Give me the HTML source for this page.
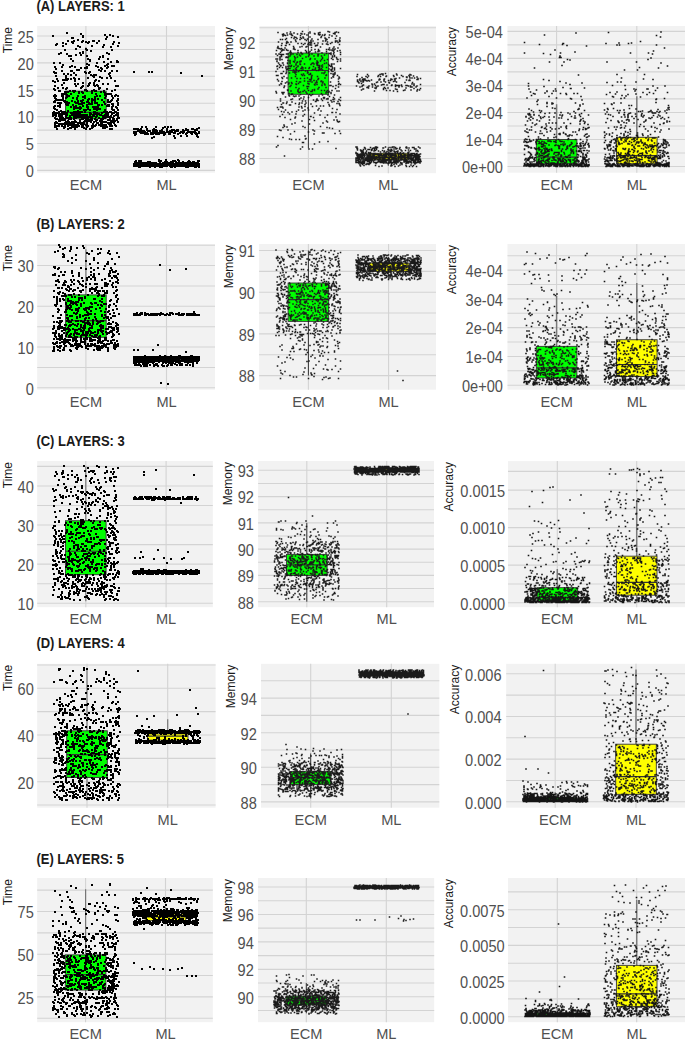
<!DOCTYPE html>
<html><head><meta charset="utf-8"><style>
html,body{margin:0;padding:0;background:#fff;width:685px;height:1041px;overflow:hidden}
svg{display:block}
.tk{font-family:"Liberation Sans",sans-serif;font-size:14.6px;fill:#505050}
.yt{font-family:"Liberation Sans",sans-serif;font-size:12px;fill:#1a1a1a}
.ti{font-family:"Liberation Sans",sans-serif;font-size:13px;font-weight:bold;fill:#1a1a1a}
</style></head><body>
<svg width="685" height="1041" viewBox="0 0 685 1041">
<rect width="685" height="1041" fill="#fff"/>
<rect x="37.2" y="26" width="177.8" height="146.7" fill="#F2F2F2"/>
<path d="M37.2 170.40H215M37.2 156.96H215M37.2 143.52H215M37.2 130.08H215M37.2 116.64H215M37.2 103.20H215M37.2 89.76H215M37.2 76.32H215M37.2 62.88H215M37.2 49.44H215M37.2 36.00H215M85.90 26V172.7M166.50 26V172.7" stroke="#D3D3D3" stroke-width="1.1" fill="none"/>
<clipPath id="c0"><rect x="37.2" y="26" width="177.8" height="146.7"/></clipPath>
<g clip-path="url(#c0)">
<path d="M85.90 91.10V47.29M85.90 118.79V127.93" stroke="#777" stroke-width="1.2" fill="none"/>
<rect x="65.60" y="91.10" width="40.60" height="27.69" fill="#00FF00" stroke="#333" stroke-width="0.9"/>
<path d="M65.60 112.34H106.20" stroke="#333" stroke-width="1.2"/>
<path d="M166.50 163.41V161.80M166.50 165.29V166.64" stroke="#777" stroke-width="1.2" fill="none"/>
<rect x="146.20" y="163.41" width="40.60" height="1.88" fill="#FFFF00" stroke="#333" stroke-width="0.9"/>
<path d="M146.20 164.49H186.80" stroke="#333" stroke-width="1.2"/>
<path d="M67 33h0m14 1h0m24 1h0m5 0h0m-57 1h0m30 0h0m30 0h0m-30 1h0m24 0h0m11 0h0m-46 1h0m1 0h0m33 1h0m-28 1h0m-10 1h0m6 0h0m9 0h0m10 0h0m1 0h0m5 0h0m-27 1h0m10 0h0m0 0h0m4 0h0m3 0h0m25 0h0m-51 1h0m10 0h0m15 0h0m9 0h0m22 0h0m-62 1h0m9 0h0m47 0h0m-57 1h0m48 0h0m-41 1h0m15 0h0m14 0h0m26 0h0m-38 1h0m23 0h0m8 0h0m-35 2h0m0 0h0m10 0h0m-21 1h0m22 0h0m25 0h0m-21 1h0m-8 1h0m-22 1h0m19 0h0m3 0h0m24 0h0m-48 1h0m8 0h0m42 0h0m-33 1h0m5 0h0m-12 1h0m2 0h0m16 0h0m16 0h0m-3 1h0m3 0h0m-32 2h0m17 0h0m11 0h0m9 0h0m-18 1h0m-17 1h0m17 0h0m27 0h0m-13 1h0m7 0h0m6 0h0m1 0h0m-64 1h0m6 0h0m37 0h0m-10 1h0m21 0h0m-45 1h0m26 0h0m0 0h0m18 0h0m-35 1h0m24 0h0m9 0h0m7 0h0m1 0h0m1 0h0m-59 1h0m7 0h0m8 0h0m5 0h0m12 0h0m11 0h0m0 0h0m10 0h0m-27 1h0m4 0h0m2 0h0m14 0h0m6 0h0m-51 1h0m46 0h0m-25 1h0m2 0h0m20 0h0m-37 1h0m9 0h0m1 0h0m29 0h0m4 0h0m7 0h0m5 0h0m-63 1h0m31 0h0m5 0h0m-35 1h0m1 0h0m18 0h0m12 0h0m3 0h0m21 0h0m-46 1h0m4 0h0m41 0h0m-38 1h0m5 0h0m15 0h0m3 0h0m2 0h0m-40 1h0m0 0h0m10 0h0m27 0h0m17 0h0m-16 1h0m6 0h0m-34 1h0m8 0h0m14 0h0m14 0h0m5 0h0m4 0h0m-54 1h0m11 0h0m3 0h0m4 0h0m4 0h0m-16 1h0m1 0h0m1 0h0m2 0h0m29 0h0m-43 1h0m5 0h0m17 0h0m20 0h0m4 0h0m16 0h0m-60 1h0m9 1h0m19 0h0m7 0h0m4 0h0m-19 1h0m3 0h0m11 0h0m14 0h0m5 0h0m-46 1h0m27 0h0m5 0h0m3 0h0m-42 1h0m21 0h0m7 0h0m5 0h0m7 0h0m3 0h0m18 0h0m2 0h0m-36 1h0m-24 1h0m5 0h0m4 0h0m14 0h0m18 0h0m1 0h0m-46 1h0m12 0h0m33 0h0m8 0h0m-52 1h0m30 0h0m1 0h0m8 0h0m21 0h0m0 0h0m-56 1h0m1 0h0m10 0h0m3 0h0m2 0h0m12 0h0m5 0h0m3 0h0m1 0h0m8 0h0m8 0h0m-47 1h0m2 0h0m1 0h0m6 0h0m5 0h0m3 0h0m10 0h0m9 0h0m3 0h0m-25 1h0m4 0h0m9 0h0m13 0h0m-43 1h0m1 0h0m1 0h0m0 0h0m2 0h0m5 0h0m25 0h0m10 0h0m2 0h0m2 0h0m1 0h0m-56 1h0m12 0h0m38 0h0m11 0h0m-62 1h0m2 0h0m6 0h0m1 0h0m6 0h0m9 0h0m7 0h0m12 0h0m3 0h0m6 0h0m6 0h0m3 0h0m3 0h0m-55 1h0m4 0h0m16 0h0m12 0h0m-40 1h0m11 0h0m7 0h0m4 0h0m8 0h0m20 0h0m8 0h0m-57 1h0m7 0h0m14 0h0m12 0h0m3 0h0m3 0h0m3 0h0m20 0h0m-62 1h0m2 0h0m2 0h0m2 0h0m21 0h0m5 0h0m4 0h0m1 0h0m9 0h0m6 0h0m4 0h0m6 0h0m-63 1h0m9 0h0m1 0h0m0 0h0m7 0h0m6 0h0m3 0h0m0 0h0m7 0h0m7 0h0m13 0h0m3 0h0m6 0h0m0 0h0m-63 1h0m0 0h0m0 0h0m1 0h0m10 0h0m2 0h0m8 0h0m7 0h0m5 0h0m5 0h0m12 0h0m4 0h0m2 0h0m-52 1h0m1 0h0m2 0h0m7 0h0m1 0h0m7 0h0m2 0h0m5 0h0m1 0h0m5 0h0m6 0h0m2 0h0m21 0h0m-52 1h0m13 0h0m1 0h0m2 0h0m7 0h0m2 0h0m1 0h0m13 0h0m7 0h0m1 0h0m-53 1h0m7 0h0m1 0h0m5 0h0m14 0h0m11 0h0m1 0h0m3 0h0m6 0h0m1 0h0m9 0h0m-63 1h0m0 0h0m3 0h0m1 0h0m17 0h0m7 0h0m24 0h0m1 0h0m1 0h0m4 0h0m-59 1h0m6 0h0m0 0h0m11 0h0m3 0h0m1 0h0m5 0h0m7 0h0m1 0h0m5 0h0m2 0h0m1 0h0m2 0h0m14 0h0m4 0h0m-62 1h0m22 0h0m1 0h0m2 0h0m2 0h0m36 0h0m-62 1h0m19 0h0m6 0h0m8 0h0m6 0h0m2 0h0m2 0h0m2 0h0m12 0h0m-55 1h0m27 0h0m2 0h0m4 0h0m7 0h0m8 0h0m8 0h0m1 0h0m4 0h0m-57 1h0m7 0h0m10 0h0m0 0h0m27 0h0m-51 1h0m5 0h0m0 0h0m3 0h0m1 0h0m2 0h0m9 0h0m0 0h0m2 0h0m4 0h0m2 0h0m3 0h0m9 0h0m1 0h0m9 0h0m2 0h0m1 0h0m0 0h0m3 0h0m1 0h0m4 0h0m0 0h0m1 0h0m-63 1h0m1 0h0m1 0h0m1 0h0m2 0h0m4 0h0m4 0h0m1 0h0m4 0h0m0 0h0m2 0h0m5 0h0m0 0h0m2 0h0m10 0h0m4 0h0m3 0h0m0 0h0m0 0h0m5 0h0m0 0h0m5 0h0m1 0h0m5 0h0m1 0h0m3 0h0m0 0h0m0 0h0m1 0h0m-63 1h0m1 0h0m0 0h0m3 0h0m2 0h0m2 0h0m1 0h0m10 0h0m2 0h0m2 0h0m1 0h0m0 0h0m1 0h0m10 0h0m0 0h0m1 0h0m4 0h0m0 0h0m0 0h0m2 0h0m2 0h0m7 0h0m1 0h0m1 0h0m0 0h0m4 0h0m0 0h0m-59 1h0m1 0h0m5 0h0m0 0h0m3 0h0m4 0h0m1 0h0m5 0h0m1 0h0m2 0h0m1 0h0m2 0h0m0 0h0m2 0h0m2 0h0m2 0h0m2 0h0m1 0h0m0 0h0m3 0h0m0 0h0m3 0h0m0 0h0m4 0h0m3 0h0m1 0h0m4 0h0m1 0h0m2 0h0m8 0h0m2 0h0m0 0h0m-65 1h0m3 0h0m3 0h0m1 0h0m0 0h0m0 0h0m10 0h0m4 0h0m0 0h0m0 0h0m2 0h0m0 0h0m1 0h0m0 0h0m4 0h0m5 0h0m4 0h0m3 0h0m0 0h0m1 0h0m0 0h0m3 0h0m0 0h0m6 0h0m1 0h0m1 0h0m1 0h0m2 0h0m0 0h0m3 0h0m3 0h0m4 0h0m0 0h0m-57 1h0m1 0h0m4 0h0m8 0h0m2 0h0m2 0h0m0 0h0m0 0h0m2 0h0m2 0h0m1 0h0m0 0h0m1 0h0m1 0h0m3 0h0m2 0h0m1 0h0m5 0h0m8 0h0m2 0h0m2 0h0m2 0h0m1 0h0m0 0h0m7 0h0m0 0h0m-63 1h0m5 0h0m1 0h0m2 0h0m3 0h0m1 0h0m2 0h0m2 0h0m0 0h0m3 0h0m1 0h0m1 0h0m8 0h0m1 0h0m2 0h0m5 0h0m7 0h0m4 0h0m0 0h0m2 0h0m5 0h0m3 0h0m0 0h0m6 0h0m-63 1h0m1 0h0m0 0h0m7 0h0m5 0h0m2 0h0m3 0h0m8 0h0m1 0h0m0 0h0m0 0h0m3 0h0m0 0h0m1 0h0m1 0h0m3 0h0m4 0h0m6 0h0m1 0h0m0 0h0m1 0h0m7 0h0m0 0h0m3 0h0m1 0h0m3 0h0m0 0h0m-58 1h0m1 0h0m2 0h0m2 0h0m1 0h0m15 0h0m0 0h0m7 0h0m2 0h0m0 0h0m3 0h0m4 0h0m1 0h0m4 0h0m7 0h0m1 0h0m4 0h0m4 0h0m-58 1h0m1 0h0m0 0h0m8 0h0m7 0h0m10 0h0m3 0h0m1 0h0m1 0h0m6 0h0m4 0h0m1 0h0m1 0h0m9 0h0m3 0h0m1 0h0m-59 1h0m10 0h0m3 0h0m3 0h0m2 0h0m2 0h0m4 0h0m0 0h0m4 0h0m3 0h0m4 0h0m3 0h0m9 0h0m1 0h0m1 0h0m1 0h0m6 0h0m0 0h0m2 0h0m4 0h0m-63 1h0m2 0h0m0 0h0m8 0h0m2 0h0m2 0h0m2 0h0m1 0h0m0 0h0m6 0h0m2 0h0m1 0h0m2 0h0m14 0h0m1 0h0m3 0h0m7 0h0m0 0h0m0 0h0m1 0h0m1 0h0m4 0h0m0 0h0m-55 1h0m1 0h0m2 0h0m0 0h0m1 0h0m1 0h0m0 0h0m3 0h0m1 0h0m3 0h0m3 0h0m4 0h0m3 0h0m1 0h0m2 0h0m0 0h0m3 0h0m6 0h0m9 0h0m7 0h0m2 0h0m-56 1h0m10 0h0m3 0h0m1 0h0m2 0h0m1 0h0m0 0h0m1 0h0m2 0h0m2 0h0m5 0h0m4 0h0m1 0h0m9 0h0m3 0h0m1 0h0m2 0h0m2 0h0m2 0h0m0 0h0m9 0h0m-58 1h0m0 0h0m1 0h0m1 0h0m0 0h0m3 0h0m6 0h0m4 0h0m1 0h0m0 0h0m3 0h0m1 0h0m2 0h0m4 0h0m5 0h0m4 0h0m1 0h0m1 0h0m1 0h0m6 0h0m1 0h0m3 0h0m5 0h0m1 0h0m1 0h0m0 0h0m4 0h0m-61 1h0m1 0h0m8 0h0m1 0h0m0 0h0m8 0h0m2 0h0m0 0h0m2 0h0m5 0h0m0 0h0m5 0h0m6 0h0m0 0h0m10 0h0m3 0h0m1 0h0m-43 1h0m6 0h0m1 0h0m4 0h0m9 0h0m8 0h0m11 0h0m2 0h0m-48 1h0m11 0h0m7 0h0m11 0h0m4 0h0m20 0h0m2 0h0" stroke="#000" stroke-width="2.0" stroke-linecap="square" fill="none"/>
<path d="M134 72h0m15 0h0m3 0h0m29 1h0m21 3h0m-60 51h0m4 0h0m10 0h0m9 0h0m3 0h0m3 0h0m0 0h0m-8 1h0m36 0h0m-65 1h0m0 0h0m2 0h0m2 0h0m3 0h0m6 0h0m7 0h0m13 0h0m19 0h0m0 0h0m6 0h0m1 0h0m4 0h0m0 0h0m-58 1h0m1 0h0m7 0h0m6 0h0m3 0h0m6 0h0m5 0h0m5 0h0m2 0h0m3 0h0m1 0h0m5 0h0m0 0h0m3 0h0m2 0h0m0 0h0m7 0h0m2 0h0m-59 1h0m0 0h0m4 0h0m1 0h0m1 0h0m4 0h0m0 0h0m1 0h0m0 0h0m1 0h0m3 0h0m0 0h0m1 0h0m3 0h0m3 0h0m1 0h0m9 0h0m2 0h0m0 0h0m3 0h0m2 0h0m1 0h0m0 0h0m0 0h0m5 0h0m1 0h0m11 0h0m0 0h0m-61 1h0m2 0h0m4 0h0m0 0h0m2 0h0m3 0h0m9 0h0m1 0h0m8 0h0m1 0h0m3 0h0m2 0h0m2 0h0m0 0h0m1 0h0m3 0h0m6 0h0m1 0h0m2 0h0m4 0h0m1 0h0m1 0h0m2 0h0m1 0h0m0 0h0m1 0h0m5 0h0m-65 1h0m2 0h0m5 0h0m2 0h0m0 0h0m2 0h0m0 0h0m2 0h0m4 0h0m2 0h0m1 0h0m3 0h0m1 0h0m2 0h0m1 0h0m1 0h0m1 0h0m2 0h0m4 0h0m5 0h0m1 0h0m5 0h0m3 0h0m4 0h0m0 0h0m4 0h0m4 0h0m0 0h0m1 0h0m3 0h0m-63 1h0m9 0h0m1 0h0m2 0h0m3 0h0m2 0h0m3 0h0m1 0h0m1 0h0m1 0h0m6 0h0m4 0h0m1 0h0m0 0h0m8 0h0m8 0h0m6 0h0m0 0h0m4 0h0m1 0h0m0 0h0m-62 1h0m29 0h0m10 1h0m7 0h0m6 0h0m10 0h0m-43 1h0m44 0h0m-46 1h0m23 0h0m0 0h0m-16 22h0m7 0h0m0 0h0m12 0h0m-42 1h0m3 0h0m2 0h0m18 0h0m1 0h0m0 0h0m1 0h0m5 0h0m7 0h0m2 0h0m4 0h0m10 0h0m9 0h0m1 0h0m-64 1h0m13 0h0m2 0h0m15 0h0m2 0h0m4 0h0m0 0h0m5 0h0m7 0h0m5 0h0m2 0h0m3 0h0m1 0h0m4 0h0m-63 1h0m1 0h0m1 0h0m1 0h0m1 0h0m1 0h0m1 0h0m0 0h0m0 0h0m1 0h0m0 0h0m1 0h0m0 0h0m0 0h0m1 0h0m0 0h0m0 0h0m0 0h0m1 0h0m0 0h0m1 0h0m0 0h0m3 0h0m0 0h0m1 0h0m0 0h0m1 0h0m1 0h0m0 0h0m1 0h0m0 0h0m1 0h0m1 0h0m0 0h0m1 0h0m4 0h0m0 0h0m0 0h0m3 0h0m0 0h0m0 0h0m1 0h0m0 0h0m1 0h0m0 0h0m2 0h0m0 0h0m0 0h0m2 0h0m0 0h0m1 0h0m1 0h0m0 0h0m0 0h0m1 0h0m1 0h0m3 0h0m0 0h0m0 0h0m0 0h0m1 0h0m1 0h0m0 0h0m0 0h0m0 0h0m1 0h0m0 0h0m1 0h0m0 0h0m0 0h0m1 0h0m1 0h0m1 0h0m0 0h0m0 0h0m1 0h0m1 0h0m0 0h0m1 0h0m1 0h0m0 0h0m0 0h0m0 0h0m0 0h0m0 0h0m3 0h0m0 0h0m1 0h0m1 0h0m0 0h0m0 0h0m1 0h0m0 0h0m0 0h0m1 0h0m0 0h0m0 0h0m1 0h0m1 0h0m2 0h0m-64 1h0m0 0h0m1 0h0m0 0h0m1 0h0m1 0h0m0 0h0m0 0h0m0 0h0m0 0h0m0 0h0m2 0h0m0 0h0m0 0h0m2 0h0m0 0h0m1 0h0m0 0h0m0 0h0m1 0h0m0 0h0m0 0h0m1 0h0m0 0h0m0 0h0m0 0h0m0 0h0m1 0h0m1 0h0m0 0h0m0 0h0m0 0h0m1 0h0m0 0h0m0 0h0m0 0h0m1 0h0m0 0h0m1 0h0m1 0h0m0 0h0m0 0h0m0 0h0m0 0h0m1 0h0m0 0h0m0 0h0m0 0h0m1 0h0m1 0h0m0 0h0m0 0h0m0 0h0m0 0h0m1 0h0m0 0h0m0 0h0m0 0h0m0 0h0m0 0h0m1 0h0m0 0h0m0 0h0m1 0h0m0 0h0m0 0h0m0 0h0m1 0h0m0 0h0m0 0h0m1 0h0m0 0h0m0 0h0m1 0h0m0 0h0m1 0h0m1 0h0m0 0h0m0 0h0m1 0h0m0 0h0m1 0h0m0 0h0m1 0h0m1 0h0m0 0h0m1 0h0m0 0h0m0 0h0m0 0h0m1 0h0m1 0h0m1 0h0m0 0h0m0 0h0m0 0h0m1 0h0m0 0h0m0 0h0m0 0h0m0 0h0m1 0h0m0 0h0m0 0h0m0 0h0m1 0h0m1 0h0m0 0h0m1 0h0m1 0h0m0 0h0m1 0h0m0 0h0m1 0h0m0 0h0m1 0h0m1 0h0m0 0h0m1 0h0m1 0h0m0 0h0m0 0h0m1 0h0m0 0h0m0 0h0m1 0h0m0 0h0m0 0h0m1 0h0m1 0h0m0 0h0m0 0h0m0 0h0m1 0h0m1 0h0m2 0h0m0 0h0m1 0h0m0 0h0m1 0h0m0 0h0m1 0h0m0 0h0m0 0h0m1 0h0m0 0h0m1 0h0m0 0h0m0 0h0m2 0h0m0 0h0m0 0h0m2 0h0m0 0h0m1 0h0m-65 1h0m0 0h0m0 0h0m1 0h0m0 0h0m1 0h0m0 0h0m0 0h0m1 0h0m0 0h0m0 0h0m0 0h0m1 0h0m0 0h0m0 0h0m0 0h0m0 0h0m1 0h0m0 0h0m2 0h0m0 0h0m1 0h0m0 0h0m0 0h0m1 0h0m0 0h0m2 0h0m0 0h0m0 0h0m0 0h0m1 0h0m0 0h0m1 0h0m0 0h0m0 0h0m1 0h0m0 0h0m0 0h0m1 0h0m0 0h0m1 0h0m0 0h0m1 0h0m0 0h0m1 0h0m0 0h0m0 0h0m0 0h0m0 0h0m3 0h0m0 0h0m0 0h0m1 0h0m1 0h0m1 0h0m0 0h0m1 0h0m0 0h0m0 0h0m0 0h0m0 0h0m0 0h0m1 0h0m1 0h0m1 0h0m1 0h0m2 0h0m1 0h0m0 0h0m0 0h0m0 0h0m1 0h0m0 0h0m0 0h0m0 0h0m0 0h0m1 0h0m0 0h0m1 0h0m0 0h0m1 0h0m1 0h0m1 0h0m0 0h0m1 0h0m0 0h0m1 0h0m1 0h0m0 0h0m1 0h0m0 0h0m0 0h0m1 0h0m0 0h0m0 0h0m1 0h0m0 0h0m0 0h0m0 0h0m0 0h0m0 0h0m1 0h0m0 0h0m0 0h0m0 0h0m1 0h0m0 0h0m0 0h0m1 0h0m0 0h0m1 0h0m2 0h0m0 0h0m1 0h0m0 0h0m0 0h0m1 0h0m1 0h0m1 0h0m0 0h0m0 0h0m1 0h0m1 0h0m0 0h0m0 0h0m0 0h0m0 0h0m1 0h0m0 0h0m0 0h0m0 0h0m1 0h0m0 0h0m1 0h0m1 0h0m0 0h0m0 0h0m1 0h0m0 0h0m0 0h0m0 0h0m0 0h0m1 0h0m1 0h0m0 0h0m1 0h0m0 0h0m0 0h0m1 0h0m0 0h0m-65 1h0m1 0h0m0 0h0m0 0h0m1 0h0m1 0h0m0 0h0m0 0h0m0 0h0m0 0h0m2 0h0m2 0h0m0 0h0m1 0h0m0 0h0m0 0h0m1 0h0m0 0h0m0 0h0m0 0h0m1 0h0m0 0h0m1 0h0m1 0h0m1 0h0m1 0h0m2 0h0m0 0h0m1 0h0m0 0h0m0 0h0m0 0h0m1 0h0m0 0h0m1 0h0m1 0h0m0 0h0m1 0h0m0 0h0m1 0h0m1 0h0m1 0h0m1 0h0m1 0h0m1 0h0m0 0h0m0 0h0m0 0h0m0 0h0m1 0h0m1 0h0m0 0h0m1 0h0m0 0h0m0 0h0m1 0h0m1 0h0m0 0h0m1 0h0m0 0h0m0 0h0m3 0h0m0 0h0m0 0h0m0 0h0m1 0h0m1 0h0m0 0h0m1 0h0m1 0h0m0 0h0m2 0h0m1 0h0m1 0h0m1 0h0m0 0h0m0 0h0m2 0h0m1 0h0m0 0h0m0 0h0m1 0h0m1 0h0m1 0h0m1 0h0m0 0h0m0 0h0m1 0h0m0 0h0m1 0h0m1 0h0m1 0h0m0 0h0m0 0h0m1 0h0m0 0h0m0 0h0m1 0h0m0 0h0m1 0h0m3 0h0m0 0h0m0 0h0m1 0h0m0 0h0m1 0h0m0 0h0m1 0h0m0 0h0m0 0h0m-60 1h0m1 0h0m10 0h0m5 0h0m0 0h0m5 0h0m2 0h0m9 0h0m1 0h0m3 0h0m11 0h0m2 0h0m7 0h0m1 0h0m3 0h0" stroke="#000" stroke-width="2.0" stroke-linecap="square" fill="none"/>
</g>
<text transform="translate(33.8,177.2) scale(1,1.16)" class="tk" text-anchor="end">0</text>
<text transform="translate(33.8,150.3) scale(1,1.16)" class="tk" text-anchor="end">5</text>
<text transform="translate(33.8,123.4) scale(1,1.16)" class="tk" text-anchor="end">10</text>
<text transform="translate(33.8,96.6) scale(1,1.16)" class="tk" text-anchor="end">15</text>
<text transform="translate(33.8,69.7) scale(1,1.16)" class="tk" text-anchor="end">20</text>
<text transform="translate(33.8,42.8) scale(1,1.16)" class="tk" text-anchor="end">25</text>
<text transform="translate(85.9,189.7) scale(1,1.04)" class="tk" text-anchor="middle">ECM</text>
<text transform="translate(166.5,189.7) scale(1,1.04)" class="tk" text-anchor="middle">ML</text>
<text transform="translate(12.0,27.0) rotate(-90)" class="yt" text-anchor="end">Time</text>
<text transform="translate(36.4,11.2) scale(1,1.15)" class="ti">(A) LAYERS: 1</text>
<rect x="259.5" y="26" width="176.5" height="147.2" fill="#F2F2F2"/>
<path d="M259.5 158.50H436M259.5 143.97H436M259.5 129.45H436M259.5 114.92H436M259.5 100.40H436M259.5 85.88H436M259.5 71.35H436M259.5 56.83H436M259.5 42.30H436M259.5 27.78H436M308.40 26V173.2M388.30 26V173.2" stroke="#D3D3D3" stroke-width="1.1" fill="none"/>
<clipPath id="c1"><rect x="259.5" y="26" width="176.5" height="147.2"/></clipPath>
<g clip-path="url(#c1)">
<path d="M308.40 53.05V32.13M308.40 94.30V148.33" stroke="#333" stroke-width="1.0" fill="none"/>
<rect x="288.10" y="53.05" width="40.60" height="41.25" fill="#00FF00" stroke="#333" stroke-width="0.9"/>
<path d="M288.10 70.48H328.70" stroke="#333" stroke-width="1.2"/>
<path d="M388.30 153.27V146.88M388.30 159.95V165.76" stroke="#333" stroke-width="1.0" fill="none"/>
<rect x="368.00" y="153.27" width="40.60" height="6.68" fill="#FFFF00" stroke="#333" stroke-width="0.9"/>
<path d="M368.00 157.05H408.60" stroke="#333" stroke-width="1.2"/>
<path d="M302.5 31.5h0m25.5 0h0m-37.5 0.5h0m19.5 0h0m19.5 0h0m7 0h0m-58.5 0.5h0m42 0h0m15 0h0m3.5 0h0m-51.5 0.5h0m7 0h0m16 0h0m8.5 0h0m-17.5 0.5h0m13.5 0h0m19 0h0m-50 0.5h0m6.5 0h0m0.5 0h0m1 0h0m6 0h0m4.5 0h0m2.5 0h0m10.5 0h0m20 0h0m-52.5 0.5h0m36 0h0m1.5 0h0m5 0h0m-42 0.5h0m1 0h0m3.5 0h0m4 0h0m15.5 0h0m12.5 0h0m0 0h0m3 0h0m7 0h0m-44 0.5h0m7 0h0m8 0h0m24 0h0m-41.5 0.5h0m49 0h0m4.5 0h0m-15 0.5h0m-27 0.5h0m8.5 0h0m7 0h0m-18.5 0.5h0m4.5 0h0m4.5 0h0m20.5 0h0m8 0h0m-25.5 0.5h0m21.5 0h0m15 0h0m-53.5 0.5h0m7.5 0h0m3 0h0m4.5 0h0m24 0h0m0 0h0m10 0h0m-28 0.5h0m4.5 0h0m14 0h0m-45.5 0.5h0m2 0h0m3 0h0m14.5 0h0m5 0h0m13 0h0m9 0h0m-31.5 0.5h0m30.5 0h0m13.5 0h0m-33 0.5h0m4.5 0h0m2 0.5h0m10 0h0m2.5 0h0m10 0h0m0 0h0m1.5 0h0m3 0h0m-53 0.5h0m9 0h0m15 0h0m28.5 0h0m-61 0.5h0m12.5 0h0m36.5 0h0m8 0h0m-49 0.5h0m1.5 0h0m21.5 0h0m22.5 0h0m6 0h0m-27 0.5h0m0.5 0h0m6.5 0h0m-36 0.5h0m4.5 0h0m11.5 0h0m3.5 0h0m3.5 0h0m3.5 0h0m6 0h0m16 0h0m-8 0.5h0m4 0h0m0.5 0h0m-37.5 0.5h0m14 0h0m4.5 0h0m2 0h0m18 0h0m11.5 0h0m-29.5 0.5h0m1.5 0h0m6 0h0m-36 0.5h0m4 0h0m0.5 0h0m29.5 0h0m1.5 0h0m-1.5 0.5h0m-37.5 0.5h0m15.5 0h0m8.5 0h0m5 0h0m-29 0.5h0m22 0h0m6 0h0m14.5 0h0m13.5 0h0m-22.5 0.5h0m-34 0.5h0m7.5 0h0m9 0h0m35.5 0h0m8.5 0h0m-59 0.5h0m2.5 0h0m51.5 0h0m-52.5 0.5h0m13 0h0m41.5 0h0m-52.5 0.5h0m4 0h0m8.5 0h0m20 0h0m3.5 0h0m8 0h0m2 0h0m-46 0.5h0m1.5 0h0m2.5 0h0m25 0h0m18.5 0h0m0 0h0m2 0h0m2 0h0m-57.5 0.5h0m5.5 0h0m6 0h0m10 0h0m7.5 0h0m26.5 0h0m8 0h0m-58.5 0.5h0m9 0h0m28 0h0m1 0h0m14 0h0m4 0h0m-31 0.5h0m3.5 0h0m8 0h0m8.5 0h0m-11 0.5h0m-35 0.5h0m9.5 0h0m1 0h0m7 0h0m3 0h0m5.5 0h0m2.5 0h0m25 0h0m6.5 0h0m-49.5 0.5h0m17.5 0h0m13.5 0h0m9 0h0m-29.5 0.5h0m25 0h0m3 0h0m-53.5 0.5h0m3 0h0m7.5 0h0m1.5 0h0m5 0h0m9 0h0m0.5 0h0m9.5 0h0m21.5 0h0m-53 0.5h0m1.5 0h0m1.5 0h0m7 0h0m0.5 0h0m6 0h0m12.5 0h0m8.5 0h0m0.5 0h0m12.5 0h0m9.5 0h0m-41 0.5h0m9.5 0h0m15.5 0h0m-47 0.5h0m57 0h0m-53 0.5h0m8.5 0h0m10.5 0h0m13.5 0h0m4 0h0m3.5 0h0m11 0h0m-51 0.5h0m13 0h0m14 0h0m26 0h0m-54.5 0.5h0m6.5 0h0m2 0h0m9 0h0m8.5 0h0m26.5 0h0m-46.5 0.5h0m1.5 0h0m35 0h0m14 0h0m-41.5 0.5h0m0.5 0h0m-15.5 0.5h0m22.5 0h0m8 0h0m12 0h0m9 0h0m-55.5 0.5h0m1.5 0h0m37.5 0h0m22 0h0m3.5 0h0m-58.5 0.5h0m28 0h0m11.5 0h0m6 0h0m5.5 0h0m5 0h0m-58 0.5h0m15 0h0m-7 0.5h0m2 0h0m34.5 0h0m-47.5 0.5h0m13 0h0m11 0h0m16 0h0m3.5 0h0m20 0h0m-63.5 0.5h0m16.5 0h0m6.5 0h0m1 0h0m36.5 0h0m-43 0.5h0m3 0h0m2.5 0h0m17.5 0h0m-27.5 0.5h0m7 0h0m21 0h0m-39.5 0.5h0m4 0h0m0.5 0h0m4.5 0h0m25.5 0h0m3.5 0h0m10 0h0m-39 0.5h0m2.5 0h0m22 0h0m5 0h0m7.5 0h0m-28.5 0.5h0m4 0h0m4.5 0h0m0 0h0m9.5 0h0m3.5 0h0m14 0h0m0.5 0h0m2 0h0m-54.5 0.5h0m21 0h0m10.5 0h0m17.5 0h0m-45 0.5h0m12.5 0h0m21 0h0m5.5 0h0m-41.5 0.5h0m10.5 0h0m26.5 0h0m1.5 0h0m10 0h0m2 0h0m-54 0.5h0m3 0h0m9 0h0m8.5 0h0m23.5 0h0m-44.5 0.5h0m9 0h0m2 0h0m3 0h0m3 0h0m4 0h0m15.5 0h0m6 0h0m11 0h0m1.5 0h0m-30 0.5h0m17.5 0h0m3 0h0m-43 0.5h0m3 0h0m14 0h0m13 0h0m9 0h0m8 0h0m-40.5 0.5h0m17 0h0m2.5 0h0m10 0h0m4 0h0m13 0h0m2 0h0m-46.5 0.5h0m1 0h0m1 0h0m11 0h0m0.5 0h0m7.5 0h0m12.5 0h0m13 0h0m6 0h0m-63 0.5h0m18 0h0m26 0h0m7.5 0h0m5.5 0h0m-48 0.5h0m1 0h0m9 0h0m16 0h0m0.5 0h0m2 0h0m4 0h0m1 0h0m11 0h0m1 0h0m-45.5 0.5h0m7 0h0m3 0h0m6.5 0h0m19.5 0h0m8.5 0h0m3.5 0h0m-35 0.5h0m2 0h0m15 0h0m2 0h0m-13 0.5h0m2 0h0m0 0h0m24 0h0m-55.5 0.5h0m7.5 0h0m11.5 0h0m3.5 0h0m30 0h0m4.5 0h0m-46.5 0.5h0m6.5 0h0m1 0h0m2.5 0h0m28.5 0h0m-17 0.5h0m27 0h0m-45.5 0.5h0m5.5 0h0m12.5 0h0m14.5 0h0m2 0h0m-43 0.5h0m1 0h0m4 0h0m24.5 0h0m13.5 0h0m7 0h0m-27.5 0.5h0m29.5 0h0m1 0h0m1 0h0m-39 0.5h0m5.5 0h0m7.5 0h0m1.5 0h0m23 0h0m-7 0.5h0m7.5 0h0m-57.5 0.5h0m1.5 0h0m24.5 0h0m2 0h0m7.5 0h0m14 0h0m11.5 0h0m-53.5 1h0m11.5 0h0m22 0h0m15.5 0h0m-21.5 0.5h0m22 0h0m5.5 0h0m-57 0.5h0m5 0.5h0m4.5 0h0m16 0h0m17.5 0h0m6.5 0h0m8 0h0m-57 0.5h0m14.5 0h0m3.5 0h0m4 0h0m7 0h0m7 0h0m20 0.5h0m-61 0.5h0m32 0h0m1 0h0m7.5 0h0m-7 0.5h0m3 0.5h0m-35.5 0.5h0m26 0h0m12 0h0m5 0h0m-39.5 0.5h0m14.5 0h0m11.5 0h0m2 0h0m11 0h0m17.5 0h0m-51.5 0.5h0m12.5 0h0m1 0h0m11.5 0h0m11 0h0m7.5 0h0m-39 0.5h0m25.5 0h0m-31.5 0.5h0m3.5 0h0m26.5 0h0m7 0h0m-41.5 0.5h0m11 0h0m6.5 0h0m9.5 0h0m31 0h0m-57.5 0.5h0m7 0h0m7.5 0h0m13 0h0m15.5 0h0m-28 0.5h0m18 0h0m2.5 0h0m21.5 0h0m2 0h0m0 0h0m-61 0.5h0m0 0h0m35.5 0h0m7 0h0m3 0h0m-34 0.5h0m12.5 0h0m18.5 0h0m8 0h0m1 0h0m5 0h0m-51.5 0.5h0m5.5 0.5h0m17 0h0m1.5 0h0m24.5 0h0m5.5 0.5h0m-54.5 0.5h0m12 0h0m23 0h0m7 0h0m-27 1h0m8.5 0h0m28 0h0m-17.5 0.5h0m-3.5 0.5h0m-27 0.5h0m0.5 0h0m10 0h0m14.5 0h0m2 0h0m-26.5 0.5h0m16.5 0h0m4 0h0m6 0h0m7 0h0m3 0h0m3 0h0m4.5 0h0m-41 0.5h0m46 0h0m2 0h0m-63 0.5h0m22 0h0m5 0h0m8 0h0m1 0h0m14.5 0h0m2.5 0h0m-28.5 0.5h0m5.5 0h0m23 0h0m-47 0.5h0m1.5 0h0m0.5 0h0m15 0h0m29 0h0m3 0h0m-54.5 0.5h0m6 0h0m43.5 0h0m-37 0.5h0m18 0h0m14.5 0h0m9.5 0h0m-48 0.5h0m8.5 0h0m1 0h0m-1 0.5h0m9 0h0m9 0h0m3 0h0m10 0.5h0m5.5 0h0m6.5 0h0m-45.5 0.5h0m22 0h0m-21.5 0.5h0m4 0h0m2.5 0h0m3 0h0m20 0h0m-24.5 0.5h0m35 0h0m-44 0.5h0m18.5 0h0m4.5 0.5h0m15 0h0m1 0h0m9 0h0m7 0h0m-39.5 0.5h0m23 0.5h0m4 0h0m-47.5 0.5h0m12 0h0m7 0h0m4 0h0m13.5 0h0m4.5 0h0m5 0h0m1.5 0h0m6.5 0h0m-43.5 0.5h0m8.5 0h0m33.5 0h0m6 0h0m-25.5 0.5h0m3 0h0m1.5 0.5h0m4.5 0h0m8.5 0h0m9.5 0h0m-60 0.5h0m22 0h0m3 0h0m10 0.5h0m0.5 0h0m18 0h0m4 0h0m-51 0.5h0m5 0h0m40 0h0m-4 0.5h0m-45 0.5h0m0.5 0h0m16 0h0m2.5 0h0m4 0h0m-19.5 0.5h0m9 0h0m41.5 0h0m2 0h0m-28 0.5h0m28.5 0h0m-58 0.5h0m17.5 0h0m6 0h0m24 0h0m-39.5 0.5h0m1 0h0m49.5 0.5h0m-23.5 0.5h0m4 0h0m3 0h0m6 0h0m-28 0.5h0m3.5 0h0m7.5 0h0m-32 0.5h0m1.5 0h0m0.5 0h0m16.5 0h0m-21.5 0.5h0m5.5 0.5h0m19 0h0m6 0h0m11 0.5h0m13.5 0h0m-54 1h0m58.5 0h0m-51.5 0.5h0m13 0h0m6.5 0h0m3.5 0h0m9.5 0h0m-15 1h0m18 0h0m-39.5 0.5h0m15 0h0m-12.5 0.5h0m8 0h0m-4 0.5h0m44 0h0m0.5 0h0m3.5 0h0m-21.5 0.5h0m-25 1h0m6.5 0h0m44 0h0m-57.5 0.5h0m22 0h0m15.5 0.5h0m7.5 0h0m-24.5 1h0m-23 0.5h0m30.5 0h0m0.5 0h0m-15.5 0.5h0m40.5 0h0m-51 0.5h0m28.5 0h0m11.5 0h0m-30 0.5h0m-4.5 1.5h0m19 0h0m24.5 0.5h0m3 0h0m-22.5 0.5h0m-12.5 0.5h0m24.5 0h0m11 0.5h0m2 0h0m-12 0.5h0m11 0h0m-43.5 1h0m28 0h0m-31 1h0m17.5 0h0m-25.5 1h0m0.5 1.5h0m18.5 0h0m17.5 0h0m-33.5 0.5h0m-4 0.5h0m22 0h0m22 0h0m2.5 0.5h0m3 0.5h0m-53 1.5h0m8.5 0h0m25 0h0m-32 0.5h0m33.5 0.5h0m25 0h0m-45 0.5h0m14 0.5h0m14 1h0m1.5 0h0m11 0.5h0m5.5 0h0m-50 0.5h0m23.5 0h0m-9 2h0m-27.5 0.5h0m5.5 1h0m23 1h0m-16.5 0.5h0m16 0h0m-14 0.5h0m4.5 0h0m3.5 0h0m28.5 2h0m-8.5 0.5h0m-17 0.5h0m1 0h0m11 1.5h0m-36.5 1.5h0m-1.5 1.5h0m26 0h0m33.5 1.5h0m-35.5 0.5h0m8.5 0h0m3.5 0h0m-28 7h0" stroke="#1a1a1a" stroke-width="1.55" stroke-linecap="square" fill="none"/>
<path d="M385.5 73.5h0m-4 0.5h0m1.5 0h0m13.5 0h0m-39 0.5h0m10 0h0m12.5 0h0m30 0h0m-27 0.5h0m14 0h0m14 0h0m-32.5 0.5h0m15 0h0m8 0h0m7.5 0h0m-40.5 0.5h0m18 0h0m27 0h0m-56.5 0.5h0m9 0h0m12 0h0m2.5 0h0m5.5 0h0m8 0h0m9 0h0m6.5 0h0m-3 0.5h0m0.5 0h0m10 0h0m-55 0.5h0m5.5 0h0m39.5 0h0m-7.5 0.5h0m10.5 0h0m2 0h0m2.5 0h0m-18.5 0.5h0m22 0h0m2.5 0h0m-60.5 0.5h0m3.5 0h0m1.5 0h0m14.5 0h0m5 0h0m6.5 0h0m3.5 0h0m-32 0.5h0m17.5 0h0m4 0h0m8 0h0m3 0h0m22 0h0m1 0h0m-60.5 0.5h0m2 0h0m5 0h0m7 0h0m7.5 0h0m27.5 0h0m3 0h0m-46.5 0.5h0m0 0h0m3 0h0m2.5 0h0m20 0h0m2 0h0m18.5 0h0m1 0h0m-49 0.5h0m6 0h0m2.5 0h0m14.5 0h0m11 0h0m-37.5 0.5h0m3.5 0h0m2.5 0h0m30 0h0m-35 0.5h0m4.5 0h0m14.5 0h0m3.5 0h0m4.5 0h0m11 0h0m-20 0.5h0m12.5 0h0m16 0h0m7.5 0h0m-53.5 0.5h0m30.5 0h0m-28 0.5h0m10.5 0.5h0m2.5 0h0m37.5 0h0m2 0h0m-31 0.5h0m1 0h0m36.5 0h0m-57 0.5h0m9 0h0m9 0h0m5.5 0h0m5 0h0m3.5 0h0m6 0h0m-39 0.5h0m13 0h0m0 0h0m16 0h0m5.5 0h0m1.5 0h0m1 0h0m6.5 0h0m1 0h0m7 0h0m-57.5 0.5h0m12.5 0h0m9 0h0m17.5 0h0m13 0h0m2 0h0m6.5 0h0m-55 0.5h0m33.5 0h0m6.5 0h0m-42 0.5h0m8 0h0m4.5 0h0m4 0h0m22.5 0h0m11.5 0h0m1.5 0h0m4 0h0m-49 0.5h0m17.5 0h0m-16 0.5h0m6.5 0h0m13 0h0m18 0h0m-30 0.5h0m7.5 0h0m2 0h0m28.5 0h0m6.5 0h0m-57.5 0.5h0m0.5 0h0m32 0h0m-12 0.5h0m13.5 0h0m20.5 0h0m-56 0.5h0m43.5 0h0m6 0h0m8.5 0h0m-33 0.5h0m3.5 0h0m13.5 0h0m-29 0.5h0m19 0h0m23.5 0h0m-19.5 0.5h0m-41.5 55.5h0m1 0h0m18.5 0h0m1 0h0m9 0h0m7 0h0m1.5 0h0m12.5 0h0m12 0h0m-54 0.5h0m6 0h0m7 0h0m12.5 0h0m2 0h0m3.5 0h0m4.5 0h0m6 0h0m0 0h0m6.5 0h0m1.5 0h0m-49 0.5h0m8.5 0h0m1 0h0m1.5 0h0m0.5 0h0m6.5 0h0m0.5 0h0m23 0h0m0.5 0h0m2 0h0m11 0h0m0 0h0m-63 0.5h0m0.5 0h0m15 0h0m24.5 0h0m-31.5 0.5h0m28.5 0h0m2 0h0m3.5 0h0m15 0h0m1.5 0h0m-52.5 0.5h0m0 0h0m4.5 0h0m1.5 0h0m2 0h0m3 0h0m2 0h0m11.5 0h0m3 0h0m0.5 0h0m-34 0.5h0m3 0h0m11.5 0h0m17 0h0m2.5 0h0m9.5 0h0m7.5 0h0m-47.5 0.5h0m0.5 0h0m10 0h0m4 0h0m7 0h0m9.5 0h0m13.5 0h0m5 0h0m7 0h0m-56.5 0.5h0m0 0h0m0.5 0h0m1.5 0h0m3.5 0h0m7.5 0h0m4.5 0h0m0 0h0m6 0h0m5.5 0h0m1.5 0h0m2.5 0h0m4 0h0m4 0h0m14 0h0m-29 0.5h0m3.5 0h0m4 0h0m2.5 0h0m21 0h0m-56.5 0.5h0m0 0h0m19 0h0m3.5 0h0m0 0h0m11 0h0m0.5 0h0m13.5 0h0m-53 0.5h0m6 0h0m1.5 0h0m2.5 0h0m2.5 0h0m2 0h0m15.5 0h0m11.5 0h0m3 0h0m7.5 0h0m-42.5 0.5h0m4 0h0m19.5 0h0m6 0h0m8.5 0h0m-47.5 0.5h0m0.5 0h0m0.5 0h0m0.5 0h0m5 0h0m3.5 0h0m0 0h0m4.5 0h0m3.5 0h0m1 0h0m10.5 0h0m2.5 0h0m1 0h0m0 0h0m1.5 0h0m1 0h0m1.5 0h0m5.5 0h0m0.5 0h0m1.5 0h0m2 0h0m5.5 0h0m3 0h0m1.5 0h0m1.5 0h0m0 0h0m0.5 0h0m2 0h0m0 0h0m0.5 0h0m-59.5 0.5h0m3 0h0m1.5 0h0m0.5 0h0m1.5 0h0m0 0h0m0.5 0h0m2 0h0m2.5 0h0m2.5 0h0m0.5 0h0m1 0h0m0.5 0h0m1.5 0h0m2 0h0m0.5 0h0m0 0h0m1 0h0m2 0h0m1 0h0m0 0h0m5 0h0m0.5 0h0m0 0h0m3.5 0h0m0 0h0m2 0h0m2.5 0h0m1 0h0m2 0h0m2 0h0m0.5 0h0m8.5 0h0m8 0h0m3.5 0h0m0 0h0m-63.5 0.5h0m1 0h0m1 0h0m1 0h0m1.5 0h0m2.5 0h0m3 0h0m3.5 0h0m5 0h0m0.5 0h0m0.5 0h0m0.5 0h0m0.5 0h0m2 0h0m4 0h0m0 0h0m1.5 0h0m1 0h0m0 0h0m1.5 0h0m0 0h0m3 0h0m2.5 0h0m2 0h0m1 0h0m5 0h0m0.5 0h0m2.5 0h0m0 0h0m1 0h0m3.5 0h0m0.5 0h0m0.5 0h0m0.5 0h0m1.5 0h0m0.5 0h0m3.5 0h0m3.5 0h0m-61.5 0.5h0m0 0h0m5.5 0h0m6 0h0m4 0h0m0 0h0m1.5 0h0m3.5 0h0m2.5 0h0m1 0h0m3 0h0m4.5 0h0m1.5 0h0m0 0h0m0.5 0h0m1.5 0h0m0.5 0h0m1.5 0h0m1 0h0m3 0h0m0 0h0m2 0h0m1 0h0m4 0h0m1 0h0m1 0h0m1 0h0m0.5 0h0m5.5 0h0m2 0h0m1 0h0m-60.5 0.5h0m0.5 0h0m0 0h0m4 0h0m0.5 0h0m0.5 0h0m1.5 0h0m0.5 0h0m0.5 0h0m0 0h0m3.5 0h0m0 0h0m2 0h0m3.5 0h0m6 0h0m1 0h0m1.5 0h0m0 0h0m3.5 0h0m0.5 0h0m2 0h0m0 0h0m3.5 0h0m1 0h0m0.5 0h0m1 0h0m0.5 0h0m0 0h0m0.5 0h0m0 0h0m5.5 0h0m1 0h0m3.5 0h0m3 0h0m0 0h0m0.5 0h0m0.5 0h0m0 0h0m1.5 0h0m1 0h0m0.5 0h0m0.5 0h0m0.5 0h0m0 0h0m0.5 0h0m0 0h0m-55.5 0.5h0m1.5 0h0m2 0h0m0.5 0h0m4.5 0h0m3 0h0m2 0h0m7.5 0h0m0 0h0m2.5 0h0m2 0h0m1.5 0h0m5 0h0m1 0h0m3.5 0h0m1.5 0h0m5.5 0h0m1 0h0m1 0h0m4.5 0h0m0.5 0h0m0.5 0h0m1.5 0h0m1 0h0m2 0h0m0 0h0m0.5 0h0m1.5 0h0m0 0h0m1.5 0h0m1 0h0m0.5 0h0m-61.5 0.5h0m1.5 0h0m1.5 0h0m0.5 0h0m3.5 0h0m0 0h0m2.5 0h0m0.5 0h0m3 0h0m1 0h0m0.5 0h0m0.5 0h0m0.5 0h0m3.5 0h0m2 0h0m0.5 0h0m5.5 0h0m1 0h0m1 0h0m9 0h0m0.5 0h0m2.5 0h0m1 0h0m2.5 0h0m0.5 0h0m0 0h0m0.5 0h0m1 0h0m3.5 0h0m0 0h0m8 0h0m0.5 0h0m3 0h0m0 0h0m1 0h0m-58.5 0.5h0m0.5 0h0m2.5 0h0m2.5 0h0m2 0h0m2 0h0m1.5 0h0m2 0h0m0.5 0h0m10 0h0m0 0h0m4.5 0h0m0 0h0m0.5 0h0m9 0h0m1.5 0h0m1 0h0m0.5 0h0m0 0h0m0.5 0h0m1 0h0m0.5 0h0m1 0h0m0 0h0m9 0h0m0.5 0h0m2.5 0h0m2.5 0h0m0 0h0m-62 0.5h0m0 0h0m1 0h0m0.5 0h0m0 0h0m1 0h0m1.5 0h0m0.5 0h0m1 0h0m5 0h0m0.5 0h0m0.5 0h0m0 0h0m2 0h0m1.5 0h0m1 0h0m4.5 0h0m1 0h0m1.5 0h0m2 0h0m0 0h0m0.5 0h0m3 0h0m0 0h0m1 0h0m0 0h0m0.5 0h0m0 0h0m1 0h0m1 0h0m1 0h0m1 0h0m1 0h0m0.5 0h0m0.5 0h0m0.5 0h0m1 0h0m0 0h0m0 0h0m3.5 0h0m2.5 0h0m0 0h0m1 0h0m1.5 0h0m0.5 0h0m3 0h0m0.5 0h0m1.5 0h0m2 0h0m2.5 0h0m2 0h0m1.5 0h0m1.5 0h0m-62.5 0.5h0m0.5 0h0m2 0h0m1 0h0m6 0h0m2.5 0h0m0.5 0h0m0 0h0m0 0h0m2 0h0m2.5 0h0m0 0h0m0 0h0m2.5 0h0m0 0h0m1 0h0m0 0h0m2.5 0h0m2 0h0m1.5 0h0m1 0h0m1.5 0h0m4 0h0m3 0h0m0 0h0m1.5 0h0m0 0h0m1 0h0m0 0h0m3.5 0h0m0.5 0h0m0.5 0h0m3 0h0m2 0h0m0.5 0h0m0 0h0m0.5 0h0m0.5 0h0m2 0h0m1.5 0h0m1 0h0m0.5 0h0m1.5 0h0m1.5 0h0m3.5 0h0m0 0h0m1 0h0m1 0h0m-61.5 0.5h0m1 0h0m0 0h0m0 0h0m0.5 0h0m2.5 0h0m0.5 0h0m0.5 0h0m4.5 0h0m1.5 0h0m1.5 0h0m0.5 0h0m1 0h0m1 0h0m0.5 0h0m0 0h0m0.5 0h0m1 0h0m2.5 0h0m2.5 0h0m0 0h0m9 0h0m0.5 0h0m6.5 0h0m0.5 0h0m0.5 0h0m4.5 0h0m0.5 0h0m8 0h0m0 0h0m1 0h0m1 0h0m1.5 0h0m4 0h0m0 0h0m0.5 0h0m1 0h0m-62.5 0.5h0m7 0h0m1.5 0h0m0.5 0h0m0 0h0m1 0h0m4 0h0m1 0h0m0.5 0h0m0 0h0m0.5 0h0m2.5 0h0m0 0h0m0 0h0m1 0h0m3.5 0h0m3.5 0h0m0 0h0m1 0h0m0 0h0m1 0h0m0.5 0h0m0 0h0m4 0h0m0.5 0h0m4.5 0h0m1 0h0m3.5 0h0m2 0h0m0 0h0m1.5 0h0m7 0h0m1 0h0m2 0h0m1 0h0m2.5 0h0m3 0h0m1.5 0h0m-61 0.5h0m0.5 0h0m6 0h0m0.5 0h0m5 0h0m1.5 0h0m3 0h0m2 0h0m0.5 0h0m0.5 0h0m0 0h0m1.5 0h0m3.5 0h0m1 0h0m0 0h0m2.5 0h0m0 0h0m2.5 0h0m2 0h0m1 0h0m1.5 0h0m2 0h0m5.5 0h0m1 0h0m2 0h0m0.5 0h0m0.5 0h0m1.5 0h0m4 0h0m0.5 0h0m0.5 0h0m5.5 0h0m1 0h0m0.5 0h0m-61 0.5h0m2.5 0h0m0.5 0h0m2 0h0m2 0h0m0.5 0h0m0.5 0h0m1.5 0h0m0.5 0h0m0.5 0h0m1 0h0m3 0h0m0 0h0m2 0h0m4.5 0h0m2 0h0m2.5 0h0m1.5 0h0m1 0h0m0.5 0h0m1.5 0h0m0.5 0h0m1.5 0h0m1 0h0m6 0h0m4 0h0m3 0h0m1.5 0h0m1.5 0h0m6.5 0h0m0.5 0h0m3 0h0m1.5 0h0m2 0h0m-64.5 0.5h0m1 0h0m6 0h0m3 0h0m1 0h0m3 0h0m1.5 0h0m7 0h0m3.5 0h0m1.5 0h0m0.5 0h0m1 0h0m1 0h0m1 0h0m3 0h0m6 0h0m0 0h0m0.5 0h0m2.5 0h0m5 0h0m7.5 0h0m1.5 0h0m0 0h0m2.5 0h0m-59.5 0.5h0m2.5 0h0m5 0h0m10 0h0m8.5 0h0m4 0h0m5 0h0m3 0h0m0.5 0h0m3 0h0m1.5 0h0m0.5 0h0m7.5 0h0m0 0h0m2.5 0h0m0 0h0m5 0h0m0.5 0h0m3 0h0m-58.5 0.5h0m0.5 0h0m2.5 0h0m0.5 0h0m1.5 0h0m3 0h0m1 0h0m0.5 0h0m0.5 0h0m9.5 0h0m1.5 0h0m3 0h0m2 0h0m0.5 0h0m4.5 0h0m6.5 0h0m8.5 0h0m0 0h0m2 0h0m1 0h0m2 0h0m0.5 0h0m4 0h0m0.5 0h0m3.5 0h0m1 0h0m0.5 0h0m0.5 0h0m-62.5 0.5h0m1.5 0h0m1.5 0h0m1.5 0h0m0.5 0h0m0.5 0h0m0.5 0h0m7 0h0m6.5 0h0m2 0h0m3 0h0m0.5 0h0m1.5 0h0m4 0h0m1 0h0m1 0h0m0 0h0m2.5 0h0m2 0h0m2 0h0m0.5 0h0m6 0h0m0.5 0h0m2.5 0h0m0.5 0h0m1 0h0m1 0h0m4 0h0m1.5 0h0m0.5 0h0m2 0h0m2 0h0m0.5 0h0m-64 0.5h0m1 0h0m0.5 0h0m0.5 0h0m1 0h0m0.5 0h0m10 0h0m0.5 0h0m0 0h0m0.5 0h0m3.5 0h0m1.5 0h0m1.5 0h0m3.5 0h0m1 0h0m0.5 0h0m1 0h0m3.5 0h0m3 0h0m0.5 0h0m1 0h0m0.5 0h0m1 0h0m1 0h0m1 0h0m0 0h0m3.5 0h0m2.5 0h0m6 0h0m4.5 0h0m2.5 0h0m3 0h0m0.5 0h0m1 0h0m-57 0.5h0m0.5 0h0m1.5 0h0m0.5 0h0m1 0h0m6 0h0m0 0h0m13 0h0m0.5 0h0m0 0h0m2 0h0m2.5 0h0m0.5 0h0m0.5 0h0m2 0h0m1 0h0m2.5 0h0m0.5 0h0m0.5 0h0m4.5 0h0m1 0h0m0.5 0h0m5.5 0h0m1 0h0m0 0h0m3 0h0m3 0h0m1.5 0h0m4 0h0m-61 0.5h0m2 0h0m3 0h0m3 0h0m2 0h0m1 0h0m6 0h0m12 0h0m13.5 0h0m4.5 0h0m0 0h0m-38.5 0.5h0m1.5 0h0m0 0h0m22.5 0h0m5 0h0m18.5 0h0m-52.5 0.5h0m3.5 0h0m3 0h0m25 0h0m8 0h0m-42 0.5h0m40 0h0m11 0h0m-47 0.5h0m11.5 0h0m15.5 0h0m1 0h0m14 0h0m7.5 0h0m-53 0.5h0m21.5 0h0m9 0h0m7.5 0h0m-19.5 0.5h0m16 0h0m11.5 0h0m3 0h0m3 0h0m4 0h0" stroke="#1a1a1a" stroke-width="1.55" stroke-linecap="square" fill="none"/>
</g>
<text transform="translate(255.3,165.3) scale(1,1.16)" class="tk" text-anchor="end">88</text>
<text transform="translate(255.3,136.2) scale(1,1.16)" class="tk" text-anchor="end">89</text>
<text transform="translate(255.3,107.2) scale(1,1.16)" class="tk" text-anchor="end">90</text>
<text transform="translate(255.3,78.1) scale(1,1.16)" class="tk" text-anchor="end">91</text>
<text transform="translate(255.3,49.1) scale(1,1.16)" class="tk" text-anchor="end">92</text>
<text transform="translate(308.4,190.2) scale(1,1.04)" class="tk" text-anchor="middle">ECM</text>
<text transform="translate(388.3,190.2) scale(1,1.04)" class="tk" text-anchor="middle">ML</text>
<text transform="translate(233.3,27.0) rotate(-90)" class="yt" text-anchor="end">Memory</text>
<rect x="507.5" y="26" width="178.5" height="146.7" fill="#F2F2F2"/>
<path d="M507.5 166.50H686M507.5 152.98H686M507.5 139.47H686M507.5 125.95H686M507.5 112.43H686M507.5 98.92H686M507.5 85.40H686M507.5 71.88H686M507.5 58.37H686M507.5 44.85H686M507.5 31.33H686M556.60 26V172.7M636.80 26V172.7" stroke="#D3D3D3" stroke-width="1.1" fill="none"/>
<clipPath id="c2"><rect x="507.5" y="26" width="178.5" height="146.7"/></clipPath>
<g clip-path="url(#c2)">
<path d="M556.60 139.47V104.32M556.60 163.80V166.50" stroke="#7a7a7a" stroke-width="1.5" fill="none"/>
<rect x="536.30" y="139.47" width="40.60" height="24.33" fill="#00FF00" stroke="#333" stroke-width="0.9"/>
<path d="M536.30 157.04H576.90" stroke="#333" stroke-width="1.2"/>
<path d="M636.80 137.30V96.21M636.80 163.80V166.50" stroke="#7a7a7a" stroke-width="1.5" fill="none"/>
<rect x="616.50" y="137.30" width="40.60" height="26.49" fill="#FFFF00" stroke="#333" stroke-width="0.9"/>
<path d="M616.50 155.69H657.10" stroke="#333" stroke-width="1.2"/>
<path d="M576 33h0m-31.5 2h0m-20 7.5h0m38.5 1h0m0.5 0h0m-24 1h0m23 0h0m4.5 1h0m19.5 0.5h0m-31.5 4h0m20 2h0m-50.5 1h0m36 0h0m-17 0.5h0m7 1h0m9.5 1.5h0m-0.5 1.5h0m1.5 0h0m6.5 2h0m2.5 0.5h0m-20.5 2h0m14.5 0h0m-2 3.5h0m-27.5 2.5h0m44 7h0m-35 4.5h0m5.5 1h0m11 1h0m6 1.5h0m16 0h0m-53.5 0.5h0m41.5 1h0m-41.5 1.5h0m15.5 0.5h0m19 1h0m21.5 0.5h0m-14 0.5h0m0.5 0h0m-42 0.5h0m26.5 0h0m-19 1h0m10.5 1h0m6.5 0h0m2.5 0h0m-9 0.5h0m-16.5 0.5h0m14.5 1h0m-11.5 0.5h0m18.5 0h0m8.5 0h0m5.5 0h0m8 0h0m3.5 0h0m-42.5 0.5h0m31.5 0.5h0m-35 1h0m17.5 1h0m32 0h0m-54 1.5h0m29.5 0h0m14 0.5h0m1 0.5h0m-33.5 1h0m44 0h0m-45 1.5h0m10 1h0m5 0.5h0m23.5 0h0m-28.5 0.5h0m6 0h0m-1 0.5h0m31 0h0m-45.5 0.5h0m42.5 0.5h0m0 1h0m-33 0.5h0m5.5 1.5h0m2.5 0.5h0m24 0h0m-50 0.5h0m50 0h0m-1 0.5h0m-46.5 1h0m8 0h0m45 0h0m-43 0.5h0m32.5 0.5h0m-40.5 0.5h0m7 0.5h0m20.5 0h0m-11.5 0.5h0m5.5 0h0m13 0h0m7.5 0h0m-46 0.5h0m15.5 0h0m36.5 0h0m-53.5 0.5h0m42 0h0m-36 0.5h0m45.5 0h0m-50.5 0.5h0m1.5 0h0m3.5 0h0m26 0h0m2.5 0h0m17 0h0m9 0h0m-49.5 0.5h0m23 0.5h0m13 0h0m-49 0.5h0m18.5 0h0m27 0h0m9 0h0m-54.5 0.5h0m4.5 0h0m1 0h0m9 0h0m8.5 0h0m5 0h0m-11 0.5h0m16 0.5h0m2.5 0h0m13 0h0m1 0h0m-46.5 0.5h0m4 0h0m8 0h0m42 0h0m-15 1h0m13 0h0m-50.5 0.5h0m6.5 0h0m12.5 0h0m31 0.5h0m-53 0.5h0m12 0h0m44 0h0m-3.5 0.5h0m5 0.5h0m-52.5 1h0m16.5 0h0m3.5 0h0m3.5 0h0m8 0h0m6.5 0.5h0m14 0h0m-48 0.5h0m9.5 0h0m34 0h0m8 0.5h0m-62.5 0.5h0m9.5 0h0m11.5 1h0m20 0h0m-35 1h0m10.5 0h0m19 0h0m5 0h0m-24.5 0.5h0m9 0h0m33 0h0m5.5 0h0m-43.5 0.5h0m42.5 0h0m-43.5 0.5h0m14.5 0h0m7.5 0h0m19 0h0m-58.5 0.5h0m25 0h0m3.5 0h0m24 0h0m6 0h0m1 0h0m-40 0.5h0m36.5 0h0m2.5 0h0m-56 0.5h0m2 0h0m47.5 0.5h0m-54 0.5h0m15.5 0h0m10 0h0m-24 1h0m9 0h0m11.5 0h0m26 0h0m2.5 0h0m-47.5 0.5h0m35.5 0h0m0 0.5h0m-23.5 0.5h0m2 0h0m18 0h0m-1 0.5h0m6.5 0h0m21.5 0h0m-32.5 0.5h0m5.5 0h0m6 0h0m11 0h0m8.5 0h0m-16 0.5h0m0.5 0h0m-26 0.5h0m28 0h0m-4.5 0.5h0m1.5 0h0m15.5 0h0m4.5 0h0m-60.5 0.5h0m10 0.5h0m17.5 0h0m31.5 0h0m-33.5 0.5h0m32.5 0h0m-38.5 0.5h0m20.5 0.5h0m-43 0.5h0m13 0h0m2 0h0m-13.5 0.5h0m2.5 0h0m7 0h0m22 0h0m9.5 0h0m7.5 0h0m5 0h0m-56 0.5h0m9 0h0m53.5 0h0m-50 0.5h0m19 0h0m0 0h0m-26 0.5h0m1.5 0h0m5.5 0h0m11 0h0m1 0h0m1 0h0m0 0h0m10 0h0m-34.5 0.5h0m5 0h0m5.5 0h0m3 0h0m3 0h0m9 0h0m3 0h0m7 0h0m1 0h0m21 0h0m-59 0.5h0m2.5 0h0m2 0h0m7.5 0h0m8 0h0m11.5 0h0m8.5 0h0m22.5 0h0m-60 0.5h0m0.5 0h0m9 0h0m20 0h0m15.5 0h0m-31.5 0.5h0m1 0h0m4 0h0m36 0h0m-42 0.5h0m7.5 0h0m25.5 0h0m5 0h0m3 0h0m3 0h0m2.5 0h0m3 0h0m-52 0.5h0m6.5 0h0m0 0h0m0.5 0h0m19.5 0h0m2 0h0m-23.5 0.5h0m0.5 0h0m19 0h0m2 0h0m2 0h0m6 0h0m14 0h0m3 0h0m0 0h0m0 0h0m-44.5 0.5h0m0 0h0m5.5 0h0m7 0h0m14 0h0m10.5 0h0m4.5 0h0m-60 0.5h0m2 0h0m28 0h0m3 0h0m5.5 0h0m12.5 0h0m5 0h0m2.5 0h0m5.5 0h0m-62.5 0.5h0m1.5 0h0m17 0h0m14.5 0h0m8 0h0m2 0h0m7 0h0m1.5 0h0m2 0h0m3.5 0h0m-42 0.5h0m1.5 0h0m16.5 0h0m15 0h0m0 0h0m6.5 0h0m-52 0.5h0m13 0h0m17 0h0m8 0h0m6 0h0m16 0h0m-60.5 0.5h0m2.5 0h0m8 0h0m39.5 0h0m-47.5 0.5h0m0.5 0h0m3 0h0m11 0h0m22 0h0m15.5 0h0m2 0h0m-49 0.5h0m2 0h0m1 0h0m5 0h0m3 0h0m12 0h0m0.5 0h0m7.5 0h0m0.5 0h0m12.5 0h0m1 0h0m-56.5 0.5h0m11 0h0m16 0h0m11 0h0m8.5 0h0m9.5 0h0m-56 0.5h0m0 0h0m12 0h0m3.5 0h0m0 0h0m6.5 0h0m3 0h0m16.5 0h0m-27 0.5h0m3 0h0m3 0h0m3 0h0m25 0h0m-28 0.5h0m6.5 0h0m0 0h0m0.5 0h0m9.5 0h0m9.5 0h0m8 0h0m4.5 0h0m1 0h0m2.5 0h0m0 0h0m-39.5 0.5h0m1 0h0m23 0h0m5 0h0m3.5 0h0m1 0h0m8 0h0m-47.5 0.5h0m3.5 0h0m2.5 0h0m1.5 0h0m12.5 0h0m10.5 0h0m6.5 0h0m1 0h0m-51 0.5h0m12.5 0h0m0 0h0m5.5 0h0m27 0h0m-44 0.5h0m8 0h0m7.5 0h0m9.5 0h0m1 0h0m1.5 0h0m0.5 0h0m1.5 0h0m5 0h0m17.5 0h0m-38 0.5h0m2 0h0m0 0h0m25.5 0h0m16.5 0h0m-57 0.5h0m6 0h0m5.5 0h0m31.5 0h0m9.5 0h0m-45.5 0.5h0m2 0h0m4.5 0h0m5 0h0m5 0h0m5 0h0m5.5 0h0m-40 0.5h0m6.5 0h0m17 0h0m29.5 0h0m8.5 0h0m-55 0.5h0m0.5 0h0m4 0h0m22.5 0h0m3 0h0m9 0h0m8.5 0h0m4.5 0h0m2.5 0h0m-44.5 0.5h0m1.5 0h0m0 0h0m4.5 0h0m9 0h0m5.5 0h0m7 0h0m18 0h0m-47.5 0.5h0m0.5 0h0m6 0h0m1.5 0h0m1 0h0m-18 0.5h0m14 0h0m1 0h0m16 0h0m4.5 0h0m15 0h0m-48 0.5h0m20.5 0h0m1 0h0m13 0h0m0.5 0h0m10.5 0h0m4.5 0h0m1.5 0h0m2.5 0h0m-55.5 0.5h0m4.5 0h0m9 0h0m22 0h0m1 0h0m2.5 0h0m7.5 0h0m7 0h0m-56 0.5h0m1.5 0h0m0.5 0h0m2 0h0m2 0h0m9 0h0m9.5 0h0m22.5 0h0m7.5 0h0m2 0h0m-59 0.5h0m3 0h0m12.5 0h0m8 0h0m4.5 0h0m4 0h0m0.5 0h0m1.5 0h0m3.5 0h0m21 0h0m-59 0.5h0m2.5 0h0m11 0h0m9 0h0m14.5 0h0m12 0h0m14.5 0h0m-61.5 0.5h0m1.5 0h0m5 0h0m0.5 0h0m4.5 0h0m0 0h0m10 0h0m16 0h0m3.5 0h0m8.5 0h0m6 0h0m2 0h0m-60 0.5h0m13.5 0h0m5 0h0m3.5 0h0m7 0h0m1.5 0h0m3 0h0m1.5 0h0m0.5 0h0m8.5 0h0m1 0h0m0.5 0h0m2.5 0h0m10.5 0h0m3 0h0m1.5 0h0m-61 0.5h0m1.5 0h0m6.5 0h0m7 0h0m1.5 0h0m2.5 0h0m0.5 0h0m1.5 0h0m4 0h0m4 0h0m7 0h0m3 0h0m0.5 0h0m12 0h0m3.5 0h0m-43.5 0.5h0m2.5 0h0m2.5 0h0m4 0h0m14.5 0h0m8 0h0m4.5 0h0m1 0h0m1.5 0h0m0 0h0m5.5 0h0m3 0h0m1 0h0m-52.5 0.5h0m6 0h0m1 0h0m17 0h0m2.5 0h0m3 0h0m3 0h0m12.5 0h0m-53 0.5h0m4 0h0m2 0h0m6 0h0m1.5 0h0m5.5 0h0m4 0h0m13 0h0m4.5 0h0m4 0h0m8 0h0m0 0h0m3.5 0h0m1.5 0h0m5 0h0m-51.5 0.5h0m4.5 0h0m0 0h0m16 0h0m7 0h0m10.5 0h0m6.5 0h0m4.5 0h0m-47.5 0.5h0m7.5 0h0m0.5 0h0m4.5 0h0m1.5 0h0m1.5 0h0m4 0h0m6.5 0h0m0 0h0m1 0h0m8 0h0m7.5 0h0m1 0h0m1.5 0h0m0 0h0m-59 0.5h0m3 0h0m3 0h0m6.5 0h0m3 0h0m6 0h0m2 0h0m7 0h0m2.5 0h0m3 0h0m3.5 0h0m19 0h0m1 0h0m-59 0.5h0m2 0h0m1.5 0h0m2.5 0h0m1.5 0h0m0.5 0h0m0 0h0m1.5 0h0m1 0h0m1 0h0m1.5 0h0m0.5 0h0m1.5 0h0m2 0h0m0.5 0h0m3.5 0h0m0.5 0h0m3 0h0m0.5 0h0m4.5 0h0m0 0h0m0.5 0h0m0.5 0h0m0.5 0h0m0.5 0h0m0.5 0h0m3 0h0m0.5 0h0m2 0h0m0 0h0m1.5 0h0m0 0h0m0 0h0m3.5 0h0m2.5 0h0m0.5 0h0m0.5 0h0m0.5 0h0m2.5 0h0m0.5 0h0m1 0h0m1.5 0h0m2 0h0m1 0h0m1 0h0m0.5 0h0m2.5 0h0m0 0h0m0 0h0m2.5 0h0m-62 0.5h0m0 0h0m0.5 0h0m2 0h0m1 0h0m2 0h0m2.5 0h0m1 0h0m0.5 0h0m2.5 0h0m5 0h0m2.5 0h0m0 0h0m2.5 0h0m2 0h0m0 0h0m0.5 0h0m0.5 0h0m1 0h0m1.5 0h0m0 0h0m1 0h0m0 0h0m3 0h0m3.5 0h0m0.5 0h0m0.5 0h0m3.5 0h0m0.5 0h0m2 0h0m1 0h0m2 0h0m1 0h0m0.5 0h0m0 0h0m6 0h0m0.5 0h0m2 0h0m0.5 0h0m1 0h0m3.5 0h0m0.5 0h0m1.5 0h0m2.5 0h0m-63.5 0.5h0m0 0h0m0.5 0h0m0 0h0m0 0h0m3.5 0h0m1.5 0h0m0.5 0h0m1 0h0m2 0h0m0.5 0h0m1.5 0h0m1 0h0m1 0h0m2.5 0h0m0.5 0h0m2 0h0m5 0h0m1.5 0h0m0.5 0h0m1 0h0m3 0h0m0 0h0m0.5 0h0m0.5 0h0m2.5 0h0m0.5 0h0m0 0h0m0.5 0h0m2 0h0m3 0h0m2.5 0h0m0.5 0h0m3 0h0m0 0h0m1 0h0m1.5 0h0m1 0h0m0 0h0m0.5 0h0m1.5 0h0m0 0h0m1 0h0m2 0h0m3 0h0m0.5 0h0m3 0h0m0 0h0m1.5 0h0m1.5 0h0m-62 0.5h0m1.5 0h0m2 0h0m1.5 0h0m1 0h0m0.5 0h0m0.5 0h0m1 0h0m0.5 0h0m0.5 0h0m0 0h0m1 0h0m0.5 0h0m0.5 0h0m6 0h0m2.5 0h0m0 0h0m0.5 0h0m1 0h0m0.5 0h0m0 0h0m1 0h0m3 0h0m3 0h0m1 0h0m1.5 0h0m0 0h0m3 0h0m1 0h0m1 0h0m2.5 0h0m1 0h0m1 0h0m4 0h0m2.5 0h0m0.5 0h0m0.5 0h0m2 0h0m1 0h0m1.5 0h0m2 0h0m1 0h0m3 0h0m4.5 0h0m-65 0.5h0m0 0h0m2 0h0m0 0h0m0.5 0h0m2 0h0m0 0h0m1.5 0h0m0 0h0m2 0h0m1.5 0h0m1 0h0m1.5 0h0m2 0h0m2 0h0m1.5 0h0m0 0h0m0 0h0m4 0h0m2 0h0m1.5 0h0m0 0h0m0.5 0h0m1 0h0m3.5 0h0m1 0h0m1 0h0m0 0h0m1 0h0m4 0h0m1 0h0m1.5 0h0m0.5 0h0m4.5 0h0m0 0h0m0.5 0h0m0.5 0h0m0.5 0h0m3.5 0h0m2.5 0h0m3.5 0h0m1.5 0h0m3 0h0m1 0h0m1.5 0h0m1.5 0h0m-58.5 0.5h0m1 0h0m3.5 0h0m5 0h0m1.5 0h0m3 0h0m5.5 0h0m7 0h0m1.5 0h0m2.5 0h0m2 0h0m3.5 0h0m2 0h0m0 0h0m3 0h0m3 0h0m5 0h0m3 0h0m1.5 0h0m2.5 0h0m0 0h0m2.5 0h0" stroke="#141414" stroke-width="1.6" stroke-linecap="square" fill="none"/>
<path d="M661 32h0m-52.5 0.5h0m48 3h0m4 1.5h0m-20 4.5h0m-21.5 1.5h0m12.5 0h0m-25.5 0.5h0m22.5 0h0m-11.5 1.5h0m2.5 0h0m37 0h0m8 3h0m-11 3h0m-23 2h0m18 0h0m4 1h0m-1.5 4h0m-3 1.5h0m-41 2.5h0m29.5 0h0m24.5 1h0m6.5 3h0m-28 1.5h0m19 0.5h0m-34 2h0m13 0h0m-20.5 4.5h0m27.5 0h0m-23 3.5h0m22 1h0m9.5 0.5h0m-35.5 2.5h0m3.5 0h0m15 0h0m-29 0.5h0m5.5 3h0m12.5 0h0m28 0.5h0m12 0h0m-7.5 2h0m-23.5 1h0m13 0h0m1 0h0m-22.5 0.5h0m10.5 0h0m19.5 1h0m-20.5 0.5h0m-18 1h0m-7 0.5h0m33 0h0m6.5 0h0m18 0h0m-14 1h0m-38 0.5h0m20.5 0h0m-29.5 0.5h0m21.5 0h0m19 0h0m-25 1h0m4 0.5h0m-13.5 0.5h0m1 0.5h0m27 0h0m-16 1h0m-3.5 0.5h0m43.5 0h0m-8 0.5h0m-0.5 0.5h0m0 3h0m-42 0.5h0m7 0h0m-16.5 0.5h0m7 0.5h0m0.5 0.5h0m17 1h0m2.5 0h0m37 0h0m0.5 2h0m-1 0.5h0m-60.5 0.5h0m6 0h0m16 0h0m6.5 0.5h0m-28 0.5h0m50 0h0m11 0h0m-64.5 0.5h0m19.5 0h0m43 0h0m-49.5 0.5h0m2.5 0h0m31 0h0m-8.5 0.5h0m22.5 0h0m-26.5 0.5h0m2 0h0m9.5 0h0m7 0h0m3 0h0m-53 0.5h0m41.5 0h0m3.5 0h0m-33 0.5h0m5.5 0h0m34.5 0h0m-40 0.5h0m11.5 0h0m22 0h0m1.5 0h0m1.5 0h0m11 0h0m-37.5 0.5h0m13 0h0m-36.5 0.5h0m30 0h0m-27 0.5h0m15.5 0h0m4 0h0m-17.5 0.5h0m14 0h0m17 0h0m17 0h0m-14.5 0.5h0m9.5 0h0m-25.5 0.5h0m13.5 0h0m18.5 0h0m-47 0.5h0m19 0h0m4 0h0m0 0h0m-14.5 0.5h0m3.5 0h0m0 0h0m18 0h0m14.5 0h0m-29.5 0.5h0m24 0h0m10.5 0h0m6 0h0m-19.5 0.5h0m-41.5 0.5h0m26.5 0h0m16.5 0h0m10.5 0h0m3.5 0.5h0m-37 0.5h0m10.5 0h0m-11.5 0.5h0m2.5 0h0m17 0h0m-35 0.5h0m7 0.5h0m4 0h0m7 0h0m16.5 0h0m21.5 0h0m2.5 0.5h0m-51 0.5h0m25.5 0h0m23 0h0m-61 0.5h0m13 0h0m5 0h0m2.5 0.5h0m7.5 0h0m0 0h0m20 0h0m10 0h0m-0.5 0.5h0m-23 1h0m19.5 0h0m-39 0.5h0m4.5 1h0m14 0.5h0m4.5 0h0m7.5 0h0m-37 0.5h0m2.5 0h0m34.5 0h0m-30 0.5h0m33.5 0h0m-46.5 0.5h0m12 0h0m4 0h0m32.5 0.5h0m-11.5 0.5h0m23.5 0h0m-53 0.5h0m14 0h0m31 0.5h0m-13 1h0m-22.5 0.5h0m5 0h0m24.5 0h0m-50.5 0.5h0m21 0h0m34.5 0h0m-55.5 0.5h0m23.5 0h0m-15.5 0.5h0m25 0h0m-16.5 0.5h0m-14.5 0.5h0m3 0h0m14.5 0h0m6 0h0m12.5 0h0m8 0.5h0m-41 0.5h0m28 0h0m-32.5 0.5h0m0 0h0m12 0h0m7 0h0m4 0h0m8.5 0h0m6.5 0h0m-5.5 0.5h0m10.5 0h0m-36 0.5h0m14.5 0h0m-6.5 0.5h0m38.5 0h0m-54 0.5h0m19.5 0h0m4.5 0h0m2 0h0m7.5 0h0m-21 0.5h0m5.5 0h0m3 0h0m2.5 0h0m7 0h0m11 0h0m6.5 0h0m1.5 0h0m0.5 0h0m0.5 0h0m-34 0.5h0m12.5 0h0m-18.5 0.5h0m2.5 0h0m9.5 0h0m10 0h0m11.5 0h0m-35 0.5h0m7.5 0h0m11 0h0m2 0h0m3 0h0m26.5 0h0m-42 0.5h0m3.5 0h0m16 0h0m7 0h0m3.5 0h0m12 0h0m1 0h0m0.5 0h0m-59.5 0.5h0m6 0h0m4 0h0m10.5 0h0m9 0h0m13 0h0m16.5 0h0m1 0h0m-47.5 0.5h0m34 0h0m-36 0.5h0m10 0h0m3.5 0h0m4.5 0h0m7 0h0m-31 0.5h0m1 0h0m13 0h0m13 0h0m0.5 0h0m1.5 0h0m24.5 0h0m2 0h0m1.5 0h0m-62.5 0.5h0m6.5 0h0m8 0h0m12.5 0h0m11 0h0m-28 0.5h0m0.5 0h0m3.5 0h0m18 0h0m2 0h0m0 0h0m3.5 0h0m3 0h0m9.5 0h0m13.5 0h0m-46 0.5h0m6 0h0m0 0h0m30.5 0h0m5 0h0m0.5 0h0m-45 0.5h0m1 0h0m8 0h0m1.5 0h0m14.5 0h0m17.5 0h0m3.5 0h0m1.5 0h0m-57.5 0.5h0m0.5 0h0m9.5 0h0m16.5 0h0m10 0h0m12 0h0m-50.5 0.5h0m3.5 0h0m6 0h0m16 0h0m14.5 0h0m3 0h0m2 0h0m5.5 0h0m5.5 0h0m3.5 0h0m2.5 0h0m-37 0.5h0m11.5 0h0m11.5 0h0m7.5 0h0m6.5 0h0m-60 0.5h0m1 0h0m6 0h0m22 0h0m1.5 0h0m8.5 0h0m2 0h0m3.5 0h0m0.5 0h0m2.5 0h0m4 0h0m-53 0.5h0m9.5 0h0m17 0h0m16.5 0h0m1.5 0h0m-38.5 0.5h0m32 0h0m8 0h0m5.5 0h0m1 0h0m6.5 0h0m-32.5 0.5h0m14.5 0h0m4 0h0m11 0h0m-56 0.5h0m39 0h0m12 0h0m6.5 0h0m-60.5 0.5h0m6.5 0h0m4.5 0h0m7.5 0h0m2.5 0h0m9.5 0h0m6.5 0h0m10 0h0m-46.5 0.5h0m11 0h0m7.5 0h0m5.5 0h0m14.5 0h0m-28 0.5h0m9.5 0h0m7 0h0m0.5 0h0m21 0h0m-45 0.5h0m2 0h0m5.5 0h0m35 0h0m6.5 0h0m-44.5 0.5h0m0 0h0m15.5 0h0m5.5 0h0m25.5 0h0m1.5 0h0m2.5 0h0m-49.5 0.5h0m2 0h0m18.5 0h0m3.5 0h0m8 0h0m3 0h0m14 0h0m-33 0.5h0m-1.5 0.5h0m9 0h0m15 0h0m5.5 0h0m6.5 0h0m0.5 0h0m-47 0.5h0m10 0h0m5.5 0h0m12.5 0h0m0.5 0h0m13.5 0h0m7.5 0h0m-53.5 0.5h0m7 0h0m7.5 0h0m14 0h0m20.5 0h0m0 0h0m5 0h0m-49.5 0.5h0m7 0h0m2 0h0m0 0h0m12.5 0h0m1.5 0h0m5.5 0h0m15.5 0h0m4 0h0m-57 0.5h0m18 0h0m-22 0.5h0m13.5 0h0m1.5 0h0m8.5 0h0m0.5 0h0m9 0h0m4 0h0m21.5 0h0m-37.5 0.5h0m6 0h0m18 0h0m10 0h0m-46.5 0.5h0m7 0h0m4 0h0m9 0h0m11 0h0m13.5 0h0m-48 0.5h0m2 0h0m2 0h0m2.5 0h0m0.5 0h0m6 0h0m11 0h0m4.5 0h0m2 0h0m4.5 0h0m10 0h0m7 0h0m2 0h0m-44.5 0.5h0m5 0h0m3 0h0m18 0h0m9 0h0m0.5 0h0m1 0h0m3 0h0m8.5 0h0m0.5 0h0m-63.5 0.5h0m17.5 0h0m1 0h0m2 0h0m5 0h0m6 0h0m0 0h0m12 0h0m2 0h0m4 0h0m2.5 0h0m2.5 0h0m1 0h0m2 0h0m-54.5 0.5h0m1 0h0m1.5 0h0m2.5 0h0m7.5 0h0m0.5 0h0m2 0h0m8.5 0h0m2.5 0h0m0.5 0h0m0 0h0m0 0h0m7.5 0h0m3 0h0m2.5 0h0m3 0h0m2.5 0h0m-46 0.5h0m2 0h0m2 0h0m1.5 0h0m5.5 0h0m3 0h0m4 0h0m5.5 0h0m1 0h0m0 0h0m1 0h0m3.5 0h0m13 0h0m4.5 0h0m1.5 0h0m4 0h0m-49 0.5h0m2.5 0h0m4.5 0h0m10 0h0m3 0h0m18.5 0h0m1 0h0m2 0h0m6.5 0h0m1 0h0m1.5 0h0m8.5 0h0m-64.5 0.5h0m10 0h0m13.5 0h0m9 0h0m1.5 0h0m0.5 0h0m13 0h0m1 0h0m-36.5 0.5h0m7.5 0h0m2 0h0m14.5 0h0m0 0h0m1.5 0h0m10.5 0h0m0.5 0h0m1 0h0m0 0h0m-48 0.5h0m1 0h0m4 0h0m6 0h0m6 0h0m3.5 0h0m8 0h0m0 0h0m17.5 0h0m3 0h0m-49 0.5h0m2 0h0m2 0h0m1.5 0h0m0.5 0h0m3 0h0m6.5 0h0m0 0h0m14.5 0h0m3.5 0h0m9 0h0m15 0h0m-45 0.5h0m2 0h0m7 0h0m2 0h0m2 0h0m0.5 0h0m5.5 0h0m0.5 0h0m11.5 0h0m5.5 0h0m11 0h0m-61 0.5h0m0.5 0h0m2 0h0m9.5 0h0m3 0h0m13 0h0m-24.5 0.5h0m17 0h0m14.5 0h0m5 0h0m6 0h0m0.5 0h0m2 0h0m2 0h0m6.5 0h0m-37.5 0.5h0m1 0h0m12 0h0m5 0h0m14.5 0h0m0.5 0h0m11.5 0h0m-51 0.5h0m9 0h0m2 0h0m11 0h0m3 0h0m15.5 0h0m1.5 0h0m6.5 0h0m1.5 0h0m-63 0.5h0m4.5 0h0m4.5 0h0m7 0h0m4 0h0m1.5 0h0m9.5 0h0m11 0h0m9 0h0m-50.5 0.5h0m0.5 0h0m0 0h0m0 0h0m1.5 0h0m0.5 0h0m0.5 0h0m0 0h0m0.5 0h0m1 0h0m2.5 0h0m0.5 0h0m0.5 0h0m0.5 0h0m6.5 0h0m1 0h0m0 0h0m5.5 0h0m0 0h0m0 0h0m1.5 0h0m0.5 0h0m1 0h0m0 0h0m4 0h0m1 0h0m1.5 0h0m1 0h0m0.5 0h0m5 0h0m3.5 0h0m0.5 0h0m0.5 0h0m0.5 0h0m0 0h0m2 0h0m2 0h0m4 0h0m1.5 0h0m0.5 0h0m0.5 0h0m2 0h0m0.5 0h0m3.5 0h0m0.5 0h0m1 0h0m0 0h0m1 0h0m0.5 0h0m1 0h0m0 0h0m0.5 0h0m-62 0.5h0m1 0h0m4.5 0h0m0.5 0h0m1 0h0m0.5 0h0m3 0h0m0 0h0m0 0h0m0 0h0m5 0h0m0 0h0m1 0h0m0.5 0h0m3.5 0h0m1 0h0m0.5 0h0m1 0h0m0 0h0m2 0h0m2 0h0m2.5 0h0m5.5 0h0m0 0h0m0.5 0h0m0.5 0h0m5.5 0h0m2.5 0h0m3 0h0m0.5 0h0m0.5 0h0m2 0h0m3 0h0m0 0h0m2.5 0h0m1 0h0m0.5 0h0m1.5 0h0m1.5 0h0m1.5 0h0m-60.5 0.5h0m0.5 0h0m0 0h0m0 0h0m2.5 0h0m0.5 0h0m1.5 0h0m1 0h0m0.5 0h0m1 0h0m3.5 0h0m0 0h0m3 0h0m2 0h0m1 0h0m3 0h0m0.5 0h0m9 0h0m0.5 0h0m0.5 0h0m1 0h0m1.5 0h0m0 0h0m1 0h0m1 0h0m1 0h0m1 0h0m1 0h0m2.5 0h0m0 0h0m1.5 0h0m6 0h0m0.5 0h0m0.5 0h0m0.5 0h0m0.5 0h0m0 0h0m2.5 0h0m0.5 0h0m2 0h0m1 0h0m0.5 0h0m0 0h0m2 0h0m-59 0.5h0m0.5 0h0m0.5 0h0m0.5 0h0m3.5 0h0m6 0h0m0.5 0h0m3 0h0m1 0h0m0 0h0m2 0h0m0.5 0h0m1.5 0h0m2 0h0m0 0h0m1.5 0h0m0.5 0h0m1.5 0h0m2.5 0h0m0 0h0m0.5 0h0m0.5 0h0m2 0h0m0.5 0h0m2 0h0m1.5 0h0m1 0h0m1.5 0h0m0 0h0m2 0h0m4 0h0m2.5 0h0m0.5 0h0m0.5 0h0m0 0h0m2.5 0h0m0 0h0m0.5 0h0m1.5 0h0m0.5 0h0m0.5 0h0m3 0h0m0.5 0h0m1 0h0m0 0h0m0.5 0h0m2 0h0m0.5 0h0m1 0h0m0.5 0h0m-62 0.5h0m0.5 0h0m1 0h0m0.5 0h0m0.5 0h0m0.5 0h0m1 0h0m2 0h0m3 0h0m1 0h0m1.5 0h0m2 0h0m0 0h0m4 0h0m0 0h0m3.5 0h0m0.5 0h0m0.5 0h0m3.5 0h0m1 0h0m4 0h0m1.5 0h0m0.5 0h0m1.5 0h0m0.5 0h0m0.5 0h0m2.5 0h0m5.5 0h0m0.5 0h0m5.5 0h0m3 0h0m0 0h0m4 0h0m3.5 0h0m0.5 0h0m2 0h0m0.5 0h0m0 0h0m-63 0.5h0m0 0h0m0.5 0h0m4 0h0m1.5 0h0m0.5 0h0m5 0h0m1 0h0m0 0h0m1.5 0h0m3 0h0m0.5 0h0m4 0h0m1 0h0m0.5 0h0m0 0h0m0.5 0h0m10.5 0h0m1.5 0h0m0.5 0h0m1.5 0h0m3 0h0m1.5 0h0m1.5 0h0m4.5 0h0m0 0h0m6 0h0m4.5 0h0m2 0h0m2.5 0h0" stroke="#141414" stroke-width="1.6" stroke-linecap="square" fill="none"/>
</g>
<text transform="translate(502.9,173.3) scale(1,1.16)" class="tk" text-anchor="end">0e+00</text>
<text transform="translate(502.9,146.3) scale(1,1.16)" class="tk" text-anchor="end">1e-04</text>
<text transform="translate(502.9,119.2) scale(1,1.16)" class="tk" text-anchor="end">2e-04</text>
<text transform="translate(502.9,92.2) scale(1,1.16)" class="tk" text-anchor="end">3e-04</text>
<text transform="translate(502.9,65.2) scale(1,1.16)" class="tk" text-anchor="end">4e-04</text>
<text transform="translate(502.9,38.1) scale(1,1.16)" class="tk" text-anchor="end">5e-04</text>
<text transform="translate(556.6,189.7) scale(1,1.04)" class="tk" text-anchor="middle">ECM</text>
<text transform="translate(636.8,189.7) scale(1,1.04)" class="tk" text-anchor="middle">ML</text>
<text transform="translate(455.8,27.0) rotate(-90)" class="yt" text-anchor="end">Accuracy</text>
<rect x="37.2" y="244" width="177.8" height="145.7" fill="#F2F2F2"/>
<path d="M37.2 387.80H215M37.2 367.43H215M37.2 347.05H215M37.2 326.68H215M37.2 306.30H215M37.2 285.93H215M37.2 265.55H215M37.2 245.18H215M85.90 244V389.7M166.50 244V389.7" stroke="#D3D3D3" stroke-width="1.1" fill="none"/>
<clipPath id="c3"><rect x="37.2" y="244" width="177.8" height="145.7"/></clipPath>
<g clip-path="url(#c3)">
<path d="M85.90 294.89V249.25M85.90 337.27V349.09" stroke="#777" stroke-width="1.2" fill="none"/>
<rect x="65.60" y="294.89" width="40.60" height="42.38" fill="#00FF00" stroke="#333" stroke-width="0.9"/>
<path d="M65.60 320.56H106.20" stroke="#333" stroke-width="1.2"/>
<path d="M166.50 357.64V355.20M166.50 361.31V363.35" stroke="#777" stroke-width="1.2" fill="none"/>
<rect x="146.20" y="357.64" width="40.60" height="3.67" fill="#FFFF00" stroke="#333" stroke-width="0.9"/>
<path d="M146.20 359.28H186.80" stroke="#333" stroke-width="1.2"/>
<path d="M59 245h0m24 1h0m-23 1h0m11 0h0m-6 1h0m12 0h0m7 0h0m-21 1h0m8 0h0m27 0h0m3 0h0m-43 2h0m12 0h0m22 0h0m17 0h0m-54 1h0m32 1h0m13 0h0m8 0h0m9 0h0m-54 1h0m26 0h0m9 0h0m12 0h0m-46 1h0m12 0h0m-13 2h0m1 0h0m55 0h0m-47 1h0m22 0h0m18 1h0m-36 1h0m18 0h0m-26 1h0m18 0h0m22 1h0m-36 1h0m26 0h0m-8 1h0m17 0h0m1 0h0m7 0h0m-10 2h0m-51 1h0m1 0h0m0 1h0m4 0h0m22 0h0m10 0h0m7 0h0m13 0h0m-53 1h0m28 0h0m18 0h0m-10 1h0m18 0h0m-40 1h0m38 0h0m6 0h0m-55 1h0m4 0h0m26 0h0m22 0h0m2 0h0m-43 1h0m7 0h0m31 0h0m-55 1h0m39 0h0m5 0h0m10 0h0m9 0h0m-65 1h0m2 0h0m8 0h0m0 0h0m1 0h0m15 0h0m0 0h0m12 0h0m-32 1h0m14 0h0m6 0h0m15 0h0m15 0h0m1 0h0m4 0h0m2 0h0m-27 1h0m4 0h0m22 0h0m-33 1h0m5 0h0m8 0h0m17 0h0m5 0h0m-26 1h0m14 0h0m-47 1h0m13 0h0m3 0h0m13 0h0m8 0h0m7 0h0m16 0h0m-62 1h0m1 0h0m8 0h0m13 0h0m5 0h0m27 0h0m-51 1h0m7 0h0m6 0h0m7 0h0m37 0h0m1 0h0m-53 1h0m41 0h0m0 0h0m1 0h0m7 0h0m5 0h0m-44 1h0m6 0h0m6 0h0m4 0h0m0 0h0m5 0h0m0 0h0m2 0h0m0 0h0m9 0h0m2 0h0m-52 1h0m7 0h0m0 0h0m2 0h0m6 0h0m11 0h0m23 0h0m7 0h0m-44 1h0m15 0h0m22 0h0m2 0h0m-39 1h0m1 0h0m17 0h0m11 0h0m16 0h0m3 0h0m-58 1h0m1 0h0m3 0h0m16 0h0m14 0h0m4 0h0m6 0h0m-36 1h0m4 0h0m1 0h0m19 0h0m1 0h0m2 0h0m1 0h0m-27 1h0m7 0h0m1 0h0m8 0h0m13 0h0m21 0h0m-63 1h0m15 0h0m4 0h0m7 0h0m1 0h0m9 0h0m5 0h0m3 0h0m2 0h0m3 0h0m1 0h0m3 0h0m9 0h0m-56 1h0m21 0h0m17 0h0m-40 1h0m5 0h0m29 0h0m5 0h0m8 0h0m2 0h0m7 0h0m-55 1h0m6 0h0m9 0h0m25 0h0m-30 1h0m2 0h0m8 0h0m0 0h0m0 0h0m9 0h0m11 0h0m5 0h0m13 0h0m-55 1h0m2 0h0m2 0h0m32 0h0m4 0h0m2 0h0m12 0h0m-62 1h0m3 0h0m15 0h0m3 0h0m10 0h0m31 0h0m-37 1h0m1 0h0m2 0h0m0 0h0m3 0h0m0 0h0m-28 1h0m3 0h0m3 0h0m5 0h0m11 0h0m15 0h0m1 0h0m7 0h0m16 0h0m-54 1h0m15 0h0m0 0h0m3 0h0m29 0h0m-54 1h0m3 0h0m8 0h0m1 0h0m2 0h0m29 0h0m10 0h0m7 0h0m-44 1h0m3 0h0m2 0h0m24 0h0m0 0h0m15 0h0m-60 1h0m9 0h0m5 0h0m4 0h0m9 0h0m7 0h0m4 0h0m1 0h0m-39 1h0m9 0h0m7 0h0m3 0h0m5 0h0m11 0h0m12 0h0m2 0h0m8 0h0m-59 1h0m15 0h0m7 0h0m21 0h0m3 0h0m9 0h0m-54 1h0m5 0h0m6 0h0m1 0h0m3 0h0m10 0h0m21 0h0m7 0h0m7 0h0m-45 1h0m19 0h0m2 0h0m17 0h0m-42 1h0m2 0h0m10 0h0m7 0h0m2 0h0m12 0h0m-42 1h0m9 0h0m3 0h0m6 0h0m0 0h0m2 0h0m6 0h0m5 0h0m7 0h0m10 0h0m11 0h0m-58 1h0m0 0h0m7 0h0m6 0h0m4 0h0m2 0h0m7 0h0m1 0h0m27 0h0m-35 1h0m13 0h0m10 0h0m8 0h0m-51 1h0m7 0h0m1 0h0m21 0h0m0 0h0m18 0h0m3 0h0m-34 1h0m3 0h0m11 0h0m26 0h0m-38 1h0m0 0h0m13 0h0m1 0h0m1 0h0m4 0h0m15 0h0m9 0h0m-58 1h0m6 0h0m13 0h0m0 0h0m5 0h0m2 0h0m1 0h0m14 0h0m3 0h0m-52 1h0m17 0h0m2 0h0m11 0h0m19 0h0m0 0h0m11 0h0m2 0h0m-38 1h0m3 0h0m15 0h0m11 0h0m2 0h0m-50 1h0m2 0h0m7 0h0m1 0h0m9 0h0m9 0h0m3 0h0m15 0h0m3 0h0m0 0h0m1 0h0m3 0h0m-43 1h0m0 0h0m17 0h0m11 0h0m-24 1h0m13 0h0m8 0h0m16 0h0m-49 1h0m2 0h0m5 0h0m2 0h0m0 0h0m0 0h0m7 0h0m2 0h0m3 0h0m7 0h0m9 0h0m4 0h0m2 0h0m-49 1h0m3 0h0m3 0h0m1 0h0m8 0h0m2 0h0m12 0h0m1 0h0m0 0h0m9 0h0m6 0h0m1 0h0m13 0h0m-54 1h0m0 0h0m26 0h0m2 0h0m2 0h0m4 0h0m5 0h0m11 0h0m7 0h0m-56 1h0m13 0h0m5 0h0m7 0h0m3 0h0m1 0h0m1 0h0m3 0h0m4 0h0m11 0h0m2 0h0m1 0h0m6 0h0m-52 1h0m0 0h0m0 0h0m1 0h0m4 0h0m1 0h0m4 0h0m6 0h0m9 0h0m11 0h0m17 0h0m-64 1h0m5 0h0m1 0h0m9 0h0m1 0h0m0 0h0m7 0h0m0 0h0m7 0h0m1 0h0m7 0h0m8 0h0m3 0h0m13 0h0m0 0h0m-58 1h0m1 0h0m3 0h0m19 0h0m20 0h0m1 0h0m7 0h0m2 0h0m-57 1h0m7 0h0m1 0h0m2 0h0m0 0h0m1 0h0m3 0h0m15 0h0m1 0h0m1 0h0m5 0h0m2 0h0m11 0h0m9 0h0m1 0h0m1 0h0m3 0h0m1 0h0m0 0h0m-65 1h0m5 0h0m1 0h0m7 0h0m2 0h0m1 0h0m4 0h0m0 0h0m6 0h0m1 0h0m0 0h0m9 0h0m12 0h0m5 0h0m2 0h0m6 0h0m3 0h0m-53 1h0m1 0h0m5 0h0m5 0h0m1 0h0m1 0h0m4 0h0m3 0h0m5 0h0m9 0h0m1 0h0m14 0h0m1 0h0m4 0h0m-62 1h0m6 0h0m7 0h0m12 0h0m1 0h0m0 0h0m8 0h0m11 0h0m2 0h0m8 0h0m1 0h0m6 0h0m-50 1h0m0 0h0m7 0h0m8 0h0m3 0h0m2 0h0m3 0h0m4 0h0m3 0h0m4 0h0m4 0h0m4 0h0m2 0h0m5 0h0m-64 1h0m1 0h0m1 0h0m1 0h0m8 0h0m3 0h0m8 0h0m2 0h0m6 0h0m5 0h0m0 0h0m3 0h0m2 0h0m5 0h0m9 0h0m2 0h0m-54 1h0m4 0h0m8 0h0m4 0h0m3 0h0m3 0h0m2 0h0m7 0h0m17 0h0m4 0h0m6 0h0m0 0h0m6 0h0m0 0h0m-60 1h0m3 0h0m8 0h0m4 0h0m8 0h0m2 0h0m3 0h0m3 0h0m5 0h0m2 0h0m17 0h0m-59 1h0m4 0h0m2 0h0m1 0h0m0 0h0m4 0h0m3 0h0m12 0h0m5 0h0m6 0h0m3 0h0m5 0h0m13 0h0m-57 1h0m5 0h0m8 0h0m2 0h0m4 0h0m2 0h0m17 0h0m2 0h0m3 0h0m13 0h0m-52 1h0m1 0h0m1 0h0m0 0h0m11 0h0m2 0h0m6 0h0m5 0h0m1 0h0m3 0h0m0 0h0m8 0h0m2 0h0m5 0h0m1 0h0m-52 1h0m3 0h0m1 0h0m4 0h0m3 0h0m11 0h0m8 0h0m2 0h0m1 0h0m3 0h0m1 0h0m9 0h0m5 0h0m-45 1h0m4 0h0m2 0h0m2 0h0m2 0h0m3 0h0m0 0h0m1 0h0m1 0h0m6 0h0m4 0h0m8 0h0m2 0h0m4 0h0m1 0h0m5 0h0m1 0h0m0 0h0m7 0h0m0 0h0m1 0h0m0 0h0m-49 1h0m3 0h0m5 0h0m3 0h0m1 0h0m8 0h0m5 0h0m2 0h0m6 0h0m5 0h0m5 0h0m3 0h0m6 0h0m-60 1h0m0 0h0m5 0h0m2 0h0m3 0h0m1 0h0m13 0h0m2 0h0m0 0h0m17 0h0m1 0h0m-48 1h0m3 0h0m0 0h0m1 0h0m0 0h0m3 0h0m5 0h0m4 0h0m7 0h0m9 0h0m13 0h0m3 0h0m1 0h0m9 0h0m1 0h0m3 0h0m-61 1h0m1 0h0m9 0h0m6 0h0m5 0h0m3 0h0m2 0h0m5 0h0m3 0h0m3 0h0m1 0h0m0 0h0m3 0h0m9 0h0m3 0h0m0 0h0m2 0h0m9 0h0m-46 1h0m3 0h0m1 0h0m2 0h0m2 0h0m12 0h0m0 0h0m1 0h0m0 0h0m1 0h0m12 0h0m8 0h0m1 0h0m1 0h0m2 0h0m-61 1h0m3 0h0m1 0h0m4 0h0m1 0h0m5 0h0m2 0h0m7 0h0m1 0h0m0 0h0m0 0h0m5 0h0m1 0h0m2 0h0m2 0h0m0 0h0m4 0h0m2 0h0m2 0h0m3 0h0m2 0h0m10 0h0m3 0h0m1 0h0m-64 1h0m4 0h0m2 0h0m17 0h0m1 0h0m4 0h0m18 0h0m1 0h0m1 0h0m1 0h0m0 0h0m3 0h0m0 0h0m8 0h0m1 0h0m1 0h0m-56 1h0m0 0h0m4 0h0m12 0h0m10 0h0m11 0h0m1 0h0m4 0h0m6 0h0m6 0h0m-60 1h0m23 0h0m11 0h0m9 0h0m2 0h0m1 0h0m8 0h0m7 0h0m-57 1h0m5 0h0m1 0h0m6 0h0m24 0h0m4 0h0m1 0h0m1 0h0m8 0h0m-55 1h0m1 0h0m6 0h0m11 0h0m37 0h0" stroke="#000" stroke-width="2.0" stroke-linecap="square" fill="none"/>
<path d="M160 265h0m26 4h0m-16 1h0m24 42h0m-57 1h0m4 0h0m1 0h0m3 0h0m16 0h0m9 0h0m2 0h0m7 0h0m-45 1h0m1 0h0m0 0h0m0 0h0m1 0h0m1 0h0m0 0h0m3 0h0m0 0h0m2 0h0m4 0h0m1 0h0m1 0h0m3 0h0m1 0h0m1 0h0m1 0h0m0 0h0m2 0h0m1 0h0m1 0h0m1 0h0m1 0h0m1 0h0m0 0h0m0 0h0m1 0h0m1 0h0m4 0h0m3 0h0m0 0h0m3 0h0m3 0h0m1 0h0m1 0h0m0 0h0m1 0h0m0 0h0m3 0h0m1 0h0m0 0h0m1 0h0m0 0h0m3 0h0m2 0h0m2 0h0m1 0h0m1 0h0m1 0h0m1 0h0m0 0h0m-61 1h0m2 0h0m0 0h0m2 0h0m0 0h0m0 0h0m2 0h0m0 0h0m5 0h0m0 0h0m0 0h0m1 0h0m3 0h0m0 0h0m2 0h0m2 0h0m1 0h0m0 0h0m0 0h0m1 0h0m0 0h0m2 0h0m3 0h0m5 0h0m1 0h0m3 0h0m0 0h0m1 0h0m9 0h0m0 0h0m1 0h0m1 0h0m1 0h0m1 0h0m4 0h0m2 0h0m1 0h0m0 0h0m1 0h0m2 0h0m1 0h0m1 0h0m0 0h0m1 0h0m2 0h0m1 0h0m-41 30h0m-24 5h0m4 0h0m15 0h0m33 2h0m-41 4h0m15 0h0m5 0h0m0 0h0m6 0h0m8 0h0m1 0h0m11 0h0m1 0h0m-58 1h0m0 0h0m1 0h0m0 0h0m2 0h0m0 0h0m0 0h0m0 0h0m1 0h0m2 0h0m1 0h0m1 0h0m0 0h0m1 0h0m1 0h0m0 0h0m2 0h0m2 0h0m0 0h0m0 0h0m2 0h0m1 0h0m0 0h0m1 0h0m0 0h0m0 0h0m1 0h0m0 0h0m0 0h0m2 0h0m2 0h0m1 0h0m1 0h0m1 0h0m1 0h0m0 0h0m0 0h0m2 0h0m2 0h0m1 0h0m0 0h0m0 0h0m2 0h0m1 0h0m1 0h0m0 0h0m0 0h0m0 0h0m1 0h0m0 0h0m0 0h0m2 0h0m0 0h0m1 0h0m0 0h0m2 0h0m1 0h0m0 0h0m1 0h0m1 0h0m0 0h0m1 0h0m0 0h0m1 0h0m0 0h0m0 0h0m2 0h0m0 0h0m0 0h0m0 0h0m1 0h0m2 0h0m0 0h0m0 0h0m1 0h0m0 0h0m2 0h0m1 0h0m2 0h0m1 0h0m2 0h0m0 0h0m0 0h0m0 0h0m2 0h0m1 0h0m1 0h0m-65 1h0m0 0h0m1 0h0m1 0h0m1 0h0m0 0h0m0 0h0m0 0h0m3 0h0m1 0h0m0 0h0m0 0h0m0 0h0m1 0h0m0 0h0m1 0h0m0 0h0m0 0h0m0 0h0m2 0h0m1 0h0m0 0h0m0 0h0m3 0h0m0 0h0m0 0h0m0 0h0m1 0h0m1 0h0m1 0h0m0 0h0m0 0h0m1 0h0m0 0h0m1 0h0m1 0h0m0 0h0m1 0h0m1 0h0m0 0h0m0 0h0m2 0h0m0 0h0m0 0h0m1 0h0m1 0h0m0 0h0m1 0h0m0 0h0m0 0h0m1 0h0m2 0h0m1 0h0m0 0h0m0 0h0m1 0h0m1 0h0m0 0h0m1 0h0m0 0h0m0 0h0m2 0h0m0 0h0m0 0h0m0 0h0m1 0h0m1 0h0m0 0h0m1 0h0m1 0h0m0 0h0m1 0h0m0 0h0m0 0h0m0 0h0m1 0h0m0 0h0m2 0h0m0 0h0m1 0h0m0 0h0m1 0h0m2 0h0m0 0h0m1 0h0m0 0h0m1 0h0m1 0h0m2 0h0m1 0h0m0 0h0m1 0h0m0 0h0m1 0h0m0 0h0m0 0h0m1 0h0m0 0h0m1 0h0m0 0h0m3 0h0m0 0h0m1 0h0m1 0h0m-64 1h0m0 0h0m0 0h0m0 0h0m1 0h0m1 0h0m0 0h0m0 0h0m1 0h0m0 0h0m2 0h0m0 0h0m1 0h0m1 0h0m2 0h0m2 0h0m0 0h0m0 0h0m1 0h0m1 0h0m0 0h0m1 0h0m0 0h0m2 0h0m0 0h0m0 0h0m0 0h0m0 0h0m1 0h0m0 0h0m1 0h0m1 0h0m1 0h0m1 0h0m0 0h0m1 0h0m0 0h0m0 0h0m0 0h0m1 0h0m1 0h0m1 0h0m0 0h0m0 0h0m1 0h0m0 0h0m0 0h0m1 0h0m1 0h0m0 0h0m3 0h0m1 0h0m1 0h0m0 0h0m1 0h0m1 0h0m0 0h0m0 0h0m1 0h0m0 0h0m1 0h0m0 0h0m1 0h0m1 0h0m0 0h0m0 0h0m3 0h0m0 0h0m1 0h0m2 0h0m0 0h0m0 0h0m3 0h0m1 0h0m0 0h0m0 0h0m3 0h0m1 0h0m3 0h0m0 0h0m1 0h0m0 0h0m0 0h0m0 0h0m1 0h0m1 0h0m1 0h0m1 0h0m1 0h0m0 0h0m1 0h0m1 0h0m1 0h0m-64 1h0m0 0h0m3 0h0m1 0h0m0 0h0m1 0h0m0 0h0m1 0h0m0 0h0m1 0h0m3 0h0m0 0h0m0 0h0m1 0h0m0 0h0m0 0h0m1 0h0m1 0h0m1 0h0m1 0h0m0 0h0m0 0h0m1 0h0m1 0h0m2 0h0m1 0h0m0 0h0m1 0h0m0 0h0m2 0h0m1 0h0m0 0h0m2 0h0m0 0h0m1 0h0m0 0h0m0 0h0m1 0h0m0 0h0m1 0h0m0 0h0m1 0h0m0 0h0m0 0h0m1 0h0m0 0h0m2 0h0m2 0h0m0 0h0m1 0h0m0 0h0m1 0h0m0 0h0m0 0h0m0 0h0m1 0h0m0 0h0m1 0h0m2 0h0m0 0h0m0 0h0m1 0h0m0 0h0m1 0h0m0 0h0m0 0h0m1 0h0m0 0h0m4 0h0m0 0h0m1 0h0m0 0h0m1 0h0m0 0h0m0 0h0m0 0h0m0 0h0m1 0h0m1 0h0m0 0h0m0 0h0m0 0h0m1 0h0m0 0h0m0 0h0m2 0h0m0 0h0m0 0h0m1 0h0m0 0h0m1 0h0m2 0h0m0 0h0m0 0h0m1 0h0m1 0h0m1 0h0m1 0h0m1 0h0m-65 1h0m0 0h0m0 0h0m1 0h0m0 0h0m2 0h0m1 0h0m0 0h0m1 0h0m0 0h0m0 0h0m0 0h0m1 0h0m0 0h0m1 0h0m0 0h0m0 0h0m0 0h0m1 0h0m1 0h0m0 0h0m0 0h0m1 0h0m1 0h0m0 0h0m0 0h0m0 0h0m1 0h0m1 0h0m0 0h0m0 0h0m0 0h0m1 0h0m0 0h0m0 0h0m0 0h0m1 0h0m0 0h0m1 0h0m1 0h0m4 0h0m0 0h0m0 0h0m0 0h0m1 0h0m0 0h0m1 0h0m1 0h0m0 0h0m1 0h0m0 0h0m0 0h0m1 0h0m1 0h0m2 0h0m1 0h0m1 0h0m0 0h0m3 0h0m1 0h0m1 0h0m0 0h0m0 0h0m1 0h0m1 0h0m0 0h0m0 0h0m0 0h0m2 0h0m0 0h0m0 0h0m2 0h0m1 0h0m0 0h0m0 0h0m1 0h0m1 0h0m0 0h0m2 0h0m0 0h0m1 0h0m0 0h0m0 0h0m1 0h0m0 0h0m1 0h0m1 0h0m0 0h0m0 0h0m1 0h0m1 0h0m0 0h0m1 0h0m0 0h0m0 0h0m0 0h0m1 0h0m1 0h0m1 0h0m0 0h0m0 0h0m2 0h0m0 0h0m0 0h0m1 0h0m0 0h0m0 0h0m1 0h0m1 0h0m1 0h0m0 0h0m0 0h0m1 0h0m-64 1h0m2 0h0m2 0h0m0 0h0m2 0h0m0 0h0m2 0h0m1 0h0m0 0h0m0 0h0m2 0h0m1 0h0m1 0h0m0 0h0m1 0h0m1 0h0m0 0h0m1 0h0m0 0h0m1 0h0m1 0h0m2 0h0m5 0h0m4 0h0m0 0h0m2 0h0m0 0h0m0 0h0m1 0h0m0 0h0m1 0h0m3 0h0m2 0h0m0 0h0m0 0h0m4 0h0m1 0h0m0 0h0m8 0h0m1 0h0m1 0h0m2 0h0m2 0h0m1 0h0m1 0h0m0 0h0m-59 1h0m5 0h0m5 0h0m2 0h0m2 0h0m5 0h0m10 0h0m3 0h0m3 0h0m2 0h0m2 0h0m6 0h0m1 0h0m8 0h0m0 0h0m5 0h0m0 0h0m4 0h0m-61 1h0m7 0h0m0 0h0m3 0h0m1 0h0m9 0h0m1 0h0m18 0h0m5 0h0m2 0h0m11 0h0m0 0h0m-58 1h0m1 0h0m2 0h0m1 0h0m1 0h0m5 0h0m1 0h0m1 0h0m3 0h0m4 0h0m1 0h0m1 0h0m6 0h0m6 0h0m3 0h0m1 0h0m5 0h0m3 0h0m2 0h0m4 0h0m0 0h0m1 0h0m3 0h0m-49 1h0m3 0h0m1 0h0m2 0h0m7 0h0m4 0h0m5 0h0m1 0h0m3 0h0m26 0h0m-32 17h0m7 1h0" stroke="#000" stroke-width="2.0" stroke-linecap="square" fill="none"/>
</g>
<text transform="translate(33.8,394.6) scale(1,1.16)" class="tk" text-anchor="end">0</text>
<text transform="translate(33.8,353.9) scale(1,1.16)" class="tk" text-anchor="end">10</text>
<text transform="translate(33.8,313.1) scale(1,1.16)" class="tk" text-anchor="end">20</text>
<text transform="translate(33.8,272.4) scale(1,1.16)" class="tk" text-anchor="end">30</text>
<text transform="translate(85.9,406.7) scale(1,1.04)" class="tk" text-anchor="middle">ECM</text>
<text transform="translate(166.5,406.7) scale(1,1.04)" class="tk" text-anchor="middle">ML</text>
<text transform="translate(12.0,245.0) rotate(-90)" class="yt" text-anchor="end">Time</text>
<text transform="translate(36.4,229) scale(1,1.15)" class="ti">(B) LAYERS: 2</text>
<rect x="259.1" y="244" width="176.9" height="145.7" fill="#F2F2F2"/>
<path d="M259.1 375.60H436M259.1 354.75H436M259.1 333.90H436M259.1 313.05H436M259.1 292.20H436M259.1 271.35H436M259.1 250.50H436M308.40 244V389.7M388.60 244V389.7" stroke="#D3D3D3" stroke-width="1.1" fill="none"/>
<clipPath id="c4"><rect x="259.1" y="244" width="176.9" height="145.7"/></clipPath>
<g clip-path="url(#c4)">
<path d="M308.40 283.03V250.50M308.40 321.39V375.60" stroke="#333" stroke-width="1.0" fill="none"/>
<rect x="288.10" y="283.03" width="40.60" height="38.36" fill="#00FF00" stroke="#333" stroke-width="0.9"/>
<path d="M288.10 299.71H328.70" stroke="#333" stroke-width="1.2"/>
<path d="M388.60 263.01V256.76M388.60 271.35V279.69" stroke="#333" stroke-width="1.0" fill="none"/>
<rect x="368.30" y="263.01" width="40.60" height="8.34" fill="#FFFF00" stroke="#333" stroke-width="0.9"/>
<path d="M368.30 267.18H408.90" stroke="#333" stroke-width="1.2"/>
<path d="M287.5 249.5h0m4.5 0h0m20 0h0m-36 0.5h0m35 0h0m12 0h0m-30.5 0.5h0m22 0h0m16.5 0h0m-28 0.5h0m18.5 0h0m13 0h0m-47.5 0.5h0m38.5 0h0m-25.5 0.5h0m10 0h0m-22.5 0.5h0m22 0h0m19.5 0h0m11.5 0h0m-22.5 0.5h0m20 0.5h0m-43.5 0.5h0m22 0h0m-15.5 0.5h0m4.5 0h0m4.5 0h0m23.5 0h0m-30.5 0.5h0m1.5 0h0m7.5 0h0m-23.5 0.5h0m3 0h0m29.5 0h0m-20 0.5h0m36.5 0h0m-60 0.5h0m12 0h0m35 0h0m-43 0.5h0m8.5 0h0m3.5 0h0m5 0h0m3 0h0m1 0h0m33 0h0m1 0h0m-58.5 0.5h0m14 0h0m29.5 0h0m3.5 0h0m10 0h0m-58.5 0.5h0m53 0h0m-52.5 0.5h0m2.5 0h0m3 0h0m16.5 0h0m14.5 0h0m1 0h0m2 0h0m3 0h0m10.5 0h0m8.5 0h0m-38 0.5h0m6.5 0h0m0.5 0h0m24.5 0h0m-48 0.5h0m25.5 0h0m6.5 0h0m9.5 0h0m10.5 0h0m-53 0.5h0m26.5 0h0m26 0h0m-57.5 0.5h0m52.5 0h0m-47 0.5h0m12.5 0h0m2 0h0m21 0h0m20 0h0m-58 0.5h0m15 0h0m25.5 0h0m1 0h0m15.5 0h0m-57 0.5h0m31 0h0m5.5 0h0m-38 0.5h0m1 0h0m25.5 0h0m24 0.5h0m8.5 0h0m-58.5 0.5h0m17 0h0m17 0h0m9.5 0h0m-31 0.5h0m9 0h0m37.5 0h0m-55 0.5h0m9.5 0h0m12.5 0h0m11 0h0m14.5 0h0m7.5 0h0m-28 0.5h0m18 0.5h0m0 0h0m3.5 0h0m6 0h0m-48 0.5h0m22 0h0m5 0h0m11 0h0m4.5 0h0m-55 0.5h0m3 0h0m34 0h0m22 0h0m-50 0.5h0m37.5 0h0m15 0h0m-54.5 0.5h0m2 0h0m43 0h0m-48 1h0m34 0h0m0.5 0h0m-24 0.5h0m2.5 0h0m22 0h0m1 0h0m-35.5 0.5h0m9 0h0m4 0h0m6 0h0m2 0h0m11 0h0m10 0h0m-48 0.5h0m31.5 0h0m17 0h0m14.5 0h0m-56.5 0.5h0m13.5 0h0m26.5 0h0m-8 0.5h0m0.5 0h0m6 0h0m0 0h0m15.5 0h0m-42 0.5h0m19.5 0h0m21.5 0h0m-19.5 0.5h0m-33.5 0.5h0m3 0h0m10 0h0m32 0h0m-47.5 0.5h0m43.5 0h0m-12.5 0.5h0m24 0h0m-31 0.5h0m20 0h0m7 0h0m8.5 0.5h0m-56 0.5h0m14 0h0m18.5 0h0m10.5 0h0m3 0h0m5 0h0m4 0h0m-57 0.5h0m22 0h0m27.5 0h0m2 0h0m2.5 0h0m-42.5 0.5h0m43 0h0m-57 0.5h0m9.5 0h0m4.5 0h0m7.5 0h0m5.5 0h0m-29 0.5h0m6.5 0h0m4 0h0m19.5 0h0m14 0h0m-17.5 0.5h0m29 0h0m-17 0.5h0m-35.5 0.5h0m5.5 0h0m5 0h0m22.5 0h0m15.5 0h0m-15 0.5h0m20.5 0h0m-54 0.5h0m4 0h0m1 0h0m21.5 0h0m8 0h0m9 0h0m-24 0.5h0m21.5 0.5h0m-7.5 0.5h0m0 0h0m-30.5 0.5h0m21.5 0h0m4.5 0h0m15 0h0m2 0h0m7 0h0m-56.5 0.5h0m51.5 0h0m7.5 0h0m-54.5 0.5h0m3.5 0h0m28 0h0m2 0h0m0 0h0m8 0h0m-33.5 0.5h0m14.5 0h0m29.5 0h0m0 0h0m-35 0.5h0m27 0h0m4 0h0m3 0h0m4 0h0m-56 0.5h0m4 0h0m5.5 0h0m15.5 0h0m11 0h0m10.5 0h0m7 0h0m-55 0.5h0m17.5 0h0m15.5 0h0m9.5 0h0m6 0h0m0 0h0m-50 0.5h0m1.5 0h0m21.5 0h0m2.5 0h0m0.5 0h0m9 0h0m13 0h0m3 0h0m3.5 0h0m-33 0.5h0m4 0h0m7 0h0m16 0h0m8.5 0h0m-53 0.5h0m9 0h0m15 0h0m0.5 0h0m2.5 0h0m13 0h0m7.5 0h0m2.5 0h0m2.5 0h0m1.5 0h0m4 0h0m0 0h0m-57.5 0.5h0m4 0h0m6.5 0h0m7.5 0h0m12.5 0h0m2 0h0m1 0h0m16.5 0h0m3 0h0m0.5 0h0m0.5 0h0m-51 0.5h0m12.5 0h0m33.5 0h0m-50 0.5h0m10.5 0h0m11 0h0m1 0h0m3.5 0h0m22 0h0m7.5 0h0m-59 0.5h0m9.5 0h0m41.5 0h0m1.5 0h0m-48.5 0.5h0m33 0h0m12.5 0h0m4 0h0m7.5 0h0m-37 0.5h0m3 0h0m3.5 0h0m32 0h0m-63 0.5h0m6 0h0m2 0h0m19.5 0h0m0 0h0m-27 0.5h0m6 0h0m39.5 0h0m8.5 0h0m2.5 0h0m2 0h0m2 0h0m-57 0.5h0m13.5 0h0m17.5 0h0m6.5 0h0m6.5 0h0m1 0h0m-35.5 0.5h0m1.5 0h0m1 0h0m5.5 0h0m3 0h0m0.5 0h0m18.5 0h0m7.5 0h0m-41.5 0.5h0m1 0h0m7.5 0h0m15 0h0m2.5 0h0m12 0h0m2 0h0m10 0h0m-18 0.5h0m5 0h0m-34.5 0.5h0m11.5 0h0m1.5 0h0m16 0h0m7.5 0h0m-25 0.5h0m2.5 0h0m3 0h0m13.5 0h0m7.5 0h0m-49.5 0.5h0m0.5 0h0m3.5 0h0m15 0h0m2.5 0h0m15.5 0h0m3 0h0m2 0h0m0 0h0m5.5 0h0m3.5 0h0m5.5 0h0m-52.5 0.5h0m15.5 0h0m1 0h0m31.5 0h0m-47 0.5h0m2 0h0m5.5 0h0m10 0h0m8 0h0m8 0h0m9 0h0m11.5 0h0m-58 0.5h0m6 0h0m17.5 0h0m2 0h0m27.5 0h0m6 0h0m-49.5 0.5h0m19 0h0m2.5 0h0m1 0h0m21 0h0m3 0h0m-58 0.5h0m1 0h0m9 0h0m3 0h0m21.5 0h0m8.5 0h0m1 0h0m-42.5 0.5h0m5 0h0m14.5 0h0m3.5 0h0m3 0h0m4.5 0h0m1 0h0m2 0h0m3 0h0m13.5 0h0m0.5 0h0m2.5 0h0m3.5 0h0m0 0h0m-51.5 0.5h0m13.5 0h0m1.5 0h0m2 0h0m1 0h0m12.5 0h0m7.5 0h0m13 0h0m-55.5 0.5h0m9 0h0m3.5 0h0m32 0h0m10.5 0h0m-54 0.5h0m13 0h0m21 0h0m16.5 0h0m-50 0.5h0m0 0h0m6.5 0h0m12.5 0h0m21.5 0h0m4.5 0h0m4.5 0h0m5.5 0h0m-38 0.5h0m11 0h0m13 0h0m6 0h0m7 0h0m6 0h0m-60.5 0.5h0m9 0h0m15.5 0h0m12 0h0m1.5 0h0m4 0h0m-41.5 0.5h0m38.5 0h0m4 0h0m6 0h0m5 0h0m-37.5 0.5h0m4.5 0h0m16 0h0m-29 0.5h0m13 0h0m6 0h0m31.5 0h0m-60 0.5h0m27 0h0m7.5 0h0m5.5 0h0m6.5 0h0m1.5 0h0m13 0h0m-51 0.5h0m9 0h0m2.5 0h0m7 0h0m17 0h0m2.5 0h0m10 0h0m2.5 0h0m1.5 0h0m-53 0.5h0m2.5 0h0m15 0h0m32.5 0h0m1 0h0m-51 0.5h0m13.5 0h0m5 0h0m14.5 0h0m3.5 0h0m-44.5 0.5h0m2 0h0m27 0h0m7 0h0m4.5 0h0m8.5 0h0m12 0h0m-47 0.5h0m29.5 0h0m10 0h0m-36 0.5h0m3.5 0h0m2 0h0m11 0h0m10 0h0m4 0h0m2 0h0m3 0h0m-49.5 0.5h0m40 0h0m0 0h0m2.5 0h0m1 0h0m-42 0.5h0m14.5 0h0m5 0h0m15 0h0m13.5 0h0m-51 0.5h0m0.5 0h0m4.5 0h0m19 0h0m2.5 0h0m26.5 0h0m-50.5 0.5h0m4 0h0m7.5 0h0m14.5 0h0m15 0h0m10.5 0h0m-39.5 0.5h0m4 0h0m12 0h0m3 0h0m26.5 0h0m-62.5 0.5h0m11 0h0m7.5 0h0m12 0h0m5.5 0h0m4 0h0m1 0h0m1 0h0m8.5 0h0m9 0h0m2.5 0h0m-61.5 0.5h0m9.5 0h0m23.5 0h0m6 0h0m7.5 0h0m-42 0.5h0m4.5 0h0m13.5 0h0m3 0h0m0.5 0h0m6 0h0m-34 0.5h0m3 0h0m5 0h0m3.5 0h0m15.5 0h0m11 0h0m8 0h0m11.5 0h0m-33.5 0.5h0m24.5 0h0m14.5 0h0m-32.5 0.5h0m1 0h0m12.5 0h0m-44.5 0.5h0m18 0h0m17 0h0m4 0h0m2.5 0h0m5.5 0h0m12 0h0m-41 0.5h0m23.5 0h0m8 0h0m3 0h0m4 0h0m6.5 0h0m-56.5 0.5h0m8.5 0h0m24 0h0m-32.5 0.5h0m2 0h0m18.5 0h0m14.5 0h0m5.5 0h0m2 0h0m-42.5 0.5h0m16.5 0h0m5 0h0m15 0h0m20 0h0m-44 0.5h0m7 0h0m3.5 0h0m7 0h0m13.5 0h0m1 0h0m3 0h0m-24.5 0.5h0m22.5 0h0m5 0h0m7.5 0h0m-54.5 0.5h0m2 0h0m9.5 0h0m3 0h0m2.5 0h0m1.5 0h0m24.5 0h0m-44.5 0.5h0m6.5 0h0m28.5 0h0m-34.5 0.5h0m8 0h0m13.5 0h0m1 0h0m4 0h0m4.5 0h0m8.5 0h0m2 0h0m-42 0.5h0m4.5 0h0m1 0h0m9 0h0m12.5 0h0m2.5 0h0m7.5 0h0m9 0h0m1.5 0h0m1 0h0m-56 0.5h0m6 0h0m0.5 0h0m8 0h0m6.5 0h0m12.5 0h0m1 0h0m20.5 0h0m-48.5 0.5h0m1.5 0h0m11.5 0h0m13.5 0h0m12.5 0h0m3 0h0m-49.5 0.5h0m14 0h0m0.5 0h0m6 0h0m7 0h0m3 0h0m13 0h0m-39.5 0.5h0m15 0h0m13 0h0m25 0h0m-51.5 0.5h0m1.5 0h0m7 0h0m16.5 0h0m3.5 0h0m4.5 0h0m1 0h0m2 0h0m7.5 0h0m0.5 0h0m7 0h0m-53.5 0.5h0m0.5 0h0m4.5 0h0m29.5 0h0m13.5 0h0m4.5 0h0m3.5 0h0m2 0h0m3 0h0m-53.5 0.5h0m12.5 0h0m8 0h0m1.5 0h0m5 0h0m3.5 0h0m1.5 0h0m3.5 0h0m1.5 0h0m4 0h0m0.5 0h0m-45.5 0.5h0m3.5 0h0m4.5 0h0m10 0h0m37.5 0h0m-54 0.5h0m9 0h0m0.5 0h0m1 0h0m2 0h0m20 0h0m4 0h0m-41 0.5h0m13 0h0m28.5 0h0m11.5 0h0m7.5 0h0m-32 0.5h0m9.5 0h0m9.5 0h0m3.5 0h0m1.5 0h0m-46.5 0.5h0m9 0h0m40 0h0m-55.5 0.5h0m3.5 0h0m0 0h0m32.5 0h0m8 0h0m6.5 0h0m4.5 0.5h0m-20.5 0.5h0m15 0h0m8.5 0h0m-50.5 0.5h0m44.5 0h0m5.5 0h0m3 0h0m-23.5 0.5h0m5.5 0h0m-45 0.5h0m12 0h0m12 0h0m3.5 0h0m23 0h0m-39.5 0.5h0m6.5 0h0m5 0h0m24 0h0m-41 0.5h0m12.5 0h0m15.5 0h0m24.5 0h0m-58 0.5h0m1 0h0m10 0h0m28 0h0m22 0h0m-49.5 0.5h0m1.5 0h0m1.5 0h0m37 0h0m5 0h0m-55 0.5h0m1 0h0m6.5 0h0m20 0h0m27 0h0m7 0h0m-54 0.5h0m6.5 0h0m11.5 0h0m3 0h0m16 0h0m4 0h0m-50 1h0m1.5 0h0m8.5 0h0m27 0h0m24 0h0m-58.5 0.5h0m3.5 0h0m6.5 0h0m27 0h0m-33.5 0.5h0m12.5 0h0m-12 0.5h0m22.5 0h0m3.5 0h0m5.5 0h0m17 0h0m9 0h0m-13.5 0.5h0m12.5 0h0m-56 0.5h0m2.5 0h0m2.5 0h0m25 0h0m0 0h0m3.5 0h0m2 0h0m1.5 0h0m-42 0.5h0m13.5 0h0m3 0h0m30.5 0h0m2 0h0m-28 0.5h0m0.5 0h0m-23 0.5h0m6 0h0m11.5 0h0m2.5 0h0m18 0h0m7 0h0m17.5 0h0m-9 0.5h0m9 0h0m-32.5 0.5h0m3 0h0m2 0h0m24 0h0m-44.5 0.5h0m22 0h0m4 0h0m-27.5 0.5h0m9.5 0h0m0.5 0h0m1.5 0h0m1.5 0h0m16 0h0m-34 0.5h0m0 0h0m15 0h0m-24.5 0.5h0m3 0h0m16.5 0h0m19.5 0h0m10 0h0m-23 0.5h0m30 0h0m-33 1h0m1 0h0m14.5 0.5h0m-17 0.5h0m25.5 0h0m3.5 0h0m-36 0.5h0m37 0h0m-25 0.5h0m17.5 0.5h0m-17.5 0.5h0m32 0h0m-36 0.5h0m1.5 0.5h0m16.5 0.5h0m6 0h0m15 0h0m-19.5 0.5h0m9.5 0h0m-22.5 0.5h0m11.5 0h0m23 0h0m-1.5 1h0m-41.5 0.5h0m17.5 0.5h0m5 0h0m-37 0.5h0m22 0h0m14 0h0m-8 0.5h0m25.5 0h0m-14.5 0.5h0m2 0h0m15 0h0m-58 0.5h0m13 0h0m34.5 0h0m-7.5 0.5h0m7 0.5h0m-33.5 0.5h0m-1.5 0.5h0m1 0h0m45.5 0h0m-38 0.5h0m-1 0.5h0m5 0h0m-22.5 0.5h0m24.5 0h0m12 0h0m0 0h0m-4.5 0.5h0m8.5 0.5h0m12 0h0m-44 0.5h0m3.5 0h0m25 0.5h0m15.5 0h0m-27 0.5h0m17 0h0m4 0h0m-7 1h0m-15.5 1h0m-16.5 0.5h0m23 0h0m7.5 0.5h0m0 0.5h0m3 0h0m-12 0.5h0m-32.5 0.5h0m8.5 0.5h0m3.5 0.5h0m24.5 0h0m20.5 1h0m-42.5 0.5h0m35 0h0m-19 1.5h0m31.5 0h0m-33.5 0.5h0m12 0h0m-34 0.5h0m-3 1h0m34 2h0m9.5 0h0m-48 1h0m58 0h0m-30.5 2h0m8.5 0.5h0m10 0.5h0m17 0h0m-13.5 0.5h0m5 0h0m-4 0.5h0m-47.5 0.5h0m4.5 1h0m53.5 0h0m-34.5 0.5h0m-23 1h0m30 0h0m3.5 0.5h0m-32 0.5h0m20.5 0.5h0m8.5 0h0m0.5 0.5h0m-22 0.5h0m24 1h0m-20.5 0.5h0m3 0h0m29.5 0h0m-2 0.5h0m6 0.5h0m-49.5 0.5h0m28 0h0m20 0h0m10 0h0m-16 1h0" stroke="#1a1a1a" stroke-width="1.55" stroke-linecap="square" fill="none"/>
<path d="M358 255h0m25.5 0h0m1 0h0m0.5 0h0m0.5 0h0m3 0h0m3 0h0m15.5 0h0m1 0h0m-23.5 0.5h0m2.5 0h0m11 0h0m18.5 0h0m1.5 0h0m0.5 0h0m-50 0.5h0m4.5 0h0m7.5 0h0m1 0h0m9.5 0h0m4 0h0m8 0h0m2 0h0m0.5 0h0m7 0h0m4.5 0h0m-54 0.5h0m1 0h0m0.5 0h0m2 0h0m30 0h0m0 0h0m4 0h0m19 0h0m-57 0.5h0m5 0h0m11.5 0h0m0 0h0m5 0h0m29 0h0m-55 0.5h0m9.5 0h0m13.5 0h0m1 0h0m4.5 0h0m7.5 0h0m2.5 0h0m4.5 0h0m1 0h0m16 0h0m-52.5 0.5h0m8 0h0m5.5 0h0m7 0h0m0 0h0m9.5 0h0m7 0h0m5.5 0h0m1 0h0m1.5 0h0m6 0h0m4.5 0h0m-60.5 0.5h0m7 0h0m1 0h0m4 0h0m0.5 0h0m0 0h0m4.5 0h0m2 0h0m1.5 0h0m7 0h0m0.5 0h0m4.5 0h0m1 0h0m1 0h0m5.5 0h0m2 0h0m0.5 0h0m0.5 0h0m1.5 0h0m10 0h0m1 0h0m2 0h0m1 0h0m-60.5 0.5h0m3.5 0h0m0.5 0h0m6.5 0h0m1 0h0m1.5 0h0m6.5 0h0m1 0h0m1.5 0h0m2 0h0m2 0h0m0.5 0h0m2.5 0h0m1.5 0h0m5 0h0m2 0h0m1.5 0h0m0 0h0m1 0h0m3.5 0h0m2 0h0m7 0h0m2.5 0h0m5 0h0m0.5 0h0m-54.5 0.5h0m6.5 0h0m3 0h0m0.5 0h0m14.5 0h0m2.5 0h0m3 0h0m1.5 0h0m1.5 0h0m9.5 0h0m5 0h0m0.5 0h0m1 0h0m1.5 0h0m0 0h0m2 0h0m2 0h0m-63 0.5h0m3.5 0h0m2 0h0m1.5 0h0m5 0h0m0.5 0h0m2 0h0m8 0h0m12.5 0h0m2 0h0m1 0h0m1 0h0m6 0h0m4 0h0m3.5 0h0m4.5 0h0m8 0h0m-63.5 0.5h0m0.5 0h0m9 0h0m1.5 0h0m3.5 0h0m2.5 0h0m0.5 0h0m2.5 0h0m4 0h0m1 0h0m5 0h0m1.5 0h0m4.5 0h0m2 0h0m3 0h0m1 0h0m7.5 0h0m2.5 0h0m0 0h0m2.5 0h0m5.5 0h0m3.5 0h0m0 0h0m-61 0.5h0m5 0h0m0 0h0m14.5 0h0m1 0h0m0.5 0h0m4.5 0h0m0.5 0h0m1 0h0m2 0h0m0 0h0m0.5 0h0m2 0h0m14 0h0m0 0h0m2 0h0m2 0h0m3 0h0m1 0h0m1.5 0h0m5.5 0h0m-64 0.5h0m10 0h0m5.5 0h0m9.5 0h0m16 0h0m6 0h0m1 0h0m1 0h0m5.5 0h0m1.5 0h0m5.5 0h0m-61.5 0.5h0m0.5 0h0m0 0h0m1.5 0h0m7.5 0h0m0 0h0m7.5 0h0m2 0h0m6 0h0m3 0h0m0.5 0h0m2 0h0m2.5 0h0m3 0h0m2 0h0m3.5 0h0m2 0h0m1.5 0h0m12.5 0h0m0.5 0h0m3 0h0m0 0h0m0 0h0m1 0h0m-62 0.5h0m3 0h0m2 0h0m3.5 0h0m0 0h0m9 0h0m1.5 0h0m3.5 0h0m0 0h0m1 0h0m0 0h0m1 0h0m5 0h0m7.5 0h0m0.5 0h0m0.5 0h0m1.5 0h0m15 0h0m1 0h0m2 0h0m1 0h0m0.5 0h0m0.5 0h0m4 0h0m1 0h0m-61 0.5h0m0.5 0h0m2.5 0h0m4 0h0m3 0h0m0 0h0m0 0h0m6.5 0h0m1 0h0m5 0h0m0.5 0h0m2.5 0h0m2 0h0m1.5 0h0m1.5 0h0m0.5 0h0m0.5 0h0m1 0h0m3.5 0h0m2 0h0m1.5 0h0m1.5 0h0m0 0h0m4.5 0h0m1.5 0h0m3.5 0h0m3 0h0m1.5 0h0m1.5 0h0m1.5 0h0m-60 0.5h0m2 0h0m1 0h0m1 0h0m2 0h0m0.5 0h0m0.5 0h0m0.5 0h0m1 0h0m1 0h0m0.5 0h0m1.5 0h0m0 0h0m3.5 0h0m3 0h0m2 0h0m0.5 0h0m5.5 0h0m0.5 0h0m1 0h0m2 0h0m0.5 0h0m1 0h0m1.5 0h0m2.5 0h0m4.5 0h0m2.5 0h0m0.5 0h0m2 0h0m7.5 0h0m1.5 0h0m1 0h0m1.5 0h0m2.5 0h0m1 0h0m-58.5 0.5h0m4.5 0h0m10.5 0h0m3.5 0h0m1.5 0h0m3.5 0h0m1 0h0m3.5 0h0m1.5 0h0m5.5 0h0m0.5 0h0m6.5 0h0m6 0h0m10.5 0h0m3 0h0m-57.5 0.5h0m3 0h0m0 0h0m0 0h0m1.5 0h0m0.5 0h0m1 0h0m6.5 0h0m0.5 0h0m0 0h0m3 0h0m3.5 0h0m1 0h0m1.5 0h0m7 0h0m6 0h0m0 0h0m1 0h0m16.5 0h0m3.5 0h0m0.5 0h0m-63.5 0.5h0m2 0h0m2 0h0m1.5 0h0m0 0h0m4 0h0m0 0h0m3 0h0m5 0h0m1 0h0m1.5 0h0m3.5 0h0m0.5 0h0m12.5 0h0m1 0h0m6 0h0m0.5 0h0m3 0h0m7 0h0m4.5 0h0m0.5 0h0m3.5 0h0m0.5 0h0m-55.5 0.5h0m5 0h0m2 0h0m7.5 0h0m0.5 0h0m1.5 0h0m0 0h0m1.5 0h0m2.5 0h0m1.5 0h0m1.5 0h0m7 0h0m3 0h0m1 0h0m1.5 0h0m5 0h0m0 0h0m1 0h0m5.5 0h0m3 0h0m1.5 0h0m0 0h0m0 0h0m-59 0.5h0m18 0h0m0.5 0h0m2 0h0m2 0h0m0.5 0h0m1.5 0h0m1.5 0h0m8 0h0m2 0h0m1 0h0m0 0h0m10 0h0m1 0h0m2.5 0h0m0.5 0h0m1 0h0m0.5 0h0m5.5 0h0m4.5 0h0m0 0h0m-61 0.5h0m7.5 0h0m1 0h0m2.5 0h0m1.5 0h0m0.5 0h0m1 0h0m0.5 0h0m0.5 0h0m1.5 0h0m2 0h0m2 0h0m2.5 0h0m2.5 0h0m1 0h0m1 0h0m2.5 0h0m1 0h0m1.5 0h0m7.5 0h0m1 0h0m0 0h0m0 0h0m4 0h0m2 0h0m6 0h0m2 0h0m4 0h0m1 0h0m1.5 0h0m-62 0.5h0m1.5 0h0m1 0h0m0 0h0m4 0h0m0.5 0h0m4 0h0m1.5 0h0m1 0h0m1 0h0m1.5 0h0m1 0h0m3 0h0m1 0h0m0 0h0m0.5 0h0m1 0h0m2 0h0m1 0h0m10 0h0m0 0h0m1 0h0m0 0h0m7.5 0h0m1.5 0h0m1 0h0m5.5 0h0m2 0h0m3 0h0m0 0h0m2 0h0m1 0h0m-56.5 0.5h0m2 0h0m1 0h0m4 0h0m2 0h0m3 0h0m1.5 0h0m0.5 0h0m1.5 0h0m3.5 0h0m0.5 0h0m0.5 0h0m1.5 0h0m3 0h0m3.5 0h0m8 0h0m1.5 0h0m0.5 0h0m1.5 0h0m0.5 0h0m0.5 0h0m2.5 0h0m2.5 0h0m-50 0.5h0m1.5 0h0m3 0h0m2.5 0h0m1 0h0m4.5 0h0m0 0h0m0.5 0h0m1 0h0m1 0h0m4 0h0m1 0h0m3 0h0m2.5 0h0m3 0h0m5 0h0m0.5 0h0m4 0h0m0.5 0h0m4 0h0m3 0h0m0 0h0m0 0h0m7 0h0m0.5 0h0m3 0h0m1 0h0m0.5 0h0m0.5 0h0m0.5 0h0m2 0h0m-58.5 0.5h0m4 0h0m5.5 0h0m0.5 0h0m0.5 0h0m0 0h0m1 0h0m3.5 0h0m0.5 0h0m1.5 0h0m0.5 0h0m1 0h0m4.5 0h0m1 0h0m3 0h0m5.5 0h0m2 0h0m2 0h0m3 0h0m1.5 0h0m1.5 0h0m0.5 0h0m1 0h0m1 0h0m6.5 0h0m4 0h0m2 0h0m5 0h0m-63.5 0.5h0m0.5 0h0m1.5 0h0m4 0h0m0 0h0m4 0h0m7.5 0h0m2.5 0h0m0.5 0h0m0.5 0h0m3 0h0m4 0h0m2.5 0h0m4 0h0m0 0h0m0.5 0h0m0 0h0m1.5 0h0m1 0h0m2 0h0m2.5 0h0m5.5 0h0m4.5 0h0m0.5 0h0m1.5 0h0m3.5 0h0m0.5 0h0m2.5 0h0m1.5 0h0m1 0h0m-60.5 0.5h0m1 0h0m0 0h0m4 0h0m2.5 0h0m0 0h0m2.5 0h0m0 0h0m4.5 0h0m1 0h0m3.5 0h0m0.5 0h0m1 0h0m0 0h0m1.5 0h0m7.5 0h0m1.5 0h0m2 0h0m4 0h0m0.5 0h0m6 0h0m0 0h0m3.5 0h0m2 0h0m1.5 0h0m1.5 0h0m4.5 0h0m0 0h0m3.5 0h0m-62 0.5h0m0 0h0m1 0h0m2 0h0m0 0h0m0.5 0h0m2 0h0m6 0h0m0.5 0h0m1.5 0h0m0 0h0m0.5 0h0m1.5 0h0m5.5 0h0m0.5 0h0m2 0h0m2.5 0h0m4 0h0m2 0h0m0.5 0h0m0.5 0h0m2.5 0h0m1 0h0m1.5 0h0m5.5 0h0m1 0h0m6 0h0m1.5 0h0m0 0h0m2.5 0h0m2.5 0h0m0.5 0h0m2 0h0m3 0h0m-63.5 0.5h0m3.5 0h0m1.5 0h0m2.5 0h0m6 0h0m0.5 0h0m0.5 0h0m0.5 0h0m3 0h0m4 0h0m0.5 0h0m3 0h0m1 0h0m1.5 0h0m11 0h0m7.5 0h0m7 0h0m0.5 0h0m0.5 0h0m2.5 0h0m2.5 0h0m1.5 0h0m0 0h0m1.5 0h0m1 0h0m-56 0.5h0m0.5 0h0m0.5 0h0m0.5 0h0m0 0h0m2 0h0m0.5 0h0m0 0h0m1.5 0h0m1 0h0m2.5 0h0m0.5 0h0m2 0h0m0 0h0m6.5 0h0m6 0h0m2.5 0h0m8.5 0h0m1 0h0m1.5 0h0m1 0h0m0 0h0m0.5 0h0m7 0h0m1 0h0m6.5 0h0m1.5 0h0m0.5 0h0m-59.5 0.5h0m2.5 0h0m1.5 0h0m1 0h0m5 0h0m2 0h0m5.5 0h0m8 0h0m15 0h0m5 0h0m1.5 0h0m1.5 0h0m1 0h0m1 0h0m3 0h0m2.5 0h0m-58.5 0.5h0m6 0h0m15 0h0m3.5 0h0m1.5 0h0m4 0h0m1 0h0m0.5 0h0m8.5 0h0m3 0h0m2.5 0h0m6.5 0h0m1 0h0m3.5 0h0m2 0h0m4 0h0m-64 0.5h0m0 0h0m0.5 0h0m0.5 0h0m2 0h0m0 0h0m0.5 0h0m2 0h0m4.5 0h0m0.5 0h0m10.5 0h0m8.5 0h0m1 0h0m4 0h0m2.5 0h0m3.5 0h0m1 0h0m1 0h0m11.5 0h0m0.5 0h0m4 0h0m5.5 0h0m-63.5 0.5h0m5 0h0m7 0h0m0 0h0m0.5 0h0m13 0h0m0 0h0m1 0h0m0.5 0h0m9.5 0h0m9.5 0h0m2.5 0h0m3.5 0h0m1 0h0m1.5 0h0m5 0h0m1.5 0h0m1 0h0m-62.5 0.5h0m0.5 0h0m1.5 0h0m12.5 0h0m2 0h0m5 0h0m7 0h0m0.5 0h0m2 0h0m12.5 0h0m6.5 0h0m0.5 0h0m4 0h0m1 0h0m1 0h0m7 0h0m1 0h0m-55.5 0.5h0m0 0h0m2 0h0m8 0h0m2.5 0h0m5.5 0h0m7.5 0h0m4 0h0m2.5 0h0m2 0h0m5 0h0m12 0h0m-59 0.5h0m11 0h0m0.5 0h0m0 0h0m5 0h0m0 0h0m1 0h0m1.5 0h0m1 0h0m14 0h0m0 0h0m4 0h0m1.5 0h0m0.5 0h0m3 0h0m0.5 0h0m1 0h0m3.5 0h0m3.5 0h0m6.5 0h0m0.5 0h0m0.5 0h0m1 0h0m-58 0.5h0m3.5 0h0m1.5 0h0m0 0h0m1 0h0m9.5 0h0m0 0h0m9.5 0h0m5 0h0m0.5 0h0m6 0h0m6.5 0h0m0.5 0h0m2 0h0m2.5 0h0m0.5 0h0m1.5 0h0m0.5 0h0m4.5 0h0m5 0h0m0.5 0h0m0.5 0h0m0.5 0h0m-55 0.5h0m0.5 0h0m3 0h0m0.5 0h0m4 0h0m6.5 0h0m1.5 0h0m3.5 0h0m1 0h0m2 0h0m1 0h0m1 0h0m4.5 0h0m3.5 0h0m2.5 0h0m12 0h0m5.5 0h0m1.5 0h0m-62 0.5h0m2 0h0m1.5 0h0m0 0h0m1 0h0m4 0h0m4.5 0h0m3.5 0h0m16.5 0h0m1 0h0m3 0h0m7.5 0h0m3.5 0h0m9 0h0m1 0h0m2.5 0h0m1.5 0h0m1 0h0m-64.5 0.5h0m0.5 0h0m8 0h0m2.5 0h0m9.5 0h0m10 0h0m3 0h0m3 0h0m1 0h0m2 0h0m20.5 0h0m4 0h0m-60 0.5h0m2.5 0h0m0.5 0h0m33.5 0h0m-40 0.5h0m0.5 0h0m6 0h0m12.5 0h0m1.5 0h0m0.5 0h0m8.5 0h0m25 0h0m-51 0.5h0m3.5 0h0m8 0h0m13 0h0m5 0h0m2 0h0m9.5 0h0m13 0h0m5 0h0m-60 0.5h0m7.5 0h0m30.5 0h0m12 0h0m2.5 0h0m8.5 0h0m-51.5 0.5h0m12.5 0h0m1 0h0m18.5 0h0m7.5 0h0m6 0h0m4.5 0h0m-50.5 0.5h0m0.5 0h0m19.5 0h0m3.5 0h0m10.5 0h0m4 0h0m0 0h0m11 0h0m-58 0.5h0m11.5 0h0m0.5 0h0m0.5 0h0m10 0h0m28 0h0m-47 0.5h0m34.5 90.5h0m5.5 9.5h0" stroke="#1a1a1a" stroke-width="1.55" stroke-linecap="square" fill="none"/>
</g>
<text transform="translate(254.9,382.4) scale(1,1.16)" class="tk" text-anchor="end">88</text>
<text transform="translate(254.9,340.7) scale(1,1.16)" class="tk" text-anchor="end">89</text>
<text transform="translate(254.9,299.0) scale(1,1.16)" class="tk" text-anchor="end">90</text>
<text transform="translate(254.9,257.3) scale(1,1.16)" class="tk" text-anchor="end">91</text>
<text transform="translate(308.4,406.7) scale(1,1.04)" class="tk" text-anchor="middle">ECM</text>
<text transform="translate(388.6,406.7) scale(1,1.04)" class="tk" text-anchor="middle">ML</text>
<text transform="translate(232.90000000000003,245.0) rotate(-90)" class="yt" text-anchor="end">Memory</text>
<rect x="507.5" y="244" width="178.5" height="145.7" fill="#F2F2F2"/>
<path d="M507.5 385.20H686M507.5 370.81H686M507.5 356.43H686M507.5 342.04H686M507.5 327.65H686M507.5 313.26H686M507.5 298.88H686M507.5 284.49H686M507.5 270.10H686M507.5 255.71H686M556.60 244V389.7M636.80 244V389.7" stroke="#D3D3D3" stroke-width="1.1" fill="none"/>
<clipPath id="c5"><rect x="507.5" y="244" width="178.5" height="145.7"/></clipPath>
<g clip-path="url(#c5)">
<path d="M556.60 346.35V296.00M556.60 378.01V385.20" stroke="#7a7a7a" stroke-width="1.5" fill="none"/>
<rect x="536.30" y="346.35" width="40.60" height="31.65" fill="#00FF00" stroke="#333" stroke-width="0.9"/>
<path d="M536.30 367.94H576.90" stroke="#333" stroke-width="1.2"/>
<path d="M636.80 339.74V283.05M636.80 376.57V385.20" stroke="#7a7a7a" stroke-width="1.5" fill="none"/>
<rect x="616.50" y="339.74" width="40.60" height="36.83" fill="#FFFF00" stroke="#333" stroke-width="0.9"/>
<path d="M616.50 364.48H657.10" stroke="#333" stroke-width="1.2"/>
<path d="M527 252h0m8.5 1.5h0m51.5 0h0m-38 1.5h0m36.5 0.5h0m-16.5 2h0m-22 0.5h0m-7 1h0m20 0h0m4.5 0.5h0m-1.5 0.5h0m-7.5 3h0m-29.5 0.5h0m6.5 0.5h0m43 0h0m-51 0.5h0m55.5 5.5h0m6.5 0h0m-12.5 0.5h0m-44.5 1h0m-5 2.5h0m54 0h0m6.5 0h0m-50.5 0.5h0m4.5 0h0m-6 0.5h0m15.5 0h0m13.5 1h0m19.5 1.5h0m-41.5 1h0m33.5 0h0m-38.5 0.5h0m41.5 1h0m-14.5 0.5h0m-13 0.5h0m-17.5 2.5h0m10 4h0m0.5 2.5h0m9.5 0h0m10 0.5h0m-17.5 0.5h0m26 1h0m-13 2h0m-3 0.5h0m1.5 1h0m-28 3.5h0m5 2h0m15 1h0m0 0.5h0m35 0h0m-20.5 0.5h0m-32.5 1.5h0m14 0h0m44 1h0m-33 1h0m33.5 0.5h0m-38.5 1h0m30.5 0h0m-55 0.5h0m51.5 0h0m-7 0.5h0m-6.5 0.5h0m-26.5 0.5h0m12.5 0h0m-21 0.5h0m49.5 2h0m-47.5 0.5h0m27.5 0h0m-28.5 1h0m3 0.5h0m44 0h0m6 0.5h0m-51.5 0.5h0m22 0h0m-5 0.5h0m18.5 0h0m4 0.5h0m10.5 0.5h0m-31.5 0.5h0m23.5 0.5h0m-47.5 1h0m51 0h0m-6.5 1h0m-14 0.5h0m4.5 0h0m-22 1h0m9.5 0.5h0m18 0h0m-33 1h0m7.5 0h0m32 1h0m-33 1h0m24 0h0m-36.5 0.5h0m38.5 0h0m-21.5 0.5h0m-12 0.5h0m14.5 0h0m0 0h0m-0.5 0.5h0m27 0h0m6 0h0m1.5 0h0m6.5 0h0m-11.5 0.5h0m6 0h0m-34.5 0.5h0m6 0h0m-5.5 1h0m13.5 0h0m22.5 0h0m-35 1h0m19.5 0h0m-22 0.5h0m30.5 0h0m4 0h0m-53 0.5h0m2 0h0m14.5 0h0m-0.5 0.5h0m20.5 0h0m14 0h0m9.5 0.5h0m-39.5 0.5h0m7 0h0m9.5 0h0m-31 0.5h0m39.5 0.5h0m-23.5 0.5h0m2 0h0m35.5 0h0m-57 0.5h0m34 0.5h0m-36.5 0.5h0m28 0h0m28.5 0h0m-25 0.5h0m16.5 0h0m10 0h0m-5 0.5h0m-53 0.5h0m12 0h0m31.5 0h0m-40.5 0.5h0m45 0h0m12 0h0m-55.5 0.5h0m9.5 0h0m3 0h0m8.5 0h0m0.5 0h0m28 0h0m7.5 0h0m-33 0.5h0m19.5 0h0m-27.5 0.5h0m34.5 0.5h0m-36.5 0.5h0m24 0h0m11.5 0h0m5.5 0h0m-36 0.5h0m7.5 0h0m16 0h0m2.5 0.5h0m-19 0.5h0m-32 0.5h0m6.5 0h0m0.5 0h0m3.5 0h0m10.5 0h0m13.5 0h0m5.5 0h0m-34 0.5h0m14.5 0.5h0m17 0h0m1.5 0h0m23.5 0.5h0m-18.5 0.5h0m18.5 0h0m-43 0.5h0m9.5 0h0m27 0h0m-46.5 0.5h0m42 0h0m10.5 0h0m-49.5 1h0m15.5 0h0m6 0h0m-9 0.5h0m1.5 0h0m15.5 0h0m11 0h0m0.5 0h0m0 0h0m-33 0.5h0m18 0h0m24 0h0m-39.5 0.5h0m1.5 0h0m-20 0.5h0m21.5 0h0m-16 0.5h0m-9 0.5h0m3.5 0h0m27 0h0m19.5 0h0m-46.5 0.5h0m9 0h0m1.5 0h0m20 0h0m12 0h0m-16.5 0.5h0m3.5 0h0m7.5 0h0m-40 0.5h0m8.5 0h0m2.5 0h0m9 0h0m5.5 0h0m14.5 0h0m-40 0.5h0m35.5 0h0m6 0h0m-23 0.5h0m33 0h0m8.5 0h0m-49.5 0.5h0m12 0h0m3 0h0m23.5 0h0m-13 0.5h0m-13 0.5h0m4 0h0m9 0h0m2.5 0h0m4 0h0m11 0h0m-54.5 0.5h0m38.5 0h0m14 0h0m8.5 0h0m-54 0.5h0m2.5 0h0m10 0h0m8.5 0h0m7.5 0h0m9.5 0.5h0m8 0h0m-43 0.5h0m32.5 0h0m-30.5 0.5h0m3 0h0m15 0h0m-15.5 0.5h0m21 0h0m0.5 0h0m4.5 0h0m2 0h0m4 0h0m1.5 0h0m0 0h0m14.5 0h0m-36.5 0.5h0m2 0h0m-26 0.5h0m46 0h0m-46.5 0.5h0m14.5 0h0m14 0h0m4.5 0h0m12 0h0m13.5 0h0m-55.5 0.5h0m3.5 0h0m6 0h0m3 0h0m1.5 0h0m-18 0.5h0m0.5 0h0m3 0h0m7 0h0m15.5 0h0m9.5 0h0m26 0h0m-52 0.5h0m5 0h0m2 0h0m21 0h0m13 0h0m11 0h0m-51 0.5h0m-9.5 0.5h0m2 0h0m3 0h0m1 0h0m15.5 0h0m26.5 0h0m-36 0.5h0m28 0h0m-39.5 0.5h0m14 0h0m3 0h0m5.5 0h0m9.5 0h0m5.5 0h0m16.5 0h0m1 0h0m-32.5 0.5h0m31 0h0m2 0h0m3.5 0h0m-60.5 0.5h0m5.5 0h0m4 0h0m2.5 0h0m4.5 0h0m-16.5 0.5h0m12.5 0h0m8.5 0h0m4 0h0m1.5 0h0m15.5 0h0m4.5 0h0m3.5 0h0m9.5 0h0m-59 0.5h0m22 0h0m2.5 0h0m8 0h0m-16.5 0.5h0m3.5 0h0m0.5 0h0m9.5 0h0m6 0h0m7.5 0h0m15.5 0h0m-46 0.5h0m14 0h0m3 0h0m13 0h0m4.5 0h0m-37.5 0.5h0m5.5 0h0m11 0h0m6 0h0m2.5 0h0m-21.5 0.5h0m1.5 0h0m2 0h0m4.5 0h0m10.5 0h0m16.5 0h0m-40 0.5h0m47 0h0m6.5 0h0m0 0h0m-1.5 0.5h0m1.5 0h0m-61 0.5h0m27 0h0m-11 0.5h0m6 0h0m6 0h0m12 0h0m-34 0.5h0m19.5 0h0m9.5 0h0m20 0h0m-41 0.5h0m2 0h0m7.5 0h0m3 0h0m2 0h0m11 0h0m10.5 0h0m0.5 0h0m-50 0.5h0m1 0h0m0.5 0h0m15 0h0m5 0h0m1 0h0m16.5 0h0m6.5 0h0m7.5 0h0m1.5 0h0m-53.5 0.5h0m1 0h0m8.5 0h0m3.5 0h0m14.5 0h0m11 0h0m5 0h0m0.5 0h0m2 0h0m2.5 0h0m1.5 0h0m-50.5 0.5h0m3.5 0h0m0 0h0m1.5 0h0m5.5 0h0m3 0h0m4.5 0h0m5.5 0h0m5.5 0h0m6 0h0m1.5 0h0m9 0h0m-41 0.5h0m10 0h0m1 0h0m4.5 0h0m3 0h0m5 0h0m5.5 0h0m1 0h0m18.5 0h0m5.5 0h0m-51.5 0.5h0m5.5 0h0m7 0h0m7.5 0h0m4 0h0m5 0h0m10 0h0m0.5 0h0m7 0h0m0 0h0m0.5 0h0m0.5 0h0m-48 0.5h0m1.5 0h0m1 0h0m9.5 0h0m3.5 0h0m0 0h0m6.5 0h0m1 0h0m1 0h0m1.5 0h0m9 0h0m2.5 0h0m9.5 0h0m1 0h0m0.5 0h0m-55 0.5h0m2.5 0h0m16 0h0m9.5 0h0m0 0h0m7 0h0m1.5 0h0m1.5 0h0m9.5 0h0m4 0h0m-50 0.5h0m1.5 0h0m3.5 0h0m3.5 0h0m25 0h0m10.5 0h0m1 0h0m9 0h0m-53.5 0.5h0m0 0h0m2 0h0m10.5 0h0m1.5 0h0m8 0h0m22.5 0h0m-41.5 0.5h0m4.5 0h0m1 0h0m1.5 0h0m1 0h0m4 0h0m8.5 0h0m28 0h0m-50 0.5h0m18 0h0m4.5 0h0m4 0h0m8 0h0m-40 0.5h0m7 0h0m14.5 0h0m3 0h0m6 0h0m1.5 0h0m-33 0.5h0m0 0h0m4.5 0h0m8.5 0h0m2.5 0h0m2.5 0h0m2.5 0h0m6.5 0h0m3 0h0m-26 0.5h0m0.5 0h0m3.5 0h0m7.5 0h0m3.5 0h0m0.5 0h0m5 0h0m0 0h0m4 0h0m26.5 0h0m2 0h0m-55 0.5h0m3.5 0h0m0.5 0h0m6 0h0m17 0h0m11.5 0h0m1.5 0h0m4 0h0m3 0h0m7 0h0m5 0h0m-61.5 0.5h0m6.5 0h0m3.5 0h0m11.5 0h0m22 0h0m9.5 0h0m0.5 0h0m1.5 0h0m1.5 0h0m1.5 0h0m0.5 0h0m-57.5 0.5h0m26 0h0m18 0h0m7.5 0h0m1 0h0m-50.5 0.5h0m20 0h0m14.5 0h0m5.5 0h0m14.5 0h0m4 0h0m2 0h0m-39 0.5h0m4.5 0h0m4.5 0h0m4.5 0h0m1 0h0m1 0h0m0.5 0h0m12 0h0m1 0h0m1 0h0m-54.5 0.5h0m11 0h0m0.5 0h0m10.5 0h0m9.5 0h0m1.5 0h0m10.5 0h0m2.5 0h0m9 0h0m1 0h0m2 0h0m1.5 0h0m-59 0.5h0m6 0h0m7 0h0m0.5 0h0m13 0h0m2.5 0h0m2.5 0h0m3.5 0h0m4 0h0m3 0h0m0.5 0h0m15 0h0m-51 0.5h0m0.5 0h0m1 0h0m3.5 0h0m6.5 0h0m4.5 0h0m1 0h0m1 0h0m2.5 0h0m15 0h0m7.5 0h0m1 0h0m5 0h0m5.5 0h0m-61.5 0.5h0m15.5 0h0m9.5 0h0m1 0h0m3 0h0m6 0h0m0.5 0h0m4 0h0m4.5 0h0m1.5 0h0m16 0h0m0.5 0h0m-52 0.5h0m0 0h0m13 0h0m3 0h0m1 0h0m0 0h0m2 0h0m13 0h0m1 0h0m6 0h0m0.5 0h0m0.5 0h0m2 0h0m6 0h0m0 0h0m0.5 0h0m2.5 0h0m-55.5 0.5h0m6 0h0m6.5 0h0m1.5 0h0m3 0h0m10.5 0h0m0.5 0h0m10.5 0h0m5 0h0m3 0h0m9 0h0m-55.5 0.5h0m24.5 0h0m1 0h0m4 0h0m0 0h0m8 0h0m2.5 0h0m9 0h0m4.5 0h0m-59 0.5h0m1 0h0m1 0h0m2 0h0m32 0h0m7.5 0h0m3.5 0h0m10 0h0m-54 0.5h0m1.5 0h0m4.5 0h0m1.5 0h0m12 0h0m2 0h0m5 0h0m2 0h0m8 0h0m5.5 0h0m3.5 0h0m1 0h0m4 0h0m6 0h0m4 0h0m-64 0.5h0m2.5 0h0m2.5 0h0m8 0h0m0 0h0m2 0h0m7.5 0h0m3 0h0m2 0h0m3 0h0m0 0h0m0.5 0h0m2.5 0h0m3 0h0m1 0h0m1 0h0m1 0h0m2.5 0h0m1 0h0m11.5 0h0m0.5 0h0m2.5 0h0m3.5 0h0m0.5 0h0m3 0h0m-55 0.5h0m0.5 0h0m1.5 0h0m0 0h0m14 0h0m7 0h0m0.5 0h0m3 0h0m0.5 0h0m5 0h0m4.5 0h0m0 0h0m0.5 0h0m1 0h0m6.5 0h0m2 0h0m2.5 0h0m-40.5 0.5h0m13.5 0h0m2 0h0m14.5 0h0m4.5 0h0m1.5 0h0m11 0h0m-62.5 0.5h0m1 0h0m5.5 0h0m4 0h0m15 0h0m4 0h0m3 0h0m1 0h0m0.5 0h0m2.5 0h0m18 0h0m2.5 0h0m0 0h0m2 0h0m-51 0.5h0m0.5 0h0m4.5 0h0m6 0h0m3.5 0h0m0.5 0h0m1.5 0h0m6.5 0h0m2 0h0m1.5 0h0m0.5 0h0m5.5 0h0m0.5 0h0m7 0h0m-41 0.5h0m24.5 0h0m7 0h0m0.5 0h0m0.5 0h0m13.5 0h0m8 0h0m0 0h0" stroke="#141414" stroke-width="1.6" stroke-linecap="square" fill="none"/>
<path d="M651 254h0m-10 0.5h0m24 2h0m-42 0.5h0m12 2h0m-14 1h0m39.5 1.5h0m-30 1h0m24.5 0h0m12.5 0.5h0m-41 1h0m-19.5 0.5h0m29.5 0.5h0m6 0h0m7 0h0m-1 1h0m-32 0.5h0m-7.5 1.5h0m33.5 2.5h0m-38 1h0m30.5 2.5h0m10 0h0m18 0.5h0m-42.5 2h0m47 1.5h0m-48.5 0.5h0m0.5 0h0m48 1h0m-63 2h0m17.5 0h0m3.5 1h0m41.5 2.5h0m-48 0.5h0m3.5 0h0m42 0h0m-22 0.5h0m22.5 2.5h0m-45.5 2.5h0m33.5 0h0m-10 0.5h0m-33 0.5h0m56 1h0m-50.5 1h0m2.5 0h0m44.5 0h0m-40 0.5h0m8.5 0h0m13.5 0.5h0m-35 1h0m10.5 0.5h0m23.5 0h0m11 0h0m-42 0.5h0m7 0.5h0m34 0.5h0m-25.5 0.5h0m25.5 0.5h0m-16 1h0m11.5 0h0m-32 0.5h0m25 0h0m4 0h0m-16.5 0.5h0m14 0h0m-6.5 0.5h0m-6 0.5h0m1 0.5h0m-24 2.5h0m54 0h0m-43 0.5h0m40 0h0m-19.5 0.5h0m13 0h0m-2 0.5h0m11 0.5h0m0.5 0h0m-19.5 3.5h0m21.5 0h0m-24.5 1.5h0m15.5 1.5h0m11.5 0.5h0m1.5 0h0m-22.5 0.5h0m-18.5 1h0m21 0.5h0m-16.5 0.5h0m31.5 0h0m2.5 0h0m-58.5 1h0m22.5 0.5h0m1.5 0h0m24.5 0h0m-36 0.5h0m14.5 0.5h0m22 0h0m-3.5 0.5h0m13.5 0h0m-34.5 0.5h0m31 0.5h0m-17 0.5h0m10.5 0h0m-50.5 0.5h0m8.5 0h0m2.5 0.5h0m22 0h0m-29 1h0m1 0h0m29 0h0m16 0h0m6.5 0h0m-41 0.5h0m15.5 0h0m-10.5 0.5h0m38 0h0m-21 0.5h0m-22 0.5h0m1 0h0m19.5 0h0m8.5 0.5h0m14.5 0h0m-54 0.5h0m37 0h0m8.5 0h0m-50 1h0m16 0h0m6.5 0h0m19.5 0h0m13 0h0m2 0h0m0.5 0h0m-53 0.5h0m28 0h0m0 0h0m14.5 0h0m6.5 0h0m-52 0.5h0m1 0h0m56 0h0m-47.5 0.5h0m1 0h0m31 0h0m-30 0.5h0m21.5 0h0m8 0h0m-14.5 0.5h0m17 0h0m16 0h0m-11 0.5h0m2 0h0m-24.5 0.5h0m4 0h0m20.5 0h0m-42.5 0.5h0m26 0h0m12.5 0h0m-24 0.5h0m8 0.5h0m27 0h0m3 0h0m-53 0.5h0m19 0h0m21.5 0h0m-42 0.5h0m6.5 0h0m48.5 0h0m-32 0.5h0m20.5 0h0m-46 0.5h0m45 0h0m-48.5 0.5h0m48.5 0h0m12 0h0m1 0h0m-6 0.5h0m-3 1h0m-41 0.5h0m30.5 0h0m19 0h0m-64 0.5h0m3 0h0m61.5 0h0m-42 0.5h0m39 0h0m-36 0.5h0m-3.5 0.5h0m33.5 0.5h0m-23 0.5h0m15 0h0m-46.5 0.5h0m61.5 0h0m-49.5 1h0m2 0h0m8.5 0h0m13.5 0h0m13 0h0m9.5 0h0m-57 0.5h0m10.5 0h0m11.5 0h0m33.5 0h0m-57.5 0.5h0m1.5 0h0m5.5 0h0m2 0h0m0 0h0m30 0h0m7 0h0m-29 0.5h0m-15.5 0.5h0m1 0h0m15 0h0m2 0h0m-19.5 1h0m2 0h0m43 0h0m-41.5 0.5h0m0.5 0h0m1 0h0m4.5 0h0m4.5 0h0m14 0h0m-22.5 0.5h0m0.5 0h0m7 0.5h0m5.5 0h0m17 0h0m3.5 0h0m0.5 0h0m11.5 0h0m2.5 0h0m-26.5 0.5h0m8 0h0m11.5 0h0m2.5 0h0m-49 0.5h0m35.5 0h0m8.5 0h0m16 0h0m-53 0.5h0m1.5 0h0m3.5 0h0m32.5 0h0m1 0h0m-38 0.5h0m15.5 0h0m12 0h0m-8 0.5h0m3 0h0m-4 0.5h0m3.5 0h0m1.5 0h0m11 0h0m20 0h0m-51 0.5h0m2.5 0h0m32.5 0h0m17 0h0m-31.5 0.5h0m7.5 0h0m-11.5 0.5h0m1.5 0h0m3 0h0m0 0h0m15.5 0h0m5 0h0m0.5 0h0m-38.5 0.5h0m11 0h0m3 0h0m-9.5 0.5h0m3 0h0m20 0h0m6 0h0m4.5 0h0m7.5 0h0m-40.5 0.5h0m42 0h0m-51.5 0.5h0m35 0h0m1.5 0h0m-40 0.5h0m1.5 0h0m52 0h0m3 0h0m-61 0.5h0m6 0h0m19.5 0h0m5.5 0h0m21 0h0m5.5 0h0m4.5 0h0m-64.5 0.5h0m1 0h0m15 0h0m4.5 0h0m9 0h0m-28 0.5h0m6.5 0h0m4 0h0m12 0h0m38.5 0h0m-43.5 0.5h0m3 0h0m20.5 0h0m12.5 0h0m-22.5 0.5h0m7.5 0h0m7 0h0m15 0.5h0m-58.5 0.5h0m1.5 0h0m27.5 0h0m10.5 0h0m7 0h0m9.5 0h0m1 0h0m0.5 0h0m-53.5 1h0m26.5 0h0m27.5 0h0m-60.5 0.5h0m24 0h0m0.5 0h0m0 0h0m-15.5 0.5h0m5 0h0m5.5 0h0m29.5 0h0m2.5 0h0m0.5 0h0m1 0h0m-26.5 0.5h0m29 0h0m7 0h0m-55.5 0.5h0m4 0h0m14 0h0m-12 0.5h0m1 0h0m2.5 0h0m17.5 0h0m3.5 0h0m13 0h0m2.5 0h0m-48.5 0.5h0m18.5 0h0m2 0h0m23 0h0m-34.5 0.5h0m26.5 0.5h0m-34 0.5h0m14 0h0m-15.5 0.5h0m0 0h0m20 0h0m15.5 0h0m16.5 0h0m1.5 0h0m-53 0.5h0m6 0h0m11.5 0h0m21 0h0m-43.5 0.5h0m26.5 0h0m21 0h0m-47 0.5h0m10 0h0m11 0h0m-13 0.5h0m-3 0.5h0m3 0h0m5.5 0h0m6 0h0m6.5 0h0m13 0h0m2.5 0h0m-43 0.5h0m4.5 0h0m3.5 0h0m23 0h0m1.5 0h0m24.5 0h0m-49 0.5h0m0 0h0m3.5 0h0m1.5 0h0m5 0h0m6 0h0m5 0h0m2.5 0h0m23.5 0h0m-53 0.5h0m0.5 0h0m7 0h0m8.5 0h0m7 0h0m1 0h0m7 0h0m3 0h0m11 0h0m15 0h0m-44.5 0.5h0m2 0h0m1.5 0h0m8.5 0h0m1 0h0m4 0h0m10.5 0h0m5 0h0m11 0h0m-40.5 0.5h0m2.5 0h0m7 0h0m3 0h0m13 0h0m11 0h0m2.5 0h0m-55.5 0.5h0m1.5 0h0m2 0h0m19 0h0m20.5 0h0m14.5 0h0m-55 0.5h0m5.5 0h0m26 0h0m11.5 0h0m11 0h0m-57 0.5h0m0.5 0h0m26.5 0h0m9 0h0m0.5 0h0m7.5 0h0m12.5 0h0m-38.5 0.5h0m0.5 0h0m10 0h0m2.5 0h0m2.5 0h0m15 0h0m-51 0.5h0m16.5 0h0m5 0h0m10 0h0m12.5 0h0m1 0h0m0.5 0h0m1.5 0h0m9 0h0m-56.5 0.5h0m12 0h0m1 0h0m6 0h0m5 0h0m21 0h0m11.5 0h0m1 0h0m3 0h0m-60 0.5h0m2.5 0h0m0.5 0h0m9 0h0m5.5 0h0m2 0h0m22.5 0h0m5.5 0h0m5.5 0h0m6.5 0h0m-49 0.5h0m6 0h0m7.5 0h0m4.5 0h0m1 0h0m8 0h0m9 0h0m9 0h0m3.5 0h0m-57.5 0.5h0m8.5 0h0m18 0h0m4 0h0m9 0h0m17 0h0m1 0h0m2 0h0m-47 0.5h0m1 0h0m1 0h0m7 0h0m1.5 0h0m18 0h0m-38 0.5h0m5.5 0h0m7.5 0h0m7 0h0m7.5 0h0m3 0h0m-24.5 0.5h0m5 0h0m5.5 0h0m17 0h0m9 0h0m10.5 0h0m-55.5 0.5h0m10 0h0m1.5 0h0m8 0h0m16.5 0h0m10 0h0m3 0h0m4.5 0h0m0.5 0h0m4.5 0h0m-55.5 0.5h0m0 0h0m15 0h0m-15.5 0.5h0m4 0h0m0 0h0m33.5 0h0m-15.5 0.5h0m2 0h0m23.5 0h0m10.5 0h0m-63.5 0.5h0m5.5 0h0m4 0h0m1 0h0m2 0h0m0.5 0h0m1.5 0h0m26.5 0h0m7 0h0m1.5 0h0m-45.5 0.5h0m4 0h0m7 0h0m2 0h0m2 0h0m1.5 0h0m4 0h0m1.5 0h0m6.5 0h0m19.5 0h0m2 0h0m4.5 0h0m2.5 0h0m-54.5 0.5h0m0.5 0h0m10 0h0m3 0h0m1.5 0h0m6.5 0h0m3.5 0h0m2.5 0h0m7.5 0h0m6 0h0m5.5 0h0m-51.5 0.5h0m0.5 0h0m2 0h0m7 0h0m7 0h0m0.5 0h0m28.5 0h0m6 0h0m7 0h0m-55.5 0.5h0m37.5 0h0m2.5 0h0m16.5 0h0m-56 0.5h0m1.5 0h0m12 0h0m2 0h0m5 0h0m7 0h0m4 0h0m4 0h0m0 0h0m2.5 0h0m5.5 0h0m14 0h0m-61 0.5h0m3 0h0m22 0h0m9.5 0h0m5 0h0m2.5 0h0m3.5 0h0m3 0h0m0 0h0m1 0h0m5 0h0m3 0h0m2.5 0h0m-61 0.5h0m4 0h0m13.5 0h0m2.5 0h0m0 0h0m0.5 0h0m4 0h0m10 0h0m20.5 0h0m5.5 0h0m2 0h0m-63 0.5h0m0.5 0h0m9.5 0h0m3 0h0m2.5 0h0m3 0h0m2 0h0m0.5 0h0m0 0h0m0 0h0m2.5 0h0m5 0h0m7.5 0h0m1 0h0m0 0h0m5.5 0h0m15.5 0h0m0 0h0m3 0h0m3.5 0h0m-53.5 0.5h0m4.5 0h0m2.5 0h0m1 0h0m0 0h0m1 0h0m1.5 0h0m3.5 0h0m1.5 0h0m8.5 0h0m2.5 0h0m0.5 0h0m2 0h0m3 0h0m11.5 0h0m5 0h0m-41.5 0.5h0m2 0h0m0 0h0m1 0h0m4.5 0h0m5 0h0m14 0h0m1 0h0m18.5 0h0m0.5 0h0m-57 0.5h0m2.5 0h0m1.5 0h0m1 0h0m3 0h0m3.5 0h0m4.5 0h0m7.5 0h0m6.5 0h0m9 0h0m9.5 0h0m2 0h0m1.5 0h0m-7 0.5h0m-52 0.5h0m6 0h0m6 0h0m8.5 0h0m1 0h0m9 0h0m2.5 0h0m0.5 0h0m9.5 0h0m2 0h0m8.5 0h0m-50.5 0.5h0m0 0h0m6 0h0m3.5 0h0m0.5 0h0m6.5 0h0m6.5 0h0m10.5 0h0m8.5 0h0m9 0h0m3 0h0m2 0h0m-49 0.5h0m3 0h0m0.5 0h0m4 0h0m3 0h0m5.5 0h0m2 0h0m2.5 0h0m6 0h0m1 0h0m0 0h0m0.5 0h0m3.5 0h0m6.5 0h0m12 0h0m4 0h0m-38.5 0.5h0m2 0h0m3.5 0h0m4 0h0m17 0h0m1 0h0m9 0h0m-57 0.5h0m5.5 0h0m0.5 0h0m14 0h0m2.5 0h0m9.5 0h0m1.5 0h0m1 0h0m7.5 0h0m0.5 0h0m3 0h0m7.5 0h0m2 0h0m-43.5 0.5h0m0 0h0m0.5 0h0m2 0h0m3.5 0h0m3 0h0m1.5 0h0m3.5 0h0m3 0h0m2 0h0m13.5 0h0m8 0h0m6 0h0m0.5 0h0m-55.5 0.5h0m1.5 0h0m6 0h0m4.5 0h0m6.5 0h0m2 0h0m11 0h0m17 0h0m6 0h0" stroke="#141414" stroke-width="1.6" stroke-linecap="square" fill="none"/>
</g>
<text transform="translate(502.9,392.0) scale(1,1.16)" class="tk" text-anchor="end">0e+00</text>
<text transform="translate(502.9,363.2) scale(1,1.16)" class="tk" text-anchor="end">1e-04</text>
<text transform="translate(502.9,334.4) scale(1,1.16)" class="tk" text-anchor="end">2e-04</text>
<text transform="translate(502.9,305.7) scale(1,1.16)" class="tk" text-anchor="end">3e-04</text>
<text transform="translate(502.9,276.9) scale(1,1.16)" class="tk" text-anchor="end">4e-04</text>
<text transform="translate(556.6,406.7) scale(1,1.04)" class="tk" text-anchor="middle">ECM</text>
<text transform="translate(636.8,406.7) scale(1,1.04)" class="tk" text-anchor="middle">ML</text>
<text transform="translate(455.8,245.0) rotate(-90)" class="yt" text-anchor="end">Accuracy</text>
<rect x="37.2" y="461" width="175.6" height="146.2" fill="#F2F2F2"/>
<path d="M37.2 603.25H212.8M37.2 583.70H212.8M37.2 564.15H212.8M37.2 544.60H212.8M37.2 525.05H212.8M37.2 505.50H212.8M37.2 485.95H212.8M37.2 466.40H212.8M85.80 461V607.2M166.10 461V607.2" stroke="#D3D3D3" stroke-width="1.1" fill="none"/>
<clipPath id="c6"><rect x="37.2" y="461" width="175.6" height="146.2"/></clipPath>
<g clip-path="url(#c6)">
<path d="M85.80 520.75V466.40M85.80 574.71V601.30" stroke="#777" stroke-width="1.2" fill="none"/>
<rect x="65.50" y="520.75" width="40.60" height="53.96" fill="#00FF00" stroke="#333" stroke-width="0.9"/>
<path d="M65.50 551.25H106.10" stroke="#333" stroke-width="1.2"/>
<path d="M166.10 571.38V570.41M166.10 572.36V573.53" stroke="#777" stroke-width="1.2" fill="none"/>
<rect x="145.80" y="571.38" width="40.60" height="0.98" fill="#FFFF00" stroke="#333" stroke-width="0.9"/>
<path d="M145.80 571.97H186.40" stroke="#333" stroke-width="1.2"/>
<path d="M64 466h0m20 0h0m13 0h0m2 1h0m7 0h0m-18 1h0m30 0h0m-5 1h0m-50 2h0m9 0h0m13 0h0m6 0h0m1 0h0m2 0h0m13 0h0m-51 1h0m33 0h0m4 0h0m14 0h0m4 0h0m3 0h0m-52 1h0m1 0h0m42 0h0m-48 1h0m5 0h0m33 0h0m18 0h0m-45 1h0m4 0h0m5 0h0m0 0h0m-22 1h0m31 0h0m-23 1h0m1 0h0m11 0h0m39 0h0m2 0h0m-38 1h0m14 0h0m13 0h0m5 0h0m1 0h0m-43 1h0m23 0h0m-32 1h0m19 0h0m3 0h0m17 0h0m12 0h0m0 0h0m-20 1h0m21 0h0m4 0h0m-39 1h0m0 0h0m1 0h0m17 0h0m12 0h0m-15 1h0m8 0h0m-35 1h0m-6 1h0m24 1h0m32 0h0m-48 1h0m9 0h0m21 0h0m5 0h0m-36 1h0m17 0h0m18 0h0m-47 1h0m18 0h0m26 0h0m-41 1h0m11 0h0m32 0h0m-45 1h0m0 0h0m13 0h0m11 0h0m0 0h0m26 0h0m11 0h0m-44 1h0m10 0h0m2 0h0m4 0h0m18 0h0m-23 1h0m6 0h0m5 0h0m8 0h0m-16 1h0m5 0h0m1 0h0m0 0h0m4 0h0m-35 1h0m16 0h0m10 0h0m6 0h0m3 0h0m12 0h0m2 0h0m7 0h0m-53 1h0m6 0h0m4 0h0m31 0h0m-49 1h0m6 0h0m5 0h0m12 0h0m38 0h0m0 0h0m-53 1h0m14 0h0m12 0h0m9 0h0m17 0h0m-37 1h0m5 0h0m17 0h0m-44 1h0m25 0h0m15 0h0m20 0h0m-62 1h0m42 0h0m0 0h0m8 0h0m10 0h0m-37 1h0m5 0h0m3 0h0m8 0h0m5 0h0m-36 1h0m24 0h0m3 0h0m3 0h0m14 0h0m-36 1h0m13 0h0m6 0h0m14 0h0m-12 1h0m4 0h0m12 0h0m-53 1h0m34 0h0m17 0h0m2 0h0m1 0h0m9 0h0m-35 1h0m26 0h0m4 0h0m-9 1h0m7 0h0m0 0h0m-33 1h0m8 0h0m4 0h0m19 0h0m5 0h0m3 0h0m-47 1h0m20 0h0m11 0h0m-40 1h0m9 0h0m17 0h0m4 0h0m10 0h0m14 0h0m-59 1h0m60 0h0m0 0h0m-30 1h0m3 0h0m20 0h0m6 0h0m-39 1h0m1 0h0m3 0h0m32 0h0m-20 1h0m17 0h0m-40 1h0m32 0h0m15 0h0m-59 1h0m22 0h0m33 0h0m6 0h0m-42 1h0m22 0h0m10 0h0m-38 1h0m2 0h0m45 0h0m-35 1h0m2 0h0m6 0h0m-30 1h0m22 0h0m10 0h0m3 0h0m11 0h0m3 0h0m7 0h0m-60 1h0m4 0h0m11 0h0m1 0h0m12 0h0m1 0h0m16 0h0m-34 1h0m0 0h0m9 0h0m3 0h0m3 0h0m12 0h0m23 0h0m-38 1h0m5 0h0m27 0h0m-45 1h0m3 0h0m13 0h0m17 0h0m2 0h0m11 0h0m-57 1h0m1 0h0m16 0h0m9 0h0m33 0h0m-41 1h0m7 0h0m2 0h0m5 0h0m8 0h0m-41 1h0m30 0h0m2 0h0m7 0h0m8 0h0m2 0h0m7 0h0m3 0h0m2 0h0m-37 1h0m18 0h0m2 0h0m4 0h0m0 0h0m4 0h0m0 0h0m5 0h0m5 0h0m-60 1h0m12 0h0m9 0h0m30 0h0m-47 1h0m3 0h0m26 0h0m3 0h0m21 0h0m5 0h0m-61 1h0m0 0h0m11 0h0m4 0h0m0 0h0m36 0h0m6 0h0m5 0h0m-52 1h0m11 0h0m2 0h0m1 0h0m4 0h0m27 0h0m3 0h0m-58 1h0m5 0h0m8 0h0m2 0h0m2 0h0m16 0h0m7 0h0m-35 1h0m15 0h0m14 0h0m18 0h0m5 0h0m2 0h0m0 0h0m-61 1h0m5 0h0m5 0h0m18 0h0m2 0h0m26 0h0m-55 1h0m7 0h0m10 0h0m9 0h0m16 0h0m1 0h0m11 0h0m7 0h0m-46 1h0m9 0h0m12 0h0m3 0h0m20 0h0m1 0h0m-59 1h0m4 0h0m3 0h0m1 0h0m12 0h0m11 0h0m4 0h0m3 0h0m20 0h0m0 0h0m-53 1h0m26 0h0m13 0h0m2 0h0m2 0h0m3 0h0m8 0h0m1 0h0m-61 1h0m14 0h0m3 0h0m14 0h0m15 0h0m-43 1h0m3 0h0m3 0h0m1 0h0m9 0h0m14 0h0m2 0h0m1 0h0m18 0h0m-54 1h0m8 0h0m11 0h0m25 0h0m11 0h0m1 0h0m2 0h0m-55 1h0m0 0h0m24 0h0m1 0h0m12 0h0m2 0h0m3 0h0m5 0h0m13 0h0m-64 1h0m4 0h0m18 0h0m2 0h0m32 0h0m6 0h0m-58 1h0m0 0h0m5 0h0m11 0h0m11 0h0m0 0h0m1 0h0m6 0h0m2 0h0m16 0h0m-49 1h0m17 0h0m3 0h0m27 0h0m-34 1h0m4 0h0m14 0h0m15 0h0m10 0h0m1 0h0m-55 1h0m7 0h0m9 0h0m4 0h0m4 0h0m0 0h0m21 0h0m4 0h0m-56 1h0m21 0h0m13 0h0m10 0h0m4 0h0m13 0h0m-61 1h0m5 0h0m8 0h0m13 0h0m1 0h0m2 0h0m19 0h0m12 0h0m-60 1h0m1 0h0m42 0h0m1 0h0m9 0h0m7 0h0m3 0h0m-62 1h0m3 0h0m10 0h0m5 0h0m14 0h0m4 0h0m2 0h0m6 0h0m5 0h0m11 0h0m-61 1h0m15 0h0m13 0h0m1 0h0m2 0h0m4 0h0m3 0h0m4 0h0m5 0h0m7 0h0m2 0h0m-50 1h0m3 0h0m5 0h0m6 0h0m0 0h0m-23 1h0m4 0h0m4 0h0m22 0h0m5 0h0m2 0h0m0 0h0m9 0h0m6 0h0m-37 1h0m1 0h0m8 0h0m0 0h0m0 0h0m0 0h0m0 0h0m1 0h0m9 0h0m8 0h0m-37 1h0m3 0h0m24 0h0m2 0h0m22 0h0m1 0h0m4 0h0m0 0h0m-52 1h0m2 0h0m5 0h0m3 0h0m1 0h0m9 0h0m7 0h0m16 0h0m0 0h0m3 0h0m-55 1h0m20 0h0m2 0h0m5 0h0m6 0h0m3 0h0m4 0h0m9 0h0m-48 1h0m1 0h0m0 0h0m0 0h0m11 0h0m3 0h0m2 0h0m6 0h0m2 0h0m26 0h0m1 0h0m3 0h0m-50 1h0m4 0h0m1 0h0m8 0h0m6 0h0m6 0h0m7 0h0m2 0h0m21 0h0m4 0h0m-51 1h0m16 0h0m25 0h0m0 0h0m3 0h0m3 0h0m3 0h0m-61 1h0m11 0h0m2 0h0m4 0h0m7 0h0m12 0h0m5 0h0m2 0h0m3 0h0m3 0h0m0 0h0m7 0h0m3 0h0m-62 1h0m1 0h0m3 0h0m10 0h0m7 0h0m14 0h0m8 0h0m6 0h0m12 0h0m-58 1h0m21 0h0m2 0h0m0 0h0m0 0h0m7 0h0m0 0h0m21 0h0m4 0h0m-45 1h0m12 0h0m10 0h0m2 0h0m2 0h0m13 0h0m6 0h0m3 0h0m-54 1h0m8 0h0m2 0h0m0 0h0m19 0h0m6 0h0m2 0h0m4 0h0m10 0h0m-58 1h0m4 0h0m11 0h0m3 0h0m1 0h0m13 0h0m5 0h0m4 0h0m-22 1h0m7 0h0m2 0h0m3 0h0m0 0h0m6 0h0m7 0h0m13 0h0m1 0h0m4 0h0m-56 1h0m3 0h0m10 0h0m0 0h0m4 0h0m2 0h0m12 0h0m6 0h0m7 0h0m15 0h0m-36 1h0m23 0h0m14 0h0m-60 1h0m1 0h0m57 0h0m-63 1h0m7 0h0m2 0h0m5 0h0m33 0h0m4 0h0m4 0h0m0 0h0m1 0h0m3 0h0m6 0h0m-53 1h0m3 0h0m1 0h0m2 0h0m0 0h0m3 0h0m3 0h0m0 0h0m1 0h0m7 0h0m1 0h0m6 0h0m7 0h0m4 0h0m1 0h0m3 0h0m8 0h0m-50 1h0m7 0h0m5 0h0m1 0h0m7 0h0m-26 1h0m13 0h0m1 0h0m1 0h0m7 0h0m5 0h0m17 0h0m0 0h0m2 0h0m9 0h0m3 0h0m-60 1h0m9 0h0m0 0h0m11 0h0m12 0h0m0 0h0m4 0h0m7 0h0m4 0h0m0 0h0m8 0h0m-59 1h0m2 0h0m1 0h0m7 0h0m5 0h0m8 0h0m9 0h0m5 0h0m7 0h0m7 0h0m9 0h0m-56 1h0m18 0h0m3 0h0m1 0h0m1 0h0m4 0h0m4 0h0m0 0h0m5 0h0m13 0h0m3 0h0m-52 1h0m4 0h0m6 0h0m0 0h0m0 0h0m12 0h0m19 0h0m-38 1h0m12 0h0m5 0h0m8 0h0m2 0h0m2 0h0m12 0h0m-47 1h0m9 0h0m2 0h0m17 0h0m3 0h0m2 0h0m1 0h0m1 0h0m3 0h0m4 0h0m6 0h0m1 0h0m-36 1h0m5 0h0m2 0h0m0 0h0m7 0h0m3 0h0m12 0h0m4 0h0m13 0h0m-59 1h0m7 0h0m2 0h0m0 0h0m28 0h0m10 0h0m5 0h0m-42 1h0m7 0h0m0 0h0m4 0h0m6 0h0m2 0h0m0 0h0m14 0h0m4 0h0m3 0h0m2 0h0m0 0h0m4 0h0m1 0h0m-59 1h0m10 0h0m11 0h0m3 0h0m10 0h0m17 0h0m2 0h0m8 0h0m-48 1h0m3 0h0m3 0h0m28 0h0m2 0h0m2 0h0m11 0h0m4 0h0m-60 1h0m18 0h0m1 0h0m8 0h0m3 0h0m3 0h0m3 0h0m3 0h0m3 0h0m0 0h0m3 0h0m-50 1h0m26 0h0m19 0h0m0 0h0m11 0h0m2 0h0m-42 1h0m7 0h0m6 0h0m1 0h0m1 0h0m8 0h0m3 0h0m1 0h0m1 0h0m3 0h0m17 0h0m1 0h0m-57 1h0m12 0h0m5 0h0m22 0h0m4 0h0m2 0h0m4 0h0m-49 1h0m7 0h0m7 0h0m3 0h0m9 0h0m2 0h0m16 0h0m6 0h0m-42 1h0m4 0h0m4 0h0m13 0h0m1 0h0m5 0h0m0 0h0m5 0h0m4 0h0m11 0h0m-64 1h0m8 0h0m8 0h0m9 0h0m18 0h0m4 0h0m4 0h0m13 0h0m-48 1h0m18 0h0m22 0h0m2 0h0m-53 1h0m1 0h0m0 0h0m3 0h0m3 0h0m20 0h0m2 0h0m17 0h0m9 0h0m-47 1h0m2 0h0m20 0h0m-27 1h0m1 0h0m8 0h0m19 0h0m17 0h0m4 0h0m5 0h0m1 0h0m-42 1h0m6 0h0m25 0h0m9 0h0m4 0h0" stroke="#000" stroke-width="2.0" stroke-linecap="square" fill="none"/>
<path d="M156 470h0m-12 2h0m0 3h0m50 0h0m-38 14h0m14 1h0m-35 7h0m5 0h0m1 0h0m1 0h0m3 0h0m2 0h0m1 0h0m2 0h0m0 0h0m1 0h0m3 0h0m0 0h0m1 0h0m4 0h0m0 0h0m4 0h0m1 0h0m3 0h0m1 0h0m2 0h0m13 0h0m5 0h0m2 0h0m0 0h0m1 0h0m1 0h0m4 0h0m-62 1h0m1 0h0m1 0h0m0 0h0m0 0h0m0 0h0m0 0h0m3 0h0m0 0h0m2 0h0m0 0h0m1 0h0m0 0h0m4 0h0m0 0h0m1 0h0m1 0h0m2 0h0m0 0h0m2 0h0m3 0h0m0 0h0m2 0h0m1 0h0m2 0h0m3 0h0m0 0h0m0 0h0m1 0h0m1 0h0m0 0h0m0 0h0m1 0h0m2 0h0m0 0h0m2 0h0m3 0h0m1 0h0m0 0h0m0 0h0m4 0h0m0 0h0m1 0h0m1 0h0m3 0h0m4 0h0m1 0h0m2 0h0m2 0h0m0 0h0m0 0h0m-58 1h0m2 0h0m1 0h0m2 0h0m2 0h0m1 0h0m1 0h0m0 0h0m4 0h0m0 0h0m1 0h0m1 0h0m3 0h0m0 0h0m1 0h0m0 0h0m1 0h0m0 0h0m0 0h0m1 0h0m3 0h0m1 0h0m1 0h0m1 0h0m2 0h0m0 0h0m1 0h0m2 0h0m2 0h0m0 0h0m0 0h0m0 0h0m1 0h0m2 0h0m0 0h0m1 0h0m0 0h0m0 0h0m1 0h0m1 0h0m1 0h0m2 0h0m2 0h0m1 0h0m3 0h0m0 0h0m1 0h0m0 0h0m1 0h0m1 0h0m1 0h0m0 0h0m0 0h0m1 0h0m2 0h0m0 0h0m2 0h0m0 0h0m3 0h0m1 0h0m1 0h0m1 0h0m-46 1h0m2 0h0m11 0h0m0 0h0m32 0h0m-16 3h0m-23 47h0m-17 2h0m47 0h0m-45 5h0m-8 1h0m5 0h0m24 0h0m20 0h0m-30 1h0m17 0h0m11 0h0m-15 4h0m-26 6h0m2 0h0m6 1h0m9 0h0m1 0h0m5 0h0m2 0h0m20 0h0m5 0h0m5 0h0m1 0h0m-63 1h0m0 0h0m1 0h0m0 0h0m1 0h0m1 0h0m0 0h0m0 0h0m1 0h0m0 0h0m1 0h0m0 0h0m0 0h0m0 0h0m2 0h0m0 0h0m0 0h0m0 0h0m0 0h0m1 0h0m0 0h0m0 0h0m0 0h0m0 0h0m1 0h0m0 0h0m0 0h0m0 0h0m0 0h0m1 0h0m0 0h0m0 0h0m0 0h0m1 0h0m1 0h0m0 0h0m1 0h0m0 0h0m0 0h0m1 0h0m0 0h0m0 0h0m0 0h0m0 0h0m1 0h0m0 0h0m0 0h0m0 0h0m1 0h0m0 0h0m1 0h0m0 0h0m0 0h0m1 0h0m0 0h0m0 0h0m0 0h0m0 0h0m1 0h0m0 0h0m0 0h0m0 0h0m0 0h0m1 0h0m0 0h0m0 0h0m0 0h0m0 0h0m0 0h0m0 0h0m0 0h0m0 0h0m1 0h0m0 0h0m0 0h0m0 0h0m1 0h0m1 0h0m0 0h0m0 0h0m0 0h0m0 0h0m1 0h0m0 0h0m0 0h0m1 0h0m0 0h0m0 0h0m0 0h0m0 0h0m0 0h0m1 0h0m1 0h0m1 0h0m0 0h0m1 0h0m0 0h0m0 0h0m0 0h0m0 0h0m1 0h0m0 0h0m1 0h0m1 0h0m0 0h0m0 0h0m0 0h0m1 0h0m0 0h0m0 0h0m1 0h0m0 0h0m0 0h0m0 0h0m1 0h0m0 0h0m1 0h0m0 0h0m0 0h0m2 0h0m1 0h0m0 0h0m1 0h0m1 0h0m0 0h0m0 0h0m0 0h0m1 0h0m0 0h0m0 0h0m0 0h0m0 0h0m1 0h0m0 0h0m1 0h0m1 0h0m0 0h0m1 0h0m0 0h0m0 0h0m0 0h0m0 0h0m1 0h0m0 0h0m0 0h0m1 0h0m0 0h0m0 0h0m1 0h0m1 0h0m0 0h0m1 0h0m0 0h0m1 0h0m0 0h0m0 0h0m1 0h0m0 0h0m0 0h0m1 0h0m0 0h0m0 0h0m0 0h0m1 0h0m1 0h0m0 0h0m1 0h0m0 0h0m0 0h0m0 0h0m1 0h0m0 0h0m2 0h0m0 0h0m0 0h0m0 0h0m0 0h0m1 0h0m0 0h0m0 0h0m1 0h0m0 0h0m1 0h0m0 0h0m0 0h0m1 0h0m0 0h0m1 0h0m0 0h0m0 0h0m0 0h0m-66 1h0m0 0h0m0 0h0m0 0h0m1 0h0m0 0h0m0 0h0m0 0h0m1 0h0m0 0h0m0 0h0m0 0h0m1 0h0m0 0h0m0 0h0m0 0h0m0 0h0m0 0h0m0 0h0m1 0h0m0 0h0m0 0h0m1 0h0m0 0h0m0 0h0m0 0h0m0 0h0m0 0h0m0 0h0m0 0h0m1 0h0m0 0h0m0 0h0m0 0h0m0 0h0m0 0h0m0 0h0m1 0h0m0 0h0m0 0h0m0 0h0m1 0h0m0 0h0m0 0h0m1 0h0m0 0h0m0 0h0m0 0h0m0 0h0m0 0h0m1 0h0m0 0h0m0 0h0m0 0h0m1 0h0m0 0h0m0 0h0m0 0h0m1 0h0m0 0h0m0 0h0m0 0h0m0 0h0m0 0h0m0 0h0m0 0h0m1 0h0m0 0h0m1 0h0m0 0h0m0 0h0m0 0h0m0 0h0m0 0h0m0 0h0m1 0h0m0 0h0m0 0h0m1 0h0m0 0h0m0 0h0m1 0h0m1 0h0m0 0h0m0 0h0m0 0h0m1 0h0m0 0h0m0 0h0m0 0h0m0 0h0m0 0h0m0 0h0m0 0h0m1 0h0m0 0h0m0 0h0m0 0h0m0 0h0m0 0h0m1 0h0m0 0h0m0 0h0m0 0h0m0 0h0m0 0h0m1 0h0m0 0h0m0 0h0m0 0h0m0 0h0m0 0h0m0 0h0m0 0h0m0 0h0m1 0h0m0 0h0m0 0h0m0 0h0m0 0h0m0 0h0m0 0h0m1 0h0m0 0h0m1 0h0m0 0h0m0 0h0m0 0h0m0 0h0m1 0h0m0 0h0m0 0h0m0 0h0m0 0h0m1 0h0m0 0h0m0 0h0m0 0h0m0 0h0m0 0h0m1 0h0m0 0h0m0 0h0m0 0h0m0 0h0m1 0h0m0 0h0m0 0h0m0 0h0m1 0h0m0 0h0m0 0h0m0 0h0m1 0h0m0 0h0m0 0h0m1 0h0m0 0h0m0 0h0m0 0h0m0 0h0m1 0h0m0 0h0m0 0h0m0 0h0m0 0h0m0 0h0m1 0h0m0 0h0m0 0h0m0 0h0m0 0h0m1 0h0m0 0h0m0 0h0m0 0h0m1 0h0m0 0h0m0 0h0m0 0h0m0 0h0m0 0h0m1 0h0m0 0h0m0 0h0m0 0h0m1 0h0m0 0h0m0 0h0m0 0h0m1 0h0m0 0h0m0 0h0m0 0h0m0 0h0m0 0h0m1 0h0m1 0h0m0 0h0m0 0h0m0 0h0m0 0h0m0 0h0m1 0h0m0 0h0m0 0h0m1 0h0m0 0h0m1 0h0m0 0h0m0 0h0m1 0h0m0 0h0m1 0h0m0 0h0m0 0h0m0 0h0m0 0h0m0 0h0m0 0h0m1 0h0m0 0h0m0 0h0m0 0h0m1 0h0m0 0h0m0 0h0m0 0h0m0 0h0m0 0h0m1 0h0m0 0h0m0 0h0m0 0h0m1 0h0m0 0h0m0 0h0m0 0h0m1 0h0m0 0h0m0 0h0m0 0h0m0 0h0m1 0h0m0 0h0m0 0h0m0 0h0m0 0h0m1 0h0m1 0h0m0 0h0m1 0h0m0 0h0m0 0h0m0 0h0m0 0h0m1 0h0m0 0h0m0 0h0m1 0h0m0 0h0m0 0h0m0 0h0m0 0h0m0 0h0m0 0h0m0 0h0m0 0h0m0 0h0m0 0h0m1 0h0m0 0h0m0 0h0m0 0h0m0 0h0m0 0h0m0 0h0m1 0h0m0 0h0m0 0h0m0 0h0m1 0h0m0 0h0m0 0h0m0 0h0m0 0h0m1 0h0m0 0h0m0 0h0m0 0h0m0 0h0m0 0h0m1 0h0m0 0h0m0 0h0m0 0h0m0 0h0m0 0h0m0 0h0m1 0h0m0 0h0m0 0h0m0 0h0m1 0h0m1 0h0m0 0h0m0 0h0m1 0h0m0 0h0m0 0h0m-66 1h0m1 0h0m0 0h0m0 0h0m0 0h0m0 0h0m0 0h0m0 0h0m1 0h0m0 0h0m0 0h0m0 0h0m1 0h0m1 0h0m0 0h0m0 0h0m0 0h0m0 0h0m0 0h0m1 0h0m0 0h0m1 0h0m0 0h0m0 0h0m0 0h0m1 0h0m0 0h0m0 0h0m1 0h0m0 0h0m0 0h0m0 0h0m1 0h0m0 0h0m0 0h0m0 0h0m0 0h0m1 0h0m0 0h0m0 0h0m0 0h0m0 0h0m1 0h0m0 0h0m1 0h0m0 0h0m0 0h0m0 0h0m0 0h0m0 0h0m0 0h0m1 0h0m0 0h0m0 0h0m0 0h0m1 0h0m0 0h0m2 0h0m0 0h0m0 0h0m1 0h0m1 0h0m0 0h0m1 0h0m0 0h0m1 0h0m0 0h0m1 0h0m1 0h0m0 0h0m0 0h0m1 0h0m0 0h0m1 0h0m0 0h0m0 0h0m0 0h0m0 0h0m0 0h0m1 0h0m0 0h0m0 0h0m1 0h0m0 0h0m0 0h0m0 0h0m0 0h0m1 0h0m0 0h0m0 0h0m1 0h0m0 0h0m1 0h0m0 0h0m1 0h0m0 0h0m1 0h0m1 0h0m1 0h0m0 0h0m0 0h0m0 0h0m1 0h0m1 0h0m0 0h0m0 0h0m0 0h0m1 0h0m0 0h0m0 0h0m0 0h0m0 0h0m0 0h0m0 0h0m1 0h0m0 0h0m1 0h0m1 0h0m0 0h0m0 0h0m0 0h0m1 0h0m0 0h0m1 0h0m1 0h0m0 0h0m1 0h0m0 0h0m0 0h0m0 0h0m0 0h0m0 0h0m1 0h0m0 0h0m0 0h0m0 0h0m1 0h0m0 0h0m0 0h0m0 0h0m0 0h0m1 0h0m1 0h0m0 0h0m0 0h0m0 0h0m0 0h0m1 0h0m0 0h0m0 0h0m1 0h0m0 0h0m0 0h0m0 0h0m1 0h0m0 0h0m0 0h0m0 0h0m1 0h0m0 0h0m0 0h0m0 0h0m0 0h0m0 0h0m0 0h0m0 0h0m1 0h0m0 0h0m1 0h0m0 0h0m0 0h0m0 0h0m1 0h0m0 0h0m0 0h0m1 0h0m0 0h0m0 0h0m0 0h0m1 0h0m0 0h0m1 0h0m0 0h0m0 0h0m0 0h0m0 0h0m1 0h0m0 0h0m0 0h0m1 0h0m0 0h0m0 0h0m0 0h0m0 0h0m1 0h0m1 0h0m0 0h0m0 0h0m0 0h0m2 0h0m0 0h0m0 0h0m0 0h0m1 0h0m0 0h0m0 0h0m0 0h0m2 0h0m-65 1h0m1 0h0m1 0h0m3 0h0m1 0h0m3 0h0m4 0h0m1 0h0m1 0h0m2 0h0m2 0h0m3 0h0m2 0h0m4 0h0m1 0h0m3 0h0m2 0h0m1 0h0m1 0h0m1 0h0m2 0h0m0 0h0m6 0h0m4 0h0m1 0h0m2 0h0m0 0h0m4 0h0m1 0h0m2 0h0m0 0h0m1 0h0m0 0h0m1 0h0m2 0h0" stroke="#000" stroke-width="2.0" stroke-linecap="square" fill="none"/>
</g>
<text transform="translate(33.8,610.0) scale(1,1.16)" class="tk" text-anchor="end">10</text>
<text transform="translate(33.8,571.0) scale(1,1.16)" class="tk" text-anchor="end">20</text>
<text transform="translate(33.8,531.8) scale(1,1.16)" class="tk" text-anchor="end">30</text>
<text transform="translate(33.8,492.8) scale(1,1.16)" class="tk" text-anchor="end">40</text>
<text transform="translate(85.8,624.2) scale(1,1.04)" class="tk" text-anchor="middle">ECM</text>
<text transform="translate(166.1,624.2) scale(1,1.04)" class="tk" text-anchor="middle">ML</text>
<text transform="translate(12.0,462.0) rotate(-90)" class="yt" text-anchor="end">Time</text>
<text transform="translate(36.4,445.8) scale(1,1.15)" class="ti">(C) LAYERS: 3</text>
<rect x="258.1" y="461" width="175.9" height="146.2" fill="#F2F2F2"/>
<path d="M258.1 601.70H434M258.1 588.56H434M258.1 575.42H434M258.1 562.28H434M258.1 549.14H434M258.1 536.00H434M258.1 522.86H434M258.1 509.72H434M258.1 496.58H434M258.1 483.44H434M258.1 470.30H434M306.80 461V607.2M386.70 461V607.2" stroke="#D3D3D3" stroke-width="1.1" fill="none"/>
<clipPath id="c7"><rect x="258.1" y="461" width="175.9" height="146.2"/></clipPath>
<g clip-path="url(#c7)">
<path d="M306.80 554.40V522.86M306.80 575.42V601.70" stroke="#333" stroke-width="1.0" fill="none"/>
<rect x="286.50" y="554.40" width="40.60" height="21.02" fill="#00FF00" stroke="#333" stroke-width="0.9"/>
<path d="M286.50 564.91H327.10" stroke="#333" stroke-width="1.2"/>
<path d="M386.70 468.99V466.36M386.70 471.61V474.24" stroke="#333" stroke-width="1.0" fill="none"/>
<rect x="366.40" y="468.99" width="40.60" height="2.63" fill="#FFFF00" stroke="#333" stroke-width="0.9"/>
<path d="M366.40 470.30H407.00" stroke="#333" stroke-width="1.2"/>
<path d="M288.5 497.5h0m24 18.5h0m-31.5 5h0m4.5 0h0m20.5 0h0m29.5 0h0m-57 1h0m0.5 0h0m18 0.5h0m30.5 0.5h0m6 0h0m-37 0.5h0m5.5 1.5h0m35 0h0m-30.5 1.5h0m-14 0.5h0m1.5 1h0m33.5 0h0m-51 0.5h0m15.5 0h0m7.5 0h0m-7.5 0.5h0m3.5 0h0m19.5 0h0m-34 0.5h0m24 0h0m8.5 0h0m-37 0.5h0m6.5 0h0m43.5 1h0m-25 0.5h0m9 0.5h0m7.5 0h0m20 0h0m-40.5 2h0m3 0.5h0m4 0.5h0m14.5 0h0m-8 0.5h0m-16 0.5h0m34 0h0m-13 0.5h0m15 0h0m-42.5 0.5h0m21.5 0h0m25 0h0m-44 0.5h0m-11.5 1h0m38 0h0m16 0h0m-52 0.5h0m22.5 0h0m14.5 0.5h0m2 0h0m-7.5 1h0m2.5 0.5h0m-39.5 0.5h0m0.5 0h0m5 0h0m51.5 0h0m2 0h0m2.5 0h0m-41.5 0.5h0m11.5 0h0m7 0h0m6 0h0m1.5 0h0m4 0h0m-48.5 0.5h0m15.5 0h0m13.5 0h0m7 0h0m5 0h0m12.5 0h0m2 0h0m-47 0.5h0m4.5 0h0m5 0h0m36 0h0m-54.5 0.5h0m5.5 0h0m8.5 0h0m0 0h0m21.5 0h0m4.5 0h0m2 0h0m0.5 0h0m18.5 0h0m-57.5 0.5h0m32.5 0h0m5.5 0h0m6.5 0h0m4.5 0h0m8 0h0m-42.5 0.5h0m8.5 0h0m8.5 0h0m10.5 0h0m3.5 0h0m4 0h0m1 0h0m-52 0.5h0m8.5 0h0m12.5 0h0m10.5 0h0m0.5 0h0m5.5 0h0m0 0h0m5 0h0m8.5 0h0m6 0h0m3 0h0m-63 0.5h0m27 0h0m6 0h0m27.5 0h0m-27 0.5h0m0.5 0h0m14 0h0m13 0h0m-57 0.5h0m11.5 0h0m0.5 0h0m15 0h0m0.5 0h0m0 0h0m18 0h0m-38.5 0.5h0m33 0h0m8.5 0h0m3.5 0h0m-47.5 0.5h0m43 0h0m9 0h0m-58.5 0.5h0m4 0h0m9.5 0h0m3 0h0m0.5 0h0m1.5 0h0m16.5 0h0m1.5 0h0m3.5 0h0m1 0h0m4.5 0h0m11.5 0h0m1 0h0m2 0h0m0.5 0h0m-39 0.5h0m5 0h0m11.5 0h0m-38.5 0.5h0m5.5 0h0m2.5 0h0m8 0h0m4.5 0h0m16 0h0m4.5 0h0m6.5 0h0m0.5 0h0m13.5 0h0m-62 0.5h0m6.5 0h0m8 0h0m2 0h0m16 0h0m21.5 0h0m-49 0.5h0m3 0h0m5.5 0h0m10 0h0m11 0h0m2.5 0h0m0.5 0h0m3 0h0m-28 0.5h0m3 0h0m13 0h0m12.5 0h0m3 0h0m1 0h0m7 0h0m2 0h0m3.5 0h0m-36.5 0.5h0m11.5 0h0m2.5 0h0m7 0h0m0 0h0m1 0h0m3 0h0m8 0h0m-55 0.5h0m10.5 0h0m34.5 0h0m7.5 0h0m5 0h0m1 0h0m1 0h0m3 0h0m-58.5 0.5h0m8 0h0m12.5 0h0m21.5 0h0m-44 0.5h0m7 0h0m5 0h0m21 0h0m20.5 0h0m1 0h0m2 0h0m4.5 0h0m-51 0.5h0m3 0h0m3.5 0h0m31.5 0h0m3.5 0h0m2.5 0h0m3 0h0m-44.5 0.5h0m12 0h0m-21 0.5h0m0.5 0h0m15.5 0h0m4 0h0m6 0h0m12.5 0h0m-21.5 0.5h0m1.5 0h0m3 0h0m6 0h0m0 0h0m6.5 0h0m2 0h0m-41 0.5h0m4 0h0m19.5 0h0m5 0h0m6 0h0m1 0h0m0.5 0h0m3 0h0m13 0h0m2.5 0h0m0 0h0m-50.5 0.5h0m43 0h0m11.5 0h0m0.5 0h0m1.5 0h0m1 0h0m0.5 0h0m-63.5 0.5h0m2 0h0m7.5 0h0m0.5 0h0m6.5 0h0m1 0h0m3 0h0m6.5 0h0m0.5 0h0m9 0h0m5.5 0h0m2 0h0m8 0h0m-46.5 0.5h0m2 0h0m0.5 0h0m2 0h0m17 0h0m0.5 0h0m4 0h0m31 0h0m0.5 0h0m-60 0.5h0m3 0h0m9 0h0m0.5 0h0m13 0h0m4 0h0m0.5 0h0m22 0h0m0 0h0m1 0h0m4 0h0m1 0h0m-59.5 0.5h0m4 0h0m1.5 0h0m0.5 0h0m16 0h0m8.5 0h0m4.5 0h0m0.5 0h0m6.5 0h0m0.5 0h0m18 0h0m-58 0.5h0m11.5 0h0m11.5 0h0m2 0h0m12 0h0m11.5 0h0m2.5 0h0m5.5 0h0m-58.5 0.5h0m12.5 0h0m3 0h0m7 0h0m3.5 0h0m16.5 0h0m1 0h0m3 0h0m4.5 0h0m1.5 0h0m0.5 0h0m2.5 0h0m5.5 0h0m-63 0.5h0m2.5 0h0m16.5 0h0m6.5 0h0m2.5 0h0m1 0h0m1.5 0h0m3 0h0m10.5 0h0m3.5 0h0m-32 0.5h0m3 0h0m13.5 0h0m5 0h0m4.5 0h0m2 0h0m6.5 0h0m2 0h0m0.5 0h0m2 0h0m-44 0.5h0m9 0h0m6.5 0h0m32 0h0m-55 0.5h0m12.5 0h0m1 0h0m3.5 0h0m2.5 0h0m8 0h0m1.5 0h0m7.5 0h0m3 0h0m-43 0.5h0m3.5 0h0m10 0h0m4.5 0h0m8 0h0m4 0h0m9.5 0h0m9.5 0h0m8 0h0m-43 0.5h0m8 0h0m1 0h0m5 0h0m1 0h0m13.5 0h0m2 0h0m4 0h0m3.5 0h0m4.5 0h0m1.5 0h0m-58 0.5h0m5 0h0m14 0h0m3.5 0h0m2.5 0h0m1 0h0m1.5 0h0m4 0h0m4.5 0h0m1.5 0h0m0.5 0h0m7 0h0m9 0h0m-46.5 0.5h0m7 0h0m5 0h0m0.5 0h0m3.5 0h0m1 0h0m12 0h0m2.5 0h0m9.5 0h0m1 0h0m6.5 0h0m3 0h0m5.5 0h0m-60 0.5h0m1 0h0m10 0h0m0.5 0h0m1 0h0m2 0h0m16.5 0h0m2 0h0m15 0h0m6 0h0m1.5 0h0m-37 0.5h0m7 0h0m1.5 0h0m5.5 0h0m8.5 0h0m10 0h0m-51 0.5h0m23.5 0h0m7 0h0m1.5 0h0m8.5 0h0m5 0h0m0 0h0m-33.5 0.5h0m6.5 0h0m1 0h0m2 0h0m1 0h0m3 0h0m5 0h0m3.5 0h0m7.5 0h0m7.5 0h0m1.5 0h0m1.5 0h0m0.5 0h0m2 0h0m3.5 0h0m-60 0.5h0m6 0h0m12.5 0h0m5.5 0h0m0.5 0h0m6.5 0h0m23 0h0m0.5 0h0m7 0h0m-58 0.5h0m3.5 0h0m1.5 0h0m0 0h0m5 0h0m8 0h0m1 0h0m18 0h0m2.5 0h0m6 0h0m0.5 0h0m7.5 0h0m0.5 0h0m-41 0.5h0m4 0h0m2.5 0h0m1 0h0m6 0h0m9.5 0h0m17 0h0m-46.5 0.5h0m3 0h0m27 0h0m0 0h0m8.5 0h0m-50 0.5h0m3 0h0m16 0h0m0.5 0h0m1 0h0m0.5 0h0m8.5 0h0m3.5 0h0m4.5 0h0m-28.5 0.5h0m1 0h0m24.5 0h0m3.5 0h0m3 0h0m2.5 0h0m1.5 0h0m1 0h0m12 0h0m-52 0.5h0m2 0h0m2.5 0h0m11.5 0h0m3 0h0m5.5 0h0m6 0h0m-37 0.5h0m6 0h0m1 0h0m24.5 0h0m2 0h0m12 0h0m18.5 0h0m-64 0.5h0m4.5 0h0m21 0h0m10.5 0h0m5.5 0h0m7 0h0m0.5 0h0m-48.5 0.5h0m8 0h0m8 0h0m10 0h0m12 0h0m10 0h0m0 0h0m4 0h0m3.5 0h0m1.5 0h0m1.5 0h0m-47.5 0.5h0m2.5 0h0m2 0h0m4.5 0h0m5.5 0h0m26 0h0m-42.5 0.5h0m11.5 0h0m12 0h0m6 0h0m7.5 0h0m13.5 0h0m-58.5 0.5h0m5.5 0h0m6.5 0h0m0.5 0h0m0.5 0h0m1.5 0h0m6 0h0m16 0h0m9.5 0h0m2.5 0h0m6.5 0h0m1 0h0m-57.5 0.5h0m28.5 0h0m11 0h0m1.5 0h0m5.5 0h0m5 0h0m8.5 0h0m-58.5 0.5h0m2.5 0h0m0.5 0h0m4 0h0m17 0h0m6 0h0m8 0h0m0.5 0h0m0.5 0h0m0.5 0h0m0.5 0h0m5 0h0m9 0h0m2 0h0m2.5 0h0m-40 0.5h0m22 0h0m5 0h0m6 0h0m9 0h0m-60.5 0.5h0m3 0h0m0 0h0m0.5 0h0m0 0h0m1 0h0m6 0h0m26 0h0m17.5 0h0m5.5 0h0m-59 0.5h0m0.5 0h0m14 0h0m2 0h0m1.5 0h0m7 0h0m8.5 0h0m4.5 0h0m6.5 0h0m0.5 0h0m10 0h0m-54.5 0.5h0m8 0h0m1.5 0h0m3.5 0h0m8 0h0m13 0h0m8 0h0m14 0h0m-37.5 0.5h0m8.5 0h0m10.5 0h0m4 0h0m3.5 0h0m2 0h0m1 0h0m1 0h0m0.5 0h0m4 0h0m4.5 0h0m0 0h0m2.5 0h0m-59.5 0.5h0m1 0h0m7 0h0m1.5 0h0m8 0h0m1 0h0m3.5 0h0m1.5 0h0m10.5 0h0m1 0h0m0.5 0h0m15.5 0h0m1 0h0m7 0h0m-50.5 0.5h0m3 0h0m1.5 0h0m3.5 0h0m12 0h0m6.5 0h0m13 0h0m-52 0.5h0m2.5 0h0m8.5 0h0m13 0h0m20 0h0m11.5 0h0m-51.5 0.5h0m3.5 0h0m18.5 0h0m14 0h0m1 0h0m2 0h0m-32.5 0.5h0m26.5 0h0m20 0h0m-46.5 0.5h0m11.5 0h0m11.5 0h0m1.5 0h0m1.5 0.5h0m5.5 0h0m3 0h0m19 0h0m-54 0.5h0m22 0h0m1.5 0h0m8.5 0h0m22 0h0m-61 0.5h0m6.5 0h0m14.5 0h0m14.5 0h0m2 0h0m9 0h0m-35.5 0.5h0m15.5 0h0m19.5 0h0m7.5 0h0m-53.5 0.5h0m18.5 0h0m16.5 0h0m10.5 0h0m11 0h0m5 0h0m-31.5 0.5h0m6.5 0h0m10 0h0m4 0h0m1.5 0h0m-38 0.5h0m1 0h0m0.5 0h0m8 0h0m10.5 0h0m2.5 0h0m12.5 0h0m11.5 0h0m0.5 0h0m-34.5 0.5h0m20 0h0m1 0h0m12.5 0h0m-58 0.5h0m4 0h0m1 0h0m5 0h0m7 0h0m17.5 0h0m5.5 0h0m15.5 0h0m-55.5 0.5h0m16.5 0h0m28 0h0m-26.5 0.5h0m9.5 0h0m3.5 0h0m3 0h0m9.5 0h0m3 0h0m3.5 0h0m9 0h0m-41.5 0.5h0m8 0h0m1 0h0m19.5 0h0m5.5 0h0m-27 0.5h0m1 0h0m4.5 0h0m1 0h0m2 0h0m7 0h0m6.5 0h0m1.5 0h0m2 0h0m3.5 0h0m-55.5 0.5h0m4.5 0h0m2.5 0h0m11 0h0m5 0h0m3 0h0m7.5 0h0m2 0h0m16 0h0m-54.5 0.5h0m6.5 0h0m6 0h0m5.5 0h0m13.5 0h0m3 0h0m7 0h0m2 0h0m8 0h0m-48 0.5h0m2.5 0h0m1.5 0h0m2 0h0m8 0h0m6.5 0h0m8 0h0m12 0h0m-40.5 0.5h0m10 0h0m11 0h0m13.5 0h0m9.5 0h0m3.5 0h0m13.5 0h0m-45 0.5h0m1 0h0m14.5 0h0m-33 0.5h0m0.5 0h0m0.5 0h0m2.5 0h0m11 0h0m8.5 0h0m19 0h0m1 0h0m-42.5 0.5h0m24 0h0m11.5 0h0m4 0h0m6.5 0h0m15.5 0h0m-15.5 0.5h0m-46.5 0.5h0m15.5 0h0m1 0h0m0 0h0m2 0h0m0.5 0h0m37 0h0m3 0h0m-56.5 0.5h0m0.5 0h0m11.5 0h0m13.5 0h0m2 0h0m26.5 0h0m5.5 0h0m-50.5 0.5h0m25 0h0m3 0h0m7 0h0m-24 0.5h0m14.5 0h0m9.5 0h0m-48 0.5h0m5.5 0h0m33.5 0h0m-39 0.5h0m35.5 0h0m-21.5 0.5h0m9 0h0m27.5 0h0m-39 0.5h0m33 0h0m-3 0.5h0m18 0h0m-45 0.5h0m-12 0.5h0m9.5 0h0m8 0h0m10 0h0m30 0h0m-35.5 0.5h0m23 0h0m11 0h0m-52 0.5h0m3.5 0.5h0m1.5 0h0m7 0h0m10.5 0h0m9 0h0m19.5 0h0m-32 0.5h0m0 0h0m15.5 0h0m4 0h0m18 0.5h0m-23 0.5h0m13.5 0h0m-36 0.5h0m5.5 0h0m26.5 0h0m3 0h0m-36 0.5h0m21.5 0.5h0m-24.5 0.5h0m-2.5 0.5h0m18.5 0h0m-5 0.5h0m32 0h0m-7.5 0.5h0m9.5 0h0" stroke="#1a1a1a" stroke-width="1.55" stroke-linecap="square" fill="none"/>
<path d="M355 466.5h0m1 0h0m18.5 0h0m4.5 0h0m1 0h0m0.5 0h0m0 0h0m2 0h0m2 0h0m1.5 0h0m1 0h0m1.5 0h0m4 0h0m1.5 0h0m0.5 0h0m5 0h0m8 0h0m3 0h0m1.5 0h0m0.5 0h0m1 0h0m0 0h0m1.5 0h0m0.5 0h0m0 0h0m0.5 0h0m-61.5 0.5h0m0 0h0m1 0h0m5 0h0m1 0h0m1 0h0m4 0h0m3.5 0h0m9.5 0h0m0.5 0h0m1.5 0h0m1 0h0m1.5 0h0m0.5 0h0m0.5 0h0m2.5 0h0m1 0h0m0.5 0h0m3.5 0h0m2.5 0h0m1 0h0m4 0h0m0.5 0h0m2.5 0h0m1.5 0h0m3.5 0h0m0.5 0h0m0.5 0h0m0.5 0h0m3.5 0h0m2 0h0m3 0h0m0.5 0h0m-61 0.5h0m0.5 0h0m2 0h0m1 0h0m2.5 0h0m0 0h0m2.5 0h0m2 0h0m10.5 0h0m6.5 0h0m1 0h0m3 0h0m4 0h0m4.5 0h0m4 0h0m1.5 0h0m0.5 0h0m0 0h0m2 0h0m2 0h0m0 0h0m2 0h0m3.5 0h0m0 0h0m0.5 0h0m0.5 0h0m1.5 0h0m2.5 0h0m-62 0.5h0m3 0h0m1.5 0h0m0 0h0m1 0h0m3 0h0m0.5 0h0m2 0h0m3 0h0m5 0h0m9.5 0h0m0.5 0h0m1 0h0m0 0h0m2.5 0h0m0 0h0m1 0h0m0.5 0h0m1.5 0h0m1 0h0m0.5 0h0m3.5 0h0m0 0h0m0.5 0h0m4.5 0h0m1.5 0h0m0 0h0m0.5 0h0m1 0h0m0 0h0m2.5 0h0m1 0h0m0.5 0h0m1.5 0h0m0 0h0m1 0h0m0.5 0h0m1 0h0m1 0h0m2 0h0m-60.5 0.5h0m0 0h0m1 0h0m1 0h0m1 0h0m0.5 0h0m0.5 0h0m1 0h0m0.5 0h0m2 0h0m0.5 0h0m0.5 0h0m0.5 0h0m0.5 0h0m1 0h0m0.5 0h0m0 0h0m0 0h0m0.5 0h0m0.5 0h0m2.5 0h0m1.5 0h0m0.5 0h0m0 0h0m1 0h0m1.5 0h0m0 0h0m1 0h0m1.5 0h0m1 0h0m0.5 0h0m2 0h0m0.5 0h0m1 0h0m1 0h0m1 0h0m2 0h0m1 0h0m0 0h0m0.5 0h0m0 0h0m1 0h0m1 0h0m2.5 0h0m0.5 0h0m0.5 0h0m1 0h0m1.5 0h0m0 0h0m0 0h0m0.5 0h0m1.5 0h0m2 0h0m1 0h0m0.5 0h0m1 0h0m0 0h0m0.5 0h0m2 0h0m0.5 0h0m0 0h0m1 0h0m3 0h0m2 0h0m0.5 0h0m0.5 0h0m0.5 0h0m1.5 0h0m0.5 0h0m0.5 0h0m1 0h0m0 0h0m1.5 0h0m0 0h0m1 0h0m0 0h0m1 0h0m-65 0.5h0m1.5 0h0m0.5 0h0m0.5 0h0m0.5 0h0m0.5 0h0m0.5 0h0m0 0h0m0 0h0m3.5 0h0m1 0h0m2.5 0h0m1.5 0h0m3.5 0h0m1 0h0m0.5 0h0m0.5 0h0m1 0h0m0 0h0m0.5 0h0m0 0h0m1 0h0m1 0h0m0.5 0h0m0 0h0m1.5 0h0m1 0h0m0.5 0h0m0 0h0m0 0h0m0 0h0m0.5 0h0m1 0h0m0 0h0m1 0h0m0.5 0h0m1.5 0h0m1 0h0m0 0h0m4 0h0m1 0h0m1.5 0h0m0 0h0m0 0h0m0.5 0h0m0.5 0h0m1 0h0m0.5 0h0m2.5 0h0m1.5 0h0m1 0h0m0.5 0h0m0 0h0m0 0h0m2 0h0m1.5 0h0m0 0h0m0.5 0h0m1 0h0m0 0h0m1 0h0m0.5 0h0m1 0h0m0.5 0h0m0.5 0h0m0.5 0h0m0.5 0h0m0 0h0m0.5 0h0m2.5 0h0m1.5 0h0m2 0h0m0 0h0m1 0h0m0 0h0m2.5 0h0m-63.5 0.5h0m3 0h0m0 0h0m0.5 0h0m2 0h0m1 0h0m0.5 0h0m0 0h0m1 0h0m1.5 0h0m0.5 0h0m0.5 0h0m2 0h0m0.5 0h0m0.5 0h0m0.5 0h0m2 0h0m1 0h0m0 0h0m3 0h0m0 0h0m0.5 0h0m0 0h0m1.5 0h0m0.5 0h0m1 0h0m2 0h0m0.5 0h0m0 0h0m0.5 0h0m1.5 0h0m0.5 0h0m0.5 0h0m0.5 0h0m0 0h0m3 0h0m0 0h0m2.5 0h0m1.5 0h0m0 0h0m1 0h0m0 0h0m0 0h0m0.5 0h0m0.5 0h0m2.5 0h0m0.5 0h0m0.5 0h0m1.5 0h0m1 0h0m0.5 0h0m1.5 0h0m0 0h0m0.5 0h0m2 0h0m0.5 0h0m1 0h0m0.5 0h0m0 0h0m0.5 0h0m0 0h0m0 0h0m0 0h0m0.5 0h0m0 0h0m0.5 0h0m0.5 0h0m0.5 0h0m0 0h0m1 0h0m0.5 0h0m0.5 0h0m0.5 0h0m0.5 0h0m0.5 0h0m0.5 0h0m0.5 0h0m1.5 0h0m0.5 0h0m0.5 0h0m1 0h0m1 0h0m1.5 0h0m-64 0.5h0m0 0h0m1 0h0m0 0h0m1.5 0h0m1 0h0m0.5 0h0m0.5 0h0m0 0h0m2 0h0m0 0h0m0.5 0h0m0 0h0m0.5 0h0m0 0h0m0.5 0h0m0.5 0h0m2 0h0m1.5 0h0m0.5 0h0m5.5 0h0m0.5 0h0m0.5 0h0m0.5 0h0m1 0h0m0.5 0h0m0.5 0h0m1 0h0m0 0h0m1 0h0m0.5 0h0m0 0h0m0 0h0m0.5 0h0m0.5 0h0m1.5 0h0m0.5 0h0m1 0h0m0 0h0m1.5 0h0m0.5 0h0m4 0h0m1.5 0h0m0 0h0m1 0h0m0.5 0h0m0.5 0h0m1 0h0m0.5 0h0m0 0h0m0.5 0h0m0.5 0h0m0.5 0h0m0.5 0h0m0 0h0m0.5 0h0m0 0h0m0 0h0m2 0h0m0.5 0h0m1 0h0m2.5 0h0m0.5 0h0m0 0h0m0.5 0h0m0.5 0h0m0.5 0h0m1.5 0h0m0 0h0m0 0h0m0.5 0h0m0 0h0m1 0h0m1 0h0m1 0h0m2 0h0m2 0h0m0.5 0h0m2 0h0m0 0h0m1.5 0h0m0.5 0h0m0 0h0m0 0h0m1 0h0m-64 0.5h0m1 0h0m1 0h0m0 0h0m1.5 0h0m0.5 0h0m1.5 0h0m0 0h0m1 0h0m0 0h0m1.5 0h0m0 0h0m0.5 0h0m0.5 0h0m0.5 0h0m1 0h0m0 0h0m0.5 0h0m2 0h0m0 0h0m0.5 0h0m0.5 0h0m0.5 0h0m0 0h0m0 0h0m0.5 0h0m1 0h0m0 0h0m1 0h0m0 0h0m1 0h0m1 0h0m0.5 0h0m0.5 0h0m0 0h0m0.5 0h0m1 0h0m0.5 0h0m0.5 0h0m0 0h0m0 0h0m1.5 0h0m0.5 0h0m1.5 0h0m2 0h0m1 0h0m0 0h0m2 0h0m0 0h0m0.5 0h0m0.5 0h0m1.5 0h0m1 0h0m0 0h0m0 0h0m0.5 0h0m0 0h0m0.5 0h0m0 0h0m2 0h0m0 0h0m1 0h0m0 0h0m2 0h0m1.5 0h0m0.5 0h0m1 0h0m1.5 0h0m2 0h0m0 0h0m0.5 0h0m0.5 0h0m0.5 0h0m0.5 0h0m1.5 0h0m0.5 0h0m0 0h0m0.5 0h0m4 0h0m0 0h0m0 0h0m1 0h0m0.5 0h0m2.5 0h0m2.5 0h0m0.5 0h0m0 0h0m1.5 0h0m-64.5 0.5h0m0 0h0m2.5 0h0m2.5 0h0m0.5 0h0m1 0h0m1.5 0h0m0.5 0h0m2 0h0m1.5 0h0m0.5 0h0m0.5 0h0m0.5 0h0m1 0h0m0 0h0m1 0h0m1.5 0h0m0.5 0h0m1 0h0m0 0h0m1 0h0m0.5 0h0m0 0h0m1.5 0h0m0 0h0m2 0h0m0 0h0m2 0h0m1.5 0h0m0.5 0h0m0 0h0m1.5 0h0m1 0h0m1.5 0h0m0 0h0m0 0h0m1 0h0m1 0h0m0.5 0h0m0 0h0m0.5 0h0m1 0h0m0 0h0m1 0h0m1 0h0m0.5 0h0m0 0h0m1 0h0m1.5 0h0m1 0h0m0 0h0m1 0h0m0.5 0h0m1.5 0h0m2.5 0h0m1 0h0m1 0h0m0.5 0h0m0.5 0h0m1.5 0h0m0 0h0m1 0h0m0.5 0h0m0.5 0h0m1 0h0m1.5 0h0m0.5 0h0m0.5 0h0m1 0h0m1 0h0m1 0h0m1 0h0m1 0h0m1 0h0m0.5 0h0m0.5 0h0m-64 0.5h0m0 0h0m0.5 0h0m0.5 0h0m0.5 0h0m2.5 0h0m0.5 0h0m1 0h0m0 0h0m0.5 0h0m1.5 0h0m0 0h0m0.5 0h0m0 0h0m1 0h0m1 0h0m0.5 0h0m1.5 0h0m1 0h0m0 0h0m3 0h0m0.5 0h0m1 0h0m0 0h0m1.5 0h0m0.5 0h0m0.5 0h0m0.5 0h0m0 0h0m0.5 0h0m0.5 0h0m0.5 0h0m1 0h0m1 0h0m0.5 0h0m0.5 0h0m0.5 0h0m1 0h0m0.5 0h0m0 0h0m0.5 0h0m0.5 0h0m0 0h0m0.5 0h0m0 0h0m2.5 0h0m0 0h0m0 0h0m1 0h0m2 0h0m0 0h0m0.5 0h0m0 0h0m0.5 0h0m0 0h0m0.5 0h0m0 0h0m1.5 0h0m0.5 0h0m0 0h0m0.5 0h0m0 0h0m0.5 0h0m1 0h0m3 0h0m0 0h0m0 0h0m0 0h0m0 0h0m2.5 0h0m1 0h0m1 0h0m0 0h0m0.5 0h0m3.5 0h0m0 0h0m1 0h0m1.5 0h0m2 0h0m1 0h0m0 0h0m2 0h0m0.5 0h0m1 0h0m0.5 0h0m2.5 0h0m0.5 0h0m0.5 0h0m-64 0.5h0m2.5 0h0m0.5 0h0m0.5 0h0m1 0h0m0.5 0h0m0.5 0h0m2 0h0m0.5 0h0m2 0h0m0.5 0h0m0 0h0m0 0h0m0.5 0h0m1 0h0m0.5 0h0m1 0h0m0.5 0h0m0.5 0h0m0.5 0h0m1 0h0m0 0h0m0.5 0h0m0.5 0h0m1 0h0m2 0h0m0 0h0m0.5 0h0m0 0h0m1 0h0m1 0h0m1 0h0m1 0h0m0.5 0h0m0.5 0h0m0.5 0h0m0 0h0m0.5 0h0m0.5 0h0m0 0h0m0.5 0h0m0 0h0m0.5 0h0m0 0h0m0.5 0h0m0.5 0h0m2 0h0m2 0h0m0 0h0m0.5 0h0m0 0h0m0.5 0h0m2 0h0m0 0h0m0.5 0h0m0.5 0h0m0.5 0h0m0.5 0h0m1 0h0m0.5 0h0m3 0h0m0.5 0h0m3 0h0m1.5 0h0m0.5 0h0m1 0h0m0.5 0h0m0.5 0h0m0 0h0m1.5 0h0m1.5 0h0m1 0h0m1 0h0m0.5 0h0m1 0h0m0 0h0m0.5 0h0m2 0h0m0 0h0m0.5 0h0m1 0h0m0 0h0m0 0h0m0.5 0h0m1 0h0m0.5 0h0m0 0h0m0.5 0h0m0 0h0m0.5 0h0m0.5 0h0m0 0h0m0.5 0h0m-64.5 0.5h0m0.5 0h0m1 0h0m1 0h0m3.5 0h0m2 0h0m2 0h0m1 0h0m1.5 0h0m1.5 0h0m0.5 0h0m7 0h0m6 0h0m1 0h0m2.5 0h0m0.5 0h0m0.5 0h0m0 0h0m1.5 0h0m5 0h0m1.5 0h0m0.5 0h0m0.5 0h0m0 0h0m0.5 0h0m8.5 0h0m7.5 0h0m1.5 0h0m2 0h0m0.5 0h0m0.5 0h0m-56.5 0.5h0m2 0h0m1 0h0m4.5 0h0m5.5 0h0m2 0h0m1 0h0m2 0h0m4 0h0m1 0h0m2.5 0h0m4 0h0m6 0h0m-40.5 0.5h0m6 0h0m2 0h0m2.5 0h0m3.5 0h0m12.5 0h0m4.5 0h0m0.5 0h0m8.5 0h0m1.5 0h0m21 0h0m-62 0.5h0m1.5 0h0m5 0h0m6 0h0m0 0h0m3 0h0m0.5 0h0m1.5 0h0m0.5 0h0m10.5 0h0m0.5 0h0m0.5 0h0m0.5 0h0m1 0h0m5 0h0m8 0h0m6.5 0h0m1.5 0h0m2 0h0m0.5 0h0m0.5 0h0m4.5 0h0m-57 0.5h0m9 0h0m2 0h0m1 0h0m1.5 0h0m4 0h0m3.5 0h0m4 0h0m1.5 0h0m2.5 0h0m2.5 0h0m2 0h0m0.5 0h0m2.5 0h0m0.5 0h0m4 0h0m3.5 0h0m4.5 0h0m1 0h0m1 0h0m6.5 0h0m3.5 0h0m-57 0.5h0m10.5 0h0m2.5 0h0m2 0h0m16 0h0m15 0h0m6 0h0m0 0h0" stroke="#1a1a1a" stroke-width="1.55" stroke-linecap="square" fill="none"/>
</g>
<text transform="translate(253.9,608.5) scale(1,1.16)" class="tk" text-anchor="end">88</text>
<text transform="translate(253.9,582.2) scale(1,1.16)" class="tk" text-anchor="end">89</text>
<text transform="translate(253.9,555.9) scale(1,1.16)" class="tk" text-anchor="end">90</text>
<text transform="translate(253.9,529.7) scale(1,1.16)" class="tk" text-anchor="end">91</text>
<text transform="translate(253.9,503.4) scale(1,1.16)" class="tk" text-anchor="end">92</text>
<text transform="translate(253.9,477.1) scale(1,1.16)" class="tk" text-anchor="end">93</text>
<text transform="translate(306.8,624.2) scale(1,1.04)" class="tk" text-anchor="middle">ECM</text>
<text transform="translate(386.7,624.2) scale(1,1.04)" class="tk" text-anchor="middle">ML</text>
<text transform="translate(231.90000000000003,462.0) rotate(-90)" class="yt" text-anchor="end">Memory</text>
<rect x="508" y="461.1" width="178" height="146.1" fill="#F2F2F2"/>
<path d="M508 602.70H686M508 583.93H686M508 565.17H686M508 546.40H686M508 527.63H686M508 508.87H686M508 490.10H686M508 471.33H686M557.30 461.1V607.2M636.70 461.1V607.2" stroke="#D3D3D3" stroke-width="1.1" fill="none"/>
<clipPath id="c8"><rect x="508" y="461.1" width="178" height="146.1"/></clipPath>
<g clip-path="url(#c8)">
<path d="M557.30 587.69V568.92M557.30 601.20V602.70" stroke="#7a7a7a" stroke-width="1.5" fill="none"/>
<rect x="537.00" y="587.69" width="40.60" height="13.51" fill="#00FF00" stroke="#333" stroke-width="0.9"/>
<path d="M537.00 597.45H577.60" stroke="#333" stroke-width="1.2"/>
<path d="M636.70 556.16V500.61M636.70 595.19V602.70" stroke="#7a7a7a" stroke-width="1.5" fill="none"/>
<rect x="616.40" y="556.16" width="40.60" height="39.03" fill="#FFFF00" stroke="#333" stroke-width="0.9"/>
<path d="M616.40 582.43H657.00" stroke="#333" stroke-width="1.2"/>
<path d="M553 487h0m-3 0.5h0m-6.5 3h0m-11.5 1h0m49 3.5h0m-11 5h0m-27.5 2.5h0m-13 4h0m54.5 6.5h0m-25.5 7.5h0m-24 0.5h0m4 0.5h0m12 1h0m-9 1h0m13 1h0m-7.5 1.5h0m4.5 2h0m8 0.5h0m29.5 0h0m-50.5 3.5h0m21.5 0h0m-11 1h0m-16 0.5h0m-3 1.5h0m19.5 2h0m-17.5 0.5h0m44 0.5h0m-17.5 0.5h0m-20 2h0m3.5 0h0m46.5 0h0m-53 0.5h0m35 0h0m-4 2h0m20 0.5h0m-54 0.5h0m18.5 0.5h0m-6.5 0.5h0m9.5 1.5h0m4 2.5h0m-26.5 1.5h0m27.5 2h0m16 0h0m-3.5 1.5h0m-19 0.5h0m-24 1h0m48.5 1.5h0m-36.5 1h0m-8 0.5h0m3 0.5h0m3 1.5h0m46.5 0h0m-2.5 0.5h0m7 0h0m-33.5 0.5h0m10 0h0m8.5 0h0m9.5 0h0m-30.5 0.5h0m27.5 0h0m-1.5 0.5h0m9.5 0h0m-25.5 0.5h0m12 1h0m-48.5 0.5h0m19 0h0m-5 2h0m40 0h0m-4.5 0.5h0m-51.5 0.5h0m10.5 0h0m27.5 1h0m3 1h0m4.5 0h0m3.5 0h0m-43.5 1h0m2 0.5h0m18.5 0.5h0m19 0h0m-16 0.5h0m-22.5 1h0m21.5 0.5h0m-16 0.5h0m22 0h0m14 0h0m-31 0.5h0m25 0h0m-6.5 0.5h0m15 0h0m-46.5 1.5h0m1.5 0h0m5 0h0m11.5 0h0m-13 0.5h0m-7.5 0.5h0m8 0h0m4 0h0m2.5 0h0m21.5 0h0m3.5 0h0m11.5 0h0m5 0h0m2 0h0m-38 0.5h0m13 0h0m10 0h0m8 0h0m-43.5 0.5h0m0.5 0h0m10 0h0m8 0h0m0 0h0m18 0h0m8.5 0h0m-49 0.5h0m11.5 0h0m11 0h0m24.5 0h0m1 0h0m5 0h0m-38.5 0.5h0m6.5 0h0m4.5 0h0m1 0h0m3.5 0h0m-26.5 0.5h0m16.5 0h0m26.5 0h0m-39.5 0.5h0m9.5 0h0m25 0h0m2.5 0h0m7.5 0h0m2 0h0m-21.5 0.5h0m2.5 0h0m-39 0.5h0m20.5 0h0m15.5 0h0m-18 0.5h0m2 0h0m16.5 0h0m-12.5 0.5h0m-13 0.5h0m0.5 0h0m1 0h0m0 0h0m6 0h0m4.5 0h0m0.5 0h0m32 0h0m8.5 0h0m-42.5 0.5h0m7 0h0m2.5 0h0m8.5 0h0m15.5 0h0m9 0h0m-62 0.5h0m1 0h0m38 0h0m-35.5 0.5h0m39 0h0m3 0h0m14 0h0m-47.5 0.5h0m10 0h0m-23.5 0.5h0m9.5 0h0m7 0h0m12 0h0m5 0h0m7.5 0h0m-36.5 0.5h0m4 0h0m7.5 0h0m1.5 0h0m2 0h0m26 0h0m-12.5 0.5h0m19.5 0h0m-52 1h0m30.5 0h0m10 0h0m1 0h0m20 0h0m-58 0.5h0m1 0h0m4 0h0m5.5 0h0m1 0h0m2 0h0m9 0h0m6 0h0m6 0h0m8.5 0h0m14 0h0m-55 0.5h0m1.5 0h0m3 0h0m3 0h0m9 0h0m28 0h0m0.5 0h0m0.5 0h0m6 0h0m1.5 0h0m-55.5 0.5h0m5 0h0m3 0h0m0.5 0h0m12 0h0m8 0h0m7 0h0m3 0h0m4 0h0m11 0h0m-54.5 0.5h0m2 0h0m1.5 0h0m3.5 0h0m11 0h0m0.5 0h0m5 0h0m1 0h0m16.5 0h0m0.5 0h0m-39.5 0.5h0m4 0h0m0.5 0h0m10 0h0m1 0h0m18 0h0m1 0h0m20.5 0h0m-52 0.5h0m5.5 0h0m4 0h0m23 0h0m1 0h0m4.5 0h0m4 0h0m8 0h0m1.5 0h0m-53 0.5h0m3.5 0h0m3 0h0m3.5 0h0m1 0h0m22 0h0m3 0h0m1.5 0h0m17 0h0m-60 0.5h0m1 0h0m3 0h0m7 0h0m2 0h0m10.5 0h0m18.5 0h0m6 0h0m4 0h0m3 0h0m6.5 0h0m-63 0.5h0m2 0h0m9 0h0m0.5 0h0m0.5 0h0m1.5 0h0m1 0h0m5 0h0m14.5 0h0m16.5 0h0m1 0h0m2 0h0m1.5 0h0m7.5 0h0m-55 0.5h0m1.5 0h0m2.5 0h0m13.5 0h0m6 0h0m1 0h0m0.5 0h0m2.5 0h0m14 0h0m5 0h0m1 0h0m-47.5 0.5h0m0.5 0h0m1 0h0m2.5 0h0m7.5 0h0m0.5 0h0m3 0h0m15 0h0m19.5 0h0m-46 0.5h0m1 0h0m3.5 0h0m3 0h0m4.5 0h0m13.5 0h0m0 0h0m4 0h0m0.5 0h0m0.5 0h0m6.5 0h0m4.5 0h0m3.5 0h0m3 0h0m-56.5 0.5h0m3.5 0h0m1.5 0h0m3.5 0h0m4 0h0m2.5 0h0m4 0h0m5.5 0h0m6.5 0h0m2 0h0m4 0h0m10.5 0h0m3.5 0h0m6 0h0m3 0h0m-48 0.5h0m2.5 0h0m8 0h0m1.5 0h0m3 0h0m5.5 0h0m10 0h0m2 0h0m2.5 0h0m1.5 0h0m6 0h0m1 0h0m-52 0.5h0m1 0h0m2.5 0h0m2 0h0m9.5 0h0m1.5 0h0m8.5 0h0m7 0h0m5 0h0m3.5 0h0m4 0h0m7.5 0h0m1.5 0h0m2.5 0h0m-54.5 0.5h0m2 0h0m1.5 0h0m6.5 0h0m5 0h0m20.5 0h0m3.5 0h0m10 0h0m5.5 0h0m1.5 0h0m-60.5 0.5h0m5.5 0h0m1.5 0h0m10.5 0h0m3.5 0h0m0 0h0m-16 0.5h0m6.5 0h0m2 0h0m2 0h0m6 0h0m2 0h0m4 0h0m0.5 0h0m2.5 0h0m2 0h0m0 0h0m1.5 0h0m0.5 0h0m7.5 0h0m3 0h0m1 0h0m4 0h0m9 0h0m-53 0.5h0m9 0h0m1.5 0h0m8.5 0h0m3 0h0m4.5 0h0m8.5 0h0m4.5 0h0m10 0h0m2 0h0m1.5 0h0m-60.5 0.5h0m1.5 0h0m2 0h0m6.5 0h0m8 0h0m0.5 0h0m3 0h0m3.5 0h0m3.5 0h0m1.5 0h0m9 0h0m5 0h0m2 0h0m0 0h0m5 0h0m1.5 0h0m0 0h0m2 0h0m1.5 0h0m2 0h0m2 0h0m1.5 0h0m-62 0.5h0m0.5 0h0m0.5 0h0m0 0h0m0 0h0m2.5 0h0m1.5 0h0m0 0h0m1.5 0h0m3 0h0m0.5 0h0m1 0h0m1 0h0m0.5 0h0m0.5 0h0m7.5 0h0m6 0h0m4.5 0h0m1 0h0m0.5 0h0m0.5 0h0m1 0h0m2 0h0m1.5 0h0m4 0h0m2 0h0m2 0h0m0 0h0m1 0h0m1 0h0m3.5 0h0m0.5 0h0m2 0h0m1.5 0h0m1 0h0m0 0h0m5 0h0m1.5 0h0m0.5 0h0m-63 0.5h0m0.5 0h0m1 0h0m0.5 0h0m5.5 0h0m10 0h0m6 0h0m4 0h0m0 0h0m0.5 0h0m0.5 0h0m1.5 0h0m3.5 0h0m4.5 0h0m8.5 0h0m3.5 0h0m1 0h0m4 0h0m4 0h0m1.5 0h0m1.5 0h0m1 0h0m0 0h0m-63.5 0.5h0m6.5 0h0m2 0h0m0 0h0m1.5 0h0m4.5 0h0m5 0h0m4 0h0m12 0h0m4 0h0m5 0h0m0.5 0h0m0.5 0h0m2.5 0h0m1.5 0h0m1.5 0h0m1 0h0m1 0h0m4 0h0m2.5 0h0m2.5 0h0m2 0h0m-58.5 0.5h0m3 0h0m1 0h0m3.5 0h0m4.5 0h0m4.5 0h0m4.5 0h0m1 0h0m3 0h0m1.5 0h0m0.5 0h0m0.5 0h0m0.5 0h0m0 0h0m1.5 0h0m3 0h0m9.5 0h0m0.5 0h0m1 0h0m0 0h0m0.5 0h0m11 0h0m2 0h0m-63 0.5h0m1.5 0h0m1.5 0h0m1 0h0m1 0h0m3 0h0m2 0h0m6 0h0m5 0h0m0.5 0h0m0 0h0m0 0h0m0.5 0h0m3 0h0m3.5 0h0m1.5 0h0m1 0h0m0.5 0h0m0.5 0h0m0.5 0h0m1 0h0m1.5 0h0m4.5 0h0m4 0h0m2 0h0m2.5 0h0m2 0h0m1 0h0m5 0h0m3 0h0m1 0h0m2 0h0m0.5 0h0m0.5 0h0m-59.5 0.5h0m1.5 0h0m4 0h0m3.5 0h0m5.5 0h0m2.5 0h0m2.5 0h0m2 0h0m2.5 0h0m3.5 0h0m1 0h0m3 0h0m6 0h0m2 0h0m2.5 0h0m0.5 0h0m2 0h0m0.5 0h0m4 0h0m0.5 0h0m2 0h0m7.5 0h0m-61 0.5h0m1 0h0m1.5 0h0m2 0h0m6.5 0h0m0.5 0h0m3.5 0h0m0.5 0h0m1.5 0h0m0.5 0h0m1.5 0h0m0.5 0h0m2.5 0h0m1 0h0m2 0h0m1 0h0m3 0h0m0 0h0m2 0h0m0.5 0h0m1 0h0m1 0h0m3 0h0m1.5 0h0m4 0h0m1.5 0h0m2.5 0h0m3.5 0h0m1 0h0m0.5 0h0m5 0h0m2 0h0m1 0h0m0.5 0h0m-61 0.5h0m2 0h0m0.5 0h0m1.5 0h0m1.5 0h0m0 0h0m0.5 0h0m1.5 0h0m1.5 0h0m1 0h0m0 0h0m0.5 0h0m1.5 0h0m1 0h0m0.5 0h0m0 0h0m1.5 0h0m0.5 0h0m1.5 0h0m0 0h0m1 0h0m0.5 0h0m2 0h0m0.5 0h0m1.5 0h0m1.5 0h0m2 0h0m2.5 0h0m0.5 0h0m0 0h0m1 0h0m2.5 0h0m0.5 0h0m1 0h0m0.5 0h0m1.5 0h0m0.5 0h0m1 0h0m1.5 0h0m2 0h0m0.5 0h0m1 0h0m0.5 0h0m1 0h0m0 0h0m0.5 0h0m1.5 0h0m2.5 0h0m0.5 0h0m0 0h0m1 0h0m2.5 0h0m0.5 0h0m1 0h0m0.5 0h0m4 0h0m1 0h0m1 0h0m1 0h0m1 0h0m-62.5 0.5h0m0 0h0m2.5 0h0m1 0h0m0.5 0h0m0 0h0m0.5 0h0m1 0h0m1 0h0m0.5 0h0m1 0h0m5.5 0h0m0 0h0m1.5 0h0m1 0h0m0.5 0h0m1 0h0m0 0h0m0 0h0m0 0h0m2 0h0m0.5 0h0m0 0h0m1 0h0m0.5 0h0m0.5 0h0m0.5 0h0m1 0h0m0.5 0h0m2 0h0m0 0h0m1.5 0h0m0.5 0h0m1 0h0m1 0h0m2 0h0m0 0h0m0.5 0h0m1.5 0h0m1.5 0h0m2 0h0m1 0h0m1.5 0h0m0 0h0m0.5 0h0m1 0h0m0.5 0h0m1 0h0m0.5 0h0m1.5 0h0m4 0h0m1.5 0h0m2 0h0m1.5 0h0m3 0h0m1.5 0h0m0 0h0m1.5 0h0m0 0h0m0.5 0h0m0.5 0h0m1 0h0m2 0h0m0.5 0h0m0 0h0m-59.5 0.5h0m1.5 0h0m0 0h0m0.5 0h0m1.5 0h0m0 0h0m0 0h0m2 0h0m1 0h0m4 0h0m0.5 0h0m0 0h0m1 0h0m5 0h0m2 0h0m2 0h0m1 0h0m4 0h0m1 0h0m0.5 0h0m0.5 0h0m0 0h0m0.5 0h0m1 0h0m0 0h0m0.5 0h0m0.5 0h0m0.5 0h0m0 0h0m0.5 0h0m1 0h0m0 0h0m0.5 0h0m0.5 0h0m0 0h0m0.5 0h0m0 0h0m0.5 0h0m2.5 0h0m4 0h0m1.5 0h0m0.5 0h0m0.5 0h0m0.5 0h0m0.5 0h0m1 0h0m1.5 0h0m0.5 0h0m0.5 0h0m0.5 0h0m3.5 0h0m1 0h0m2 0h0m0.5 0h0m0 0h0m0 0h0m1 0h0m2.5 0h0" stroke="#141414" stroke-width="1.6" stroke-linecap="square" fill="none"/>
<path d="M637.5 468.5h0m-27 0.5h0m23 0.5h0m6 0h0m-10 0.5h0m2 0h0m29.5 0.5h0m-12 1h0m-12 1h0m-27.5 1.5h0m6 0h0m24.5 0h0m4 0h0m-4 1.5h0m20.5 2h0m2 0h0m-7 0.5h0m-5 0.5h0m1.5 1.5h0m-13.5 1.5h0m10.5 1h0m10 0h0m2 0h0m-16 2.5h0m6 2h0m14 2h0m-15 0.5h0m-13 1h0m-26 1h0m55.5 0h0m-47 1h0m7 1.5h0m-8 1h0m23 0h0m20 0.5h0m-44.5 3.5h0m21 0h0m11.5 0h0m12.5 0h0m-52.5 0.5h0m30 0h0m-14 0.5h0m8 0h0m-13.5 0.5h0m23.5 0h0m-6.5 0.5h0m1.5 0.5h0m-33.5 0.5h0m13.5 0.5h0m7.5 1h0m-5 1h0m44 0h0m-57.5 2h0m-1.5 0.5h0m14.5 0.5h0m14 0h0m-9 1h0m14.5 1.5h0m10 0h0m-44 0.5h0m46 0.5h0m-41.5 0.5h0m-0.5 1.5h0m26.5 0.5h0m-28 0.5h0m27.5 0h0m-20 1h0m6.5 0.5h0m27 0h0m15.5 0h0m-10.5 1h0m-43.5 1h0m30 0.5h0m-8 1h0m7 0h0m-33.5 1h0m33.5 0h0m-15 1h0m18 1h0m-15.5 0.5h0m30 1.5h0m11 0h0m-31 1h0m0.5 0h0m-19 1.5h0m6.5 0h0m36 0.5h0m-24 2h0m21.5 1h0m-41 0.5h0m11.5 0.5h0m11 0h0m20.5 0h0m-17.5 1.5h0m-22.5 0.5h0m30 0.5h0m-41.5 0.5h0m31 0h0m-31 0.5h0m-2 1h0m58 0h0m-50.5 1h0m7 0h0m4 0h0m13 0h0m1 0h0m-22 0.5h0m38.5 0.5h0m-43 0.5h0m-5.5 0.5h0m21.5 0h0m37.5 0h0m-20.5 0.5h0m-20 0.5h0m17.5 0h0m-10.5 0.5h0m-24 0.5h0m23 0.5h0m35 1h0m-51 0.5h0m-6 0.5h0m54 0.5h0m-38 0.5h0m24 0.5h0m-19 1h0m4 0h0m-23.5 0.5h0m22.5 0h0m16 0h0m16.5 0h0m-60 0.5h0m8.5 0h0m13 0.5h0m32 0h0m-28.5 0.5h0m-9.5 0.5h0m6 0h0m36 0h0m-1 0.5h0m-27 0.5h0m-11.5 0.5h0m7.5 0h0m36 0h0m-13 0.5h0m-41.5 0.5h0m13.5 0h0m9 0.5h0m9.5 0h0m21 0.5h0m-5.5 0.5h0m-6.5 0.5h0m-36.5 0.5h0m-13 1h0m43 0h0m-9 0.5h0m-24 0.5h0m41 0h0m-34 0.5h0m46.5 0h0m-59.5 0.5h0m7 0h0m27 0h0m-29.5 0.5h0m50.5 0h0m-59.5 1h0m3 0h0m13.5 0h0m13 0h0m3 0h0m0 0h0m14 0h0m-34 0.5h0m7.5 0h0m8 0h0m6.5 0h0m1 0h0m13.5 0h0m13.5 0h0m-49 0.5h0m14.5 0h0m1.5 0h0m3 0h0m1 0h0m-29.5 0.5h0m31.5 0h0m12 0h0m3.5 0h0m-29 0.5h0m9.5 0h0m25.5 0h0m3 0h0m4 0h0m-53 0.5h0m40.5 0h0m10 0h0m-31.5 0.5h0m5 0h0m17 0h0m2 0h0m0.5 0h0m-51.5 0.5h0m6 0h0m8.5 0h0m14.5 0h0m16.5 0h0m2.5 0h0m3 0h0m4 0h0m5 0h0m-26.5 0.5h0m-24.5 0.5h0m23.5 0h0m-33 0.5h0m1 0h0m11.5 0h0m7.5 0h0m10.5 0h0m18.5 0h0m-25.5 0.5h0m6.5 0h0m4 0h0m-26.5 0.5h0m47.5 0h0m-38.5 0.5h0m21.5 0h0m13 0h0m10 0h0m-42.5 0.5h0m-18 0.5h0m5 0h0m8.5 0h0m10.5 0h0m27 0h0m2.5 0h0m1.5 0h0m-58.5 0.5h0m9.5 0h0m7.5 0h0m1 0h0m3 0h0m27 0h0m-30.5 0.5h0m33.5 0h0m6.5 0h0m-41 0.5h0m1.5 0h0m19 0h0m12.5 0h0m-38 0.5h0m41.5 0.5h0m-27 0.5h0m2 0h0m27 0h0m-32.5 0.5h0m-16 0.5h0m10.5 0h0m8.5 0h0m23.5 0h0m15.5 0h0m-61 0.5h0m42.5 0h0m15.5 0h0m-61 0.5h0m2 0h0m19 0h0m23.5 0h0m6 0h0m1 0h0m2.5 0h0m-37 0.5h0m5.5 0h0m-22.5 1h0m37.5 0h0m3.5 0h0m-35.5 0.5h0m9.5 0h0m9.5 0h0m30 0h0m-49.5 0.5h0m4.5 0h0m16.5 0h0m29 0h0m-29.5 0.5h0m-12 0.5h0m36 0h0m-47.5 0.5h0m20.5 0h0m37.5 0h0m-53.5 0.5h0m36 0h0m5.5 0h0m12 0h0m-43.5 0.5h0m1 0h0m27.5 0h0m4.5 0h0m-9.5 0.5h0m18 0h0m2 0h0m-58 0.5h0m49 0h0m12.5 0h0m-63 0.5h0m8.5 0h0m1.5 0h0m11.5 0h0m10.5 0h0m-6 0.5h0m-7.5 0.5h0m29.5 0h0m2.5 0h0m-49.5 0.5h0m2.5 0h0m21.5 0h0m18.5 0h0m9 0h0m-25.5 0.5h0m4 0.5h0m-11 1h0m1.5 0h0m0.5 0h0m8.5 0h0m-11 0.5h0m31 0h0m12 0h0m-39 0.5h0m26 0h0m-18.5 0.5h0m5.5 0h0m7.5 0h0m0.5 0h0m16.5 0h0m1 0h0m0 0h0m-41.5 0.5h0m15.5 0h0m8 0h0m-41 0.5h0m5 0h0m4 0h0m4.5 0h0m36.5 0h0m9 0h0m-32.5 0.5h0m7.5 0h0m7 0h0m11.5 0h0m3.5 0h0m1 0h0m0.5 0h0m-53.5 0.5h0m6.5 0h0m3 0h0m2 0h0m4.5 0h0m4.5 0h0m16.5 0h0m11 0h0m-52.5 0.5h0m26 0h0m1 0h0m6 0h0m2.5 0h0m13.5 0h0m5 0h0m-52.5 0.5h0m0.5 0h0m16 0h0m13.5 0h0m4.5 0h0m6.5 0h0m1.5 0h0m1 0h0m14 0h0m-55.5 0.5h0m24.5 0h0m4.5 0h0m22.5 0h0m6 0h0m-54.5 0.5h0m22.5 0h0m25.5 0h0m4.5 0h0m-39.5 0.5h0m16 0h0m9.5 0h0m4.5 0h0m9 0h0m-62 0.5h0m14 0h0m3.5 0h0m8.5 0h0m2.5 0h0m16 0h0m5 0h0m9.5 0h0m-47 0.5h0m21.5 0h0m4.5 0h0m5.5 0h0m10.5 0h0m2.5 0h0m-48 0.5h0m8.5 0h0m0.5 0h0m11 0h0m2 0h0m8.5 0h0m8 0h0m2.5 0h0m-24 0.5h0m4.5 0h0m17 0h0m-14 0.5h0m0.5 0h0m0 0h0m1 0h0m14.5 0h0m15 0h0m-55 0.5h0m7 0h0m4 0h0m12 0h0m5 0h0m2 0h0m18 0h0m3.5 0h0m-56 0.5h0m5.5 0h0m5 0h0m17 0h0m8 0h0m0.5 0h0m12.5 0h0m11 0h0m-58 0.5h0m13 0h0m2.5 0h0m3.5 0h0m9 0h0m3.5 0h0m1.5 0h0m7.5 0h0m0 0h0m11.5 0h0m-37.5 0.5h0m5 0h0m4 0h0m13 0h0m12.5 0h0m1.5 0h0m-24 0.5h0m8.5 0h0m11 0h0m-17 0.5h0m14.5 0h0m3.5 0h0m8.5 0h0m2 0h0m-62.5 0.5h0m7 0h0m17 0h0m33 0h0m-46 0.5h0m3 0h0m35.5 0h0m-45 0.5h0m3 0h0m13.5 0h0m1 0h0m27.5 0h0m-39.5 0.5h0m0.5 0h0m26 0h0m8 0h0m6 0h0m-45.5 0.5h0m5.5 0h0m19.5 0h0m3 0h0m12.5 0h0m15.5 0h0m-60.5 0.5h0m12.5 0h0m13 0h0m7 0h0m7 0h0m4 0h0m1.5 0h0m4 0h0m-37 0.5h0m3.5 0h0m3 0h0m41.5 0h0m-52.5 0.5h0m10 0h0m23 0h0m4 0h0m8.5 0h0m1.5 0h0m6 0h0m-62 0.5h0m0 0h0m4.5 0h0m10 0h0m3 0h0m3 0h0m6.5 0h0m24.5 0h0m3 0h0m1.5 0h0m1 0h0m6.5 0h0m1 0h0m-53 0.5h0m7.5 0h0m2.5 0h0m2 0h0m14 0h0m1.5 0h0m2.5 0h0m12 0h0m4 0h0m-35.5 0.5h0m4.5 0h0m20 0h0m7.5 0h0m1 0h0m8.5 0h0m-63.5 0.5h0m11 0h0m1.5 0h0m16 0h0m9.5 0h0m0.5 0h0m21 0h0m-59 0.5h0m13 0h0m14 0h0m6 0h0m0.5 0h0m1 0h0m2.5 0h0m1.5 0h0m0.5 0h0m1.5 0h0m11.5 0h0m5 0h0m-53.5 0.5h0m7.5 0h0m2 0h0m6 0h0m8 0h0m1 0h0m11.5 0h0m0.5 0h0m1 0h0m17 0h0m-54.5 0.5h0m4.5 0h0m8 0h0m2 0h0m4 0h0m5 0h0m7 0h0m3.5 0h0m5 0h0m15 0h0m-54.5 0.5h0m9.5 0h0m13 0h0m1.5 0h0m6.5 0h0m3.5 0h0m3 0h0m3.5 0h0m12 0h0m-54.5 0.5h0m2 0h0m3 0h0m7.5 0h0m1 0h0m3 0h0m2 0h0m3 0h0m1.5 0h0m2.5 0h0m0.5 0h0m3.5 0h0m1.5 0h0m18 0h0m0.5 0h0m9.5 0h0m-52.5 0.5h0m0 0h0m11.5 0h0m3 0h0m9 0h0m0 0h0m6 0h0m0 0h0m4.5 0h0m2 0h0m3 0h0m1 0h0m2 0h0m-50 0.5h0m0.5 0h0m1 0h0m9 0h0m5 0h0m2.5 0h0m1 0h0m15 0h0m0.5 0h0m2.5 0h0m13.5 0h0m2 0h0m0.5 0h0m10.5 0h0m1 0h0m-48 0.5h0m7 0h0m2 0h0m8.5 0h0m5 0h0m1.5 0h0m1 0h0m3.5 0h0m2 0h0m0.5 0h0m2.5 0h0m2.5 0h0m4 0h0m-51 0.5h0m5.5 0h0m0.5 0h0m39 0h0m5 0h0m5.5 0h0m-43 0.5h0m0 0h0m1 0h0m11.5 0h0m17.5 0h0m1 0h0m5.5 0h0m3 0h0m4.5 0h0m2.5 0h0" stroke="#141414" stroke-width="1.6" stroke-linecap="square" fill="none"/>
</g>
<text transform="translate(505.0,609.5) scale(1,1.16)" class="tk" text-anchor="end">0.0000</text>
<text transform="translate(505.0,572.0) scale(1,1.16)" class="tk" text-anchor="end">0.0005</text>
<text transform="translate(505.0,534.4) scale(1,1.16)" class="tk" text-anchor="end">0.0010</text>
<text transform="translate(505.0,496.9) scale(1,1.16)" class="tk" text-anchor="end">0.0015</text>
<text transform="translate(557.3,624.2) scale(1,1.04)" class="tk" text-anchor="middle">ECM</text>
<text transform="translate(636.7,624.2) scale(1,1.04)" class="tk" text-anchor="middle">ML</text>
<text transform="translate(452.8,462.1) rotate(-90)" class="yt" text-anchor="end">Accuracy</text>
<rect x="37.2" y="663.8" width="178.4" height="143.9" fill="#F2F2F2"/>
<path d="M37.2 805.05H215.6M37.2 781.70H215.6M37.2 758.35H215.6M37.2 735.00H215.6M37.2 711.65H215.6M37.2 688.30H215.6M37.2 664.95H215.6M87.00 663.8V807.7M167.70 663.8V807.7" stroke="#D3D3D3" stroke-width="1.1" fill="none"/>
<clipPath id="c9"><rect x="37.2" y="663.8" width="178.4" height="143.9"/></clipPath>
<g clip-path="url(#c9)">
<path d="M87.00 730.80V669.62M87.00 777.50V800.38" stroke="#777" stroke-width="1.2" fill="none"/>
<rect x="66.70" y="730.80" width="40.60" height="46.70" fill="#00FF00" stroke="#333" stroke-width="0.9"/>
<path d="M66.70 754.61H107.30" stroke="#333" stroke-width="1.2"/>
<path d="M167.70 733.83V719.36M167.70 740.14V743.64" stroke="#777" stroke-width="1.2" fill="none"/>
<rect x="147.40" y="733.83" width="40.60" height="6.30" fill="#FFFF00" stroke="#333" stroke-width="0.9"/>
<path d="M147.40 736.17H188.00" stroke="#333" stroke-width="1.2"/>
<path d="M84 668h0m-25 1h0m1 0h0m27 0h0m-28 1h0m25 0h0m11 0h0m-22 1h0m33 1h0m0 2h0m-25 1h0m28 0h0m-39 1h0m12 0h0m22 2h0m-7 1h0m17 0h0m-54 1h0m2 0h0m19 0h0m23 0h0m-28 1h0m23 0h0m11 0h0m-56 1h0m12 0h0m9 0h0m8 0h0m13 0h0m5 0h0m15 0h0m1 0h0m-50 1h0m40 0h0m-34 1h0m41 0h0m-26 2h0m3 0h0m19 0h0m-33 2h0m37 0h0m-26 1h0m-16 2h0m2 0h0m30 0h0m14 0h0m2 1h0m-34 1h0m-21 1h0m11 0h0m15 0h0m17 0h0m-37 1h0m-3 1h0m4 1h0m36 0h0m8 0h0m-56 1h0m48 0h0m-48 1h0m22 0h0m2 0h0m1 0h0m-28 1h0m0 0h0m16 1h0m1 0h0m-14 1h0m11 0h0m24 0h0m18 0h0m5 0h0m-6 1h0m-58 1h0m8 0h0m7 0h0m19 0h0m28 0h0m-57 1h0m1 0h0m6 0h0m16 0h0m3 0h0m1 0h0m1 0h0m6 0h0m-33 1h0m3 0h0m5 0h0m6 1h0m7 0h0m1 0h0m10 0h0m11 0h0m-28 1h0m18 0h0m9 0h0m7 0h0m10 0h0m-59 1h0m2 0h0m0 0h0m3 0h0m8 0h0m21 0h0m23 0h0m3 0h0m-60 1h0m1 0h0m9 0h0m6 0h0m2 0h0m6 0h0m9 0h0m18 0h0m7 0h0m1 0h0m-59 1h0m5 0h0m18 0h0m25 0h0m10 1h0m-59 1h0m4 0h0m0 0h0m2 0h0m2 0h0m3 0h0m19 0h0m4 0h0m3 0h0m-40 1h0m16 0h0m13 0h0m12 0h0m-42 1h0m8 0h0m7 0h0m2 0h0m1 0h0m0 0h0m6 0h0m8 0h0m16 1h0m16 0h0m-1 1h0m-33 1h0m3 0h0m25 0h0m3 0h0m3 0h0m-61 1h0m0 0h0m23 0h0m8 0h0m10 0h0m-40 1h0m4 0h0m1 0h0m11 0h0m12 0h0m4 0h0m5 0h0m14 0h0m-40 1h0m24 0h0m0 0h0m22 0h0m-53 1h0m38 0h0m2 0h0m3 0h0m4 0h0m1 0h0m4 0h0m1 0h0m2 0h0m-58 1h0m2 0h0m20 0h0m11 0h0m3 0h0m20 0h0m-54 1h0m5 0h0m40 0h0m11 0h0m-35 1h0m33 0h0m-49 1h0m7 0h0m33 0h0m6 0h0m6 0h0m-64 1h0m10 0h0m12 0h0m9 0h0m4 0h0m11 0h0m-40 1h0m6 0h0m6 0h0m9 0h0m8 0h0m14 0h0m-30 1h0m2 0h0m2 0h0m1 0h0m1 0h0m-9 1h0m28 0h0m15 0h0m-52 1h0m2 0h0m1 0h0m13 0h0m2 0h0m1 0h0m9 0h0m4 0h0m6 0h0m0 0h0m3 0h0m-44 1h0m7 0h0m1 0h0m4 0h0m8 0h0m11 0h0m2 0h0m6 0h0m5 0h0m17 0h0m-64 1h0m3 0h0m1 0h0m0 0h0m5 0h0m11 0h0m21 0h0m13 0h0m1 0h0m-57 1h0m4 0h0m4 0h0m3 0h0m1 0h0m17 0h0m31 0h0m-58 1h0m3 0h0m4 0h0m3 0h0m1 0h0m5 0h0m3 0h0m3 0h0m9 0h0m22 0h0m2 0h0m-47 1h0m8 0h0m0 0h0m4 0h0m3 0h0m2 0h0m0 0h0m11 0h0m10 0h0m8 0h0m1 0h0m7 0h0m-62 1h0m4 0h0m2 0h0m0 0h0m26 0h0m2 0h0m3 0h0m3 0h0m3 0h0m4 0h0m0 0h0m14 0h0m-61 1h0m1 0h0m18 0h0m3 0h0m13 0h0m4 0h0m1 0h0m5 0h0m3 0h0m3 0h0m5 0h0m-56 1h0m4 0h0m17 0h0m1 0h0m11 0h0m3 0h0m7 0h0m8 0h0m4 0h0m-54 1h0m5 0h0m1 0h0m24 0h0m1 0h0m14 0h0m2 0h0m1 0h0m1 0h0m-49 1h0m11 0h0m9 0h0m3 0h0m3 0h0m17 0h0m3 0h0m0 0h0m2 0h0m6 0h0m8 0h0m-61 1h0m5 0h0m3 0h0m7 0h0m11 0h0m8 0h0m0 0h0m19 0h0m-55 1h0m0 0h0m38 0h0m6 0h0m8 0h0m2 0h0m-53 1h0m5 0h0m1 0h0m3 0h0m6 0h0m2 0h0m2 0h0m1 0h0m8 0h0m2 0h0m4 0h0m1 0h0m8 0h0m1 0h0m6 0h0m3 0h0m1 0h0m-50 1h0m7 0h0m5 0h0m7 0h0m12 0h0m11 0h0m6 0h0m7 0h0m-55 1h0m13 0h0m5 0h0m2 0h0m1 0h0m2 0h0m12 0h0m1 0h0m1 0h0m9 0h0m1 0h0m4 0h0m0 0h0m2 0h0m-53 1h0m5 0h0m4 0h0m1 0h0m1 0h0m0 0h0m2 0h0m8 0h0m1 0h0m31 0h0m1 0h0m-58 1h0m1 0h0m1 0h0m23 0h0m13 0h0m2 0h0m12 0h0m-35 1h0m45 0h0m-65 1h0m6 0h0m2 0h0m7 0h0m11 0h0m3 0h0m4 0h0m5 0h0m3 0h0m9 0h0m15 0h0m-52 1h0m2 0h0m10 0h0m4 0h0m2 0h0m1 0h0m1 0h0m0 0h0m0 0h0m1 0h0m7 0h0m1 0h0m17 0h0m5 0h0m-61 1h0m1 0h0m8 0h0m22 0h0m1 0h0m12 0h0m4 0h0m2 0h0m11 0h0m-26 1h0m2 0h0m5 0h0m6 0h0m10 0h0m0 0h0m1 0h0m1 0h0m-58 1h0m22 0h0m1 0h0m3 0h0m6 0h0m5 0h0m1 0h0m2 0h0m10 0h0m3 0h0m7 0h0m-49 1h0m19 0h0m2 0h0m8 0h0m6 0h0m6 0h0m4 0h0m-56 1h0m3 0h0m9 0h0m0 0h0m4 0h0m3 0h0m14 0h0m3 0h0m13 0h0m-45 1h0m13 0h0m4 0h0m1 0h0m28 0h0m2 0h0m4 0h0m-60 1h0m1 0h0m4 0h0m2 0h0m7 0h0m12 0h0m16 0h0m3 0h0m8 0h0m4 0h0m4 0h0m2 0h0m-57 1h0m6 0h0m1 0h0m6 0h0m21 0h0m4 0h0m8 0h0m-52 1h0m1 0h0m7 0h0m4 0h0m5 0h0m13 0h0m1 0h0m3 0h0m2 0h0m10 0h0m16 0h0m-57 1h0m1 0h0m9 0h0m3 0h0m3 0h0m4 0h0m31 0h0m-57 1h0m8 0h0m4 0h0m0 0h0m2 0h0m22 0h0m26 0h0m1 0h0m2 0h0m-64 1h0m1 0h0m9 0h0m17 0h0m1 0h0m7 0h0m3 0h0m-34 1h0m4 0h0m8 0h0m2 0h0m10 0h0m4 0h0m10 0h0m22 0h0m-57 1h0m1 0h0m16 0h0m12 0h0m2 0h0m2 0h0m11 0h0m13 0h0m-46 1h0m1 0h0m1 0h0m1 0h0m3 0h0m4 0h0m0 0h0m9 0h0m13 0h0m3 0h0m3 0h0m5 0h0m-36 1h0m7 0h0m5 0h0m4 0h0m6 0h0m6 0h0m1 0h0m2 0h0m-45 1h0m5 0h0m7 0h0m15 0h0m-31 1h0m3 0h0m24 0h0m26 0h0m2 0h0m-62 1h0m5 0h0m2 0h0m2 0h0m2 0h0m4 0h0m1 0h0m3 0h0m9 0h0m3 0h0m6 0h0m6 0h0m2 0h0m7 0h0m2 0h0m2 0h0m9 0h0m0 0h0m-64 1h0m4 0h0m12 0h0m1 0h0m0 0h0m7 0h0m5 0h0m20 0h0m2 0h0m8 0h0m1 0h0m-61 1h0m14 0h0m3 0h0m1 0h0m8 0h0m16 0h0m14 0h0m7 0h0m0 0h0m-57 1h0m5 0h0m6 0h0m1 0h0m18 0h0m13 0h0m15 0h0m-51 1h0m2 0h0m6 0h0m5 0h0m12 0h0m1 0h0m2 0h0m17 0h0m6 0h0m-41 1h0m7 0h0m22 0h0m4 0h0m-53 1h0m2 0h0m5 0h0m9 0h0m9 0h0m30 0h0m-57 1h0m6 0h0m1 0h0m9 0h0m1 0h0m5 0h0m8 0h0m17 0h0m-49 1h0m7 0h0m5 0h0m12 0h0m3 0h0m4 0h0m7 0h0m12 0h0m3 0h0m6 0h0m-33 1h0m13 0h0m1 0h0m6 0h0m3 0h0m0 0h0m8 0h0m-45 1h0m7 0h0m7 0h0m28 0h0m2 0h0m1 0h0m-32 1h0m1 0h0m2 0h0m17 0h0m-43 1h0m2 0h0m3 0h0m1 0h0m4 0h0m3 0h0m4 0h0m6 0h0m3 0h0m15 0h0m2 0h0m14 0h0m-46 1h0m22 0h0m5 0h0m9 0h0m-49 1h0m9 0h0m8 0h0m3 0h0m1 0h0m0 0h0m5 0h0m15 0h0m0 0h0m4 0h0m1 0h0m4 0h0m7 0h0m7 0h0m1 0h0m-32 1h0m8 0h0m9 0h0m1 0h0m3 0h0m12 0h0m-60 1h0m2 0h0m1 0h0m9 0h0m2 0h0m3 0h0m4 0h0m2 0h0m6 0h0m9 0h0m19 0h0m-59 1h0m5 0h0m1 0h0m32 0h0m1 0h0m6 0h0m10 0h0m5 0h0m-43 1h0m2 0h0m3 0h0m11 0h0m3 0h0m2 0h0m5 0h0m-38 1h0m7 0h0m10 0h0m3 0h0m6 0h0m25 0h0m-57 1h0m5 0h0m5 0h0m12 0h0m14 0h0m7 0h0m0 0h0m2 0h0m1 0h0m2 0h0m-45 1h0m3 0h0m1 0h0m0 0h0m12 0h0m5 0h0m1 0h0m8 0h0m6 0h0m1 0h0m5 0h0m7 0h0m3 0h0m1 0h0m4 0h0m-63 1h0m15 0h0m2 0h0m1 0h0m2 0h0m6 0h0m3 0h0m0 0h0m3 0h0m14 0h0m2 0h0m10 0h0m6 0h0m-63 1h0m11 0h0m7 0h0m19 0h0m8 0h0m3 0h0m-27 1h0m9 0h0m3 0h0m5 0h0m11 0h0m11 0h0m1 0h0m-59 1h0m10 0h0m7 0h0m4 0h0m7 0h0m5 0h0m6 0h0m0 0h0m8 0h0m15 0h0m-55 1h0m2 0h0m4 0h0m3 0h0m10 0h0m10 0h0m5 0h0m1 0h0m4 0h0m7 0h0m6 0h0m-61 1h0m4 0h0m15 0h0m2 0h0m0 0h0m4 0h0m13 0h0m7 0h0m0 0h0m-39 1h0m1 0h0m11 0h0m4 0h0m8 0h0m3 0h0m1 0h0m1 0h0m1 0h0m1 0h0m1 0h0m1 0h0m13 0h0m2 0h0m3 0h0m7 0h0m-59 1h0m27 0h0m2 0h0m3 0h0m5 0h0m-35 1h0m4 0h0m1 0h0m31 0h0m5 0h0m6 0h0m9 0h0" stroke="#000" stroke-width="2.0" stroke-linecap="square" fill="none"/>
<path d="M138 671h0m52 19h0m6 18h0m2 6h0m-21 1h0m-40 1h0m17 0h0m-7 3h0m-5 7h0m48 0h0m-41 1h0m31 1h0m-42 2h0m2 0h0m3 0h0m9 0h0m7 0h0m2 0h0m1 0h0m2 0h0m6 0h0m2 0h0m8 0h0m5 0h0m2 0h0m1 0h0m-52 1h0m1 0h0m1 0h0m0 0h0m0 0h0m1 0h0m1 0h0m1 0h0m0 0h0m3 0h0m0 0h0m0 0h0m1 0h0m1 0h0m2 0h0m0 0h0m0 0h0m1 0h0m0 0h0m0 0h0m1 0h0m1 0h0m0 0h0m0 0h0m0 0h0m2 0h0m1 0h0m1 0h0m1 0h0m0 0h0m1 0h0m1 0h0m0 0h0m1 0h0m3 0h0m1 0h0m0 0h0m1 0h0m0 0h0m2 0h0m0 0h0m2 0h0m3 0h0m1 0h0m1 0h0m1 0h0m1 0h0m0 0h0m0 0h0m0 0h0m4 0h0m0 0h0m1 0h0m2 0h0m0 0h0m2 0h0m1 0h0m0 0h0m1 0h0m1 0h0m0 0h0m1 0h0m1 0h0m5 0h0m0 0h0m1 0h0m2 0h0m0 0h0m0 0h0m2 0h0m0 0h0m-62 1h0m0 0h0m1 0h0m1 0h0m0 0h0m0 0h0m2 0h0m1 0h0m2 0h0m0 0h0m1 0h0m6 0h0m1 0h0m1 0h0m2 0h0m0 0h0m1 0h0m1 0h0m2 0h0m0 0h0m1 0h0m0 0h0m1 0h0m1 0h0m1 0h0m2 0h0m1 0h0m0 0h0m1 0h0m2 0h0m0 0h0m1 0h0m1 0h0m1 0h0m0 0h0m1 0h0m0 0h0m2 0h0m1 0h0m1 0h0m0 0h0m0 0h0m1 0h0m0 0h0m0 0h0m1 0h0m0 0h0m0 0h0m2 0h0m0 0h0m0 0h0m1 0h0m0 0h0m1 0h0m1 0h0m0 0h0m1 0h0m0 0h0m3 0h0m2 0h0m2 0h0m0 0h0m1 0h0m1 0h0m2 0h0m1 0h0m0 0h0m0 0h0m1 0h0m1 0h0m0 0h0m0 0h0m0 0h0m1 0h0m-65 1h0m1 0h0m1 0h0m1 0h0m0 0h0m1 0h0m3 0h0m1 0h0m1 0h0m3 0h0m0 0h0m1 0h0m1 0h0m0 0h0m1 0h0m2 0h0m1 0h0m0 0h0m2 0h0m2 0h0m3 0h0m0 0h0m0 0h0m0 0h0m2 0h0m1 0h0m1 0h0m0 0h0m1 0h0m0 0h0m1 0h0m0 0h0m1 0h0m1 0h0m1 0h0m0 0h0m1 0h0m2 0h0m3 0h0m1 0h0m2 0h0m1 0h0m0 0h0m2 0h0m1 0h0m0 0h0m1 0h0m0 0h0m1 0h0m1 0h0m0 0h0m1 0h0m2 0h0m0 0h0m6 0h0m1 0h0m1 0h0m0 0h0m1 0h0m0 0h0m2 0h0m-54 1h0m8 0h0m8 0h0m3 0h0m2 0h0m5 0h0m4 0h0m11 0h0m3 0h0m2 0h0m6 0h0m-59 1h0m10 0h0m6 0h0m0 0h0m1 0h0m20 0h0m16 0h0m3 0h0m3 0h0m-57 1h0m7 0h0m36 0h0m3 0h0m0 0h0m6 0h0m6 0h0m-54 1h0m21 0h0m0 0h0m28 0h0m0 0h0m-49 1h0m13 0h0m2 0h0m24 0h0m17 0h0m-61 1h0m9 0h0m17 0h0m4 0h0m6 0h0m9 0h0m9 0h0m-57 1h0m3 0h0m2 0h0m13 0h0m2 0h0m0 0h0m0 0h0m0 0h0m3 0h0m5 0h0m5 0h0m3 0h0m6 0h0m3 0h0m3 0h0m4 0h0m7 0h0m3 0h0m-62 1h0m1 0h0m1 0h0m0 0h0m1 0h0m2 0h0m1 0h0m0 0h0m0 0h0m1 0h0m1 0h0m0 0h0m1 0h0m0 0h0m1 0h0m2 0h0m2 0h0m1 0h0m0 0h0m1 0h0m1 0h0m0 0h0m1 0h0m0 0h0m0 0h0m1 0h0m0 0h0m1 0h0m0 0h0m3 0h0m0 0h0m0 0h0m3 0h0m0 0h0m1 0h0m1 0h0m0 0h0m0 0h0m1 0h0m0 0h0m2 0h0m0 0h0m1 0h0m1 0h0m0 0h0m2 0h0m0 0h0m1 0h0m1 0h0m0 0h0m1 0h0m1 0h0m3 0h0m2 0h0m0 0h0m1 0h0m1 0h0m0 0h0m0 0h0m4 0h0m2 0h0m1 0h0m0 0h0m0 0h0m1 0h0m1 0h0m3 0h0m1 0h0m0 0h0m0 0h0m1 0h0m0 0h0m2 0h0m0 0h0m1 0h0m0 0h0m1 0h0m-64 1h0m2 0h0m1 0h0m1 0h0m0 0h0m0 0h0m1 0h0m0 0h0m3 0h0m0 0h0m4 0h0m0 0h0m1 0h0m0 0h0m0 0h0m1 0h0m0 0h0m1 0h0m1 0h0m0 0h0m1 0h0m4 0h0m1 0h0m0 0h0m0 0h0m1 0h0m1 0h0m0 0h0m0 0h0m2 0h0m0 0h0m0 0h0m0 0h0m2 0h0m0 0h0m1 0h0m0 0h0m0 0h0m3 0h0m0 0h0m0 0h0m1 0h0m0 0h0m1 0h0m0 0h0m1 0h0m1 0h0m1 0h0m0 0h0m1 0h0m1 0h0m2 0h0m0 0h0m0 0h0m1 0h0m1 0h0m1 0h0m0 0h0m1 0h0m1 0h0m1 0h0m0 0h0m0 0h0m1 0h0m0 0h0m0 0h0m0 0h0m0 0h0m0 0h0m1 0h0m0 0h0m1 0h0m0 0h0m2 0h0m0 0h0m0 0h0m1 0h0m1 0h0m4 0h0m0 0h0m0 0h0m0 0h0m1 0h0m0 0h0m3 0h0m1 0h0m1 0h0m-64 1h0m0 0h0m0 0h0m0 0h0m1 0h0m0 0h0m3 0h0m0 0h0m4 0h0m1 0h0m0 0h0m2 0h0m1 0h0m3 0h0m2 0h0m0 0h0m1 0h0m0 0h0m0 0h0m0 0h0m1 0h0m0 0h0m0 0h0m2 0h0m1 0h0m1 0h0m1 0h0m2 0h0m0 0h0m1 0h0m0 0h0m1 0h0m3 0h0m0 0h0m1 0h0m1 0h0m1 0h0m0 0h0m3 0h0m0 0h0m0 0h0m1 0h0m1 0h0m0 0h0m1 0h0m2 0h0m2 0h0m4 0h0m0 0h0m2 0h0m0 0h0m0 0h0m0 0h0m2 0h0m0 0h0m1 0h0m1 0h0m0 0h0m1 0h0m0 0h0m0 0h0m1 0h0m2 0h0m2 0h0m1 0h0m0 0h0m1 0h0m1 0h0m0 0h0m-47 1h0m11 0h0m2 0h0m19 0h0m3 0h0" stroke="#000" stroke-width="2.0" stroke-linecap="square" fill="none"/>
</g>
<text transform="translate(33.8,788.5) scale(1,1.16)" class="tk" text-anchor="end">20</text>
<text transform="translate(33.8,741.8) scale(1,1.16)" class="tk" text-anchor="end">40</text>
<text transform="translate(33.8,695.1) scale(1,1.16)" class="tk" text-anchor="end">60</text>
<text transform="translate(87.0,824.7) scale(1,1.04)" class="tk" text-anchor="middle">ECM</text>
<text transform="translate(167.7,824.7) scale(1,1.04)" class="tk" text-anchor="middle">ML</text>
<text transform="translate(12.0,664.8) rotate(-90)" class="yt" text-anchor="end">Time</text>
<text transform="translate(36.4,647.9) scale(1,1.15)" class="ti">(D) LAYERS: 4</text>
<rect x="261" y="663.8" width="178.3" height="143.9" fill="#F2F2F2"/>
<path d="M261 801.90H439.3M261 784.60H439.3M261 767.30H439.3M261 750.00H439.3M261 732.70H439.3M261 715.40H439.3M261 698.10H439.3M261 680.80H439.3M310.70 663.8V807.7M391.30 663.8V807.7" stroke="#D3D3D3" stroke-width="1.1" fill="none"/>
<clipPath id="c10"><rect x="261" y="663.8" width="178.3" height="143.9"/></clipPath>
<g clip-path="url(#c10)">
<path d="M310.70 771.62V753.46M310.70 784.60V798.44" stroke="#333" stroke-width="1.0" fill="none"/>
<rect x="290.40" y="771.62" width="40.60" height="12.98" fill="#00FF00" stroke="#333" stroke-width="0.9"/>
<path d="M290.40 777.68H331.00" stroke="#333" stroke-width="1.2"/>
<path d="M391.30 673.01V671.29M391.30 674.75V675.61" stroke="#333" stroke-width="1.0" fill="none"/>
<rect x="371.00" y="673.01" width="40.60" height="1.73" fill="#FFFF00" stroke="#333" stroke-width="0.9"/>
<path d="M371.00 673.88H411.60" stroke="#333" stroke-width="1.2"/>
<path d="M286 744.5h0m11 2.5h0m16.5 1.5h0m-12.5 0.5h0m23 0h0m-37 0.5h0m18.5 0h0m36 0h0m-4.5 0.5h0m-24 1h0m7 0h0m11 1.5h0m-35 0.5h0m1 0.5h0m17.5 0h0m-28 0.5h0m6 0h0m0 0h0m9.5 0.5h0m40.5 0h0m-17.5 0.5h0m-43.5 0.5h0m20 0h0m14.5 0h0m3.5 0h0m2 0h0m5 0h0m-15.5 0.5h0m18 0h0m8 0h0m5.5 0.5h0m-8.5 0.5h0m-37 0.5h0m32 0h0m-20 0.5h0m33.5 0h0m-49 0.5h0m8.5 0h0m36.5 0h0m-15 1h0m16.5 0h0m-50 1h0m9.5 0h0m36.5 0h0m-47 0.5h0m15.5 0h0m13.5 0h0m-13.5 0.5h0m4 0h0m19 0h0m14.5 0h0m-38 0.5h0m24 0h0m14.5 0h0m-60.5 0.5h0m8 0h0m7.5 0h0m0 0h0m0 0h0m6 0h0m2.5 0h0m8.5 0h0m0.5 0h0m9 0h0m6.5 0h0m5 0h0m-43.5 0.5h0m10 0h0m18.5 0h0m5 0h0m3 0h0m-45 0.5h0m1.5 0h0m14 0h0m2 0h0m1 0h0m8 0h0m29 0h0m-60.5 0.5h0m7 0h0m8.5 0h0m24.5 0h0m1 0h0m8 0h0m0 0h0m3.5 0h0m4.5 0h0m1.5 0h0m-54 0.5h0m16.5 0h0m1 0h0m10 0h0m4 0h0m8 0h0m8 0h0m1.5 0h0m0 0h0m6 0h0m0.5 0h0m-58.5 0.5h0m1 0h0m10 0h0m0 0h0m0 0h0m0.5 0h0m3 0h0m2 0h0m10.5 0h0m7.5 0h0m7 0h0m1 0h0m3.5 0h0m13.5 0h0m2 0h0m-58.5 0.5h0m2 0h0m0 0h0m11 0h0m3 0h0m5.5 0h0m2 0h0m0.5 0h0m18.5 0h0m5.5 0h0m3.5 0h0m7.5 0h0m-63.5 0.5h0m19.5 0h0m2 0h0m25 0h0m2.5 0h0m8 0h0m0 0h0m5 0h0m-57 0.5h0m10.5 0h0m1 0h0m0.5 0h0m2 0h0m6.5 0h0m15 0h0m20 0h0m1.5 0h0m-55.5 0.5h0m7.5 0h0m1 0h0m6 0h0m6 0h0m6 0h0m2 0h0m18.5 0h0m4.5 0h0m6 0h0m-30 0.5h0m16 0h0m8.5 0h0m3 0h0m0.5 0h0m2.5 0h0m-59 0.5h0m0.5 0h0m7 0h0m9 0h0m2.5 0h0m7.5 0h0m1.5 0h0m1 0h0m3 0h0m2 0h0m11 0h0m0.5 0h0m5 0h0m0 0h0m4.5 0h0m-59.5 0.5h0m7 0h0m8.5 0h0m12.5 0h0m0.5 0h0m1.5 0h0m4 0h0m7 0h0m0 0h0m4.5 0h0m14 0h0m-56.5 0.5h0m1 0h0m12.5 0h0m5 0h0m10 0h0m0.5 0h0m7 0h0m2 0h0m8 0h0m1.5 0h0m3 0h0m0.5 0h0m1.5 0h0m3 0h0m-50 0.5h0m1 0h0m4.5 0h0m9 0h0m1 0h0m8 0h0m3 0h0m12.5 0h0m7 0h0m2.5 0h0m0.5 0h0m1.5 0h0m-49.5 0.5h0m0 0h0m6 0h0m2 0h0m9.5 0h0m0 0h0m2 0h0m10.5 0h0m5.5 0h0m8 0h0m0 0h0m-49.5 0.5h0m28.5 0h0m6 0h0m11.5 0h0m13 0h0m-61 0.5h0m2 0h0m2 0h0m11 0h0m4 0h0m10 0h0m10.5 0h0m14.5 0h0m1.5 0h0m4.5 0h0m-43.5 0.5h0m10.5 0h0m0 0h0m6 0h0m1.5 0h0m0.5 0h0m3 0h0m0 0h0m1.5 0h0m7 0h0m4 0h0m10 0h0m1.5 0h0m-53.5 0.5h0m0.5 0h0m1 0h0m3 0h0m2 0h0m2 0h0m3.5 0h0m0.5 0h0m2 0h0m9 0h0m0 0h0m3.5 0h0m2.5 0h0m3 0h0m0 0h0m1.5 0h0m0.5 0h0m8.5 0h0m-51 0.5h0m4.5 0h0m4.5 0h0m0.5 0h0m4 0h0m0 0h0m5 0h0m8 0h0m0 0h0m1.5 0h0m1.5 0h0m1 0h0m7.5 0h0m2.5 0h0m2.5 0h0m0 0h0m1 0h0m2.5 0h0m2 0h0m0 0h0m2 0h0m0 0h0m0.5 0h0m4 0h0m1 0h0m3.5 0h0m-61 0.5h0m2 0h0m0.5 0h0m4.5 0h0m3 0h0m5 0h0m11.5 0h0m1.5 0h0m5.5 0h0m0.5 0h0m8 0h0m0.5 0h0m2 0h0m7.5 0h0m0.5 0h0m1 0h0m1 0h0m0.5 0h0m2 0h0m2.5 0h0m1.5 0h0m-52 0.5h0m4 0h0m3.5 0h0m0.5 0h0m2 0h0m9.5 0h0m4 0h0m5 0h0m6.5 0h0m6 0h0m3 0h0m2 0h0m2.5 0h0m1.5 0h0m0.5 0h0m2 0h0m0.5 0h0m-63.5 0.5h0m5 0h0m1.5 0h0m2 0h0m0.5 0h0m6.5 0h0m2.5 0h0m4 0h0m2 0h0m0.5 0h0m1.5 0h0m1 0h0m0 0h0m1 0h0m2.5 0h0m0.5 0h0m9 0h0m2 0h0m4 0h0m0.5 0h0m0 0h0m3.5 0h0m0.5 0h0m1.5 0h0m0.5 0h0m4.5 0h0m2.5 0h0m1 0h0m2.5 0h0m-59 0.5h0m5.5 0h0m2.5 0h0m1.5 0h0m8.5 0h0m5 0h0m2 0h0m7.5 0h0m2.5 0h0m5.5 0h0m0.5 0h0m4.5 0h0m0.5 0h0m2.5 0h0m2.5 0h0m0.5 0h0m3 0h0m0 0h0m2 0h0m-60 0.5h0m1.5 0h0m6 0h0m5.5 0h0m4.5 0h0m1 0h0m3.5 0h0m3 0h0m3 0h0m0.5 0h0m1.5 0h0m1.5 0h0m0.5 0h0m0 0h0m6 0h0m1.5 0h0m0 0h0m0 0h0m0.5 0h0m15.5 0h0m3.5 0h0m0.5 0h0m1 0h0m3.5 0h0m-61 0.5h0m0 0h0m0 0h0m1.5 0h0m8.5 0h0m3 0h0m7 0h0m8.5 0h0m0.5 0h0m0 0h0m1.5 0h0m3 0h0m2.5 0h0m11.5 0h0m1.5 0h0m3.5 0h0m-51.5 0.5h0m1.5 0h0m0.5 0h0m1 0h0m11.5 0h0m0.5 0h0m3 0h0m4 0h0m7.5 0h0m1 0h0m3.5 0h0m0.5 0h0m2 0h0m4.5 0h0m0 0h0m0.5 0h0m5 0h0m-51 0.5h0m5 0h0m1 0h0m2 0h0m0.5 0h0m1.5 0h0m0 0h0m2.5 0h0m0.5 0h0m0.5 0h0m4 0h0m0 0h0m3 0h0m7.5 0h0m1 0h0m5 0h0m6 0h0m2 0h0m0 0h0m1 0h0m14 0h0m0 0h0m0 0h0m-56 0.5h0m6.5 0h0m12 0h0m1.5 0h0m7 0h0m2 0h0m8.5 0h0m0.5 0h0m4.5 0h0m2 0h0m3 0h0m12 0h0m0.5 0h0m1.5 0h0m-61 0.5h0m0 0h0m4.5 0h0m1.5 0h0m0.5 0h0m2.5 0h0m13 0h0m1 0h0m1 0h0m1.5 0h0m3 0h0m6 0h0m5.5 0h0m0 0h0m2.5 0h0m0.5 0h0m3.5 0h0m2 0h0m6 0h0m4.5 0h0m-60 0.5h0m1 0h0m9.5 0h0m4 0h0m5 0h0m2 0h0m0.5 0h0m7.5 0h0m1 0h0m8.5 0h0m6.5 0h0m2 0h0m3 0h0m0.5 0h0m11.5 0h0m-63 0.5h0m7 0h0m5 0h0m1.5 0h0m0 0h0m1 0h0m4.5 0h0m7.5 0h0m7 0h0m7 0h0m3 0h0m2 0h0m6.5 0h0m6 0h0m2 0h0m0 0h0m-59.5 0.5h0m4 0h0m0 0h0m6.5 0h0m3.5 0h0m3.5 0h0m4.5 0h0m2.5 0h0m4 0h0m6 0h0m3 0h0m8.5 0h0m7 0h0m0.5 0h0m0 0h0m7 0h0m1.5 0h0m1 0h0m-62.5 0.5h0m5 0h0m1.5 0h0m3 0h0m0.5 0h0m5 0h0m1 0h0m5 0h0m22 0h0m2 0h0m10.5 0h0m2 0h0m0.5 0h0m0.5 0h0m1.5 0h0m2 0h0m0.5 0h0m-60 0.5h0m1 0h0m2.5 0h0m0.5 0h0m0.5 0h0m2.5 0h0m1.5 0h0m1.5 0h0m3.5 0h0m4 0h0m0.5 0h0m2 0h0m13.5 0h0m1 0h0m0.5 0h0m3.5 0h0m3.5 0h0m1.5 0h0m5 0h0m7 0h0m5 0h0m-64 0.5h0m0.5 0h0m2 0h0m4 0h0m6 0h0m2.5 0h0m6.5 0h0m5 0h0m1.5 0h0m2.5 0h0m4 0h0m1 0h0m0 0h0m1 0h0m2 0h0m4.5 0h0m1.5 0h0m1.5 0h0m14 0h0m2.5 0h0m-49 0.5h0m2 0h0m6.5 0h0m9 0h0m5.5 0h0m1.5 0h0m2 0h0m1.5 0h0m0.5 0h0m6.5 0h0m10.5 0h0m5.5 0h0m-61.5 0.5h0m2.5 0h0m1.5 0h0m1 0h0m11.5 0h0m2 0h0m0 0h0m4.5 0h0m0.5 0h0m1 0h0m1.5 0h0m0 0h0m0.5 0h0m0.5 0h0m2 0h0m9 0h0m6 0h0m2 0h0m3 0h0m6 0h0m-51 0.5h0m4.5 0h0m0.5 0h0m0 0h0m1 0h0m2 0h0m5 0h0m7.5 0h0m2 0h0m8 0h0m2.5 0h0m4 0h0m0.5 0h0m3 0h0m0.5 0h0m5 0h0m3 0h0m2.5 0h0m2 0h0m-60.5 0.5h0m5.5 0h0m1 0h0m9.5 0h0m2 0h0m15 0h0m8 0h0m6.5 0h0m8 0h0m0 0h0m3.5 0h0m1.5 0h0m0.5 0h0m1 0h0m-62 0.5h0m2 0h0m0.5 0h0m13 0h0m6 0h0m0 0h0m2.5 0h0m2.5 0h0m1 0h0m2 0h0m0 0h0m3.5 0h0m7 0h0m0.5 0h0m3 0h0m2.5 0h0m1.5 0h0m2.5 0h0m6 0h0m0 0h0m2 0h0m6.5 0h0m-63.5 0.5h0m0.5 0h0m1 0h0m4.5 0h0m5 0h0m3.5 0h0m0.5 0h0m5 0h0m5 0h0m1.5 0h0m0.5 0h0m3.5 0h0m1.5 0h0m1 0h0m0.5 0h0m0 0h0m5.5 0h0m7 0h0m1 0h0m0.5 0h0m4 0h0m1 0h0m3.5 0h0m4.5 0h0m1.5 0h0m1 0h0m-61.5 0.5h0m9 0h0m15 0h0m2.5 0h0m3.5 0h0m3 0h0m6 0h0m2.5 0h0m-44 0.5h0m4.5 0h0m19 0h0m3.5 0h0m6.5 0h0m6 0h0m7.5 0h0m1 0h0m4.5 0h0m2 0h0m2 0h0m5 0h0m2.5 0h0m-58 0.5h0m2.5 0h0m2 0h0m1 0h0m2.5 0h0m2 0h0m2.5 0h0m2.5 0h0m1.5 0h0m23.5 0h0m4.5 0h0m5 0h0m0 0h0m3.5 0h0m-56.5 0.5h0m12.5 0h0m8.5 0h0m5 0h0m3 0h0m1.5 0h0m2 0h0m16.5 0h0m6 0h0m1.5 0h0m0.5 0h0m0 0h0m-47.5 0.5h0m2.5 0h0m6 0h0m6.5 0h0m1.5 0h0m2 0h0m4.5 0h0m4 0h0m8 0h0m9 0h0m8 0h0m-62 0.5h0m8.5 0h0m10 0h0m0.5 0h0m4.5 0h0m2 0h0m12.5 0h0m13.5 0h0m-43.5 0.5h0m8.5 0h0m18.5 0h0m2.5 0h0m3 0h0m7 0h0m3 0h0m2.5 0h0m2 0h0m-49 0.5h0m1 0h0m2.5 0h0m10 0h0m15.5 0h0m1 0h0m2 0h0m0.5 0h0m1.5 0h0m1 0h0m3 0h0m1.5 0h0m1 0h0m2.5 0h0m2 0h0m5.5 0h0m4.5 0h0m-63 0.5h0m7.5 0h0m4 0h0m2 0h0m0.5 0h0m1.5 0h0m5 0h0m7.5 0h0m0.5 0h0m4 0h0m3 0h0m1.5 0h0m21 0h0m-57.5 0.5h0m8.5 0h0m11 0h0m6.5 0h0m2.5 0h0m5.5 0h0m4 0h0m3.5 0h0m6.5 0h0m0.5 0h0m4 0h0m2.5 0h0m4 0h0m4.5 0h0m0.5 0h0m-62.5 0.5h0m4.5 0h0m1 0h0m5.5 0h0m5.5 0h0m8.5 0h0m1.5 0h0m7 0h0m4.5 0h0m0.5 0h0m9.5 0h0m-50 0.5h0m3.5 0h0m3.5 0h0m2 0h0m17 0h0m9 0h0m15.5 0h0m2.5 0h0m5.5 0h0m5.5 0h0m-59 0.5h0m14.5 0h0m2 0h0m8 0h0m6 0h0m4.5 0h0m0 0h0m2 0h0m0.5 0h0m20 0h0m1 0h0m-52 0.5h0m3 0h0m1.5 0h0m0 0h0m7.5 0h0m2 0h0m7.5 0h0m6.5 0h0m1 0h0m4 0h0m4.5 0h0m7 0h0m6 0h0m-62 0.5h0m4.5 0h0m12.5 0h0m2 0h0m3 0h0m8 0h0m1.5 0h0m0.5 0h0m11 0h0m1 0h0m12 0h0m1 0h0m6.5 0h0m0.5 0h0m0 0h0m-59.5 0.5h0m0.5 0h0m2 0h0m1.5 0h0m1 0h0m4 0h0m25.5 0h0m17 0h0m-51.5 0.5h0m13 0h0m31.5 0h0m9 0h0m-30 0.5h0m8.5 0h0m15.5 0h0m0.5 0h0m1 0h0m7 0h0m-36.5 0.5h0m-7 0.5h0m15 0h0m1 0h0m13.5 0h0m10 0h0m7 0h0m-42 0.5h0m9.5 0h0m20.5 0h0m11 0h0m-26.5 0.5h0m14.5 0h0m2 0h0m1 0h0m-53.5 0.5h0m20 0h0m0.5 0h0m23.5 0h0m2 0h0m0 0h0m18 0h0m-52 0.5h0m19.5 0h0m22.5 0h0m-37 0.5h0m9 0h0m4.5 0h0m0.5 0h0m14 0h0m3.5 0h0m4 0h0m3.5 0h0m1 0h0m-56 0.5h0m10.5 0h0m17 0h0m3.5 0h0m16.5 0h0m1.5 0h0m1 0h0m0 0h0m7 0h0" stroke="#1a1a1a" stroke-width="1.55" stroke-linecap="square" fill="none"/>
<path d="M359 670h0m7 0h0m2 0h0m3 0h0m2.5 0h0m1 0h0m6 0h0m3 0h0m7 0h0m3 0h0m9.5 0h0m5.5 0h0m1.5 0h0m0.5 0h0m1.5 0h0m5 0h0m0 0h0m0.5 0h0m5 0h0m-55 0.5h0m3 0h0m3.5 0h0m9 0h0m3 0h0m2.5 0h0m1.5 0h0m0.5 0h0m2.5 0h0m3 0h0m3.5 0h0m2 0h0m4 0h0m10 0h0m2 0h0m2 0h0m2 0h0m2 0h0m-64.5 0.5h0m3.5 0h0m2 0h0m5.5 0h0m1.5 0h0m2 0h0m2.5 0h0m0 0h0m0.5 0h0m0 0h0m3 0h0m0.5 0h0m1 0h0m6 0h0m1 0h0m8 0h0m2 0h0m0 0h0m2 0h0m3.5 0h0m6 0h0m1.5 0h0m0 0h0m2.5 0h0m6 0h0m0 0h0m4 0h0m-64.5 0.5h0m2.5 0h0m0.5 0h0m0 0h0m4 0h0m4.5 0h0m0 0h0m4.5 0h0m0.5 0h0m1 0h0m1.5 0h0m1.5 0h0m1 0h0m1 0h0m0.5 0h0m0.5 0h0m4 0h0m1.5 0h0m0 0h0m0 0h0m2 0h0m1 0h0m1.5 0h0m5.5 0h0m4.5 0h0m2.5 0h0m1 0h0m0.5 0h0m0.5 0h0m2 0h0m5 0h0m0.5 0h0m2 0h0m0 0h0m0.5 0h0m0.5 0h0m0 0h0m2 0h0m2 0h0m0 0h0m-62 0.5h0m0 0h0m1 0h0m0 0h0m1 0h0m1.5 0h0m1.5 0h0m0.5 0h0m1 0h0m1.5 0h0m1 0h0m0 0h0m1.5 0h0m1 0h0m0 0h0m0 0h0m1 0h0m0.5 0h0m0.5 0h0m0.5 0h0m1 0h0m1 0h0m0 0h0m1.5 0h0m1.5 0h0m1.5 0h0m0 0h0m1 0h0m1 0h0m0 0h0m0.5 0h0m0.5 0h0m2 0h0m0 0h0m1 0h0m0 0h0m1 0h0m0.5 0h0m0.5 0h0m1.5 0h0m0.5 0h0m0 0h0m0 0h0m1.5 0h0m1 0h0m1 0h0m0.5 0h0m1.5 0h0m0.5 0h0m2 0h0m1 0h0m0.5 0h0m0.5 0h0m3.5 0h0m0 0h0m1 0h0m1 0h0m1 0h0m2.5 0h0m0 0h0m0.5 0h0m0.5 0h0m0 0h0m0.5 0h0m0 0h0m1 0h0m0.5 0h0m1 0h0m1.5 0h0m1.5 0h0m0.5 0h0m2 0h0m0.5 0h0m0.5 0h0m1.5 0h0m1.5 0h0m-63.5 0.5h0m0.5 0h0m2 0h0m2.5 0h0m0 0h0m1 0h0m2 0h0m0 0h0m1 0h0m0 0h0m0.5 0h0m0.5 0h0m2 0h0m0.5 0h0m0.5 0h0m0 0h0m0 0h0m1.5 0h0m1.5 0h0m1 0h0m0 0h0m0.5 0h0m2 0h0m2 0h0m1 0h0m0.5 0h0m0 0h0m0.5 0h0m0.5 0h0m2 0h0m1 0h0m0 0h0m0.5 0h0m0.5 0h0m0 0h0m1 0h0m0.5 0h0m2 0h0m0.5 0h0m1 0h0m0.5 0h0m2 0h0m0 0h0m1 0h0m1 0h0m1 0h0m0 0h0m0.5 0h0m2 0h0m0.5 0h0m1 0h0m1 0h0m0.5 0h0m2 0h0m0.5 0h0m0.5 0h0m3 0h0m0.5 0h0m1 0h0m1 0h0m0 0h0m1 0h0m0 0h0m0.5 0h0m1 0h0m0 0h0m1 0h0m0 0h0m0.5 0h0m1.5 0h0m0 0h0m1 0h0m1 0h0m1 0h0m0.5 0h0m0.5 0h0m0.5 0h0m0 0h0m1 0h0m1 0h0m-64 0.5h0m0.5 0h0m0 0h0m0.5 0h0m1 0h0m0 0h0m0.5 0h0m2.5 0h0m0 0h0m0.5 0h0m1.5 0h0m0 0h0m0 0h0m1 0h0m0 0h0m0 0h0m0.5 0h0m0 0h0m0 0h0m3.5 0h0m0.5 0h0m0.5 0h0m0 0h0m2.5 0h0m1 0h0m3 0h0m2.5 0h0m0.5 0h0m0 0h0m1 0h0m0.5 0h0m0 0h0m0.5 0h0m1 0h0m1 0h0m1 0h0m1 0h0m1 0h0m0.5 0h0m0.5 0h0m1 0h0m0 0h0m2 0h0m0.5 0h0m0.5 0h0m1.5 0h0m0.5 0h0m0 0h0m1.5 0h0m0 0h0m0.5 0h0m1 0h0m2 0h0m0 0h0m2 0h0m1.5 0h0m0.5 0h0m1.5 0h0m0 0h0m0.5 0h0m0.5 0h0m1 0h0m0.5 0h0m0 0h0m0.5 0h0m3 0h0m0 0h0m1 0h0m0.5 0h0m1.5 0h0m0 0h0m2.5 0h0m1 0h0m0.5 0h0m0.5 0h0m1.5 0h0m1.5 0h0m0.5 0h0m0 0h0m-62.5 0.5h0m1 0h0m1 0h0m2.5 0h0m0 0h0m2 0h0m1 0h0m0.5 0h0m1 0h0m0.5 0h0m0 0h0m0 0h0m0 0h0m1 0h0m2 0h0m1 0h0m0.5 0h0m0.5 0h0m1.5 0h0m1.5 0h0m1 0h0m0.5 0h0m0 0h0m0.5 0h0m0.5 0h0m0.5 0h0m0 0h0m0.5 0h0m0 0h0m0.5 0h0m0.5 0h0m0.5 0h0m1 0h0m1 0h0m1 0h0m1.5 0h0m0.5 0h0m0.5 0h0m0.5 0h0m0 0h0m1 0h0m0 0h0m1 0h0m1 0h0m2 0h0m1 0h0m0.5 0h0m0.5 0h0m0.5 0h0m1 0h0m0.5 0h0m1 0h0m1.5 0h0m0 0h0m0.5 0h0m0 0h0m0 0h0m0.5 0h0m0.5 0h0m0 0h0m1.5 0h0m1 0h0m0 0h0m1.5 0h0m0 0h0m0.5 0h0m0 0h0m1 0h0m0.5 0h0m1 0h0m0.5 0h0m4 0h0m0.5 0h0m0 0h0m1 0h0m1 0h0m0.5 0h0m0 0h0m0.5 0h0m1.5 0h0m1.5 0h0m1 0h0m-60.5 0.5h0m1.5 0h0m1.5 0h0m0.5 0h0m0 0h0m0.5 0h0m0.5 0h0m0.5 0h0m0.5 0h0m2 0h0m1 0h0m0 0h0m0 0h0m3 0h0m2.5 0h0m0.5 0h0m1.5 0h0m1 0h0m0.5 0h0m0.5 0h0m1.5 0h0m1 0h0m3.5 0h0m0.5 0h0m1 0h0m0.5 0h0m0.5 0h0m0 0h0m0.5 0h0m1 0h0m0.5 0h0m1 0h0m0 0h0m2.5 0h0m0 0h0m3 0h0m0.5 0h0m0.5 0h0m0 0h0m0.5 0h0m1 0h0m1 0h0m0.5 0h0m0 0h0m0 0h0m2.5 0h0m0.5 0h0m0 0h0m0.5 0h0m1 0h0m1 0h0m0.5 0h0m1 0h0m1 0h0m0 0h0m1 0h0m1 0h0m0 0h0m0.5 0h0m0.5 0h0m2 0h0m0 0h0m1 0h0m0 0h0m0 0h0m0 0h0m2.5 0h0m0.5 0h0m0 0h0m0.5 0h0m1 0h0m0 0h0m0.5 0h0m0 0h0m1.5 0h0m0 0h0m2.5 0h0m0.5 0h0m0 0h0m0 0h0m-63.5 0.5h0m2.5 0h0m1 0h0m1 0h0m1 0h0m0.5 0h0m1 0h0m0.5 0h0m0 0h0m0.5 0h0m1 0h0m0.5 0h0m0.5 0h0m0.5 0h0m0 0h0m0.5 0h0m0 0h0m2 0h0m1.5 0h0m0.5 0h0m1.5 0h0m1 0h0m0 0h0m3 0h0m2.5 0h0m1 0h0m0.5 0h0m0.5 0h0m3.5 0h0m1 0h0m0 0h0m1 0h0m0 0h0m0 0h0m2 0h0m0.5 0h0m0 0h0m1 0h0m1 0h0m0.5 0h0m0.5 0h0m1 0h0m0.5 0h0m1 0h0m0.5 0h0m0 0h0m0.5 0h0m0.5 0h0m0.5 0h0m1 0h0m0 0h0m0.5 0h0m0.5 0h0m1 0h0m0.5 0h0m1 0h0m1 0h0m0 0h0m1.5 0h0m0 0h0m0.5 0h0m0 0h0m0.5 0h0m0.5 0h0m0 0h0m0.5 0h0m1 0h0m1 0h0m1.5 0h0m0 0h0m2 0h0m0 0h0m0.5 0h0m1 0h0m1.5 0h0m0 0h0m1.5 0h0m0.5 0h0m3.5 0h0m-64.5 0.5h0m0.5 0h0m2 0h0m0 0h0m1 0h0m0 0h0m0.5 0h0m0.5 0h0m2.5 0h0m0.5 0h0m2 0h0m2 0h0m1.5 0h0m1 0h0m2.5 0h0m0.5 0h0m0 0h0m0.5 0h0m1 0h0m1.5 0h0m1 0h0m1.5 0h0m1 0h0m2.5 0h0m0 0h0m0.5 0h0m0 0h0m0.5 0h0m0 0h0m1 0h0m0.5 0h0m3.5 0h0m0 0h0m0.5 0h0m0 0h0m0 0h0m1.5 0h0m1 0h0m0.5 0h0m0.5 0h0m0.5 0h0m0 0h0m0.5 0h0m1 0h0m0 0h0m2.5 0h0m1 0h0m0 0h0m0.5 0h0m0 0h0m0.5 0h0m0 0h0m1 0h0m1 0h0m1 0h0m0.5 0h0m0.5 0h0m1 0h0m0.5 0h0m0.5 0h0m0.5 0h0m0 0h0m0 0h0m0.5 0h0m1 0h0m0.5 0h0m0.5 0h0m0 0h0m0.5 0h0m2 0h0m3.5 0h0m0 0h0m1.5 0h0m2 0h0m1.5 0h0m0 0h0m1 0h0m1 0h0m0.5 0h0m-64 0.5h0m1 0h0m0.5 0h0m0.5 0h0m0.5 0h0m0 0h0m1 0h0m0 0h0m0 0h0m0.5 0h0m0.5 0h0m1 0h0m0 0h0m0.5 0h0m0 0h0m0.5 0h0m0.5 0h0m0 0h0m1 0h0m0.5 0h0m0.5 0h0m2 0h0m0.5 0h0m0 0h0m1.5 0h0m1 0h0m1 0h0m0.5 0h0m1 0h0m1.5 0h0m0 0h0m0.5 0h0m0 0h0m1 0h0m2.5 0h0m3 0h0m0 0h0m1 0h0m0 0h0m0 0h0m1 0h0m1.5 0h0m0 0h0m0.5 0h0m0.5 0h0m3 0h0m0.5 0h0m0 0h0m0.5 0h0m1 0h0m1 0h0m2.5 0h0m2.5 0h0m1 0h0m1 0h0m1 0h0m0 0h0m0.5 0h0m0.5 0h0m0 0h0m2 0h0m0.5 0h0m0.5 0h0m0.5 0h0m0.5 0h0m0 0h0m0 0h0m0.5 0h0m3 0h0m0.5 0h0m2 0h0m1 0h0m1.5 0h0m0 0h0m0.5 0h0m0.5 0h0m0.5 0h0m0.5 0h0m0 0h0m0 0h0m0.5 0h0m0 0h0m0.5 0h0m0.5 0h0m0 0h0m0.5 0h0m2.5 0h0m0 0h0m0.5 0h0m-64 0.5h0m2.5 0h0m1 0h0m0.5 0h0m0.5 0h0m0 0h0m1 0h0m1 0h0m0.5 0h0m0 0h0m1 0h0m0 0h0m0.5 0h0m2.5 0h0m0 0h0m2.5 0h0m0.5 0h0m1 0h0m0.5 0h0m3.5 0h0m1 0h0m0 0h0m3.5 0h0m3 0h0m1.5 0h0m0.5 0h0m0.5 0h0m2 0h0m2 0h0m2.5 0h0m1 0h0m2 0h0m1 0h0m1.5 0h0m1 0h0m1.5 0h0m0.5 0h0m2.5 0h0m0 0h0m0.5 0h0m1 0h0m1.5 0h0m0 0h0m3 0h0m0.5 0h0m0 0h0m0.5 0h0m1.5 0h0m1.5 0h0m1.5 0h0m1 0h0m2.5 0h0m0.5 0h0m0.5 0h0m1 0h0m-62 0.5h0m0 0h0m2.5 0h0m3 0h0m2.5 0h0m0.5 0h0m3.5 0h0m1.5 0h0m2 0h0m5.5 0h0m2 0h0m5.5 0h0m2 0h0m1 0h0m1 0h0m2.5 0h0m4 0h0m0.5 0h0m3 0h0m0.5 0h0m1 0h0m0 0h0m4 0h0m1 0h0m0.5 0h0m2.5 0h0m1.5 0h0m1 0h0m4.5 0h0m1 0h0m-62 0.5h0m0.5 0h0m1.5 0h0m6.5 0h0m1 0h0m1 0h0m3 0h0m1.5 0h0m0 0h0m3 0h0m2.5 0h0m5 0h0m2 0h0m0.5 0h0m5 0h0m5 0h0m1.5 0h0m2.5 0h0m3 0h0m2.5 0h0m0.5 0h0m0.5 0h0m1 0h0m2.5 0h0m1 0h0m6 0h0m1.5 0h0m1 0h0m1.5 0h0m0 0h0m-61.5 0.5h0m3.5 0h0m1 0h0m2.5 0h0m5.5 0h0m1 0h0m0.5 0h0m2 0h0m2.5 0h0m6.5 0h0m1.5 0h0m6.5 0h0m0.5 0h0m2 0h0m3.5 0h0m2 0h0m2.5 0h0m0 0h0m0.5 0h0m0.5 0h0m1 0h0m0.5 0h0m0.5 0h0m3.5 0h0m0 0h0m3 0h0m2.5 0h0m1.5 0h0m0.5 0h0m3.5 0h0m-52.5 0.5h0m7 0h0m6.5 0h0m10 0h0m3.5 0h0m0.5 0h0m4 0h0m7 36h0" stroke="#1a1a1a" stroke-width="1.55" stroke-linecap="square" fill="none"/>
</g>
<text transform="translate(256.8,808.7) scale(1,1.16)" class="tk" text-anchor="end">88</text>
<text transform="translate(256.8,774.1) scale(1,1.16)" class="tk" text-anchor="end">90</text>
<text transform="translate(256.8,739.5) scale(1,1.16)" class="tk" text-anchor="end">92</text>
<text transform="translate(256.8,704.9) scale(1,1.16)" class="tk" text-anchor="end">94</text>
<text transform="translate(310.7,824.7) scale(1,1.04)" class="tk" text-anchor="middle">ECM</text>
<text transform="translate(391.3,824.7) scale(1,1.04)" class="tk" text-anchor="middle">ML</text>
<text transform="translate(234.8,664.8) rotate(-90)" class="yt" text-anchor="end">Memory</text>
<rect x="506.2" y="663.8" width="179.8" height="143.9" fill="#F2F2F2"/>
<path d="M506.2 801.80H686M506.2 780.47H686M506.2 759.13H686M506.2 737.80H686M506.2 716.47H686M506.2 695.13H686M506.2 673.80H686M555.20 663.8V807.7M636.00 663.8V807.7" stroke="#D3D3D3" stroke-width="1.1" fill="none"/>
<clipPath id="c11"><rect x="506.2" y="663.8" width="179.8" height="143.9"/></clipPath>
<g clip-path="url(#c11)">
<path d="M555.20 797.53V792.20M555.20 801.16V801.80" stroke="#7a7a7a" stroke-width="1.5" fill="none"/>
<rect x="534.90" y="797.53" width="40.60" height="3.63" fill="#00FF00" stroke="#333" stroke-width="0.9"/>
<path d="M534.90 799.67H575.50" stroke="#333" stroke-width="1.2"/>
<path d="M636.00 744.20V669.53M636.00 794.33V801.80" stroke="#7a7a7a" stroke-width="1.5" fill="none"/>
<rect x="615.70" y="744.20" width="40.60" height="50.13" fill="#FFFF00" stroke="#333" stroke-width="0.9"/>
<path d="M615.70 776.63H656.30" stroke="#333" stroke-width="1.2"/>
<path d="M543.5 670.5h0m-18.5 66h0m1 32.5h0m12 0h0m10.5 4h0m-25.5 8h0m43.5 0.5h0m-38.5 0.5h0m43.5 0h0m6 0h0m-15.5 0.5h0m5 0.5h0m-30 0.5h0m36.5 0h0m11 0.5h0m-53.5 0.5h0m9.5 0.5h0m5.5 0h0m39.5 0h0m2 0h0m-15.5 0.5h0m6.5 0h0m-54.5 0.5h0m16.5 0h0m20 0h0m20 0h0m3 0h0m-42.5 0.5h0m32 0h0m14.5 0h0m-53.5 0.5h0m19 0h0m5 0h0m16.5 0h0m-50.5 0.5h0m16 0h0m-8.5 0.5h0m10.5 0.5h0m-14.5 0.5h0m5 0h0m14.5 0h0m13.5 0h0m-36.5 0.5h0m4 0h0m8.5 0h0m31.5 0h0m-19.5 0.5h0m17.5 0.5h0m17 0h0m-6 0.5h0m-53 0.5h0m38.5 0.5h0m21 0h0m-33 0.5h0m2 0h0m28 0h0m-53 0.5h0m3 0h0m16.5 0h0m13 0h0m5 0h0m16 0h0m-56 0.5h0m4 0h0m1 0h0m4.5 0h0m1.5 0h0m0.5 0h0m0.5 0h0m5.5 0h0m8 0h0m1 0h0m8 0h0m0 0h0m6 0h0m1 0h0m0 0h0m2.5 0h0m4.5 0h0m7.5 0h0m0.5 0h0m5 0h0m1 0h0m-59.5 0.5h0m2.5 0h0m0.5 0h0m1.5 0h0m0.5 0h0m8 0h0m8 0h0m0 0h0m7 0h0m10 0h0m1 0h0m3 0h0m17.5 0h0m-64.5 0.5h0m2 0h0m2 0h0m7 0h0m8.5 0h0m5.5 0h0m2 0h0m3 0h0m1.5 0h0m3.5 0h0m8 0h0m5 0h0m1 0h0m0.5 0h0m13.5 0h0m1 0h0m0.5 0h0m-62.5 0.5h0m6 0h0m3 0h0m3.5 0h0m5 0h0m8 0h0m0 0h0m1 0h0m0 0h0m12.5 0h0m3 0h0m1 0h0m3.5 0h0m5.5 0h0m-52 0.5h0m0.5 0h0m2 0h0m0.5 0h0m2 0h0m2.5 0h0m1 0h0m4 0h0m16 0h0m4.5 0h0m0.5 0h0m4.5 0h0m1.5 0h0m3 0h0m9 0h0m7 0h0m2 0h0m-61.5 0.5h0m0 0h0m0.5 0h0m3 0h0m1.5 0h0m2.5 0h0m1 0h0m1 0h0m10.5 0h0m2 0h0m1.5 0h0m0.5 0h0m1.5 0h0m4 0h0m3.5 0h0m4.5 0h0m6 0h0m1.5 0h0m5.5 0h0m0.5 0h0m0.5 0h0m-50.5 0.5h0m1.5 0h0m3 0h0m0 0h0m4 0h0m0.5 0h0m4 0h0m3 0h0m3.5 0h0m0 0h0m3 0h0m3 0h0m1.5 0h0m2 0h0m0.5 0h0m0.5 0h0m5.5 0h0m1 0h0m3 0h0m0 0h0m5 0h0m1 0h0m3.5 0h0m2 0h0m2.5 0h0m0 0h0m3 0h0m-55.5 0.5h0m1.5 0h0m3 0h0m1 0h0m5.5 0h0m2 0h0m4 0h0m6 0h0m0.5 0h0m0.5 0h0m0 0h0m1 0h0m0.5 0h0m0 0h0m4 0h0m2.5 0h0m4 0h0m5 0h0m0 0h0m1.5 0h0m14.5 0h0m4 0h0m-63 0.5h0m3 0h0m0 0h0m2.5 0h0m1 0h0m1.5 0h0m3.5 0h0m1 0h0m0.5 0h0m3 0h0m1.5 0h0m0.5 0h0m0.5 0h0m2.5 0h0m0 0h0m0.5 0h0m2 0h0m1 0h0m0 0h0m0.5 0h0m4.5 0h0m2.5 0h0m2 0h0m5.5 0h0m1.5 0h0m0 0h0m7.5 0h0m0 0h0m1 0h0m3 0h0m7 0h0m2 0h0m1.5 0h0m-63 0.5h0m0 0h0m0 0h0m1 0h0m2.5 0h0m0.5 0h0m0 0h0m0.5 0h0m1 0h0m0 0h0m1 0h0m1.5 0h0m0 0h0m1 0h0m1 0h0m2 0h0m1 0h0m0.5 0h0m0 0h0m0.5 0h0m1 0h0m0.5 0h0m2 0h0m2 0h0m0 0h0m1 0h0m0.5 0h0m0 0h0m4.5 0h0m0.5 0h0m0 0h0m3 0h0m1 0h0m1 0h0m1.5 0h0m1 0h0m0.5 0h0m0.5 0h0m2 0h0m1 0h0m0.5 0h0m0 0h0m0.5 0h0m0.5 0h0m0.5 0h0m0.5 0h0m1.5 0h0m2 0h0m1.5 0h0m0 0h0m1.5 0h0m1 0h0m0.5 0h0m4 0h0m2.5 0h0m0.5 0h0m0 0h0m0 0h0m1 0h0m0.5 0h0m1 0h0m0.5 0h0m0.5 0h0m0 0h0m3 0h0m-62 0.5h0m0.5 0h0m0.5 0h0m0.5 0h0m0.5 0h0m0 0h0m0.5 0h0m2.5 0h0m0 0h0m3 0h0m4 0h0m2 0h0m1.5 0h0m1 0h0m2.5 0h0m1.5 0h0m2 0h0m0.5 0h0m4 0h0m0.5 0h0m0 0h0m1 0h0m0.5 0h0m0.5 0h0m1 0h0m1 0h0m4 0h0m1 0h0m1 0h0m1.5 0h0m3 0h0m0.5 0h0m0 0h0m0.5 0h0m2 0h0m0 0h0m0.5 0h0m2 0h0m1.5 0h0m0.5 0h0m2.5 0h0m0.5 0h0m3 0h0m0.5 0h0m2 0h0m0 0h0m1.5 0h0m0.5 0h0m0 0h0m0.5 0h0m1 0h0m0 0h0m0.5 0h0m-62.5 0.5h0m0.5 0h0m0 0h0m2 0h0m2 0h0m1 0h0m2.5 0h0m1.5 0h0m0 0h0m0 0h0m1.5 0h0m3.5 0h0m0.5 0h0m1 0h0m0 0h0m0.5 0h0m1.5 0h0m0 0h0m3.5 0h0m1 0h0m2 0h0m0 0h0m0.5 0h0m0 0h0m2.5 0h0m3.5 0h0m1.5 0h0m3.5 0h0m4.5 0h0m0.5 0h0m2.5 0h0m1.5 0h0m0.5 0h0m0 0h0m2 0h0m1 0h0m0.5 0h0m1.5 0h0m1.5 0h0m0.5 0h0m0 0h0m2 0h0m4 0h0m0.5 0h0m0.5 0h0m0 0h0m0.5 0h0m0.5 0h0m2 0h0m2 0h0m-62.5 0.5h0m3.5 0h0m0 0h0m1.5 0h0m0 0h0m0.5 0h0m1 0h0m0 0h0m0 0h0m0 0h0m2 0h0m0 0h0m2.5 0h0m0.5 0h0m0 0h0m3.5 0h0m2 0h0m8.5 0h0m2.5 0h0m2.5 0h0m0.5 0h0m4 0h0m0 0h0m1.5 0h0m0.5 0h0m0 0h0m1 0h0m3 0h0m0.5 0h0m0.5 0h0m0.5 0h0m0.5 0h0m0.5 0h0m2 0h0m1 0h0m0.5 0h0m1 0h0m4.5 0h0m1 0h0m1 0h0m0.5 0h0m1.5 0h0m3 0h0m1 0h0m1 0h0m-62.5 0.5h0m1 0h0m1 0h0m0.5 0h0m0.5 0h0m1.5 0h0m0.5 0h0m1 0h0m0.5 0h0m0.5 0h0m0.5 0h0m1 0h0m0 0h0m1 0h0m1.5 0h0m0 0h0m2 0h0m0.5 0h0m0 0h0m0.5 0h0m0 0h0m1 0h0m0.5 0h0m2 0h0m1 0h0m1.5 0h0m0.5 0h0m0.5 0h0m2.5 0h0m0 0h0m0 0h0m0.5 0h0m6 0h0m0.5 0h0m1 0h0m0 0h0m1.5 0h0m0 0h0m0.5 0h0m0.5 0h0m0 0h0m0.5 0h0m3 0h0m0 0h0m0.5 0h0m0 0h0m2 0h0m0.5 0h0m0 0h0m1 0h0m0 0h0m0 0h0m0.5 0h0m1 0h0m1 0h0m0 0h0m1 0h0m1 0h0m0 0h0m1.5 0h0m0 0h0m0.5 0h0m0 0h0m0 0h0m0.5 0h0m2.5 0h0m1 0h0m0 0h0m0 0h0m2 0h0m2.5 0h0m0.5 0h0m0.5 0h0m0 0h0m2 0h0m0 0h0m1.5 0h0m1 0h0m0 0h0m0.5 0h0m-63.5 0.5h0m1 0h0m0 0h0m1.5 0h0m0.5 0h0m0.5 0h0m0.5 0h0m1.5 0h0m1 0h0m0.5 0h0m1 0h0m1.5 0h0m0 0h0m0 0h0m0 0h0m1 0h0m0.5 0h0m1 0h0m0 0h0m2.5 0h0m0 0h0m0.5 0h0m0.5 0h0m0.5 0h0m1 0h0m0 0h0m1 0h0m0 0h0m2.5 0h0m0.5 0h0m1 0h0m2 0h0m1.5 0h0m1.5 0h0m0 0h0m0.5 0h0m0 0h0m0.5 0h0m1 0h0m1.5 0h0m1 0h0m0.5 0h0m2.5 0h0m0 0h0m2 0h0m0 0h0m1.5 0h0m1 0h0m0.5 0h0m0.5 0h0m1 0h0m0 0h0m0.5 0h0m0 0h0m1 0h0m0.5 0h0m0 0h0m1 0h0m0 0h0m3 0h0m1 0h0m1 0h0m1.5 0h0m1 0h0m2 0h0m0 0h0m0.5 0h0m0 0h0m1.5 0h0m0.5 0h0m1 0h0m1 0h0m0.5 0h0m0.5 0h0m0.5 0h0m0.5 0h0m0 0h0m1.5 0h0m0.5 0h0m0.5 0h0m1.5 0h0m0 0h0m-63.5 0.5h0m1 0h0m0 0h0m1 0h0m1 0h0m0 0h0m1 0h0m1.5 0h0m1.5 0h0m1.5 0h0m1.5 0h0m0 0h0m1 0h0m1.5 0h0m0 0h0m0.5 0h0m0.5 0h0m1 0h0m0.5 0h0m0 0h0m0 0h0m0 0h0m0.5 0h0m0 0h0m0 0h0m1.5 0h0m1.5 0h0m0.5 0h0m0 0h0m1 0h0m1.5 0h0m0.5 0h0m0 0h0m0 0h0m0 0h0m1.5 0h0m1 0h0m0.5 0h0m0.5 0h0m1.5 0h0m2.5 0h0m1 0h0m1 0h0m0.5 0h0m1.5 0h0m0.5 0h0m0 0h0m1 0h0m0 0h0m0 0h0m1.5 0h0m0.5 0h0m0.5 0h0m4 0h0m0 0h0m0.5 0h0m0.5 0h0m0.5 0h0m1 0h0m2 0h0m2 0h0m0 0h0m2.5 0h0m0 0h0m1 0h0m0 0h0m0.5 0h0m0.5 0h0m0.5 0h0m0.5 0h0m1.5 0h0m0 0h0m1 0h0m0.5 0h0m1.5 0h0m0 0h0m0 0h0m0 0h0m0.5 0h0m1 0h0m0 0h0m1 0h0m0 0h0m0.5 0h0m0 0h0m0.5 0h0m1 0h0m0.5 0h0m0 0h0m0.5 0h0m0.5 0h0m-64 0.5h0m0.5 0h0m0 0h0m0 0h0m0.5 0h0m0 0h0m0.5 0h0m0.5 0h0m0.5 0h0m0 0h0m1 0h0m0 0h0m0.5 0h0m0.5 0h0m0.5 0h0m1 0h0m0 0h0m0 0h0m0 0h0m0.5 0h0m0 0h0m0 0h0m0.5 0h0m0 0h0m0 0h0m0.5 0h0m0.5 0h0m0.5 0h0m0.5 0h0m0.5 0h0m0.5 0h0m0.5 0h0m0.5 0h0m0.5 0h0m0.5 0h0m1 0h0m0.5 0h0m0.5 0h0m1 0h0m0.5 0h0m0.5 0h0m0 0h0m1 0h0m0 0h0m1.5 0h0m0 0h0m0 0h0m0.5 0h0m0 0h0m0 0h0m0 0h0m1 0h0m0 0h0m0.5 0h0m0.5 0h0m0 0h0m0.5 0h0m0 0h0m2 0h0m0 0h0m0 0h0m0.5 0h0m0.5 0h0m0.5 0h0m0.5 0h0m0 0h0m0 0h0m0.5 0h0m0.5 0h0m0.5 0h0m0 0h0m0.5 0h0m0 0h0m0.5 0h0m0 0h0m0.5 0h0m0 0h0m1 0h0m0 0h0m0.5 0h0m0.5 0h0m1 0h0m0 0h0m0.5 0h0m0 0h0m0.5 0h0m1 0h0m0.5 0h0m0 0h0m0 0h0m0 0h0m0.5 0h0m0 0h0m0.5 0h0m0 0h0m0.5 0h0m1 0h0m0.5 0h0m0.5 0h0m0 0h0m0 0h0m0.5 0h0m0.5 0h0m0 0h0m0.5 0h0m0 0h0m0 0h0m0.5 0h0m0.5 0h0m0.5 0h0m1 0h0m0 0h0m0 0h0m0.5 0h0m0 0h0m0.5 0h0m0 0h0m0.5 0h0m0.5 0h0m0 0h0m1 0h0m1 0h0m0 0h0m0.5 0h0m0 0h0m0.5 0h0m2 0h0m0 0h0m0.5 0h0m0.5 0h0m0 0h0m0 0h0m0.5 0h0m0 0h0m0 0h0m0.5 0h0m0.5 0h0m0 0h0m0 0h0m1 0h0m0.5 0h0m0.5 0h0m1 0h0m0.5 0h0m0 0h0m0.5 0h0m0.5 0h0m0 0h0m0 0h0m0 0h0m0 0h0m0.5 0h0m0.5 0h0m0 0h0m0.5 0h0m0 0h0m0.5 0h0m0 0h0m1 0h0m0 0h0m0 0h0m0.5 0h0m0 0h0m0 0h0m0.5 0h0m0 0h0m0.5 0h0m0 0h0m0.5 0h0m0 0h0m0 0h0m0.5 0h0m0 0h0m0.5 0h0m0 0h0m0.5 0h0m1 0h0m0 0h0m1 0h0m-61 0.5h0m13 0h0m7.5 0h0m6.5 0h0m0.5 0h0m7.5 0h0m1 0h0m6.5 0h0m7.5 0h0m3 0h0m0.5 0h0m2.5 0h0m3.5 0h0" stroke="#141414" stroke-width="1.6" stroke-linecap="square" fill="none"/>
<path d="M631.5 667.5h0m-19 2h0m-4.5 0.5h0m48.5 0h0m-51.5 1h0m1 0h0m11 0.5h0m8.5 1h0m35.5 1.5h0m-28 1h0m-20 0.5h0m23 0h0m21 0.5h0m-30.5 0.5h0m39 1.5h0m-60.5 3.5h0m44 1h0m-25 0.5h0m43 0h0m-59.5 0.5h0m60.5 0h0m-30.5 0.5h0m-28 1h0m14 0.5h0m9 1h0m16.5 0.5h0m17 0.5h0m-10 0.5h0m-20 0.5h0m-15 1h0m37.5 0.5h0m3 0.5h0m-40 0.5h0m12 0h0m-8 0.5h0m16.5 1h0m8.5 0h0m9 0h0m-54.5 1h0m28 0h0m-12 0.5h0m40.5 0h0m4.5 0h0m-14 1h0m-23.5 0.5h0m2 0h0m12 0.5h0m9.5 0h0m-6 1h0m-5 2h0m19.5 0h0m-48 1h0m8 0h0m38.5 0h0m-5 1h0m-26.5 1.5h0m3.5 0h0m-27 0.5h0m28 0h0m-27 0.5h0m24 0h0m1 0h0m0.5 0h0m-21.5 0.5h0m21 0h0m-16.5 0.5h0m9.5 0h0m16 0h0m4.5 1h0m24.5 0.5h0m0 0h0m-21 0.5h0m-21.5 0.5h0m-18.5 0.5h0m10 0h0m1 0.5h0m12 0.5h0m-10.5 0.5h0m1 0h0m17.5 0.5h0m-7.5 0.5h0m34 0h0m-58.5 0.5h0m34.5 0h0m-22 0.5h0m28 0h0m12.5 0h0m1.5 0h0m-46.5 1.5h0m1.5 0h0m14.5 0h0m28 0h0m-48.5 0.5h0m21.5 0h0m11 0.5h0m-17 0.5h0m25.5 0.5h0m-44.5 0.5h0m4.5 0h0m42 0h0m-10.5 0.5h0m-14 1h0m29 0h0m-51 0.5h0m12 0h0m31.5 1h0m-3.5 0.5h0m-4.5 0.5h0m-1 0.5h0m-9.5 0.5h0m7 0h0m16.5 0h0m2 0h0m1.5 0h0m-45 0.5h0m2.5 0.5h0m0.5 0h0m-0.5 0.5h0m8.5 0h0m33.5 0h0m7 0h0m-41 0.5h0m17 0h0m13.5 0h0m-45.5 0.5h0m18.5 0h0m38.5 0h0m-17 1h0m13 0h0m-8.5 1h0m-48 1h0m7.5 0h0m17 0h0m19 0h0m14.5 0h0m-42.5 0.5h0m9 0h0m18.5 0h0m16 0h0m-51.5 0.5h0m7 0h0m0 0.5h0m8 0h0m26 0.5h0m-34 0.5h0m28.5 0h0m-28.5 1h0m19.5 0h0m8 0.5h0m0.5 0h0m6 0h0m11.5 0h0m-34 0.5h0m29 0h0m-22.5 0.5h0m7.5 0h0m13.5 0h0m-25.5 0.5h0m10.5 0.5h0m-16.5 0.5h0m18.5 0h0m-30 0.5h0m6.5 0h0m14.5 0.5h0m-25 0.5h0m16.5 0.5h0m13.5 0h0m11 0h0m-12 0.5h0m16.5 0h0m-2 0.5h0m-50 0.5h0m19.5 0h0m21.5 0h0m4.5 0h0m12.5 0h0m-55.5 0.5h0m5 0h0m42 1h0m-0.5 0.5h0m-24 1.5h0m6 0h0m24 0h0m-30.5 0.5h0m-23 0.5h0m36 0.5h0m6 0h0m-25.5 0.5h0m42.5 0h0m-35 0.5h0m6 0h0m29.5 0.5h0m-52.5 0.5h0m47.5 0.5h0m-52 0.5h0m35 1h0m-27.5 0.5h0m20.5 0h0m12.5 0h0m7.5 0h0m5 0h0m-24 0.5h0m4.5 0h0m1.5 0h0m13.5 0h0m4 0.5h0m6.5 0h0m-61.5 0.5h0m5 0h0m8 0h0m3 0h0m35 0h0m-39 1h0m1.5 0h0m4 0h0m24.5 0h0m-28.5 0.5h0m23 0h0m23 0h0m-42 0.5h0m13.5 0h0m20 0h0m5 0h0m-53 0.5h0m0 0h0m18 0h0m-6.5 0.5h0m-12 0.5h0m46 0h0m1 0h0m7.5 0.5h0m-40 0.5h0m25.5 0h0m3.5 0h0m-38.5 0.5h0m7 0h0m2.5 0h0m7.5 0h0m25.5 0h0m-40.5 0.5h0m11 0h0m20.5 0.5h0m12 0h0m7 0h0m-57.5 0.5h0m20 0h0m28.5 0h0m-50 0.5h0m18.5 0h0m5 0h0m8 0h0m13.5 0h0m4 0h0m5.5 0h0m-45.5 0.5h0m3.5 0h0m7 0h0m6.5 0h0m15.5 0h0m3.5 0h0m-47 0.5h0m21.5 0h0m15 0h0m-19 0.5h0m22 0h0m7.5 0h0m14.5 0h0m-50.5 0.5h0m23 0h0m-4 0.5h0m4 0h0m3.5 0h0m2.5 0h0m8 0h0m-17.5 0.5h0m3 0h0m4.5 0h0m-34 0.5h0m41.5 0h0m-46 0.5h0m32 0h0m27.5 0h0m-45 0.5h0m20 0h0m8 0h0m15 0h0m0.5 0h0m-34.5 0.5h0m15.5 0h0m12 0h0m-1 0.5h0m-23.5 0.5h0m21 0h0m-25.5 0.5h0m0.5 0h0m1 0h0m0.5 0h0m27 0h0m3.5 0h0m-34 0.5h0m8 0h0m-19 0.5h0m24.5 0h0m-20.5 0.5h0m19 0h0m0.5 0h0m14 0h0m6.5 0h0m6 0h0m1 0h0m-29.5 1h0m21 0h0m-36 0.5h0m9 0h0m6.5 0h0m-27 0.5h0m7.5 0h0m0 0h0m43 0.5h0m-12 0.5h0m11 0h0m3 0h0m-50 0.5h0m10 0h0m14 0h0m2 0h0m-25 0.5h0m1 0h0m5 0h0m20 0.5h0m1.5 0h0m9 0h0m-27.5 0.5h0m25.5 0h0m11.5 0h0m8 0h0m-6 0.5h0m3.5 0h0m-54 0.5h0m6 0h0m9 0h0m33.5 0h0m-33 0.5h0m-9.5 0.5h0m4 0h0m13.5 0h0m33 0h0m-61.5 0.5h0m25 0h0m-10 0.5h0m0.5 0h0m28 0h0m12 0h0m-56 0.5h0m2 0.5h0m8.5 0h0m0 0h0m6.5 0h0m12.5 0h0m26.5 0h0m0.5 0h0m5 0h0m-57 0.5h0m10.5 0h0m7 0h0m13 0h0m11 0h0m1 0h0m10.5 0h0m5.5 0h0m-54.5 0.5h0m23.5 0h0m11.5 0h0m-35 0.5h0m15.5 0h0m0.5 0h0m-2 0.5h0m0.5 0h0m20.5 0h0m11 0.5h0m2 0h0m3 0.5h0m2.5 0h0m-60 0.5h0m57.5 0h0m-50 0.5h0m2.5 0h0m3 0h0m0 0h0m4.5 0h0m3.5 0h0m28.5 0h0m-35.5 0.5h0m12.5 0h0m13 0h0m1 0h0m7.5 0h0m-41.5 0.5h0m7 0h0m9.5 0h0m28 0h0m-43.5 0.5h0m2.5 0h0m9.5 0h0m19 0h0m22.5 0h0m-57.5 0.5h0m4.5 0h0m-8.5 0.5h0m8.5 0h0m1 0h0m12 0h0m1.5 0h0m6.5 0h0m9.5 0h0m15.5 0h0m-49.5 0.5h0m28 0h0m10 0h0m-44 0.5h0m2.5 0h0m11 0h0m43.5 0h0m3 0h0m-39.5 0.5h0m23 0h0m0.5 0h0m4 0h0m-44.5 0.5h0m14.5 0h0m10.5 0h0m33.5 0h0m-55 0.5h0m8.5 0h0m16 0h0m4 0h0m7.5 0h0m8.5 0h0m8.5 0h0m-53.5 0.5h0m0.5 0h0m28.5 0h0m2.5 0h0m8.5 0h0m8.5 0h0m-55.5 0.5h0m3.5 0h0m19 0h0m-20.5 0.5h0m3 0h0m16 0h0m6 0h0m2.5 0h0m-20.5 0.5h0m0.5 0h0m42 0h0m-46.5 0.5h0m10 0h0m27.5 0h0m5.5 0h0m2.5 0h0m6.5 0h0m1.5 0h0m-54.5 0.5h0m30.5 0h0m5 0h0m-18.5 0.5h0m14 0h0m6.5 0h0m-40 0.5h0m6.5 0h0m12 0h0m0.5 0h0m4.5 0h0m14.5 0h0m8.5 0h0m2.5 0h0m-49 0.5h0m4.5 0h0m21 0h0m15 0h0m11.5 0h0m1 0h0m1.5 0h0m1.5 0h0m-51 0.5h0m3 0h0m7 0h0m12.5 0h0m0.5 0h0m21.5 0h0m5.5 0h0m-24 0.5h0m23 0h0m2.5 0h0m4 0h0m-43.5 0.5h0m5.5 0h0m0.5 0h0m2.5 0h0m8.5 0h0m3 0h0m2 0h0m22.5 0h0m-60.5 0.5h0m17 0h0m6.5 0h0m2 0h0m3 0h0m23 0h0m5.5 0h0m-40 0.5h0m0 0h0m26.5 0h0m-41.5 0.5h0m2 0h0m5 0h0m5 0h0m4.5 0h0m15.5 0h0m2 0h0m5.5 0h0m14 0h0m-52 0.5h0m9.5 0h0m13 0h0m9 0h0m7 0h0m17.5 0h0m-60 0.5h0m12 0h0m0.5 0h0m2 0h0m6.5 0h0m10 0h0m2 0h0m20 0h0m-54.5 0.5h0m4.5 0h0m3.5 0h0m12.5 0h0m27 0h0m7.5 0h0m1.5 0h0m0 0h0m3.5 0h0m-45.5 0.5h0m14.5 0h0m-15.5 0.5h0m38 0h0m-48.5 0.5h0m23.5 0h0m5 0h0m14.5 0h0m2.5 0h0m-46 0.5h0m19.5 0h0m4.5 0h0m23.5 0h0m-45 0.5h0m2 0h0m29.5 0h0m1.5 0h0m-14 0.5h0m11.5 0h0m9 0h0m4.5 0h0m-47 0.5h0m59.5 0h0m0.5 0h0m-29 0.5h0m3.5 0h0m8.5 0h0m8.5 0h0m4.5 0h0m5 0h0m-63.5 0.5h0m11 0h0m8.5 0h0m7.5 0h0m36 0h0m-60 0.5h0m32.5 0h0m16.5 0h0m2 0h0m9 0h0m-57 0.5h0m12.5 0h0m10.5 0h0m9.5 0h0m13.5 0h0m4 0h0m1 0h0m1.5 0h0m-54.5 0.5h0m3 0h0m4 0h0m6 0h0m4.5 0h0m6 0h0m13 0h0m8 0h0m3.5 0h0m0 0h0m0.5 0h0m3 0h0m1 0h0m-57.5 0.5h0m0 0h0m2.5 0h0m6 0h0m2.5 0h0m0.5 0h0m0 0h0m0.5 0h0m6 0h0m1.5 0h0m2.5 0h0m2 0h0m4 0h0m1 0h0m3 0h0m0.5 0h0m0 0h0m7 0h0m6.5 0h0m2.5 0h0m8.5 0h0m0 0h0m4.5 0h0m1 0h0m1 0h0m-64 0.5h0m5 0h0m0.5 0h0m3 0h0m0 0h0m3 0h0m5 0h0m3 0h0m2.5 0h0m18.5 0h0m0.5 0h0m0.5 0h0m1.5 0h0m4.5 0h0m8.5 0h0m-55.5 0.5h0m2 0h0m9.5 0h0m3 0h0m5 0h0m12.5 0h0m11 0h0m3 0h0m0.5 0h0m4.5 0h0m9 0h0m3 0h0m-61.5 0.5h0m2 0h0m11 0h0m1.5 0h0m10 0h0m4.5 0h0m3.5 0h0m3.5 0h0m11.5 0h0m7 0h0m-46.5 0.5h0m11.5 0h0m0.5 0h0m21 0h0m3.5 0h0m4 0h0m3.5 0h0m3.5 0h0m0.5 0h0m4.5 0h0m0.5 0h0m-62.5 0.5h0m2.5 0h0m5 0h0m7 0h0m1.5 0h0m4 0h0m8 0h0m7.5 0h0m1 0h0m3.5 0h0m6.5 0h0m3.5 0h0m1 0h0m9.5 0h0m-60.5 0.5h0m1 0h0m8.5 0h0m4 0h0m1 0h0m1 0h0m9.5 0h0m3 0h0m2.5 0h0m0 0h0m33.5 0h0m-64.5 0.5h0m3 0h0m1 0h0m6 0h0m3 0h0m6 0h0m5 0h0m16 0h0m2 0h0m2 0h0m10 0h0m2 0h0m4 0h0m-56 0.5h0m0.5 0h0m15 0h0m2 0h0m5 0h0m0.5 0h0m0.5 0h0m1 0h0m3 0h0m22.5 0h0m5.5 0h0m-56 0.5h0m1 0h0m0.5 0h0m4 0h0m10.5 0h0m1 0h0m17 0h0m1 0h0m2 0h0m8 0h0m1 0h0m2.5 0h0m1 0h0m6.5 0h0m3.5 0h0m1.5 0h0m-63.5 0.5h0m5.5 0h0m11.5 0h0m2.5 0h0m1.5 0h0m3.5 0h0m1 0h0m0 0h0m0 0h0m11 0h0m4.5 0h0m9 0h0m12 0h0m-60 0.5h0m4 0h0m20.5 0h0m0.5 0h0m5 0h0m1 0h0m2.5 0h0m3 0h0m5.5 0h0m3 0h0m16 0h0m-60 0.5h0m0 0h0m4 0h0m0.5 0h0m2.5 0h0m4.5 0h0m4 0h0m10 0h0m2.5 0h0m4.5 0h0m3.5 0h0m6.5 0h0m2.5 0h0m3 0h0m4.5 0h0m1.5 0h0m-46 0.5h0m3.5 0h0m5.5 0h0m3.5 0h0m0.5 0h0m2 0h0m18.5 0h0m2 0h0m2.5 0h0m1.5 0h0m2.5 0h0m1.5 0h0m4.5 0h0m-32 0.5h0m6 0h0" stroke="#141414" stroke-width="1.6" stroke-linecap="square" fill="none"/>
</g>
<text transform="translate(501.6,808.6) scale(1,1.16)" class="tk" text-anchor="end">0.000</text>
<text transform="translate(501.6,765.9) scale(1,1.16)" class="tk" text-anchor="end">0.002</text>
<text transform="translate(501.6,723.3) scale(1,1.16)" class="tk" text-anchor="end">0.004</text>
<text transform="translate(501.6,680.6) scale(1,1.16)" class="tk" text-anchor="end">0.006</text>
<text transform="translate(555.2,824.7) scale(1,1.04)" class="tk" text-anchor="middle">ECM</text>
<text transform="translate(636.0,824.7) scale(1,1.04)" class="tk" text-anchor="middle">ML</text>
<text transform="translate(458.7,664.8) rotate(-90)" class="yt" text-anchor="end">Accuracy</text>
<rect x="37.2" y="878" width="175.6" height="144.2" fill="#F2F2F2"/>
<path d="M37.2 1018.25H212.8M37.2 996.90H212.8M37.2 975.55H212.8M37.2 954.20H212.8M37.2 932.85H212.8M37.2 911.50H212.8M37.2 890.15H212.8M85.60 878V1022.2M165.50 878V1022.2" stroke="#D3D3D3" stroke-width="1.1" fill="none"/>
<clipPath id="c12"><rect x="37.2" y="878" width="175.6" height="144.2"/></clipPath>
<g clip-path="url(#c12)">
<path d="M85.60 954.88V889.30M85.60 990.07V1013.98" stroke="#777" stroke-width="1.2" fill="none"/>
<rect x="65.30" y="954.88" width="40.60" height="35.18" fill="#00FF00" stroke="#333" stroke-width="0.9"/>
<path d="M65.30 974.70H105.90" stroke="#333" stroke-width="1.2"/>
<path d="M165.50 914.06V907.23M165.50 920.72V924.31" stroke="#777" stroke-width="1.2" fill="none"/>
<rect x="145.20" y="914.06" width="40.60" height="6.66" fill="#FFFF00" stroke="#333" stroke-width="0.9"/>
<path d="M145.20 916.97H185.80" stroke="#333" stroke-width="1.2"/>
<path d="M110 884h0m-18 1h0m18 0h0m-39 1h0m5 2h0m-21 3h0m12 1h0m40 0h0m-47 3h0m42 0h0m7 0h0m6 0h0m-47 2h0m2 3h0m-8 1h0m10 1h0m25 1h0m6 0h0m-14 1h0m1 0h0m5 2h0m11 0h0m-45 1h0m9 0h0m30 0h0m15 0h0m-44 1h0m2 0h0m45 0h0m-34 1h0m21 0h0m-19 1h0m-12 1h0m14 0h0m10 0h0m9 0h0m2 0h0m-54 1h0m17 0h0m2 0h0m15 0h0m19 0h0m-13 1h0m-19 1h0m10 0h0m9 0h0m-33 1h0m41 0h0m12 0h0m2 0h0m-42 3h0m4 1h0m18 1h0m19 0h0m-63 1h0m6 0h0m19 0h0m40 0h0m-52 1h0m14 1h0m-17 1h0m3 0h0m26 0h0m11 1h0m-50 1h0m53 0h0m-35 1h0m37 0h0m-21 1h0m23 1h0m-51 2h0m10 0h0m31 0h0m1 0h0m-36 1h0m10 0h0m40 0h0m-56 1h0m1 0h0m14 0h0m9 1h0m6 0h0m7 0h0m2 0h0m4 0h0m0 0h0m2 0h0m2 0h0m7 0h0m-59 1h0m2 0h0m4 0h0m15 0h0m5 0h0m36 0h0m-56 1h0m5 0h0m9 0h0m3 0h0m2 0h0m1 0h0m13 0h0m13 0h0m4 0h0m5 0h0m-62 1h0m3 0h0m1 0h0m16 0h0m7 0h0m3 0h0m2 0h0m9 0h0m8 0h0m5 0h0m4 0h0m2 0h0m-44 1h0m23 0h0m11 0h0m7 0h0m7 0h0m-58 1h0m0 0h0m4 0h0m22 0h0m1 0h0m8 0h0m19 0h0m-47 1h0m5 0h0m16 0h0m15 0h0m4 0h0m-42 1h0m5 0h0m8 0h0m9 0h0m5 0h0m27 0h0m-62 1h0m18 0h0m-17 1h0m1 0h0m3 0h0m5 0h0m5 0h0m2 0h0m6 0h0m21 0h0m1 0h0m2 0h0m5 0h0m4 0h0m4 0h0m-49 1h0m4 0h0m7 0h0m0 0h0m1 0h0m0 0h0m2 0h0m33 0h0m2 0h0m-57 1h0m2 0h0m9 0h0m10 0h0m24 0h0m4 0h0m-39 1h0m2 0h0m15 0h0m3 0h0m6 0h0m18 0h0m-58 1h0m0 0h0m15 0h0m5 0h0m11 0h0m3 0h0m14 0h0m6 0h0m2 0h0m1 0h0m3 0h0m-57 1h0m3 0h0m12 0h0m42 0h0m-60 1h0m8 0h0m6 0h0m5 0h0m17 0h0m14 0h0m-46 1h0m4 0h0m10 0h0m10 0h0m32 0h0m-52 1h0m3 0h0m1 0h0m8 0h0m12 0h0m2 0h0m-13 1h0m3 0h0m0 0h0m3 0h0m8 0h0m-37 1h0m4 0h0m5 0h0m13 0h0m8 0h0m7 0h0m5 0h0m1 0h0m4 0h0m5 0h0m2 0h0m-46 1h0m26 0h0m1 0h0m1 0h0m2 0h0m3 0h0m13 0h0m8 0h0m-57 1h0m4 0h0m38 0h0m3 0h0m1 0h0m1 0h0m11 0h0m-61 1h0m9 0h0m4 0h0m3 0h0m9 0h0m6 0h0m1 0h0m4 0h0m4 0h0m3 0h0m2 0h0m15 0h0m-58 1h0m4 0h0m1 0h0m0 0h0m1 0h0m4 0h0m7 0h0m18 0h0m22 0h0m-50 1h0m6 0h0m5 0h0m7 0h0m1 0h0m2 0h0m1 0h0m2 0h0m5 0h0m4 0h0m3 0h0m7 0h0m1 0h0m-49 1h0m9 0h0m13 0h0m12 0h0m4 0h0m13 0h0m3 0h0m5 0h0m-63 1h0m3 0h0m11 0h0m2 0h0m5 0h0m10 0h0m2 0h0m18 0h0m4 0h0m2 0h0m-53 1h0m1 0h0m7 0h0m9 0h0m3 0h0m0 0h0m7 0h0m3 0h0m1 0h0m1 0h0m5 0h0m18 0h0m-53 1h0m2 0h0m0 0h0m6 0h0m3 0h0m4 0h0m0 0h0m2 0h0m9 0h0m4 0h0m3 0h0m11 0h0m8 0h0m1 0h0m3 0h0m-60 1h0m1 0h0m3 0h0m3 0h0m6 0h0m15 0h0m4 0h0m1 0h0m11 0h0m7 0h0m2 0h0m1 0h0m-57 1h0m6 0h0m3 0h0m1 0h0m3 0h0m2 0h0m17 0h0m0 0h0m12 0h0m9 0h0m1 0h0m3 0h0m7 0h0m-64 1h0m16 0h0m0 0h0m5 0h0m3 0h0m13 0h0m7 0h0m10 0h0m0 0h0m-48 1h0m5 0h0m6 0h0m2 0h0m1 0h0m11 0h0m6 0h0m13 0h0m0 0h0m5 0h0m2 0h0m2 0h0m4 0h0m1 0h0m-56 1h0m7 0h0m4 0h0m1 0h0m0 0h0m2 0h0m17 0h0m18 0h0m-47 1h0m6 0h0m15 0h0m0 0h0m1 0h0m4 0h0m1 0h0m3 0h0m3 0h0m0 0h0m1 0h0m8 0h0m7 0h0m-56 1h0m1 0h0m3 0h0m1 0h0m25 0h0m7 0h0m4 0h0m8 0h0m10 0h0m-61 1h0m0 0h0m2 0h0m3 0h0m14 0h0m4 0h0m2 0h0m1 0h0m4 0h0m10 0h0m12 0h0m-53 1h0m5 0h0m23 0h0m1 0h0m15 0h0m2 0h0m4 0h0m2 0h0m1 0h0m4 0h0m-48 1h0m2 0h0m3 0h0m1 0h0m0 0h0m6 0h0m12 0h0m15 0h0m7 0h0m6 0h0m-61 1h0m5 0h0m3 0h0m15 0h0m1 0h0m2 0h0m10 0h0m7 0h0m1 0h0m4 0h0m15 0h0m1 0h0m-62 1h0m23 0h0m10 0h0m4 0h0m20 0h0m2 0h0m-60 1h0m16 0h0m4 0h0m2 0h0m2 0h0m3 0h0m5 0h0m1 0h0m2 0h0m0 0h0m0 0h0m1 0h0m5 0h0m1 0h0m7 0h0m10 0h0m-59 1h0m4 0h0m5 0h0m2 0h0m6 0h0m0 0h0m5 0h0m1 0h0m2 0h0m3 0h0m9 0h0m2 0h0m12 0h0m3 0h0m3 0h0m3 0h0m2 0h0m-63 1h0m12 0h0m1 0h0m0 0h0m3 0h0m1 0h0m0 0h0m12 0h0m2 0h0m5 0h0m12 0h0m2 0h0m3 0h0m4 0h0m2 0h0m-57 1h0m5 0h0m0 0h0m2 0h0m7 0h0m11 0h0m3 0h0m3 0h0m4 0h0m6 0h0m2 0h0m0 0h0m3 0h0m4 0h0m1 0h0m1 0h0m6 0h0m-60 1h0m3 0h0m19 0h0m6 0h0m1 0h0m2 0h0m10 0h0m1 0h0m2 0h0m3 0h0m1 0h0m1 0h0m13 0h0m-45 1h0m1 0h0m8 0h0m8 0h0m1 0h0m4 0h0m4 0h0m12 0h0m4 0h0m0 0h0m1 0h0m-60 1h0m0 0h0m6 0h0m0 0h0m8 0h0m1 0h0m7 0h0m32 0h0m3 0h0m3 0h0m0 0h0m-60 1h0m7 0h0m4 0h0m14 0h0m15 0h0m2 0h0m6 0h0m8 0h0m2 0h0m1 0h0m6 0h0m-64 1h0m6 0h0m2 0h0m5 0h0m10 0h0m0 0h0m1 0h0m10 0h0m5 0h0m6 0h0m11 0h0m1 0h0m-51 1h0m1 0h0m0 0h0m8 0h0m2 0h0m0 0h0m3 0h0m7 0h0m2 0h0m2 0h0m3 0h0m12 0h0m4 0h0m7 0h0m2 0h0m-57 1h0m5 0h0m10 0h0m2 0h0m5 0h0m6 0h0m0 0h0m6 0h0m7 0h0m1 0h0m5 0h0m8 0h0m5 0h0m-64 1h0m4 0h0m10 0h0m1 0h0m0 0h0m2 0h0m0 0h0m1 0h0m0 0h0m9 0h0m9 0h0m14 0h0m0 0h0m6 0h0m3 0h0m2 0h0m1 0h0m1 0h0m2 0h0m-63 1h0m13 0h0m10 0h0m3 0h0m6 0h0m3 0h0m1 0h0m2 0h0m1 0h0m2 0h0m14 0h0m0 0h0m4 0h0m-53 1h0m3 0h0m16 0h0m5 0h0m2 0h0m0 0h0m1 0h0m0 0h0m1 0h0m3 0h0m1 0h0m0 0h0m10 0h0m2 0h0m3 0h0m4 0h0m2 0h0m0 0h0m-58 1h0m3 0h0m2 0h0m1 0h0m0 0h0m1 0h0m1 0h0m2 0h0m6 0h0m3 0h0m6 0h0m29 0h0m3 0h0m0 0h0m3 0h0m-61 1h0m3 0h0m3 0h0m1 0h0m6 0h0m3 0h0m1 0h0m5 0h0m12 0h0m0 0h0m1 0h0m2 0h0m8 0h0m5 0h0m3 0h0m0 0h0m4 0h0m1 0h0m0 0h0m-56 1h0m4 0h0m42 0h0m3 0h0m4 0h0m3 0h0m0 0h0m-59 1h0m5 0h0m1 0h0m39 0h0m3 0h0m3 0h0m2 0h0m3 0h0m-53 1h0m6 0h0m0 0h0m0 0h0m4 0h0m1 0h0m11 0h0m1 0h0m23 0h0m1 0h0m1 0h0m7 0h0m-54 1h0m12 0h0m1 0h0m2 0h0m9 0h0m4 0h0m7 0h0m6 0h0m16 0h0m-57 1h0m10 0h0m12 0h0m2 0h0m-17 1h0m9 0h0m41 0h0m-60 1h0m13 0h0m11 0h0m1 0h0m1 0h0m3 0h0m5 0h0m3 0h0m5 0h0m0 0h0m5 0h0m4 0h0m5 0h0m-47 1h0m7 0h0m14 0h0m5 0h0m4 0h0m5 0h0m2 0h0m1 0h0m2 0h0m3 0h0m7 0h0m2 0h0m-57 1h0m4 0h0m33 0h0m1 0h0m12 0h0m5 0h0m-59 1h0m7 0h0m8 0h0m0 0h0m3 0h0m5 0h0m9 0h0m-24 1h0m22 0h0m18 0h0m1 0h0m3 0h0m3 0h0m5 0h0m-62 1h0m5 0h0m6 0h0m11 0h0m2 0h0m2 0h0m4 0h0m4 0h0m16 0h0m4 0h0m7 0h0m-60 1h0m0 0h0m6 0h0m1 0h0m5 0h0m1 0h0m7 0h0m1 0h0m4 0h0m2 0h0m2 0h0m1 0h0m0 0h0m1 0h0m11 0h0m1 0h0m2 0h0m4 0h0m6 0h0m7 0h0m-50 1h0m6 0h0m14 0h0m20 0h0m1 0h0m5 0h0m-32 1h0m26 0h0m1 0h0m10 0h0m-63 1h0m7 0h0m0 0h0m0 0h0m8 0h0m0 0h0m1 0h0m11 0h0m11 0h0m10 0h0m1 0h0m15 0h0m0 0h0m-64 1h0m9 0h0m14 0h0m3 0h0m1 0h0m6 0h0m4 0h0m4 0h0m6 0h0m7 0h0m-55 1h0m21 0h0m3 0h0m10 0h0m9 0h0m0 0h0m11 0h0m0 0h0m2 0h0m0 0h0m0 0h0m-54 1h0m6 0h0m1 0h0m5 0h0m10 0h0m4 0h0m2 0h0m4 0h0m13 0h0m5 0h0m0 0h0m2 0h0m8 0h0m3 0h0m-65 1h0m4 0h0m0 0h0m1 0h0m41 0h0m-23 1h0m6 0h0m0 0h0m9 0h0m-33 1h0m6 0h0m37 0h0m1 0h0m5 0h0m2 0h0m-45 1h0m1 0h0m7 0h0m12 0h0m3 0h0m27 0h0m-58 1h0m16 0h0m5 0h0m4 0h0m12 0h0m8 0h0m12 0h0m2 0h0m-48 1h0m7 0h0m9 0h0m2 0h0m5 0h0m20 0h0m-43 1h0m8 0h0m17 0h0m6 0h0m10 0h0m-49 1h0m32 0h0m26 0h0" stroke="#000" stroke-width="2.0" stroke-linecap="square" fill="none"/>
<path d="M147 888h0m24 2h0m-30 3h0m15 1h0m-20 4h0m8 0h0m1 0h0m0 0h0m6 0h0m8 0h0m0 0h0m5 0h0m3 0h0m2 0h0m9 0h0m2 0h0m6 0h0m5 0h0m-58 1h0m0 0h0m5 0h0m1 0h0m4 0h0m2 0h0m1 0h0m0 0h0m1 0h0m3 0h0m3 0h0m1 0h0m1 0h0m2 0h0m6 0h0m0 0h0m2 0h0m0 0h0m1 0h0m0 0h0m1 0h0m3 0h0m2 0h0m0 0h0m2 0h0m2 0h0m2 0h0m2 0h0m2 0h0m0 0h0m2 0h0m0 0h0m1 0h0m1 0h0m0 0h0m3 0h0m2 0h0m1 0h0m0 0h0m1 0h0m2 0h0m3 0h0m-65 1h0m3 0h0m13 0h0m6 0h0m3 0h0m0 0h0m2 0h0m34 0h0m-49 1h0m19 0h0m3 0h0m3 0h0m27 0h0m0 0h0m-62 1h0m2 0h0m12 0h0m7 0h0m9 0h0m14 0h0m18 0h0m-63 1h0m5 0h0m20 0h0m0 0h0m22 0h0m10 0h0m-45 1h0m40 0h0m-33 1h0m13 0h0m-27 1h0m2 0h0m11 0h0m5 0h0m7 1h0m-27 1h0m4 0h0m10 0h0m3 0h0m33 0h0m2 0h0m-56 1h0m15 0h0m1 0h0m9 0h0m9 0h0m4 0h0m2 0h0m-30 1h0m1 0h0m2 0h0m1 0h0m14 0h0m3 0h0m3 0h0m4 0h0m2 0h0m1 0h0m3 0h0m1 0h0m5 0h0m5 0h0m4 0h0m4 0h0m1 0h0m0 0h0m-63 1h0m1 0h0m0 0h0m2 0h0m1 0h0m0 0h0m1 0h0m2 0h0m1 0h0m1 0h0m2 0h0m4 0h0m0 0h0m3 0h0m0 0h0m2 0h0m0 0h0m1 0h0m1 0h0m0 0h0m1 0h0m1 0h0m2 0h0m2 0h0m0 0h0m1 0h0m2 0h0m0 0h0m0 0h0m1 0h0m1 0h0m0 0h0m2 0h0m3 0h0m0 0h0m2 0h0m3 0h0m4 0h0m3 0h0m2 0h0m0 0h0m1 0h0m0 0h0m1 0h0m0 0h0m1 0h0m1 0h0m1 0h0m1 0h0m0 0h0m2 0h0m1 0h0m0 0h0m0 0h0m1 0h0m1 0h0m-64 1h0m0 0h0m0 0h0m2 0h0m2 0h0m1 0h0m0 0h0m0 0h0m2 0h0m0 0h0m1 0h0m0 0h0m0 0h0m1 0h0m0 0h0m1 0h0m0 0h0m1 0h0m2 0h0m1 0h0m0 0h0m1 0h0m0 0h0m6 0h0m1 0h0m3 0h0m0 0h0m0 0h0m2 0h0m0 0h0m1 0h0m0 0h0m0 0h0m1 0h0m0 0h0m1 0h0m0 0h0m0 0h0m8 0h0m0 0h0m1 0h0m0 0h0m1 0h0m0 0h0m1 0h0m0 0h0m2 0h0m1 0h0m1 0h0m2 0h0m0 0h0m0 0h0m0 0h0m1 0h0m0 0h0m0 0h0m2 0h0m0 0h0m0 0h0m1 0h0m2 0h0m2 0h0m1 0h0m1 0h0m1 0h0m0 0h0m0 0h0m0 0h0m1 0h0m0 0h0m0 0h0m2 0h0m0 0h0m2 0h0m1 0h0m0 0h0m-61 1h0m0 0h0m2 0h0m2 0h0m0 0h0m0 0h0m0 0h0m0 0h0m2 0h0m0 0h0m1 0h0m2 0h0m1 0h0m1 0h0m3 0h0m0 0h0m1 0h0m0 0h0m4 0h0m0 0h0m0 0h0m1 0h0m2 0h0m0 0h0m2 0h0m1 0h0m1 0h0m1 0h0m1 0h0m0 0h0m1 0h0m2 0h0m0 0h0m0 0h0m2 0h0m0 0h0m2 0h0m1 0h0m0 0h0m0 0h0m0 0h0m2 0h0m1 0h0m0 0h0m1 0h0m1 0h0m0 0h0m1 0h0m4 0h0m0 0h0m1 0h0m1 0h0m1 0h0m1 0h0m2 0h0m1 0h0m2 0h0m1 0h0m1 0h0m4 0h0m1 0h0m-65 1h0m1 0h0m2 0h0m0 0h0m0 0h0m3 0h0m0 0h0m1 0h0m0 0h0m2 0h0m0 0h0m6 0h0m0 0h0m1 0h0m1 0h0m1 0h0m0 0h0m2 0h0m1 0h0m4 0h0m0 0h0m0 0h0m1 0h0m0 0h0m2 0h0m4 0h0m2 0h0m0 0h0m2 0h0m0 0h0m2 0h0m0 0h0m2 0h0m0 0h0m0 0h0m0 0h0m3 0h0m0 0h0m0 0h0m2 0h0m1 0h0m7 0h0m0 0h0m2 0h0m0 0h0m2 0h0m1 0h0m0 0h0m2 0h0m1 0h0m1 0h0m0 0h0m0 0h0m1 0h0m0 0h0m1 0h0m-64 1h0m0 0h0m2 0h0m2 0h0m0 0h0m0 0h0m0 0h0m1 0h0m1 0h0m2 0h0m1 0h0m1 0h0m1 0h0m0 0h0m2 0h0m1 0h0m0 0h0m0 0h0m2 0h0m2 0h0m0 0h0m0 0h0m1 0h0m1 0h0m2 0h0m5 0h0m0 0h0m0 0h0m2 0h0m1 0h0m0 0h0m6 0h0m0 0h0m1 0h0m0 0h0m1 0h0m1 0h0m1 0h0m0 0h0m3 0h0m2 0h0m1 0h0m0 0h0m2 0h0m0 0h0m3 0h0m2 0h0m1 0h0m2 0h0m1 0h0m0 0h0m0 0h0m1 0h0m3 0h0m0 0h0m1 0h0m2 0h0m0 0h0m-63 1h0m1 0h0m3 0h0m1 0h0m2 0h0m1 0h0m2 0h0m3 0h0m2 0h0m1 0h0m2 0h0m2 0h0m0 0h0m0 0h0m2 0h0m0 0h0m1 0h0m3 0h0m0 0h0m0 0h0m0 0h0m1 0h0m1 0h0m2 0h0m0 0h0m0 0h0m0 0h0m2 0h0m2 0h0m1 0h0m0 0h0m2 0h0m2 0h0m1 0h0m0 0h0m1 0h0m3 0h0m1 0h0m0 0h0m3 0h0m0 0h0m1 0h0m0 0h0m2 0h0m0 0h0m2 0h0m1 0h0m1 0h0m2 0h0m1 0h0m1 0h0m1 0h0m3 0h0m-63 1h0m11 0h0m7 0h0m0 0h0m1 0h0m1 0h0m6 0h0m0 0h0m3 0h0m2 0h0m0 0h0m1 0h0m1 0h0m7 0h0m1 0h0m3 0h0m1 0h0m8 0h0m0 0h0m1 0h0m6 0h0m1 0h0m-52 1h0m1 0h0m2 0h0m7 0h0m6 0h0m15 0h0m0 0h0m13 0h0m1 0h0m2 0h0m2 0h0m4 0h0m-59 1h0m3 0h0m15 0h0m8 0h0m1 0h0m5 0h0m4 0h0m3 0h0m4 0h0m1 0h0m2 0h0m0 0h0m7 0h0m-51 1h0m1 0h0m7 0h0m7 0h0m0 0h0m3 0h0m1 0h0m2 0h0m2 0h0m2 0h0m1 0h0m1 0h0m3 0h0m2 0h0m5 0h0m3 0h0m1 0h0m9 0h0m7 0h0m2 0h0m-63 1h0m1 0h0m7 0h0m1 0h0m1 0h0m2 0h0m0 0h0m2 0h0m0 0h0m4 0h0m0 0h0m2 0h0m1 0h0m0 0h0m0 0h0m2 0h0m1 0h0m0 0h0m4 0h0m2 0h0m1 0h0m1 0h0m1 0h0m0 0h0m1 0h0m1 0h0m1 0h0m2 0h0m2 0h0m0 0h0m1 0h0m2 0h0m1 0h0m0 0h0m2 0h0m0 0h0m2 0h0m2 0h0m1 0h0m2 0h0m0 0h0m2 0h0m3 0h0m0 0h0m2 0h0m1 0h0m1 0h0m0 0h0m-63 1h0m1 0h0m2 0h0m1 0h0m1 0h0m2 0h0m1 0h0m1 0h0m2 0h0m2 0h0m3 0h0m3 0h0m2 0h0m1 0h0m1 0h0m2 0h0m1 0h0m3 0h0m0 0h0m2 0h0m0 0h0m4 0h0m1 0h0m2 0h0m1 0h0m1 0h0m1 0h0m0 0h0m1 0h0m3 0h0m1 0h0m2 0h0m0 0h0m0 0h0m0 0h0m1 0h0m0 0h0m0 0h0m1 0h0m0 0h0m3 0h0m1 0h0m0 0h0m2 0h0m0 0h0m0 0h0m1 0h0m0 0h0m0 0h0m3 0h0m1 0h0m0 0h0m0 0h0m1 0h0m1 0h0m-63 1h0m0 0h0m1 0h0m1 0h0m1 0h0m1 0h0m1 0h0m2 0h0m0 0h0m2 0h0m0 0h0m1 0h0m2 0h0m0 0h0m1 0h0m1 0h0m0 0h0m1 0h0m0 0h0m2 0h0m2 0h0m0 0h0m2 0h0m1 0h0m0 0h0m2 0h0m1 0h0m5 0h0m0 0h0m1 0h0m0 0h0m2 0h0m0 0h0m3 0h0m0 0h0m3 0h0m0 0h0m1 0h0m1 0h0m0 0h0m0 0h0m2 0h0m1 0h0m1 0h0m2 0h0m3 0h0m1 0h0m3 0h0m2 0h0m0 0h0m2 0h0m1 0h0m0 0h0m0 0h0m0 0h0m2 0h0m2 0h0m0 0h0m0 0h0m1 0h0m-64 1h0m0 0h0m0 0h0m2 0h0m4 0h0m1 0h0m3 0h0m6 0h0m3 0h0m3 0h0m2 0h0m0 0h0m0 0h0m12 0h0m6 0h0m1 0h0m1 0h0m0 0h0m7 0h0m2 0h0m2 0h0m4 0h0m1 0h0m1 0h0m2 0h0m-62 1h0m2 0h0m15 0h0m10 0h0m6 0h0m3 0h0m2 0h0m3 0h0m1 0h0m8 0h0m10 0h0m2 0h0m-53 4h0m-10 34h0m16 4h0m32 1h0m-40 1h0m12 0h0m9 0h0m15 0h0m-8 1h0m17 6h0m5 0h0m4 0h0" stroke="#000" stroke-width="2.0" stroke-linecap="square" fill="none"/>
</g>
<text transform="translate(33.8,1003.7) scale(1,1.16)" class="tk" text-anchor="end">25</text>
<text transform="translate(33.8,961.0) scale(1,1.16)" class="tk" text-anchor="end">50</text>
<text transform="translate(33.8,918.3) scale(1,1.16)" class="tk" text-anchor="end">75</text>
<text transform="translate(85.6,1039.2) scale(1,1.04)" class="tk" text-anchor="middle">ECM</text>
<text transform="translate(165.5,1039.2) scale(1,1.04)" class="tk" text-anchor="middle">ML</text>
<text transform="translate(12.0,879.0) rotate(-90)" class="yt" text-anchor="end">Time</text>
<text transform="translate(36.4,863.5) scale(1,1.15)" class="ti">(E) LAYERS: 5</text>
<rect x="258" y="878" width="176.2" height="144.2" fill="#F2F2F2"/>
<path d="M258 1010.52H434.2M258 996.80H434.2M258 983.07H434.2M258 969.35H434.2M258 955.62H434.2M258 941.90H434.2M258 928.17H434.2M258 914.45H434.2M258 900.73H434.2M258 887.00H434.2M306.30 878V1022.2M386.30 878V1022.2" stroke="#D3D3D3" stroke-width="1.1" fill="none"/>
<clipPath id="c13"><rect x="258" y="878" width="176.2" height="144.2"/></clipPath>
<g clip-path="url(#c13)">
<path d="M306.30 996.11V983.07M306.30 1005.03V1013.27" stroke="#333" stroke-width="1.0" fill="none"/>
<rect x="286.00" y="996.11" width="40.60" height="8.92" fill="#00FF00" stroke="#333" stroke-width="0.9"/>
<path d="M286.00 1000.64H326.60" stroke="#333" stroke-width="1.2"/>
<path d="M386.30 886.31V885.63M386.30 887.69V888.37" stroke="#333" stroke-width="1.0" fill="none"/>
<rect x="366.00" y="886.31" width="40.60" height="1.37" fill="#FFFF00" stroke="#333" stroke-width="0.9"/>
<path d="M366.00 887.00H406.60" stroke="#333" stroke-width="1.2"/>
<path d="M289 974.5h0m-2.5 0.5h0m25 0h0m2.5 0h0m-37.5 1h0m26.5 0h0m-13.5 1.5h0m7 1.5h0m20.5 0h0m-18 1h0m34 0h0m-56.5 0.5h0m11 0h0m35 0h0m3.5 0h0m12.5 0h0m-61.5 1h0m9 0h0m28.5 0h0m6 0h0m11 0h0m-6.5 0.5h0m3 0h0m0.5 0h0m-3 0.5h0m-24.5 0.5h0m24 0h0m-44.5 0.5h0m4.5 0h0m51.5 0h0m-50.5 0.5h0m2 0h0m38 0h0m1 0h0m-37 0.5h0m34 0h0m-16.5 0.5h0m5.5 0h0m20 0h0m5.5 0.5h0m-50.5 0.5h0m38.5 0h0m11.5 0h0m-42 0.5h0m14 0h0m3.5 0h0m22.5 0h0m-53.5 0.5h0m1 0h0m4 0h0m3.5 0h0m39.5 0h0m3.5 0h0m-38.5 0.5h0m6.5 0h0m0 0.5h0m6.5 0h0m13.5 0h0m14 0h0m2 0h0m-59.5 0.5h0m34 0h0m-33 0.5h0m6 0h0m7 0h0m6.5 0h0m8 0.5h0m2 0h0m8.5 0h0m-40 0.5h0m10 0h0m8 0h0m4 0h0m10.5 0h0m5 0h0m3.5 0h0m5.5 0h0m14.5 0h0m-52 0.5h0m6.5 0h0m0 0h0m3.5 0h0m7 0h0m5 0h0m5.5 0h0m8.5 0h0m8 0h0m0 0h0m4 0h0m1 0h0m3 0h0m-64.5 0.5h0m0.5 0h0m0.5 0h0m1 0h0m8 0h0m1 0h0m10 0h0m1 0h0m3.5 0h0m5 0h0m4.5 0h0m9.5 0h0m0.5 0h0m1 0h0m1.5 0h0m0 0h0m14 0h0m-48.5 0.5h0m3.5 0h0m3.5 0h0m5.5 0h0m1 0h0m1 0h0m2.5 0h0m3 0h0m0 0h0m2.5 0h0m2.5 0h0m8.5 0h0m3 0h0m3.5 0h0m1.5 0h0m-46 0.5h0m7.5 0h0m4.5 0h0m0.5 0h0m7 0h0m4 0h0m7.5 0h0m1 0h0m0.5 0h0m0.5 0h0m0.5 0h0m0 0h0m9 0h0m-37.5 0.5h0m0.5 0h0m8 0h0m2 0h0m1.5 0h0m0 0h0m5 0h0m3.5 0h0m2.5 0h0m6.5 0h0m1 0h0m0.5 0h0m2 0h0m5 0h0m1.5 0h0m3 0h0m0.5 0h0m1 0h0m1.5 0h0m2.5 0h0m-59.5 0.5h0m0.5 0h0m11 0h0m23.5 0h0m10 0h0m0.5 0h0m5.5 0h0m1.5 0h0m5 0h0m1.5 0h0m3.5 0h0m0 0h0m-59.5 0.5h0m5.5 0h0m6.5 0h0m1 0h0m1 0h0m5.5 0h0m9 0h0m2.5 0h0m2 0h0m0 0h0m3.5 0h0m9 0h0m14 0h0m-58 0.5h0m4 0h0m1.5 0h0m17.5 0h0m3 0h0m3 0h0m11.5 0h0m0.5 0h0m5 0h0m7.5 0h0m0.5 0h0m4.5 0h0m-60.5 0.5h0m1 0h0m4.5 0h0m2.5 0h0m6.5 0h0m8 0h0m2 0h0m2.5 0h0m9.5 0h0m1.5 0h0m7 0h0m4 0h0m1 0h0m1 0h0m3 0h0m-39.5 0.5h0m2 0h0m0.5 0h0m0 0h0m3 0h0m11.5 0h0m2 0h0m5 0h0m1 0h0m1 0h0m3.5 0h0m0.5 0h0m4.5 0h0m8 0h0m2 0h0m0 0h0m-61.5 0.5h0m13.5 0h0m11 0h0m12.5 0h0m0 0h0m1.5 0h0m1.5 0h0m14.5 0h0m2 0h0m2 0h0m3 0h0m-61.5 0.5h0m3 0h0m2.5 0h0m8 0h0m4 0h0m0 0h0m2 0h0m3 0h0m0.5 0h0m0.5 0h0m1.5 0h0m4.5 0h0m2.5 0h0m1.5 0h0m9 0h0m1.5 0h0m6.5 0h0m11 0h0m-62 0.5h0m0.5 0h0m0 0h0m1.5 0h0m5 0h0m4.5 0h0m3.5 0h0m8.5 0h0m5 0h0m1 0h0m4.5 0h0m1 0h0m6.5 0h0m1.5 0h0m0 0h0m1 0h0m1.5 0h0m0 0h0m0.5 0h0m3.5 0h0m0 0h0m5 0h0m2 0h0m2 0h0m3 0h0m1 0h0m-63.5 0.5h0m3 0h0m1.5 0h0m7.5 0h0m2.5 0h0m2 0h0m0.5 0h0m7 0h0m0.5 0h0m0.5 0h0m3.5 0h0m0.5 0h0m2 0h0m0.5 0h0m1 0h0m2 0h0m0.5 0h0m0.5 0h0m2.5 0h0m0.5 0h0m4 0h0m1 0h0m3.5 0h0m0 0h0m1 0h0m9.5 0h0m0 0h0m1.5 0h0m2 0h0m0.5 0h0m-58 0.5h0m1.5 0h0m0.5 0h0m0.5 0h0m0.5 0h0m0.5 0h0m0 0h0m1.5 0h0m3 0h0m2.5 0h0m2 0h0m0.5 0h0m1.5 0h0m3 0h0m0.5 0h0m2 0h0m0 0h0m2.5 0h0m2.5 0h0m2.5 0h0m2 0h0m0.5 0h0m1.5 0h0m3 0h0m0.5 0h0m1 0h0m1 0h0m2 0h0m1.5 0h0m3.5 0h0m0 0h0m5.5 0h0m2.5 0h0m1.5 0h0m0.5 0h0m0.5 0h0m1 0h0m1.5 0h0m3 0h0m0.5 0h0m-59.5 0.5h0m0.5 0h0m2 0h0m0.5 0h0m6 0h0m4.5 0h0m2 0h0m0.5 0h0m1 0h0m1 0h0m1.5 0h0m0.5 0h0m2 0h0m2 0h0m3.5 0h0m2.5 0h0m4 0h0m0.5 0h0m0.5 0h0m2 0h0m2.5 0h0m1 0h0m3.5 0h0m0.5 0h0m0.5 0h0m1.5 0h0m0.5 0h0m2.5 0h0m4 0h0m2 0h0m2 0h0m-61.5 0.5h0m0.5 0h0m3 0h0m0 0h0m1 0h0m1.5 0h0m2 0h0m0.5 0h0m4.5 0h0m3.5 0h0m0 0h0m1.5 0h0m0.5 0h0m0.5 0h0m2 0h0m3 0h0m1.5 0h0m1 0h0m7 0h0m0.5 0h0m0.5 0h0m1 0h0m0 0h0m2 0h0m9 0h0m0.5 0h0m0.5 0h0m7.5 0h0m2.5 0h0m2 0h0m2.5 0h0m1 0h0m-63 0.5h0m9.5 0h0m4 0h0m0.5 0h0m8 0h0m1.5 0h0m1.5 0h0m2 0h0m2 0h0m0.5 0h0m3 0h0m3.5 0h0m1 0h0m1.5 0h0m1 0h0m4 0h0m1 0h0m3.5 0h0m1.5 0h0m4 0h0m0 0h0m2.5 0h0m0 0h0m2 0h0m3.5 0h0m-59 0.5h0m1.5 0h0m7.5 0h0m1.5 0h0m1.5 0h0m2 0h0m3 0h0m0 0h0m8 0h0m0.5 0h0m3.5 0h0m0 0h0m7 0h0m2 0h0m3 0h0m5 0h0m0.5 0h0m3.5 0h0m0.5 0h0m0.5 0h0m-50.5 0.5h0m0.5 0h0m0.5 0h0m1 0h0m1 0h0m0.5 0h0m0 0h0m0 0h0m8.5 0h0m4.5 0h0m0.5 0h0m0.5 0h0m6 0h0m6.5 0h0m3 0h0m1.5 0h0m6 0h0m0 0h0m0.5 0h0m0 0h0m2 0h0m0.5 0h0m1.5 0h0m5.5 0h0m6 0h0m0.5 0h0m0 0h0m3 0h0m-57.5 0.5h0m1 0h0m2 0h0m9.5 0h0m0 0h0m2.5 0h0m1 0h0m0 0h0m1 0h0m4.5 0h0m3.5 0h0m0 0h0m1 0h0m1 0h0m2.5 0h0m5.5 0h0m10.5 0h0m0.5 0h0m1.5 0h0m1.5 0h0m7.5 0h0m0 0h0m-63 0.5h0m0.5 0h0m0.5 0h0m2.5 0h0m0.5 0h0m4 0h0m2 0h0m0 0h0m1.5 0h0m0.5 0h0m1.5 0h0m8 0h0m0 0h0m2.5 0h0m3.5 0h0m1.5 0h0m0 0h0m2 0h0m3.5 0h0m12.5 0h0m0.5 0h0m6 0h0m0 0h0m2 0h0m3 0h0m0.5 0h0m0 0h0m0.5 0h0m0 0h0m1.5 0h0m0.5 0h0m2.5 0h0m-63.5 0.5h0m5.5 0h0m5 0h0m0 0h0m0 0h0m0.5 0h0m2 0h0m1 0h0m0 0h0m4.5 0h0m2 0h0m1.5 0h0m4.5 0h0m1.5 0h0m1 0h0m5 0h0m0 0h0m0 0h0m0.5 0h0m2.5 0h0m2 0h0m0 0h0m2.5 0h0m4 0h0m0.5 0h0m1.5 0h0m0.5 0h0m0.5 0h0m2.5 0h0m0 0h0m1.5 0h0m1.5 0h0m2.5 0h0m0 0h0m4.5 0h0m1 0h0m0 0h0m1 0h0m1.5 0h0m-64.5 0.5h0m1.5 0h0m8.5 0h0m0.5 0h0m2.5 0h0m3 0h0m3.5 0h0m6.5 0h0m1.5 0h0m2.5 0h0m2 0h0m0.5 0h0m0 0h0m4.5 0h0m0.5 0h0m4 0h0m0 0h0m0 0h0m3 0h0m0.5 0h0m1 0h0m3.5 0h0m1.5 0h0m6 0h0m2 0h0m-59.5 0.5h0m3.5 0h0m2 0h0m0 0h0m1.5 0h0m4 0h0m9 0h0m1.5 0h0m1.5 0h0m1.5 0h0m3 0h0m5.5 0h0m4.5 0h0m0.5 0h0m0.5 0h0m0.5 0h0m1 0h0m3.5 0h0m1 0h0m0 0h0m2 0h0m2.5 0h0m3 0h0m0.5 0h0m4.5 0h0m0.5 0h0m4.5 0h0m0.5 0h0m0 0h0m2 0h0m-62.5 0.5h0m0 0h0m1 0h0m0 0h0m0.5 0h0m3.5 0h0m0 0h0m9 0h0m5.5 0h0m8 0h0m1 0h0m3.5 0h0m0.5 0h0m2.5 0h0m2.5 0h0m4.5 0h0m1 0h0m1.5 0h0m5.5 0h0m1 0h0m0.5 0h0m1 0h0m2.5 0h0m6.5 0h0m-62.5 0.5h0m0.5 0h0m2.5 0h0m3 0h0m5 0h0m1 0h0m4.5 0h0m2 0h0m2 0h0m1.5 0h0m0.5 0h0m3.5 0h0m8 0h0m1 0h0m1 0h0m3.5 0h0m2 0h0m2.5 0h0m2.5 0h0m0.5 0h0m2 0h0m2 0h0m1.5 0h0m1 0h0m1.5 0h0m2 0h0m0.5 0h0m3.5 0h0m-59 0.5h0m10 0h0m2.5 0h0m5 0h0m7.5 0h0m2 0h0m1.5 0h0m0.5 0h0m3.5 0h0m2 0h0m1 0h0m0.5 0h0m2 0h0m1 0h0m1.5 0h0m3.5 0h0m10.5 0h0m2.5 0h0m-60 0.5h0m1.5 0h0m1 0h0m2.5 0h0m6 0h0m2 0h0m0.5 0h0m2.5 0h0m2.5 0h0m8 0h0m1.5 0h0m1 0h0m3 0h0m3.5 0h0m0 0h0m4.5 0h0m0.5 0h0m1 0h0m7.5 0h0m1 0h0m0.5 0h0m2 0h0m0.5 0h0m2.5 0h0m0 0h0m3.5 0h0m-57.5 0.5h0m0.5 0h0m1.5 0h0m3.5 0h0m3.5 0h0m1 0h0m7 0h0m1 0h0m1.5 0h0m1.5 0h0m2.5 0h0m1.5 0h0m0.5 0h0m3 0h0m2 0h0m2.5 0h0m1.5 0h0m3 0h0m6 0h0m2.5 0h0m1.5 0h0m7.5 0h0m5 0h0m1.5 0h0m0.5 0h0m0 0h0m1 0h0m-50.5 0.5h0m6.5 0h0m4 0h0m7.5 0h0m10.5 0h0m2 0h0m1 0h0m0 0h0m1 0h0m4 0h0m1 0h0m2.5 0h0m0.5 0h0m0 0h0m4.5 0h0m2.5 0h0m3.5 0h0m-64.5 0.5h0m3.5 0h0m2 0h0m9 0h0m1 0h0m2 0h0m4 0h0m2.5 0h0m6 0h0m4.5 0h0m11 0h0m0 0h0m1 0h0m4 0h0m1 0h0m2 0h0m3 0h0m-55 0.5h0m2 0h0m1.5 0h0m6 0h0m1 0h0m4.5 0h0m0 0h0m1.5 0h0m2.5 0h0m0.5 0h0m7 0h0m1.5 0h0m2.5 0h0m0.5 0h0m7.5 0h0m4 0h0m4 0h0m3 0h0m0 0h0m0.5 0h0m2.5 0h0m3.5 0h0m1.5 0h0m0.5 0h0m0 0h0m-57.5 0.5h0m0 0h0m1 0h0m0 0h0m4 0h0m22 0h0m0 0h0m0.5 0h0m2.5 0h0m3.5 0h0m6 0h0m2 0h0m0.5 0h0m0 0h0m1 0h0m2 0h0m9.5 0h0m1 0h0m3 0h0m-58.5 0.5h0m1 0h0m10 0h0m3 0h0m0.5 0h0m5.5 0h0m0.5 0h0m0.5 0h0m1 0h0m10.5 0h0m3 0h0m0 0h0m1 0h0m6 0h0m0.5 0h0m2.5 0h0m3 0h0m6.5 0h0m1.5 0h0m1 0h0m0.5 0h0m-60 0.5h0m6.5 0h0m2.5 0h0m0 0h0m3 0h0m3 0h0m2.5 0h0m2.5 0h0m1.5 0h0m3 0h0m0.5 0h0m2.5 0h0m14 0h0m1.5 0h0m2 0h0m3.5 0h0m3 0h0m0.5 0h0m5.5 0h0m4 0h0m-52.5 0.5h0m3.5 0h0m2 0h0m0.5 0h0m4 0h0m1.5 0h0m0 0h0m3 0h0m3.5 0h0m1 0h0m3 0h0m2 0h0m4.5 0h0m5 0h0m2 0h0m3.5 0h0m1.5 0h0m10 0h0m0.5 0h0m2 0h0m1 0h0m1 0h0m-59.5 0.5h0m1 0h0m1.5 0h0m10 0h0m0 0h0m8.5 0h0m4 0h0m5 0h0m6 0h0m8 0h0m4 0h0m0.5 0h0m0.5 0h0m5.5 0h0m-55.5 0.5h0m1.5 0h0m0.5 0h0m5 0h0m8 0h0m6.5 0h0m8.5 0h0m0.5 0h0m3 0h0m1.5 0h0m1 0h0m3.5 0h0m0 0h0m1 0h0m6.5 0h0m2.5 0h0m0 0h0m9 0h0m-52 0.5h0m2 0h0m2 0h0m3.5 0h0m1 0h0m3.5 0h0m1 0h0m10.5 0h0m5.5 0h0m1 0h0m2 0h0m11 0h0m2.5 0h0m6 0h0m-58 0.5h0m6.5 0h0m14 0h0m28.5 0h0m5 0h0m1 0h0m-49 0.5h0m0.5 0h0m1 0h0m7 0h0m13 0h0m1 0h0m5 0h0m1.5 0h0m9.5 0h0m-43 0.5h0m7.5 0h0m10 0h0m2 0h0m34.5 0h0m0 0h0m-57 0.5h0m4 0h0m1 0h0m0.5 0h0m5 0h0m14.5 0h0m0.5 0h0m10 0h0m3.5 0h0m5.5 0h0m7.5 0h0m6 0h0m-53.5 0.5h0m13.5 0h0m7 0h0m18.5 0h0m4.5 0h0m6 0h0m-45.5 0.5h0m3.5 0h0m2.5 0h0m20 0h0m14.5 0h0m2 0h0m6 0h0m-57 0.5h0m0.5 0h0m20 0h0m1.5 0h0m10.5 0h0m8.5 0h0m1.5 0h0m17.5 0h0m-27.5 0.5h0m18 0h0m8.5 0h0" stroke="#1a1a1a" stroke-width="1.55" stroke-linecap="square" fill="none"/>
<path d="M360 885h0m3.5 0h0m9.5 0h0m2 0h0m25.5 0h0m9 0h0m-54.5 0.5h0m1.5 0h0m2.5 0h0m1 0h0m2 0h0m2.5 0h0m0 0h0m1.5 0h0m1.5 0h0m2 0h0m0.5 0h0m3.5 0h0m1.5 0h0m0.5 0h0m1 0h0m2 0h0m0.5 0h0m2.5 0h0m2.5 0h0m1 0h0m0.5 0h0m0.5 0h0m0.5 0h0m0 0h0m1 0h0m1.5 0h0m2 0h0m0 0h0m1 0h0m0.5 0h0m0.5 0h0m1 0h0m0 0h0m0.5 0h0m1 0h0m1.5 0h0m1.5 0h0m4 0h0m3 0h0m0.5 0h0m1.5 0h0m2 0h0m0 0h0m1 0h0m0 0h0m0.5 0h0m2.5 0h0m2 0h0m0.5 0h0m0.5 0h0m1 0h0m1 0h0m-63.5 0.5h0m0 0h0m0.5 0h0m0 0h0m0 0h0m1 0h0m0 0h0m0.5 0h0m0.5 0h0m0.5 0h0m1.5 0h0m0.5 0h0m2 0h0m0.5 0h0m2 0h0m0.5 0h0m0 0h0m0.5 0h0m0.5 0h0m0 0h0m1.5 0h0m1 0h0m0 0h0m0 0h0m0.5 0h0m0 0h0m0.5 0h0m0 0h0m1 0h0m0.5 0h0m0 0h0m0.5 0h0m0 0h0m0.5 0h0m0 0h0m0 0h0m1 0h0m0 0h0m1 0h0m0 0h0m1.5 0h0m0.5 0h0m0.5 0h0m0.5 0h0m0.5 0h0m0.5 0h0m0.5 0h0m0.5 0h0m0 0h0m0 0h0m0 0h0m1 0h0m0.5 0h0m3.5 0h0m0.5 0h0m0 0h0m0 0h0m0.5 0h0m0 0h0m1.5 0h0m0.5 0h0m0.5 0h0m0.5 0h0m0 0h0m0.5 0h0m0.5 0h0m0.5 0h0m0 0h0m0.5 0h0m1 0h0m0.5 0h0m0.5 0h0m1.5 0h0m0.5 0h0m0.5 0h0m0 0h0m0 0h0m0.5 0h0m1 0h0m0.5 0h0m0.5 0h0m0.5 0h0m0.5 0h0m0.5 0h0m0.5 0h0m0 0h0m0 0h0m0 0h0m0.5 0h0m0.5 0h0m2 0h0m0.5 0h0m0 0h0m2 0h0m0 0h0m0.5 0h0m0 0h0m2 0h0m0.5 0h0m0 0h0m1 0h0m0.5 0h0m1 0h0m3 0h0m0 0h0m0 0h0m0.5 0h0m0.5 0h0m0 0h0m0.5 0h0m1 0h0m1 0h0m1.5 0h0m0.5 0h0m-63.5 0.5h0m0 0h0m0.5 0h0m0 0h0m0 0h0m0.5 0h0m0 0h0m0 0h0m1 0h0m0 0h0m0.5 0h0m0.5 0h0m0.5 0h0m0 0h0m0.5 0h0m0 0h0m0 0h0m0.5 0h0m2 0h0m0.5 0h0m0 0h0m1 0h0m0 0h0m1 0h0m0.5 0h0m1.5 0h0m0.5 0h0m0.5 0h0m0 0h0m0.5 0h0m0 0h0m0.5 0h0m0 0h0m0 0h0m0.5 0h0m0.5 0h0m0 0h0m0.5 0h0m0 0h0m0 0h0m0 0h0m0.5 0h0m0.5 0h0m0 0h0m0 0h0m0.5 0h0m0 0h0m0 0h0m0 0h0m0.5 0h0m0 0h0m0.5 0h0m0 0h0m0.5 0h0m0.5 0h0m0 0h0m0.5 0h0m0.5 0h0m0.5 0h0m0.5 0h0m0 0h0m1 0h0m0 0h0m0.5 0h0m0.5 0h0m0 0h0m0.5 0h0m0.5 0h0m0 0h0m0.5 0h0m0 0h0m0 0h0m0.5 0h0m0 0h0m0 0h0m0.5 0h0m0 0h0m0.5 0h0m0.5 0h0m0 0h0m0 0h0m0.5 0h0m0.5 0h0m0 0h0m1 0h0m0.5 0h0m0 0h0m0 0h0m0 0h0m0 0h0m1 0h0m0 0h0m0.5 0h0m0.5 0h0m0.5 0h0m0.5 0h0m0 0h0m1 0h0m0 0h0m0 0h0m0.5 0h0m0 0h0m0.5 0h0m0 0h0m1 0h0m0 0h0m0.5 0h0m1 0h0m0.5 0h0m0 0h0m1 0h0m0 0h0m0 0h0m0.5 0h0m0 0h0m0 0h0m1 0h0m0.5 0h0m0.5 0h0m0 0h0m0 0h0m0.5 0h0m0 0h0m0 0h0m0 0h0m0 0h0m0.5 0h0m0 0h0m0.5 0h0m1 0h0m0 0h0m0 0h0m0.5 0h0m0 0h0m1 0h0m0 0h0m0.5 0h0m0 0h0m1 0h0m0.5 0h0m0.5 0h0m0.5 0h0m0.5 0h0m0 0h0m1 0h0m0 0h0m0.5 0h0m0.5 0h0m0.5 0h0m0 0h0m0.5 0h0m0 0h0m0.5 0h0m0 0h0m1 0h0m0 0h0m0.5 0h0m0.5 0h0m0 0h0m0.5 0h0m0 0h0m1 0h0m0 0h0m0.5 0h0m0 0h0m0.5 0h0m0 0h0m0 0h0m0 0h0m0.5 0h0m0.5 0h0m0.5 0h0m0 0h0m0.5 0h0m0 0h0m0.5 0h0m1.5 0h0m0 0h0m0.5 0h0m0.5 0h0m0.5 0h0m0 0h0m1 0h0m0.5 0h0m0 0h0m0.5 0h0m0.5 0h0m0 0h0m0.5 0h0m-64 0.5h0m0 0h0m1 0h0m0 0h0m0 0h0m0 0h0m1 0h0m0.5 0h0m0.5 0h0m0 0h0m0 0h0m0.5 0h0m0 0h0m0.5 0h0m0 0h0m0 0h0m1 0h0m0 0h0m0 0h0m0 0h0m1.5 0h0m0 0h0m0.5 0h0m0.5 0h0m0.5 0h0m0 0h0m0.5 0h0m0.5 0h0m0 0h0m0 0h0m0 0h0m0 0h0m0.5 0h0m0 0h0m0 0h0m0.5 0h0m0 0h0m0.5 0h0m0 0h0m0.5 0h0m0.5 0h0m0.5 0h0m0 0h0m0 0h0m0.5 0h0m0.5 0h0m0 0h0m0.5 0h0m0.5 0h0m0.5 0h0m0 0h0m0 0h0m0.5 0h0m0 0h0m0 0h0m0 0h0m0 0h0m0 0h0m1 0h0m0.5 0h0m0 0h0m0 0h0m1.5 0h0m0.5 0h0m0 0h0m0 0h0m0 0h0m0.5 0h0m0.5 0h0m0.5 0h0m0.5 0h0m0 0h0m0.5 0h0m0 0h0m0 0h0m0 0h0m1 0h0m0 0h0m0 0h0m0 0h0m2.5 0h0m0 0h0m0.5 0h0m0 0h0m0.5 0h0m1.5 0h0m0 0h0m0 0h0m1 0h0m0 0h0m0.5 0h0m0 0h0m1 0h0m0 0h0m0 0h0m0.5 0h0m0.5 0h0m0 0h0m1 0h0m1.5 0h0m0.5 0h0m0 0h0m0 0h0m0.5 0h0m0 0h0m1 0h0m1 0h0m0.5 0h0m0 0h0m0.5 0h0m1.5 0h0m0.5 0h0m0 0h0m0.5 0h0m0.5 0h0m0.5 0h0m0 0h0m0 0h0m0.5 0h0m0.5 0h0m0 0h0m0.5 0h0m0 0h0m0.5 0h0m0 0h0m0 0h0m0.5 0h0m0.5 0h0m0 0h0m0 0h0m0 0h0m0.5 0h0m0 0h0m0 0h0m0 0h0m1 0h0m0 0h0m0 0h0m0.5 0h0m0.5 0h0m0 0h0m0 0h0m0.5 0h0m0.5 0h0m1 0h0m0 0h0m2 0h0m0 0h0m1 0h0m0 0h0m0 0h0m0 0h0m0.5 0h0m0 0h0m0 0h0m1 0h0m0 0h0m0.5 0h0m0 0h0m0 0h0m0 0h0m0.5 0h0m1 0h0m0 0h0m1 0h0m0.5 0h0m0 0h0m0 0h0m0.5 0h0m1 0h0m0.5 0h0m0 0h0m0.5 0h0m1 0h0m0.5 0h0m0.5 0h0m1 0h0m0 0h0m0.5 0h0m0 0h0m0 0h0m0.5 0h0m0 0h0m1.5 0h0m0 0h0m0 0h0m-64.5 0.5h0m0 0h0m0.5 0h0m0.5 0h0m0 0h0m0.5 0h0m0.5 0h0m0 0h0m0 0h0m0.5 0h0m0 0h0m0.5 0h0m1.5 0h0m0.5 0h0m0 0h0m0.5 0h0m1 0h0m1.5 0h0m0 0h0m0.5 0h0m1.5 0h0m0 0h0m0 0h0m0.5 0h0m0.5 0h0m0 0h0m0 0h0m0 0h0m0.5 0h0m0 0h0m1.5 0h0m0 0h0m1.5 0h0m0 0h0m1 0h0m0 0h0m1 0h0m0.5 0h0m0.5 0h0m0 0h0m0.5 0h0m1.5 0h0m0 0h0m0 0h0m0.5 0h0m0 0h0m0 0h0m0 0h0m0.5 0h0m1 0h0m0 0h0m0.5 0h0m0.5 0h0m0 0h0m0.5 0h0m0 0h0m0 0h0m0 0h0m0.5 0h0m0 0h0m0 0h0m0 0h0m0 0h0m0.5 0h0m0 0h0m0.5 0h0m0.5 0h0m0 0h0m0.5 0h0m1.5 0h0m0.5 0h0m0.5 0h0m0.5 0h0m1 0h0m0 0h0m0 0h0m0 0h0m0.5 0h0m0 0h0m0.5 0h0m0.5 0h0m0 0h0m0.5 0h0m0 0h0m0.5 0h0m0.5 0h0m0.5 0h0m0 0h0m1.5 0h0m0 0h0m0.5 0h0m0 0h0m0.5 0h0m0.5 0h0m0 0h0m1.5 0h0m0 0h0m0 0h0m1.5 0h0m0 0h0m0 0h0m0.5 0h0m1 0h0m0 0h0m0 0h0m0.5 0h0m0.5 0h0m0 0h0m0 0h0m0.5 0h0m0 0h0m0 0h0m0 0h0m0 0h0m0.5 0h0m0.5 0h0m0 0h0m0 0h0m0.5 0h0m0 0h0m0 0h0m0.5 0h0m0 0h0m0 0h0m0.5 0h0m0 0h0m0.5 0h0m1.5 0h0m0 0h0m0 0h0m0 0h0m0.5 0h0m0.5 0h0m0 0h0m0 0h0m0 0h0m0.5 0h0m0.5 0h0m0.5 0h0m0.5 0h0m0 0h0m0.5 0h0m0.5 0h0m1 0h0m0 0h0m2.5 0h0m0 0h0m1 0h0m0.5 0h0m0 0h0m0 0h0m1 0h0m0 0h0m0 0h0m0 0h0m0.5 0h0m0 0h0m0 0h0m1 0h0m0 0h0m0.5 0h0m0 0h0m1 0h0m1 0h0m0.5 0h0m0.5 0h0m0 0h0m0.5 0h0m0.5 0h0m0 0h0m0 0h0m1 0h0m0 0h0m1 0h0m0.5 0h0m-65 0.5h0m0 0h0m2 0h0m0.5 0h0m0.5 0h0m0.5 0h0m1 0h0m0 0h0m1 0h0m0.5 0h0m0.5 0h0m0.5 0h0m0 0h0m0 0h0m0.5 0h0m0.5 0h0m0 0h0m1 0h0m1 0h0m0 0h0m0.5 0h0m1 0h0m0.5 0h0m2.5 0h0m0.5 0h0m0 0h0m1.5 0h0m0.5 0h0m0 0h0m1.5 0h0m0.5 0h0m0.5 0h0m3 0h0m2 0h0m0 0h0m0.5 0h0m2 0h0m0 0h0m1 0h0m1 0h0m0 0h0m0.5 0h0m0 0h0m0 0h0m2 0h0m0.5 0h0m0 0h0m0.5 0h0m0 0h0m0 0h0m0 0h0m0.5 0h0m1 0h0m1.5 0h0m0.5 0h0m0.5 0h0m0 0h0m0 0h0m1 0h0m0 0h0m1 0h0m0.5 0h0m0 0h0m0.5 0h0m0.5 0h0m0 0h0m0.5 0h0m0 0h0m0.5 0h0m0.5 0h0m0.5 0h0m0 0h0m0.5 0h0m0 0h0m1 0h0m2 0h0m0.5 0h0m0.5 0h0m2 0h0m0 0h0m0.5 0h0m1 0h0m0 0h0m0.5 0h0m0.5 0h0m0.5 0h0m2 0h0m1.5 0h0m0 0h0m1 0h0m1 0h0m0 0h0m0 0h0m0.5 0h0m0 0h0m0.5 0h0m0 0h0m0 0h0m1 0h0m2 0h0m0.5 0h0m1 0h0m1 0h0m0 0h0m-63 0.5h0m0 0h0m1 0h0m0.5 0h0m5.5 0h0m1.5 0h0m1.5 0h0m0 0h0m0.5 0h0m0 0h0m0.5 0h0m0.5 0h0m0 0h0m1 0h0m0.5 0h0m0 0h0m0.5 0h0m1 0h0m0.5 0h0m3 0h0m1 0h0m1 0h0m2.5 0h0m1 0h0m5.5 0h0m0 0h0m0.5 0h0m0.5 0h0m0 0h0m4 0h0m0 0h0m0.5 0h0m1 0h0m3 0h0m0.5 0h0m0.5 0h0m2 0h0m1 0h0m0 0h0m1 0h0m5 0h0m2.5 0h0m2.5 0h0m1 0h0m8.5 0h0m1 0h0m-61 0.5h0m1 0h0m1 0h0m2 0h0m0.5 0h0m1 0h0m1.5 0h0m2.5 0h0m7.5 0h0m1.5 0h0m3.5 0h0m2 0h0m0.5 0h0m3 0h0m2 0h0m3.5 0h0m1 0h0m0.5 0h0m1 0h0m2 0h0m3 0h0m0 0h0m6 0h0m2 0h0m6.5 0h0m2 0h0m2.5 0h0m1 0h0m-17 27h0m-11.5 1h0m9 1.5h0m15 0.5h0m-9.5 0.5h0m6 0h0m-53.5 0.5h0m3.5 0h0m15 0h0m31 0.5h0m-2.5 0.5h0" stroke="#1a1a1a" stroke-width="1.55" stroke-linecap="square" fill="none"/>
</g>
<text transform="translate(253.8,1003.6) scale(1,1.16)" class="tk" text-anchor="end">90</text>
<text transform="translate(253.8,976.1) scale(1,1.16)" class="tk" text-anchor="end">92</text>
<text transform="translate(253.8,948.7) scale(1,1.16)" class="tk" text-anchor="end">94</text>
<text transform="translate(253.8,921.2) scale(1,1.16)" class="tk" text-anchor="end">96</text>
<text transform="translate(253.8,893.8) scale(1,1.16)" class="tk" text-anchor="end">98</text>
<text transform="translate(306.3,1039.2) scale(1,1.04)" class="tk" text-anchor="middle">ECM</text>
<text transform="translate(386.3,1039.2) scale(1,1.04)" class="tk" text-anchor="middle">ML</text>
<text transform="translate(231.8,879.0) rotate(-90)" class="yt" text-anchor="end">Memory</text>
<rect x="508" y="878" width="178" height="144.2" fill="#F2F2F2"/>
<path d="M508 1016.70H686M508 998.87H686M508 981.03H686M508 963.20H686M508 945.37H686M508 927.53H686M508 909.70H686M508 891.87H686M557.30 878V1022.2M636.70 878V1022.2" stroke="#D3D3D3" stroke-width="1.1" fill="none"/>
<clipPath id="c14"><rect x="508" y="878" width="178" height="144.2"/></clipPath>
<g clip-path="url(#c14)">
<path d="M557.30 1013.13V1008.14M557.30 1016.13V1016.70" stroke="#7a7a7a" stroke-width="1.5" fill="none"/>
<rect x="537.00" y="1013.13" width="40.60" height="3.00" fill="#00FF00" stroke="#333" stroke-width="0.9"/>
<path d="M537.00 1014.99H577.60" stroke="#333" stroke-width="1.2"/>
<path d="M636.70 965.34V899.71M636.70 1006.71V1016.70" stroke="#7a7a7a" stroke-width="1.5" fill="none"/>
<rect x="616.40" y="965.34" width="40.60" height="41.37" fill="#FFFF00" stroke="#333" stroke-width="0.9"/>
<path d="M616.40 993.87H657.00" stroke="#333" stroke-width="1.2"/>
<path d="M558.5 924h0m6 53h0m-5 9.5h0m-20 5.5h0m-13.5 6.5h0m52.5 0.5h0m-27.5 0.5h0m-1 0.5h0m-14.5 0.5h0m16 0h0m-16 1h0m9 2h0m27 0h0m-32 0.5h0m22 0h0m27 0h0m-54 0.5h0m10.5 0h0m6.5 0h0m4.5 0h0m32 0h0m-40 0.5h0m-22.5 0.5h0m14 0h0m3.5 0h0m46 0h0m-51 0.5h0m3.5 0h0m9.5 0h0m7 0h0m2.5 0h0m2 0h0m8.5 0h0m16 0h0m-37.5 0.5h0m21.5 0h0m-7 0.5h0m-7.5 0.5h0m5 0h0m0.5 0h0m11 0h0m4 0h0m9.5 0h0m-43.5 0.5h0m6.5 0h0m3.5 0h0m1.5 0h0m16 0h0m-44.5 0.5h0m9 0h0m1 0h0m17 0h0m-6 0.5h0m5 0h0m7 0h0m10 0h0m3 0h0m-39.5 0.5h0m10 0h0m2.5 0h0m0 0h0m0.5 0h0m3 0h0m13.5 0h0m1.5 0h0m9.5 0h0m8.5 0h0m3.5 0h0m1 0h0m-61 0.5h0m0.5 0h0m0.5 0h0m7.5 0h0m5 0h0m1.5 0h0m1.5 0h0m6 0h0m0.5 0h0m3 0h0m8.5 0h0m3 0h0m1 0h0m0.5 0h0m7 0h0m0.5 0h0m2 0h0m1.5 0h0m0.5 0h0m2.5 0h0m0.5 0h0m0 0h0m7.5 0h0m-56 0.5h0m1.5 0h0m3.5 0h0m1.5 0h0m7.5 0h0m1.5 0h0m2.5 0h0m2.5 0h0m8 0h0m4 0h0m0.5 0h0m0 0h0m8.5 0h0m0.5 0h0m2 0h0m4.5 0h0m5 0h0m2 0h0m0 0h0m2 0h0m1.5 0h0m0.5 0h0m-63 0.5h0m0 0h0m2.5 0h0m2.5 0h0m6.5 0h0m1 0h0m3.5 0h0m6 0h0m0 0h0m0 0h0m2.5 0h0m10 0h0m5 0h0m6.5 0h0m2.5 0h0m1 0h0m1 0h0m0.5 0h0m0.5 0h0m1 0h0m1.5 0h0m1 0h0m5.5 0h0m0 0h0m-54 0.5h0m2 0h0m1.5 0h0m4 0h0m3.5 0h0m0 0h0m1.5 0h0m5 0h0m0 0h0m2 0h0m1 0h0m1.5 0h0m0 0h0m6.5 0h0m5 0h0m5 0h0m8.5 0h0m0.5 0h0m8 0h0m-61.5 0.5h0m1.5 0h0m0.5 0h0m0.5 0h0m0.5 0h0m7.5 0h0m3 0h0m1 0h0m2 0h0m2.5 0h0m1 0h0m0.5 0h0m8 0h0m2 0h0m2.5 0h0m6 0h0m3.5 0h0m2.5 0h0m1 0h0m4.5 0h0m2.5 0h0m1 0h0m8.5 0h0m-59.5 0.5h0m1.5 0h0m3.5 0h0m0 0h0m1 0h0m1 0h0m4.5 0h0m1 0h0m2.5 0h0m1 0h0m15 0h0m9 0h0m2.5 0h0m0.5 0h0m10 0h0m-56 0.5h0m2.5 0h0m1.5 0h0m0 0h0m0 0h0m1.5 0h0m0 0h0m0 0h0m6.5 0h0m2.5 0h0m2 0h0m0.5 0h0m3 0h0m2 0h0m1.5 0h0m0.5 0h0m0.5 0h0m1 0h0m4.5 0h0m2 0h0m1 0h0m3 0h0m1 0h0m1 0h0m2.5 0h0m0 0h0m0.5 0h0m2 0h0m0 0h0m0.5 0h0m0.5 0h0m2 0h0m3.5 0h0m1 0h0m0.5 0h0m3 0h0m0 0h0m2 0h0m0.5 0h0m0.5 0h0m3 0h0m2 0h0m1 0h0m-64.5 0.5h0m0 0h0m0 0h0m0.5 0h0m2 0h0m1 0h0m2 0h0m2.5 0h0m0.5 0h0m0 0h0m1 0h0m0.5 0h0m1 0h0m2.5 0h0m1 0h0m0.5 0h0m0.5 0h0m1.5 0h0m1.5 0h0m0.5 0h0m1 0h0m0 0h0m2.5 0h0m1 0h0m1.5 0h0m0.5 0h0m3.5 0h0m0 0h0m0.5 0h0m1 0h0m0.5 0h0m2 0h0m1 0h0m2.5 0h0m1 0h0m0.5 0h0m0 0h0m0.5 0h0m0.5 0h0m0 0h0m0.5 0h0m0 0h0m1 0h0m1.5 0h0m0.5 0h0m1.5 0h0m1 0h0m1.5 0h0m3.5 0h0m1 0h0m1 0h0m1.5 0h0m0 0h0m1.5 0h0m1 0h0m1 0h0m2.5 0h0m0.5 0h0m2 0h0m0.5 0h0m0 0h0m0 0h0m0 0h0m1 0h0m0.5 0h0m-64 0.5h0m1.5 0h0m1.5 0h0m0 0h0m0 0h0m1 0h0m0.5 0h0m0.5 0h0m0.5 0h0m2.5 0h0m0.5 0h0m0 0h0m0.5 0h0m0.5 0h0m0 0h0m0 0h0m0.5 0h0m5 0h0m0.5 0h0m1 0h0m0.5 0h0m1 0h0m0.5 0h0m3.5 0h0m0 0h0m2 0h0m0 0h0m0.5 0h0m1.5 0h0m0.5 0h0m0 0h0m0 0h0m1 0h0m3 0h0m0.5 0h0m0.5 0h0m0.5 0h0m0.5 0h0m2 0h0m0.5 0h0m0.5 0h0m0 0h0m0.5 0h0m1 0h0m2 0h0m1 0h0m1.5 0h0m0.5 0h0m0.5 0h0m0.5 0h0m1 0h0m0.5 0h0m2 0h0m1.5 0h0m0 0h0m0 0h0m0.5 0h0m0 0h0m0.5 0h0m0 0h0m0.5 0h0m1 0h0m0 0h0m0.5 0h0m2 0h0m0 0h0m0.5 0h0m0.5 0h0m3 0h0m2 0h0m1 0h0m2 0h0m1.5 0h0m-63.5 0.5h0m1 0h0m0.5 0h0m0.5 0h0m1 0h0m4 0h0m1.5 0h0m6.5 0h0m0.5 0h0m0 0h0m0.5 0h0m0 0h0m0.5 0h0m1.5 0h0m1 0h0m0 0h0m0 0h0m0 0h0m3 0h0m0.5 0h0m1 0h0m4.5 0h0m0.5 0h0m0 0h0m2 0h0m3 0h0m0.5 0h0m2.5 0h0m0 0h0m1 0h0m0.5 0h0m0 0h0m1.5 0h0m0.5 0h0m1 0h0m1.5 0h0m0.5 0h0m0 0h0m1.5 0h0m0 0h0m1.5 0h0m0.5 0h0m2.5 0h0m1 0h0m3.5 0h0m0.5 0h0m0 0h0m1.5 0h0m0.5 0h0m0.5 0h0m1 0h0m2.5 0h0m2 0h0m0 0h0m0 0h0m2 0h0m0 0h0m0.5 0h0m-64.5 0.5h0m0 0h0m1 0h0m0.5 0h0m1 0h0m0 0h0m0.5 0h0m0.5 0h0m0 0h0m0.5 0h0m1 0h0m0.5 0h0m2 0h0m0 0h0m1 0h0m0 0h0m0.5 0h0m1 0h0m0.5 0h0m0.5 0h0m2 0h0m1.5 0h0m0.5 0h0m0 0h0m0 0h0m0 0h0m0 0h0m0.5 0h0m0 0h0m0.5 0h0m0.5 0h0m0.5 0h0m1 0h0m1 0h0m0.5 0h0m4.5 0h0m0.5 0h0m0 0h0m0.5 0h0m0 0h0m0.5 0h0m0.5 0h0m0.5 0h0m2.5 0h0m2 0h0m1.5 0h0m1 0h0m3 0h0m0 0h0m0 0h0m2 0h0m1.5 0h0m1 0h0m0.5 0h0m4 0h0m0 0h0m0.5 0h0m0.5 0h0m0.5 0h0m0 0h0m1.5 0h0m0 0h0m2 0h0m0 0h0m0.5 0h0m0 0h0m1 0h0m2 0h0m0 0h0m2 0h0m0.5 0h0m0.5 0h0m1.5 0h0m0.5 0h0m1 0h0m0 0h0m0.5 0h0m0.5 0h0m0 0h0m1 0h0m0.5 0h0m1 0h0m-63.5 0.5h0m0.5 0h0m0.5 0h0m0.5 0h0m0.5 0h0m0.5 0h0m0.5 0h0m0 0h0m1 0h0m0 0h0m1 0h0m0.5 0h0m0 0h0m0.5 0h0m0.5 0h0m0.5 0h0m1 0h0m0.5 0h0m0 0h0m0 0h0m0.5 0h0m1.5 0h0m0.5 0h0m2.5 0h0m1 0h0m0.5 0h0m0.5 0h0m2 0h0m0.5 0h0m0.5 0h0m0.5 0h0m0.5 0h0m1 0h0m0 0h0m0.5 0h0m0 0h0m1 0h0m0.5 0h0m1 0h0m4 0h0m1 0h0m0 0h0m2.5 0h0m1 0h0m2 0h0m1.5 0h0m0.5 0h0m0.5 0h0m1.5 0h0m0 0h0m0 0h0m1 0h0m0 0h0m1.5 0h0m0 0h0m0.5 0h0m0 0h0m0.5 0h0m1 0h0m0.5 0h0m1 0h0m0.5 0h0m0 0h0m1 0h0m0 0h0m0.5 0h0m0.5 0h0m0.5 0h0m0.5 0h0m1.5 0h0m0.5 0h0m2.5 0h0m0 0h0m2.5 0h0m1.5 0h0m0 0h0m0.5 0h0m2 0h0m0.5 0h0m0 0h0m1 0h0m0.5 0h0m0.5 0h0m1 0h0m0 0h0m0.5 0h0m-62.5 0.5h0m0.5 0h0m1 0h0m1 0h0m0 0h0m0 0h0m0 0h0m1 0h0m0 0h0m0.5 0h0m0.5 0h0m0.5 0h0m0.5 0h0m1 0h0m0 0h0m0.5 0h0m0 0h0m0.5 0h0m0.5 0h0m0.5 0h0m0.5 0h0m1 0h0m0.5 0h0m1 0h0m0 0h0m0 0h0m1.5 0h0m0 0h0m0.5 0h0m0 0h0m0.5 0h0m0 0h0m2 0h0m0.5 0h0m0.5 0h0m0 0h0m0 0h0m0 0h0m0.5 0h0m2.5 0h0m0 0h0m0 0h0m1 0h0m0.5 0h0m0 0h0m0 0h0m2.5 0h0m0.5 0h0m0.5 0h0m0 0h0m0 0h0m0 0h0m0.5 0h0m0 0h0m0 0h0m0.5 0h0m0 0h0m1 0h0m1 0h0m0.5 0h0m0 0h0m1.5 0h0m0 0h0m0.5 0h0m0 0h0m0.5 0h0m2 0h0m0.5 0h0m0.5 0h0m0.5 0h0m0 0h0m0.5 0h0m0 0h0m2 0h0m0.5 0h0m1 0h0m0.5 0h0m0 0h0m1 0h0m0 0h0m1.5 0h0m2 0h0m0 0h0m1.5 0h0m0.5 0h0m0.5 0h0m1 0h0m0 0h0m0 0h0m0 0h0m1.5 0h0m1 0h0m0 0h0m0.5 0h0m0 0h0m2.5 0h0m0 0h0m0 0h0m0.5 0h0m0 0h0m0.5 0h0m1 0h0m0 0h0m0 0h0m0.5 0h0m0.5 0h0m2 0h0m0 0h0m0.5 0h0m0 0h0m0.5 0h0m0.5 0h0m0 0h0m0.5 0h0m0 0h0m0 0h0m1.5 0h0m0.5 0h0m0.5 0h0m0 0h0m0 0h0m0.5 0h0m0.5 0h0m0 0h0m0.5 0h0m0 0h0m0.5 0h0m0 0h0m0 0h0m-64.5 0.5h0m0.5 0h0m0.5 0h0m0.5 0h0m0 0h0m1 0h0m0.5 0h0m0.5 0h0m0 0h0m0 0h0m0.5 0h0m1.5 0h0m0 0h0m1 0h0m0 0h0m0 0h0m0.5 0h0m0 0h0m0 0h0m0.5 0h0m0 0h0m0 0h0m0.5 0h0m0 0h0m0.5 0h0m0 0h0m3 0h0m0 0h0m0 0h0m0 0h0m0.5 0h0m0 0h0m0.5 0h0m0 0h0m1 0h0m0 0h0m0 0h0m0.5 0h0m0.5 0h0m0 0h0m0 0h0m0.5 0h0m1 0h0m1 0h0m0.5 0h0m0 0h0m0.5 0h0m0.5 0h0m0.5 0h0m0 0h0m1.5 0h0m0 0h0m0.5 0h0m0 0h0m1.5 0h0m0 0h0m1.5 0h0m0 0h0m0.5 0h0m0 0h0m0.5 0h0m0 0h0m1 0h0m0 0h0m0.5 0h0m0.5 0h0m1.5 0h0m0 0h0m0.5 0h0m0 0h0m0.5 0h0m1 0h0m0.5 0h0m0.5 0h0m0.5 0h0m0 0h0m0.5 0h0m0 0h0m0 0h0m0 0h0m0.5 0h0m0 0h0m0.5 0h0m0 0h0m0.5 0h0m0 0h0m0.5 0h0m0 0h0m0 0h0m0 0h0m0.5 0h0m0.5 0h0m0 0h0m1 0h0m0 0h0m0 0h0m0.5 0h0m1 0h0m0 0h0m0 0h0m0 0h0m0 0h0m0.5 0h0m0 0h0m0 0h0m0 0h0m0 0h0m0 0h0m0.5 0h0m0.5 0h0m0.5 0h0m0 0h0m0.5 0h0m0 0h0m0.5 0h0m0 0h0m0.5 0h0m0.5 0h0m0 0h0m2 0h0m0.5 0h0m1.5 0h0m0 0h0m0.5 0h0m1 0h0m1 0h0m2 0h0m0 0h0m0.5 0h0m0.5 0h0m0.5 0h0m0 0h0m0 0h0m0.5 0h0m0.5 0h0m0 0h0m1 0h0m0 0h0m0 0h0m0.5 0h0m0.5 0h0m0 0h0m0 0h0m0 0h0m0.5 0h0m0.5 0h0m0.5 0h0m0.5 0h0m0 0h0m0.5 0h0m0 0h0m0.5 0h0m0.5 0h0m0.5 0h0m0.5 0h0m0 0h0m0 0h0m0 0h0m0.5 0h0m1 0h0m0 0h0m0.5 0h0m0 0h0m0 0h0m0 0h0m0.5 0h0m0 0h0m0.5 0h0m0.5 0h0m0 0h0m0.5 0h0m0.5 0h0m0.5 0h0" stroke="#141414" stroke-width="1.6" stroke-linecap="square" fill="none"/>
<path d="M625.5 885h0m-11 0.5h0m32 0h0m19.5 0.5h0m-3.5 0.5h0m-19 1.5h0m-10 2.5h0m24.5 0h0m7 0h0m-48.5 1h0m33 0.5h0m-29.5 1h0m39.5 2.5h0m-37 1h0m-10 0.5h0m24 0.5h0m5 0h0m14 0h0m-5.5 3h0m-11 0.5h0m-20.5 0.5h0m5.5 1h0m6 0.5h0m9 0h0m2.5 1.5h0m6.5 1h0m8 1h0m-2.5 2h0m-1.5 1.5h0m2.5 0.5h0m6 0.5h0m-46 1h0m8 0h0m13.5 0h0m26 0h0m-10.5 0.5h0m-30.5 1h0m-15 0.5h0m12.5 0h0m5 0h0m39.5 0h0m-44.5 0.5h0m48.5 0h0m0.5 0h0m-57.5 0.5h0m4.5 0h0m3.5 0.5h0m-3.5 0.5h0m32.5 0h0m6.5 1h0m4 0.5h0m-52 0.5h0m60 0h0m-4.5 0.5h0m-28 0.5h0m2 0h0m4.5 0h0m12.5 1h0m-5 0.5h0m-28.5 0.5h0m4.5 1h0m38 0h0m-25.5 0.5h0m2 0.5h0m5 0h0m-3 0.5h0m-35 1h0m4 0h0m7 0h0m-6.5 1.5h0m37.5 0h0m-9 0.5h0m-21.5 1h0m2.5 1h0m12.5 0h0m-18 0.5h0m15 0.5h0m0 0.5h0m30.5 0h0m-26.5 0.5h0m7.5 1.5h0m-21 0.5h0m19 0h0m-33 1h0m1.5 1h0m5.5 1.5h0m-6.5 0.5h0m13.5 0h0m9 2.5h0m28 0.5h0m10 1h0m-18 0.5h0m-35.5 1h0m39 0h0m-18 1h0m-28 0.5h0m14.5 0h0m29 0.5h0m-33 0.5h0m19.5 1h0m19 0h0m10 0h0m-33.5 0.5h0m0.5 0h0m21.5 0h0m-7 0.5h0m-21 0.5h0m2 0h0m9.5 0h0m27 0h0m-1 0.5h0m6.5 0h0m-49 0.5h0m17 0.5h0m18.5 0h0m-36 0.5h0m2 0h0m1 0h0m20 0h0m8 0h0m6.5 0h0m1 0h0m1.5 0.5h0m-47.5 0.5h0m23.5 0.5h0m-22.5 0.5h0m33.5 0h0m0.5 0h0m-10 0.5h0m7 0h0m-25.5 0.5h0m16.5 0h0m11.5 0h0m2 0h0m9.5 0h0m0 0h0m-51 0.5h0m42 0h0m6.5 0h0m10.5 0h0m-35.5 1h0m11.5 0.5h0m24.5 0.5h0m-3.5 0.5h0m6.5 0h0m-56 0.5h0m23 0h0m32 0h0m-33 0.5h0m11.5 0h0m8 0h0m-21.5 0.5h0m-8.5 0.5h0m2.5 0h0m12.5 0h0m2.5 0h0m-30 0.5h0m28 0h0m-34 0.5h0m32.5 0.5h0m-21.5 0.5h0m6 0.5h0m14.5 0h0m10 0h0m-32.5 0.5h0m3 0h0m6 0h0m1.5 0h0m14 0h0m-18 0.5h0m8 0h0m28 0h0m-48.5 0.5h0m19.5 0h0m6 0h0m-28.5 0.5h0m11.5 0h0m27 0h0m7 0h0m-33 0.5h0m30.5 0h0m10 0h0m-28 0.5h0m3 0.5h0m-19 0.5h0m8 0h0m-17.5 0.5h0m57.5 0h0m-2 1h0m-20.5 0.5h0m16.5 0h0m-38.5 0.5h0m15.5 0h0m9.5 0h0m-29.5 0.5h0m-3.5 0.5h0m16.5 0h0m30.5 0h0m-47 0.5h0m39.5 0h0m12 0h0m-43 0.5h0m1.5 0h0m25 0h0m1.5 0h0m7 0h0m-40.5 0.5h0m4.5 0h0m30.5 0.5h0m-4.5 0.5h0m-35 0.5h0m49.5 0h0m10.5 0h0m-44.5 0.5h0m16.5 0h0m14 0h0m-46.5 0.5h0m6.5 0h0m-8.5 0.5h0m46.5 0h0m15 0h0m-57 0.5h0m8 0h0m15 0h0m1 0h0m4 0h0m0 0h0m7.5 0h0m-8 0.5h0m13.5 0h0m12.5 0h0m-27.5 0.5h0m23 0h0m-43.5 0.5h0m10 0h0m2.5 0h0m24.5 0h0m4 0h0m-50.5 0.5h0m4 0h0m32.5 0h0m21 0h0m0 0h0m-41 0.5h0m11.5 0h0m16 0h0m4.5 0h0m-14 0.5h0m-35.5 0.5h0m16.5 0h0m5.5 0h0m7 0h0m19 0h0m-48.5 0.5h0m11 0h0m8.5 0h0m11 0h0m11.5 0h0m10 0h0m-40 0.5h0m22.5 0h0m6.5 0h0m17 0h0m-30.5 0.5h0m3.5 0h0m4.5 0h0m9 0.5h0m-36 0.5h0m3.5 0h0m4 0h0m1.5 0h0m26.5 0h0m0 0h0m18.5 0h0m-63.5 0.5h0m52.5 0h0m10 0h0m-16 0.5h0m7 0h0m-43 0.5h0m1.5 0h0m26 0h0m19.5 0h0m-56.5 0.5h0m17.5 0h0m19.5 0h0m13 0h0m-24 0.5h0m3 0h0m10.5 0h0m-39.5 0.5h0m15.5 0h0m4 0h0m17.5 0h0m22.5 0h0m-35 0.5h0m10.5 0h0m8.5 0h0m4 0h0m-47.5 0.5h0m1.5 0h0m20.5 0h0m9 0h0m25.5 0h0m-51.5 0.5h0m9 0h0m8.5 0h0m-17.5 0.5h0m13 0h0m0 0h0m7.5 0h0m19.5 0h0m14 0h0m-41 0.5h0m2 0h0m7 0h0m12 0h0m18.5 0h0m-51 0.5h0m9 0h0m40 0h0m-28.5 0.5h0m1 0h0m0.5 0h0m8 0h0m9.5 0h0m-32 0.5h0m1 0h0m0.5 0h0m28 0h0m17 0h0m-47.5 0.5h0m21.5 0h0m1.5 0h0m10.5 0h0m11.5 0h0m-55.5 0.5h0m53 0h0m-26 0.5h0m5.5 0h0m2.5 0h0m-32.5 0.5h0m16.5 0h0m13 0h0m2.5 0h0m-11.5 0.5h0m0.5 0h0m1 0h0m10 0h0m13.5 0h0m-37.5 0.5h0m9 0h0m7.5 0h0m31 0h0m-62 0.5h0m1 0h0m14 0h0m30.5 0h0m-26.5 0.5h0m17.5 0h0m1 0h0m6.5 0h0m4.5 0h0m16.5 0h0m-32.5 0.5h0m0.5 0h0m12 0h0m-37 0.5h0m2.5 0h0m0.5 0h0m24.5 0h0m5 0h0m2.5 0h0m2.5 0h0m-19.5 0.5h0m10.5 0h0m-33.5 0.5h0m36.5 0h0m7 0h0m2.5 0h0m3.5 0h0m3 0h0m-54 0.5h0m18.5 0h0m-13 0.5h0m40.5 0h0m0 0h0m0.5 0h0m13.5 0h0m-38.5 0.5h0m29.5 0h0m12.5 0h0m-15.5 0.5h0m15.5 0h0m-55 0.5h0m0.5 0h0m27.5 0h0m2 0h0m-30 0.5h0m2 0h0m14.5 0h0m5.5 0h0m5.5 0h0m4.5 0h0m2 0h0m3.5 0h0m15.5 0h0m-59 0.5h0m11.5 0h0m7.5 0h0m9.5 0h0m23.5 0h0m0.5 0h0m1 0h0m-54.5 0.5h0m2 0h0m20 0h0m0 0h0m26 0h0m9 0h0m-47.5 0.5h0m5.5 0h0m0 0h0m14.5 0h0m6 0h0m14.5 0h0m3 0h0m0.5 0h0m-43.5 0.5h0m2 0h0m2 0h0m5 0h0m2 0h0m5 0h0m0.5 0h0m11.5 0h0m0.5 0h0m6.5 0h0m-29 0.5h0m21 0h0m2 0h0m13.5 0h0m0 0h0m-51 0.5h0m12 0h0m1.5 0h0m7.5 0h0m22 0h0m8 0h0m-55 0.5h0m10 0h0m21 0h0m10 0h0m13.5 0h0m8.5 0h0m-59 0.5h0m24 0h0m2.5 0h0m4 0h0m-32 0.5h0m11.5 0h0m2 0h0m12.5 0h0m13 0h0m9 0h0m-31 0.5h0m10.5 0h0m21 0h0m-44.5 0.5h0m2 0h0m1 0h0m9 0h0m7 0h0m7.5 0h0m17 0h0m3.5 0h0m-44 0.5h0m11 0h0m2 0h0m0 0h0m20 0h0m2 0h0m1.5 0h0m3 0h0m13.5 0h0m-43 0.5h0m2 0h0m21.5 0h0m9.5 0h0m12 0h0m-54 0.5h0m16.5 0h0m15.5 0h0m1 0h0m6.5 0h0m3 0h0m5 0h0m-45 0.5h0m13 0h0m2.5 0h0m5 0h0m29 0h0m-55.5 0.5h0m1.5 0h0m20 0h0m5.5 0h0m5.5 0h0m3.5 0h0m1.5 0h0m3.5 0h0m13.5 0h0m-50 0.5h0m5.5 0h0m8.5 0h0m4 0h0m4 0h0m1.5 0h0m13.5 0h0m3 0h0m3 0h0m-54.5 0.5h0m2 0h0m5 0h0m8 0h0m0 0h0m20 0h0m4.5 0h0m5.5 0h0m2 0h0m2.5 0h0m1.5 0h0m0 0h0m5.5 0h0m-54 0.5h0m10 0h0m14 0h0m11 0h0m2 0h0m1.5 0h0m2 0h0m5 0h0m0.5 0h0m2.5 0h0m2 0h0m8.5 0h0m-61.5 0.5h0m8.5 0h0m3.5 0h0m5 0h0m14.5 0h0m5 0h0m5 0h0m1 0h0m8.5 0h0m-43 0.5h0m10.5 0h0m7.5 0h0m11.5 0h0m12 0h0m1 0h0m-49 0.5h0m18 0h0m5.5 0h0m2.5 0h0m4 0h0m10 0h0m16 0h0m-53.5 0.5h0m4 0h0m13.5 0h0m21 0h0m9.5 0h0m2.5 0h0m-34 0.5h0m16 0h0m0 0h0m1.5 0h0m11 0h0m0.5 0h0m-48 0.5h0m16 0h0m6 0h0m0 0h0m1.5 0h0m12 0h0m2.5 0h0m4 0h0m3.5 0h0m6 0h0m1 0h0m2.5 0h0m0.5 0h0m2 0h0m0.5 0h0m-58 0.5h0m15.5 0h0m2.5 0h0m6 0h0m1.5 0h0m4 0h0m1.5 0h0m2 0h0m2 0h0m20 0h0m4 0h0m2.5 0h0m-53.5 0.5h0m11 0h0m20 0h0m1 0h0m3.5 0h0m2 0h0m3 0h0m3.5 0h0m1.5 0h0m-52.5 0.5h0m1 0h0m3 0h0m3.5 0h0m3 0h0m2.5 0h0m6 0h0m6 0h0m4 0h0m10 0h0m1 0h0m7.5 0h0m-46 0.5h0m0.5 0h0m14.5 0h0m1.5 0h0m4 0h0m4 0h0m0.5 0h0m3 0h0m7.5 0h0m3.5 0h0m-38.5 0.5h0m0.5 0h0m5 0h0m2.5 0h0m3 0h0m7 0h0m0.5 0h0m5.5 0h0m10 0h0m3 0h0m2 0h0m-30 0.5h0m6.5 0h0m2.5 0h0m17.5 0h0m1 0h0m10.5 0h0m3.5 0h0m3 0h0m4 0h0m1.5 0h0m-62.5 0.5h0m3 0h0m1 0h0m2.5 0h0m5.5 0h0m8 0h0m1 0h0m9.5 0h0m8 0h0m3 0h0m-39 0.5h0m11 0h0m1 0h0m9.5 0h0m2 0h0m20 0h0m11 0h0m3 0h0m-31 0.5h0m0.5 0h0m1.5 0h0m3 0h0m1 0h0m1.5 0h0m9 0h0m5 0h0m9.5 0h0m-48 0.5h0m2 0h0m9 0h0m7 0h0m6.5 0h0m4 0h0m1.5 0h0m4 0h0m1.5 0h0m4 0h0m2 0h0m8 0h0m-61.5 0.5h0m6.5 0h0m0.5 0h0m6.5 0h0m3 0h0m6 0h0m3.5 0h0m8.5 0h0m2.5 0h0m11 0h0m5.5 0h0m6.5 0h0m-58.5 0.5h0m9 0h0m12 0h0m3.5 0h0m0.5 0h0m-23.5 0.5h0m5 0h0m9 0h0m6 0h0m1.5 0h0m8.5 0h0m11 0h0m1 0h0m2.5 0h0m14.5 0h0m0.5 0h0m-63 0.5h0m0.5 0h0m0.5 0h0m9 0h0m6 0h0m7 0h0m14.5 0h0m4.5 0h0m0.5 0h0m6.5 0h0m0 0h0m0 0h0m13 0h0m1 0h0m-41 0.5h0m7.5 0h0m2 0h0m3 0h0m1 0h0m0.5 0h0m6.5 0h0m4 0h0m0.5 0h0m12 0h0m-58.5 0.5h0m0 0h0m8.5 0h0m0.5 0h0m16 0h0m1.5 0h0m1 0h0m6 0h0m17 0h0m2 0h0m2 0h0m2.5 0h0m0.5 0h0m6 0h0m-59.5 0.5h0m8 0h0m0.5 0h0m1.5 0h0m1.5 0h0m0.5 0h0m9 0h0m1 0h0m6 0h0m28.5 0h0m2 0h0m-60 0.5h0m11 0h0m2 0h0m3.5 0h0m23 0h0m6.5 0h0m10 0h0m1.5 0h0m-61 0.5h0m1 0h0m9 0h0m5.5 0h0m1.5 0h0m9.5 0h0m9.5 0h0m14 0h0m7 0h0m-54.5 0.5h0m3.5 0h0m2 0h0m11 0h0m4.5 0h0m0 0h0m11.5 0h0m0.5 0h0m18.5 0h0" stroke="#141414" stroke-width="1.6" stroke-linecap="square" fill="none"/>
</g>
<text transform="translate(504.7,1023.5) scale(1,1.16)" class="tk" text-anchor="end">0.0000</text>
<text transform="translate(504.7,987.8) scale(1,1.16)" class="tk" text-anchor="end">0.0025</text>
<text transform="translate(504.7,952.2) scale(1,1.16)" class="tk" text-anchor="end">0.0050</text>
<text transform="translate(504.7,916.5) scale(1,1.16)" class="tk" text-anchor="end">0.0075</text>
<text transform="translate(557.3,1039.2) scale(1,1.04)" class="tk" text-anchor="middle">ECM</text>
<text transform="translate(636.7,1039.2) scale(1,1.04)" class="tk" text-anchor="middle">ML</text>
<text transform="translate(452.6,879.0) rotate(-90)" class="yt" text-anchor="end">Accuracy</text>
</svg>
</body></html>
